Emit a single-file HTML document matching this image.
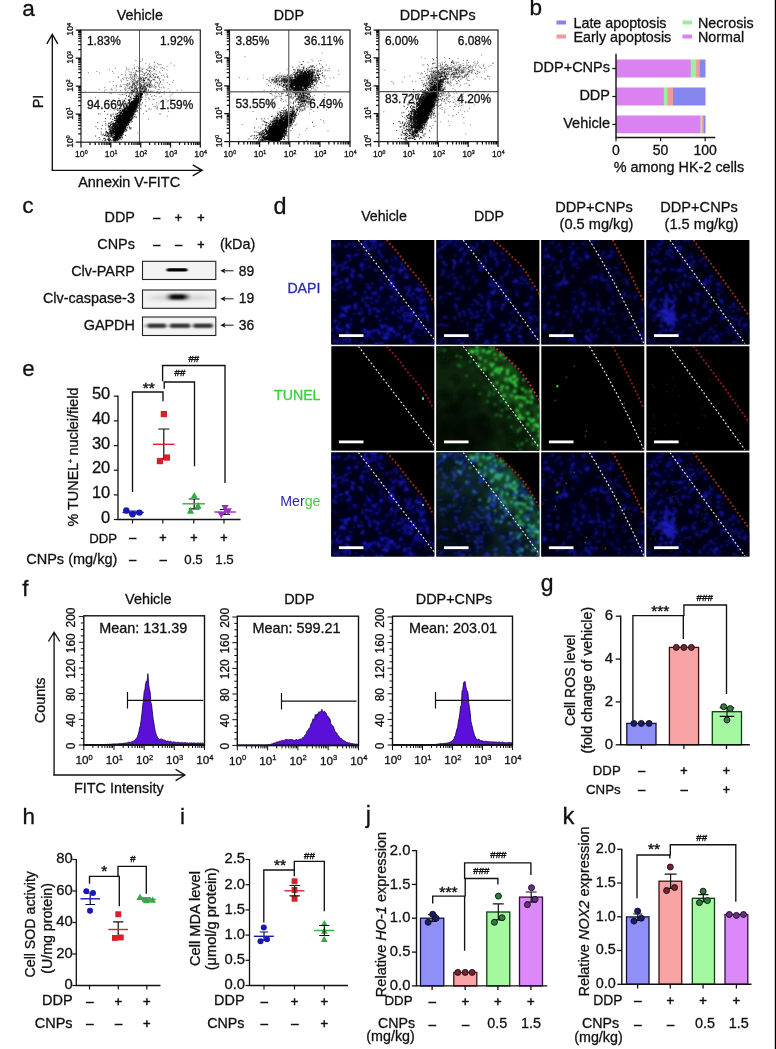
<!DOCTYPE html>
<html><head><meta charset="utf-8"><title>Figure</title>
<style>
html,body{margin:0;padding:0;background:#fff;}
body{width:776px;height:1049px;overflow:hidden;}
svg{display:block;font-family:"Liberation Sans",sans-serif;}
</style></head><body>
<svg width="776" height="1049" viewBox="0 0 776 1049">
<rect x="0" y="0" width="776" height="1049" fill="#fff"/>
<text x="22.2" y="15.8" font-size="22.6" text-anchor="start" fill="#111" stroke="#111" stroke-width="0.3">a</text>
<path d="M52.3 170.3V34.3M46.8 43.8L52.3 34.3L57.8 43.8" fill="none" stroke="#111" stroke-width="1.35"/>
<path d="M51.6 170.3H201.8M192.7 164.8L202.2 170.3L192.7 175.8" fill="none" stroke="#111" stroke-width="1.35"/>
<text x="43.2" y="101.5" font-size="14.3" text-anchor="middle" fill="#111" stroke="#111" stroke-width="0.3" transform="rotate(-90 43.2 101.5)">PI</text>
<text x="78.2" y="186.7" font-size="14.45" text-anchor="start" fill="#111" stroke="#111" stroke-width="0.3">Annexin V-FITC</text>
<text x="87" y="45" font-size="11.9" text-anchor="start" fill="#111" stroke="#111" stroke-width="0.3">1.83%</text>
<text x="193.8" y="45" font-size="11.9" text-anchor="end" fill="#111" stroke="#111" stroke-width="0.3">1.92%</text>
<text x="87" y="109" font-size="11.9" text-anchor="start" fill="#111" stroke="#111" stroke-width="0.3">94.66%</text>
<text x="193.3" y="109" font-size="11.9" text-anchor="end" fill="#111" stroke="#111" stroke-width="0.3">1.59%</text>
<path d="M154.4 65.2h1M143.3 85.3h1M127.2 83.4h1M131 93.8h1M143.2 78.4h1M149.6 84.8h1M141.2 80.5h1M121 81.2h1M140.4 61.6h1M143.8 80.4h1M156.1 74.4h1M153.1 79.6h1M141.8 71.8h1M149.5 76.7h1M126.5 80.4h1M140.6 74.5h1M141.6 71.4h1M140 78.7h1M151.5 85.6h1M136.9 85h1M166.1 74h1M148 73.3h1M140.5 92.2h1M153.9 79.7h1M152.5 87h1M133.1 72.4h1M161.5 84.6h1M124.3 84.8h1M149.8 76.4h1M146.7 86.1h1M146.2 69.9h1M138.3 91.9h1M130 77h1M119.4 86.5h1M128.8 84.3h1M137.9 80.7h1M159 71.9h1M158 76.5h1M134.2 78.9h1M105.5 89.8h1M145.4 88.4h1M147.9 82.5h1M110.5 89.8h1M129.7 87.1h1M136.7 71.4h1M142.4 79.9h1M149.4 91.8h1M158.7 83.6h1M148.7 86.7h1M129.5 86.2h1M163.5 68.6h1M134 84.1h1M126.6 84.1h1M132.4 76.7h1M124.6 87h1M131.8 88h1M149.7 76.7h1M146 69.4h1M158.1 86.1h1M151.2 91h1M136.5 66.3h1M139.3 83.3h1M143.1 79.3h1M142.8 85.4h1M152.9 69.9h1M137.7 78.4h1M147.3 70.3h1M144.6 73.6h1M139.8 88.6h1M132.8 74.3h1M153 75.7h1M133.3 79.7h1M159.3 64.6h1M132.5 82.6h1M125 93.1h1M143.3 79.2h1M150.7 67.6h1M148.9 67.6h1M136.3 90h1M142.1 58.9h1M147.7 87.1h1M141.3 68.9h1M126.5 77.7h1M130.9 72.8h1M150.3 75.2h1M166.9 76.2h1M128.8 68.9h1M125.7 67h1M142.5 87.6h1M140.7 79.1h1M143.9 80.7h1M159.1 93.2h1M134.5 83.8h1M167.7 88.3h1M139 89.4h1M131.4 77.6h1M143.4 68.2h1M132.9 80.1h1M154 69.5h1M134.6 73h1M125.9 70h1M143.2 80.3h1M142.8 72.9h1M163.1 75.2h1M135.2 77h1M133.3 95.2h1M152.2 79.9h1M157.1 83.6h1M104.1 87.7h1M139.8 67.9h1M147 76h1M149.1 80.7h1M144.6 89.5h1M149.1 84.1h1M134 76.4h1M154.5 84.2h1M167.3 77.5h1M149.6 70.3h1M143.5 78h1M161.8 67.5h1M150.1 91.7h1M129.4 74.1h1M145.3 86.3h1M133.5 84.4h1M148.9 74.9h1M155.1 82.6h1M154.4 80.3h1M133.9 68.5h1M142.2 80.8h1M139.1 83.5h1M157.9 64.8h1M149.6 76.3h1M154.2 77.1h1M145.9 75.6h1M138.9 67.8h1M160.5 64.5h1M113.4 73.1h1M150.7 80.9h1M138.5 71.8h1M154.1 69.9h1M142.7 79.3h1M151.6 77.9h1M130.9 87.5h1M138.6 78.1h1M172.1 82.3h1M147.2 79.1h1M142.2 69.2h1M156.9 77h1M136.6 91.7h1M137.7 71.2h1M136.3 75.8h1M149.1 74.7h1M154.8 77.2h1M132.9 91.3h1M153.3 79.5h1M135.5 75h1M127.7 69.8h1M150.4 81.6h1M130.9 74.3h1M127.4 88.6h1M140.7 78.5h1M140.4 77.1h1M136.7 82.1h1M155.6 71.1h1M132 69.1h1M115.8 86.1h1M147.5 70.7h1M143.1 82.4h1M148.7 79.4h1M152.5 99.1h1M147.3 84.4h1M151.4 71.4h1M150.9 80.5h1M147.1 81h1M144 80.3h1M126.2 68.6h1M154.1 92.5h1M154.9 87.1h1M139.2 85h1M133.8 80.1h1M139.7 91.6h1M140.2 77.4h1M164 77h1M126.8 86.8h1M150.9 84.2h1M130.9 78.4h1M140.4 78.4h1M134.7 88.1h1M137.2 82.2h1M136 78h1M146.8 74.2h1M148.7 84.8h1M125.4 78h1M140.9 79.1h1M126.8 85.4h1M134.7 88.4h1M136 92.9h1M139.8 71.3h1M131.9 81.7h1M126 78.8h1M166.8 82.7h1M135.4 70.5h1M145.4 77.9h1M115.6 88h1M149.7 66.5h1M150.2 82h1M135.9 95.5h1M125.3 75.5h1M142.2 90.1h1M160.8 87.7h1M157.5 78.1h1M143.9 73.9h1M141.8 69.9h1M141.8 82.3h1M135.5 92.7h1M130.4 75.2h1M148.7 67.1h1M173.9 65.7h1M149.8 87.8h1M133.7 64.9h1M147.9 79.2h1M148.6 92.7h1M133.1 92.3h1M112.7 81.6h1M153.5 78h1M147.3 86.1h1M145.2 72.9h1M157.2 63.5h1M147.4 79.3h1M131.8 87.2h1M147.6 73.8h1M138 67.9h1M149.1 77.7h1M138.4 80.1h1M131 90.3h1M146.5 83.1h1M135.2 72.1h1M136 71.1h1M137.9 69h1M150.2 91.2h1M157 77.3h1M116.1 85.8h1M145.5 88.8h1M132.3 78.1h1M156.5 67h1M154.2 67.8h1M111.2 93.6h1M148.6 98.8h1M148.9 71h1M132 85.4h1M129.2 83.3h1M140.5 80.2h1M127.4 80.6h1M134.9 74.3h1M147.8 89.7h1M122.7 84.3h1M134 78.2h1M151.1 77.1h1M122.2 94.3h1M150.2 85.7h1M155.1 76.9h1M149.2 84.7h1M145.5 101.8h1M137.3 76.5h1M131.4 89.1h1M140.2 79.7h1M129.5 77.8h1M118.2 77.5h1M125 90.7h1M159.7 82.7h1M120.1 85h1M131.6 91.2h1M133.6 87.7h1M130.8 90.7h1M162.5 79.4h1M155.9 86.9h1M150.3 87.2h1M134 76.9h1M138.2 96h1M134.4 83h1M150.1 85.3h1M137.1 80.6h1M120.5 86.3h1M129.8 79.6h1M139.9 81.6h1M110.9 88.9h1M138.2 88.1h1M137 90.9h1M141.9 74.6h1M149.5 81.8h1M160.4 68.2h1M129.4 84.2h1M120.8 86.3h1M147.5 68.4h1M139.2 94.4h1M136.2 70.7h1M140.3 70.3h1M148.4 65.9h1M149.8 82.8h1M141.7 60.1h1M138.1 95.2h1M166.6 70h1M134.3 86.5h1M120.3 80.1h1M144 84.1h1M136.5 84.5h1M154.8 77.7h1M160 81.4h1M134.3 85.6h1M134.4 82.5h1M151.5 67.8h1M125.1 74.3h1M139.1 68.2h1M140.5 86.6h1M149.7 72.8h1M135.2 81.4h1M142 77.3h1M121.8 94.5h1M141.2 77.9h1M137.8 94.5h1M158.5 77.7h1M124.8 72h1M153.2 68.7h1M150.4 73.1h1M128.7 83.1h1M144.2 74.2h1M148.9 85.7h1M134 84.4h1M140.2 87h1M120.5 94.9h1M144.9 79h1M151.9 91.7h1M134 74.9h1M118.5 94.4h1M117.7 76.8h1M142.5 84.1h1M143.1 80.1h1M150.1 68.5h1M151.8 74.4h1M149 71.5h1M159.2 89.4h1M145.2 78.3h1M143.5 81.3h1M139.1 76.7h1M143.3 78.4h1M130 92.7h1M135.1 95.4h1M136.2 87.9h1M122.2 100.1h1M136.2 85.8h1M166.6 66.4h1M132.2 86.2h1M129.8 89.1h1M136.7 81.5h1M131.6 76.1h1M145.3 63.7h1M123.2 79.5h1M139.4 92.9h1M140.4 92.9h1M135.3 60.3h1M153.9 62.4h1M159 87.2h1M145.9 77.6h1M148.5 86.1h1M112 71.4h1M155.4 73.8h1M134.5 80.3h1M123.6 77.2h1M143.4 80.5h1M135.7 81.9h1M143.4 82.5h1M152.7 75.2h1M141.5 86.6h1M153.8 66.5h1M153.2 91h1M134.7 74h1M139 70.6h1M133.9 75.7h1M152.3 96h1M136.4 83.1h1M134.9 88.6h1M161.2 75.5h1M153.5 87h1M115.8 90.4h1M147.5 83.9h1M146.1 72.4h1M135.5 81.9h1M129.6 74.7h1M162.2 70.5h1M136 86.8h1M135.8 74.5h1M128.6 71.8h1M125.7 84.2h1M154.1 62.6h1M134.3 75.6h1M170.5 63h1M112.9 85.3h1M173.1 80.4h1M156.5 92.1h1M162.6 80.8h1M149.4 70.7h1M108.8 99.7h1M148.1 89.9h1M142.6 86.9h1M158.9 79.2h1M128.3 78.4h1M156.7 77h1M143.6 75.5h1M137.1 90.3h1M148.4 80.8h1M122.2 78.4h1M146.2 77.5h1M132 84.1h1M147.7 74.4h1M132.4 89.3h1M144.9 77.5h1M153.9 85.5h1M149.1 64.1h1M152.7 75.9h1M154.9 86.3h1M130.6 82.2h1M130.8 96.9h1M142.6 87.8h1M136.3 93.6h1M147 85.1h1M139.2 95.1h1M141 85.7h1M136.4 81h1M140.2 91.7h1M131.6 90.8h1M146.3 88.2h1M136 89.2h1M142.2 89.1h1M137.1 84.3h1M137 88.5h1M139.1 84.1h1M145.7 88h1M143.9 85.1h1M132.2 93.3h1M131 92.4h1M146.9 92.7h1M129.3 88.9h1M133.9 86.2h1M130.2 92.2h1M125.2 98.8h1M138.4 81.6h1M145.6 83.3h1M133.2 92h1M124.3 89.1h1M144.9 87.6h1M149.2 87.2h1M141.5 89.1h1M127.2 91.8h1M128.6 87.3h1M132.1 90.3h1M134.2 89h1M132.1 87.1h1M140 85.9h1M132.4 81.6h1M134.3 91.6h1M141 85.7h1M128.8 93.4h1M137 92.6h1M140.3 91.4h1M138 92.7h1M145.7 84.3h1M138.7 85.7h1M141 86.4h1M140.7 85.3h1M123.7 94.3h1M128.4 88.6h1M138.9 88.6h1M128.2 103h1M131.6 92.8h1M125.9 85.3h1M139.6 86.9h1M132.6 92.1h1M136.7 90.2h1M135 85.4h1M127.4 92.5h1M145.5 89.4h1M136.8 89.9h1M129.2 88.1h1M133 85h1M139.7 87.7h1M139.2 88.4h1M125.6 88h1M136.6 82.9h1M125.5 89.8h1M141.4 85.7h1M125.8 94h1M133.9 90.7h1M139.1 91h1M136.3 88.4h1M144.8 84h1M151.6 85h1M133.8 84.1h1M127.6 90.6h1M140.3 88.9h1M132.7 83.4h1M134.1 88.4h1M136.8 82.5h1M129.2 99.3h1M130.6 93h1M138.5 83.3h1M132.5 83.6h1M135.2 85.8h1M131.4 87.4h1M130.9 86.1h1M137.7 78.9h1M137.1 93.3h1M140.7 84.4h1M136.9 94.2h1M145.1 92.4h1M132.4 85.7h1M134.8 87.2h1M138.4 84.5h1M141.2 82.6h1M137.5 93.4h1M136.8 91.1h1M136.6 82.5h1M142.5 88.1h1M138 87.4h1M132 84.9h1M139.5 84.9h1M135.9 100.8h1M130.9 86.3h1M135.9 88.7h1M134.7 87.1h1M133.5 82.1h1M136.9 89.3h1M142.9 81.1h1M139.6 84.1h1M136.2 87h1M139.6 86h1M124.5 88.9h1M135.6 91.4h1M136.7 91.5h1M132.6 90.9h1M142.2 86.4h1M142.2 91.3h1M143.2 89.7h1M142.1 88.5h1M136.4 94.2h1M130.8 92.6h1M132.4 91.7h1M144.6 87.5h1M135.6 89.3h1M133.8 90h1M136.1 83.7h1M133.7 90.9h1M133.7 84.3h1M131.5 90.4h1M139.8 83.7h1M135.4 93.7h1M128.4 95.4h1M138.7 94h1M141.1 84.9h1M136.8 90.6h1M140 87.6h1M140.6 88.1h1M145.7 90.5h1M127.8 85h1M139.1 79.2h1M131.4 87.9h1M140.4 81.8h1M133.1 83.5h1M141.7 91.2h1M149.5 80.2h1M144.9 86.6h1M139.7 92h1M162.7 101.2h1M156.8 107h1M126.2 92.7h1M137.4 93.5h1M164.1 91.9h1M169.4 91h1M155.5 96.4h1M156.5 93.3h1M141 99.3h1M143.6 75.4h1M167.6 100.7h1M161.5 109.6h1M150.1 82.6h1M151.2 86.7h1M147 94.2h1M159.5 113.5h1M139.9 83.7h1M140.5 89.2h1M172.4 93.8h1M163.4 92h1M144.2 93.6h1M158.5 103.9h1M148.6 108.5h1M148.1 98h1M143 113.7h1M158.2 85.6h1M141.1 98.3h1M147.8 119.2h1M176.6 90.3h1M133.6 89.9h1M158.6 84.4h1M159.9 91.3h1M169.4 96.2h1M156.3 105.1h1M138.2 97.7h1M156.9 109h1M155 88.3h1M137.6 102.3h1M173.4 100.1h1M157.7 89.6h1M153.9 95.5h1M158.3 93.6h1M155.8 108.3h1M156 102.7h1M166.6 76.4h1M168.1 111.6h1M163.6 94h1M140.8 108.8h1M165.4 99.9h1M151 96.7h1M166.9 116.1h1M167.7 100.8h1M146.3 93h1M159.5 114.5h1M159.3 97h1M140.7 104h1M132 94.2h1M170.3 98.9h1M148.5 109.5h1M145.1 106.5h1M149.9 83.3h1M163.1 87.1h1M139.4 92.4h1M144.7 105.5h1M160.8 96.3h1M181.1 90.3h1M147.3 91.8h1M137.4 94.1h1M170.6 94.8h1M144.4 89.2h1M138.3 96.4h1M145.4 95.7h1M141.9 93.9h1M156.2 82h1M147.1 94.3h1M132.3 106.9h1M157 107.2h1M152 104.3h1M156.8 91.3h1M145.5 92.8h1M145.3 97.3h1M157.4 91.5h1M156.7 82.4h1M144.6 99.6h1M129.2 93.9h1M139.6 104h1M145.4 94.8h1M149.1 99.8h1M153.4 99.5h1M124.5 117.7h1M112.9 121.9h1M143.8 83.8h1M139.6 94h1M111.7 90h1M98.9 73.1h1M130.4 72h1M109.3 81.8h1M160 82.2h1M131.3 80.6h1M115 68.2h1M99.6 113.7h1M125.5 113.8h1M163.6 87.9h1M108.9 69.8h1M154.8 106.8h1M159.4 78.7h1M113.9 110.1h1M131.9 79.3h1M159.6 72.9h1M114.4 132.1h1M87.9 72.8h1M148.3 78.7h1M124.9 98.5h1M135.7 91.7h1M126.8 117.5h1M94.9 97.2h1M121.5 74.5h1M101.5 135.8h1M161.9 106.2h1M109.6 93.2h1M158.9 80.4h1M144.3 83.2h1M118.6 98.4h1M134.1 67.3h1M133.2 104.4h1M122.2 104.8h1M104 90.9h1M153.5 106.5h1M134.7 80h1M110.6 101.6h1M96.3 71.5h1M162.8 103.6h1M169 84.6h1M84.7 91.2h1M130.5 90.9h1M140 108.2h1M150 94.3h1M166.7 102h1M137.2 133.1h1M111.6 114.3h1M145.6 111.3h1M150.6 109.1h1M146.1 111h1M98.7 89.4h1M119.9 90.7h1" fill="none" stroke="#000" stroke-width="0.9" stroke-opacity="0.55"/>
<path d="M110 133.6h1M126.5 124.9h1M123.2 111.9h1M123.9 113.3h1M132.9 109.3h1M139.6 96.6h1M123.5 125.2h1M114.5 132.1h1M116.5 128.2h1M111 128.9h1M118.7 131.2h1M125.2 118.5h1M129.5 114.8h1M131.5 115.9h1M127.7 116.4h1M124 125.4h1M128.5 100.1h1M127.9 108.7h1M127.7 115.4h1M111.6 128.9h1M128.2 124.6h1M115.4 131h1M122.4 121.5h1M135.3 108.8h1M125.6 119.9h1M125.9 124.2h1M126 120.3h1M125.9 122.3h1M122.2 118h1M134.5 96.8h1M125.3 116.5h1M123.4 131.2h1M126.3 114.7h1M120 128.8h1M124.5 118.6h1M123.8 127.8h1M126.1 116.4h1M113.9 130.3h1M128.2 110.1h1M129.3 112h1M128.4 115.2h1M121.5 123h1M125.9 120.4h1M141.8 94.1h1M121.4 135.8h1M122.3 118.9h1M125.9 117.6h1M126.8 116.3h1M127.2 120.6h1M136.6 101.2h1M136.8 103h1M133.5 106.7h1M127.9 117.6h1M119 129.2h1M119.7 132.1h1M127.6 117.4h1M120.5 120.9h1M130.6 108.2h1M123.9 121.3h1M128.4 114.2h1M114.4 127.5h1M131.2 107.9h1M120.8 119.7h1M132 109.6h1M115.8 121h1M136.1 99.4h1M115.6 130h1M117.7 130.9h1M117.5 122.3h1M127.5 110.4h1M113.7 139h1M117.9 122.4h1M111.3 134.7h1M119.6 124.3h1M124.3 125.8h1M132.6 108.1h1M127.8 112.3h1M116.8 135h1M132.9 103.6h1M118.2 124.7h1M117.7 133.6h1M120.9 132.2h1M136.3 101.6h1M122.3 117.8h1M131.3 109.6h1M111.6 132.3h1M127 113.2h1M128.5 114.6h1M134.5 103.8h1M133.7 108.8h1M133.2 104.6h1M131.1 118.6h1M122 119.8h1M122.5 115.5h1M118 127h1M125.1 123.1h1M117.3 130.1h1M126.1 115.7h1M133.3 113.2h1M114.8 128.3h1M120 123.2h1M122.4 125.2h1M139.3 102.3h1M118.3 115.8h1M135.6 102.6h1M124.5 124.6h1M123.8 119.8h1M121.3 129.3h1M128.7 108.8h1M123.9 126.4h1M119 125.6h1M119.3 126.5h1M131 110h1M132.6 109h1M111.8 140.2h1M120 116h1M130.3 110.7h1M122.9 124.9h1M132.5 109.5h1M121.6 124.4h1M139.6 92.1h1M125.8 118.3h1M135.8 103.7h1M125.8 116.1h1M133.5 106h1M124.9 120.2h1M129.8 111.8h1M128.2 117.1h1M119.6 126.1h1M126.8 119h1M127.6 112.3h1M117 129h1M123.6 125.3h1M129.5 112.4h1M113.2 127.2h1M127 118.3h1M127 114.6h1M123.8 109.7h1M134.7 108.1h1M126.8 117.4h1M125.4 122.2h1M117.1 127.3h1M123.9 112.3h1M129.2 114.3h1M123.6 118.2h1M135.8 100h1M127.6 118.2h1M126.9 120.3h1M125.7 119.2h1M126.3 119.8h1M122.7 126.9h1M129.6 106.6h1M109.9 131.3h1M121.3 128.2h1M128.8 120.3h1M132.6 100.5h1M121.7 122.5h1M136.7 102.7h1M129.4 108h1M136.8 96.5h1M122.5 116.9h1M119.8 128.7h1M120.7 129.3h1M128.7 113.6h1M131.1 113.3h1M129.8 105.9h1M130.8 112.9h1M121.5 122.1h1M134 106.8h1M128.4 119.1h1M133.7 110.7h1M124.5 124.2h1M109.3 138h1M134.4 100.3h1M123.1 119.9h1M130.1 115.1h1M135.5 102h1M128.8 116.3h1M132.3 106.4h1M131.1 102.8h1M123.1 113.6h1M119.5 122.2h1M138.7 101.5h1M130.6 111h1M104.9 134.8h1M127.6 117.8h1M126.7 112.4h1M121.2 127.8h1M140.9 95.5h1M124.6 119.2h1M128.6 114.7h1M119.2 136.1h1M129.1 114.7h1M124.3 125h1M130.2 107.3h1M130.3 107.2h1M115 139.6h1M116.6 128.1h1M118.8 128.6h1M123.1 122.9h1M130.8 115.6h1M129 114.7h1M129.7 114.6h1M131.6 109.8h1M113.9 128.9h1M126.2 115.4h1M120.8 122.2h1M122.6 127.9h1M127.2 108.8h1M126.4 117h1M124.1 125.1h1M127.5 115.7h1M121.5 129.2h1M127.3 116.7h1M123.6 128.1h1M108.9 133h1M116.5 128.6h1M123.4 122.7h1M134.8 105.2h1M125.6 117.4h1M129 115.8h1M123.8 128.8h1M126.6 120h1M125.1 124.7h1M132.4 108.6h1M128.6 111.9h1M121.6 129.9h1M115.3 130.3h1M113.9 128.9h1M124 124.3h1M120.3 130.1h1M109.4 136.2h1M120.8 128.9h1M129 102h1M128.4 119.9h1M128.1 120.5h1M133.2 107.1h1M113.3 132.1h1M133.7 101.7h1M116.4 129.3h1M133.7 105.8h1M112.6 133.4h1M131.3 112.9h1M135.9 103.3h1M125.7 112.4h1M116.8 122h1M125 120.9h1M122.7 116.7h1M130.4 113.9h1M128.6 103h1M130.3 114.3h1M130.1 111.4h1M126.2 115.9h1M117.3 123.9h1M145.9 85.5h1M129.7 113.7h1M131 109.5h1M134.1 110.9h1M119 124.4h1M117.3 128.6h1M117.8 132.3h1M131.4 113.1h1M132.9 105h1M124.2 115.5h1M125.8 118.4h1M128.4 113.6h1M120.3 131.5h1M120 117.7h1M115.5 137.9h1M115.1 138.6h1M135.8 103.5h1M131.4 111h1M121.7 125.5h1M114.4 139.4h1M129.7 112.4h1M132 107.4h1M117.2 138.9h1M124.1 116.8h1M120.6 123.6h1M122.9 114.5h1M124.9 117.2h1M128.7 111.7h1M127.1 110.9h1M126.7 114.7h1M132.7 108.2h1M130.8 107.6h1M121.2 125.2h1M117.5 129.1h1M131.2 104.4h1M121.7 125h1M138.2 103.4h1M120 123.8h1M125.1 115.1h1M113.6 140.5h1M128.1 115.4h1M129.1 113.5h1M122.3 126.3h1M125.3 119.5h1M118.3 130.5h1M122.3 117.9h1M118.7 126h1M123.4 117.7h1M118.2 130.5h1M118 132h1M118.9 127.5h1M127.5 104.2h1M114.4 131.6h1M121.5 118.8h1M116.8 127.4h1M118.8 129.6h1M120.2 125.8h1M126.6 119.3h1M119.7 124.6h1M122.1 110.9h1M122.9 116.7h1M130.1 109.5h1M121.5 129.4h1M118.7 122.9h1M122.9 111h1M125.3 121.6h1M119 133.3h1M121.5 121h1M117.5 138.3h1M133.2 104.7h1M122.3 111.9h1M126.3 118.7h1M118 125.5h1M121.3 119.5h1M115.9 137.5h1M131.6 110.5h1M131.3 112.5h1M113.5 116.3h1M123.6 117.8h1M118.6 131.7h1M114.2 126.8h1M140.2 93.9h1M127.1 118h1M128.8 112.7h1M128.2 113.6h1M121.3 123.2h1M130.2 113.3h1M123.9 112h1M124.6 121.9h1M123.5 123.6h1M127.9 119h1M133 108.6h1M121.1 123.9h1M123.7 123.1h1M128.6 110.4h1M132.7 108.4h1M110 139.5h1M122.3 119.1h1M125.6 118h1M123.7 119.5h1M125.4 115.1h1M124.1 110.4h1M124.2 117.4h1M123.2 123.3h1M110.2 118.7h1M114.9 133.6h1M121.8 120.9h1M122.3 126.5h1M122.1 117h1M121.4 129.1h1M126.5 118.3h1M125.7 119.1h1M118.4 122.5h1M115.7 127.1h1M137.3 101.2h1M125.2 118.2h1M116.4 136.8h1M116.2 138.4h1M117.3 121.3h1M132.8 102.6h1M122.9 121.5h1M116.5 135h1M115.8 132.3h1M121.1 132.8h1M127.9 120.1h1M122.2 124.8h1M128.8 113.6h1M125.4 123.1h1M127.8 115.2h1M123.8 106.3h1M119.4 130.3h1M122 122.2h1M114.2 133.3h1M133.1 104.2h1M117.6 128.7h1M130.6 107.2h1M115.1 136.2h1M123.2 122.8h1M109.5 133.8h1M123.8 122.6h1M138 101.9h1M133.8 108h1M132.8 108.8h1M128.3 111.8h1M124.4 125.6h1M115.5 129.7h1M124.1 121.6h1M119.2 125h1M117.4 125.5h1M128.7 126.8h1M122.6 134.3h1M117.5 132.1h1M125.8 120.4h1M119.8 120h1M120.5 124h1M115.2 134.1h1M121.4 115.3h1M118.3 133.7h1M116.6 127.3h1M119.2 123.8h1M129 113.7h1M138.4 96.8h1M125.7 114h1M127.8 106.9h1M119 127.1h1M144.8 91.2h1M138.1 98.5h1M116.4 135.8h1M130.7 106.9h1M139.9 99.9h1M112.5 135.4h1M122.7 121.2h1M124.3 120.6h1M128 124.5h1M118.1 121.3h1M134.1 107.6h1M114.5 128.7h1M111.8 123.2h1M117.6 133.3h1M115.6 132.1h1M121.5 120.7h1M128.6 114.3h1M133.8 106.4h1M124.4 127.2h1M128 116.3h1M126.2 115.4h1M121.6 130.2h1M119.3 126h1M132.3 110.7h1M128.7 120.8h1M127.9 123.8h1M134.5 104.8h1M125.7 122.6h1M115.8 137.6h1M131.9 113.3h1M134.8 104.6h1M125.8 112.4h1M126.8 112h1M120.1 135.5h1M136.7 100.4h1M131 118.1h1M119.7 135.1h1M124.3 122.9h1M127.3 121.4h1M132.8 106.1h1M134.3 107.3h1M132.3 102.9h1M131 109.9h1M122.5 113.5h1M139.3 96.5h1M124.2 111.7h1M124.3 121.3h1M122.8 115.6h1M126.4 114.6h1M128.4 107.8h1M130.7 105.2h1M118.9 131.3h1M129.9 113h1M120.6 124.2h1M121.5 129.9h1M108.6 134.2h1M118.6 131.9h1M117.2 135.6h1M106.8 132.3h1M128 115.9h1M125.2 124.4h1M120.7 122.5h1M126.4 122.4h1M127.4 122.8h1M135.6 105.4h1M133 110.6h1M122 109.9h1M126.1 116.9h1M110.4 126.7h1M122.9 115.5h1M122.7 117.4h1M124.7 113.8h1M126.7 116.5h1M121.3 123.3h1M119.4 111.4h1M112.8 139.3h1M125.8 119h1M124.7 113.7h1M134.7 106h1M126.8 115h1M118.4 125.1h1M127.9 115.1h1M131 110.6h1M124.4 125h1M110.5 130.5h1M126.4 114.2h1M109.9 130.2h1M127.5 120.4h1M134.4 104h1M120.9 120h1M137.5 99.1h1M124.1 123.8h1M132.8 107h1M130.6 104.4h1M129.1 114.9h1M128.9 115.3h1M127.3 117.7h1M108.2 139h1M128.1 108.3h1M123.4 130.8h1M126.1 118.6h1M130.4 116.7h1M120.8 120.1h1M129.2 117.6h1M113 137.3h1M122.9 123.3h1M130 112.4h1M113.9 134.8h1M124.2 120.3h1M131.5 107.4h1M120.5 125.3h1M126.6 119.4h1M108.2 133.4h1M126.3 120.9h1M125.3 119.8h1M136.9 100.8h1M127 115.9h1M132.3 109.2h1M124.8 122.4h1M126.9 113.5h1M133 113h1M114 127.9h1M123.9 119.8h1M126.7 116.4h1M128.1 118.5h1M129.1 102.7h1M128.9 113.3h1M128.9 113.4h1M127 114.8h1M120.4 125.4h1M130.6 110.5h1M126.9 121.1h1M128.8 108.6h1M119.4 126.9h1M130 114.9h1M117.1 138.7h1M126 118.6h1M131.1 110.5h1M128.1 117.9h1M130.5 105.1h1M110.5 132.8h1M126.3 115.8h1M122.4 120.1h1M120.7 128.5h1M125.5 119.7h1M131 114.7h1M138.3 96.2h1M134 105.6h1M129.9 115.4h1M121 124.8h1M132.5 109.3h1M137.9 100.3h1M125.8 117.4h1M124.4 109.7h1M134.2 105.7h1M121.4 125.6h1M125.7 111.3h1M125.8 106.3h1M134.2 103.4h1M126.2 115.9h1M123.1 126.4h1M118.6 128.9h1M125.6 111.3h1M127 111h1M130.2 109.3h1M133.7 105.4h1M120.6 130.7h1M134.3 107.2h1M111.3 131.7h1M132 109.7h1M122.6 121.8h1M120.1 113.3h1M112.7 128.6h1M131.2 107.6h1M110.7 140.5h1M120.5 121.3h1M112 131.9h1M125.9 115.1h1M132.1 112.2h1M117.8 119.3h1M118.9 129.4h1M129.7 110.9h1M125.3 119.8h1M134.1 106.9h1M120.8 121.6h1M123.1 118.2h1M120.8 130.7h1M123.3 115h1M125 112.9h1M112.8 125.4h1M115.5 130.3h1M126.5 116.3h1M127.1 116.2h1M124.3 125.2h1M114 128.3h1M138.8 97.9h1M130.8 119.5h1M121.3 132.6h1M124.3 119.1h1M118.3 129.3h1M130 111.3h1M122.7 124.6h1M133.5 106h1M121 122.7h1M126 114h1M133.2 103.7h1M131.8 107.6h1M127 109.6h1M120.5 119.3h1M119.8 127.2h1M121.5 134h1M137.2 102.1h1M123.4 117.9h1M115.7 138.2h1M117.1 131.3h1M121.1 125.4h1M136 101.5h1M125.5 122.1h1M115.1 120.4h1M119.1 126.6h1M121.9 128.5h1M130.7 105.2h1M125.8 118.9h1M120.2 122.1h1M126.9 113.8h1M137 100.1h1M125.5 119.2h1M125.3 116h1M130.2 113.8h1M127.2 117.2h1M114.3 132.5h1M124.7 117.6h1M132.8 108h1M122.9 118.1h1M121.7 122.6h1M133.7 100.3h1M130.3 108.8h1M136.8 102.8h1M120.2 128.5h1M117.4 134.8h1M120.9 118.4h1M125.8 120.2h1M141.9 94h1M127.4 115h1M103.9 138.4h1M104.3 140.4h1M133.3 109.8h1M125.8 115.4h1M133.1 113.9h1M128.4 118.9h1M132.3 103.8h1M123.6 116.2h1M126.1 114.9h1M120.4 129.7h1M124 119.3h1M131.5 110.4h1M135.6 107.5h1M117.9 132.8h1M115.6 138.9h1M136.2 97.8h1M134 106.9h1M121.6 111.2h1M116.8 129.2h1M125.8 118.5h1M130.7 110.7h1M120.8 119h1M119.4 126.6h1M139.3 95.3h1M126.3 121h1M131.3 111.2h1M128.4 119.8h1M124 126.8h1M135.7 103h1M119.5 123.3h1M121.3 112.7h1M131.8 104.4h1M118.1 132.6h1M123.1 116.7h1M131.3 103.7h1M116 121.6h1M137.3 101.1h1M116.8 134.8h1M118.2 123.6h1M117.8 116.9h1M126.5 117h1M133.3 102.3h1M112.2 131.3h1M122.9 126.2h1M140.4 96h1M124.9 112.6h1M111 130.8h1M131.2 113.2h1M119.6 118.7h1M130 110.8h1M114.7 123.3h1M116.6 140.5h1M122.6 124.4h1M129.7 114.8h1M139.6 95.6h1M131.2 105.3h1M115.6 134h1M105.6 135.4h1M121.3 128h1M117.9 117.9h1M123.2 118.3h1M119.7 123.3h1M125.8 121h1M128.6 113.7h1M114 124.2h1M139.2 100h1M114.8 137.5h1M128 115h1M125.2 116.4h1M135 104.3h1M132.2 108.8h1M125.2 116.1h1M129.1 103.7h1M133.8 104.4h1M125.4 115.4h1M109.2 135.7h1M126.7 113.9h1M126 112.5h1M112.9 137.3h1M119.8 122h1M130.9 101.6h1M125.1 117.2h1M134 105.4h1M127.9 115.6h1M126 116.3h1M125.6 121.7h1M138.3 94.8h1M123.7 114.5h1M139.5 100h1M129 117.9h1M123.2 114.6h1M134.1 98.5h1M120.7 131.5h1M131.9 110.3h1M120.4 121.5h1M120 133h1M132.1 115.3h1M129 114.8h1M120 123.7h1M126.4 112.3h1M133.5 109h1M118.2 133h1M127.2 116.6h1M125.1 123.9h1M127.7 117.4h1M126 113.9h1M121.1 133.4h1M136.6 100.9h1M134.1 108.7h1M136.3 103.8h1M125.7 121h1M122.4 124.5h1M113.2 125h1M113.7 124.9h1M129.1 115.2h1M126.2 112.8h1M121.1 116.8h1M128.9 115.2h1M136.1 97.8h1M123.9 120.3h1M140.9 94.5h1M124.3 111.6h1M128.1 122.8h1M135.1 105.1h1M119.9 121h1M125.2 115.3h1M139.3 94.8h1M123.5 124.9h1M124.4 114.7h1M113.4 130.7h1M134.5 101.7h1M125.8 121.6h1M136.8 102.7h1M126.2 113.8h1M119.6 128.7h1M125.3 119.8h1M105.8 136.5h1M132.5 111.9h1M122.8 114.9h1M127 111.2h1M122.6 121.3h1M131.8 111.9h1M126.8 110.9h1M131.2 107.1h1M117.5 135.8h1M135.9 98h1M120.8 121.7h1M124.4 125.2h1M130.9 110.5h1M124.3 115.8h1M119.6 122.9h1M130.2 113.3h1M124.2 123.5h1M123.9 130.3h1M116.3 128.7h1M126.1 120.7h1M124.6 114.6h1M130.3 113.6h1M110 125.5h1M126.4 111.2h1M134.3 109.8h1M134.1 105.8h1M130.5 109.7h1M119.2 127.6h1M122.9 123.6h1M113.6 128.5h1M126.1 118.1h1M127.1 119.4h1M117.1 135.1h1M123.4 121.6h1M132.5 107.8h1M133.3 111h1M119.4 116h1M120.3 123.4h1M124.3 115.3h1M126.6 117.7h1M116.7 122.3h1M121.5 128.1h1M143.5 84.8h1M123 127.4h1M120.9 126.1h1M122.3 123.5h1M124.4 114.2h1M113.4 126h1M130.6 119.1h1M132.6 106.8h1M134.5 106h1M121.2 120.9h1M123.8 116h1M125.8 119.7h1M112.7 129.1h1M120.7 120.4h1M125.1 120.4h1M128.6 116h1M126.2 118.5h1M124.6 120.3h1M124.7 119.8h1M123.6 122.8h1M132.4 111.6h1M136.4 103.1h1M116.7 122.5h1M113.6 134.7h1M128.1 118h1M125.9 118.1h1M118.8 132.5h1M136.8 98.9h1M139.8 97.3h1M121.1 128.4h1M127.4 116.9h1M118.1 132.1h1M128.2 107.9h1M130.3 115.1h1M125.4 114.4h1M125.2 122h1M128.6 113h1M118.6 124.2h1M120.3 118.6h1M130.8 116.8h1M123.7 121.1h1M127 118.4h1M124.5 122.3h1M115.8 125.3h1M122.3 125.8h1M118.5 124.1h1M121 113h1M114.5 118.8h1M124.7 127.7h1M116.9 137.8h1M119.3 124.2h1M126.3 125.1h1M121.6 125.1h1M121.1 123.5h1M130.4 111.7h1M123.9 116.6h1M125.8 116.6h1M125 119.6h1M117.4 121.8h1M122.8 111.7h1M129.6 108.9h1M121.2 129.9h1M121 125.9h1M120 129.1h1M126.6 115.2h1M118.8 118.3h1M131 106.4h1M122.7 119.5h1M126.1 116.2h1M121.7 122.4h1M129 118.4h1M119.9 132.2h1M126.5 118.6h1M122.6 127.3h1M125.3 108.3h1M117.6 139.5h1M120.5 124.6h1M115.1 134.8h1M124 117.6h1M133.1 105.5h1M130.7 110.4h1M125.5 116.7h1M124.1 126.6h1M134 108.3h1M119.3 125.1h1M125.1 116.8h1M131.5 114.2h1M120.1 124h1M117.9 136.6h1M126.9 117.5h1M120.8 126.1h1M121 120.8h1M130.5 114.8h1M132.6 105.7h1M144.4 86.8h1M121.3 116.4h1M123.9 122.3h1M120.8 125.3h1M117.2 128.2h1M115.3 130.8h1M107.4 139h1M121.6 123.6h1M130.9 104.6h1M122 127.6h1M117.7 127.8h1M100.9 128.8h1M139.9 97.2h1M138.2 98h1M116.5 134.6h1M119.4 129.2h1M128.5 115.6h1M120.1 127.6h1M129.6 116.5h1M126 125.2h1M129.8 112.9h1M121.8 125.9h1M126.6 111h1M129.7 112.7h1M120.8 120.2h1M125 121.9h1M136.5 101.4h1M124.2 123.3h1M132.4 109.8h1M116.4 116h1M126.1 117.1h1M117.7 131.1h1M117.4 128.8h1M131.9 105.5h1M124.3 120.3h1M105.3 133h1M120.9 121.9h1M125.5 117.1h1M126 115h1M126 114.5h1M129.2 114.7h1M114.9 135h1M122.6 123h1M136 99.3h1M124.4 121.2h1M128.6 112.6h1M134.6 111.8h1M122.4 129.2h1M134.8 100.3h1M124.7 111.9h1M125 115h1M128 112.4h1M134.8 107.1h1M136.2 101.2h1M122.2 121.6h1M120.8 125.2h1M117.7 128.8h1M131.8 111.5h1M123.7 112h1M137.1 104.6h1M129.9 109.4h1M129.3 112.1h1M117.5 136.9h1M131.6 110.4h1M129.8 111.8h1M120.6 133.3h1M122.1 121.7h1M124.1 111.1h1M124.8 121.9h1M116.2 116.6h1M127.8 118.1h1M121.6 135.7h1M126.5 117.1h1M129.8 115.1h1M126.8 116.1h1M124.3 113.2h1M135.6 96.4h1M121.9 119.1h1M125.9 117.5h1M131.9 108.1h1M127.2 124h1M118.7 129.4h1M124.7 123.8h1M127.3 120.1h1M121.1 126.9h1M129.1 113h1M122.9 113h1M127.9 113.3h1M135.9 98.3h1M120 137.2h1M137.6 98.6h1M109.6 137h1M127.9 116.3h1M133.3 109.6h1M129 112h1M136.1 105.9h1M126.7 114.4h1M130.7 110.9h1M125.3 119.3h1M134.8 108h1M132.5 108.7h1M118 119.3h1M124.8 121.6h1M120.5 128.4h1M120.5 127.6h1M130.1 111.5h1M127.3 110.2h1M124.6 117.4h1M125.7 118.2h1M124.2 115.9h1M116.5 119.8h1M115.7 116.5h1M130.4 117.4h1M120.7 123h1M126.5 118.5h1M128.8 110.5h1M124 122.5h1M124.7 112.5h1M131.1 115.4h1M112.1 136.1h1M120 120h1M120.2 135h1M127.2 117.4h1M128.8 107.1h1M132 105.3h1M132.2 107.8h1M134.9 105.1h1M126.8 120.2h1M122.5 126.1h1M115.8 132.8h1M138.7 99.5h1M121.7 130.6h1M124.1 122.5h1M124.1 123.3h1M124.6 125.8h1M121.5 120.8h1M118.3 120.3h1M131.4 112.8h1M134.9 104.9h1M126.7 121.8h1M133.6 103h1M115.4 130.6h1M127.2 120h1M133 107.8h1M132.4 106.5h1M118 115.6h1M121.3 123.6h1M132.9 106.4h1M123.4 122.6h1M116.8 118.5h1M120.6 125.3h1M122.1 119.6h1M123.5 124.1h1M114.8 133.4h1M120.8 124.4h1M126.8 119h1M111.7 126.7h1M126.7 117.1h1M119.9 125.8h1M122.7 129.2h1M137.7 101.8h1M119.1 132h1M127.7 115.5h1M123.6 119.9h1M119.3 123.5h1M124.8 130.1h1M127.2 112h1M122.1 126.2h1M138.9 101.1h1M114.4 125.7h1M121.8 125.8h1M120 123.2h1M136.8 96.1h1M129.4 111.6h1M125.1 127.2h1M117.6 132.5h1M122.1 119.3h1M122.7 123.4h1M142.7 92.2h1M119.2 118.8h1M128.1 117.3h1M141.9 88.5h1M108.8 129.4h1M117.8 136.6h1M122.4 118.7h1M126 117.3h1M126.3 121.7h1M130.1 109.4h1M134.7 106.8h1M122.2 120.7h1M119.7 121h1M129.1 101.5h1M120.2 120.1h1M123.4 123.5h1M133.1 108h1M131.5 112.5h1M128.9 117.2h1M129.5 108.5h1M129.2 110.5h1M133.6 109.1h1M117.6 134.1h1M117.1 127.7h1M123.2 124.4h1M129.6 111.9h1M126.9 103.2h1M119.4 123.9h1M126.1 115.9h1M131.1 107.7h1M112.4 123.8h1M112.1 137.7h1M126.7 110.7h1M128.4 111.6h1M132.7 111h1M125.8 112.6h1M132.4 108.2h1M126.3 118.8h1M131.5 112.8h1M119.3 134.3h1M129 117.6h1M126 120.9h1M133.4 109.9h1M125.9 123.7h1M118.1 121.5h1M115.4 124.4h1M135.7 104.9h1M112.3 137.6h1M127.3 116.4h1M119.5 123h1M130.7 109.9h1M120 128.5h1M120.1 125.2h1M129.9 110.5h1M140.1 91.2h1M122 131.2h1M126.2 116.5h1M131.2 108.6h1M122 131h1M126.3 118h1M126.3 117h1M116.1 125.6h1M116.4 137.5h1M125.2 117.7h1M110.2 130.9h1M123.2 123.5h1M123.9 120.5h1M121 129.2h1M129.2 117.2h1M126 111.7h1M120.5 125.2h1M132.8 107.2h1M127.6 120.5h1M132 110.3h1M113 136.8h1M139 98.5h1M135.9 107.1h1M125.6 107.6h1M127.2 114.8h1M121.5 129.4h1M123 128.1h1M126.9 113.3h1M123.4 130.1h1M124.5 121.5h1M122.6 117.6h1M122.5 122h1M111 134.7h1M120 128.8h1M122.7 115.2h1M121.4 125.5h1M113.8 123.7h1M130.9 110h1M121.5 121.5h1M126.3 114.7h1M127.3 119.7h1M136.4 105.4h1M118.5 129.3h1M112.6 129.8h1M114.5 132.6h1M119 121.6h1M125.5 120.6h1M119 122.6h1M129.7 110.6h1M123.6 114.8h1M130.1 113.9h1M114.3 127.4h1M123.6 124h1M131.7 112.2h1M112 124.1h1M119.4 128.5h1M124.3 112.2h1M123.7 118.9h1M125.7 112.8h1M122.9 120.3h1M126.9 116.4h1M128 115.2h1M128.2 109h1M148.6 83.9h1M117.5 134.3h1M119.3 122.4h1M127.9 103.2h1M121 127.9h1M116.2 137.8h1M122.1 123.8h1M135 103.7h1M133.7 109.4h1M120.2 124h1M134.9 105.2h1M137.8 104.9h1M119.1 128.1h1M124.7 111.9h1M113.4 125.6h1M123.5 122.1h1M139 103.3h1M123.7 120.3h1M127.7 116.4h1M127.3 121.2h1M131.7 105.9h1M136.6 104.8h1M120.3 122.6h1M123.8 117.1h1M116.8 127.4h1M138.8 100.6h1M128.7 116.5h1M119.8 123.2h1M130.5 112.1h1M119.4 134.3h1M108.1 140h1M134.9 107.5h1M143.8 88.9h1M125.1 121h1M122.7 116h1M122.2 121.3h1M131.2 108.4h1M126 117.7h1M125.1 123.4h1M123.1 124.5h1M133.2 105.7h1M131.5 106.6h1M123.4 113.1h1M133.4 109.4h1M120.2 116.2h1M123.2 122.3h1M128.6 102.5h1M127.2 116.3h1M116.9 135.6h1M115 138.3h1M129.5 107.3h1M114.5 128h1M123.1 124.5h1M128.5 111.4h1M126.1 111.3h1M119 116.8h1M131.9 102.4h1M122.7 130.4h1M129.2 107.2h1M135 111.6h1M124.5 114.2h1M124.6 127.4h1M119 122.7h1M139.7 91h1M113.7 123.7h1M118.9 125.3h1M124.3 111.6h1M128.1 110.9h1M133.5 103.2h1M119.4 115.3h1M114.3 139.1h1M136.1 95.6h1M122.6 121.6h1M126.6 119.3h1M130.4 113.2h1M140.7 96.8h1M111.7 135.7h1M125.9 113h1M116.7 120.7h1M122.2 133h1M125.7 117.7h1M127.2 111.4h1M127.2 115.3h1M127 110.4h1M126 122.3h1M126.3 111.8h1M113.4 140.8h1M126.1 114h1M118.3 129.4h1M127.8 117.1h1M128.9 114.5h1M121.5 126.5h1M123.4 118.9h1M130.4 119.9h1M120.5 124.5h1M125.3 117.8h1M124.9 121.5h1M120.1 129.8h1M130.5 107.5h1M136.2 96.1h1M128.4 114.3h1M125.1 114.4h1M116.6 134.4h1M115.4 139.2h1M130.5 111h1M130.4 111.7h1M126.8 116.4h1M120.1 125.7h1M123.2 118.2h1M121.2 117.1h1M127.6 114.7h1M109.4 140.9h1M117.8 129.6h1M134.6 100.5h1M123.7 115h1M124 123.8h1M127.7 114.7h1M132.8 110.1h1M135.8 95.4h1M109.9 131.9h1M121.8 128.4h1M123.9 117.1h1M119.9 120.2h1M131.5 109.8h1M119 116.6h1M115.9 122.5h1M122.5 125.9h1M120.8 128.9h1M122.6 131.4h1M122.3 119.8h1M131.5 111.7h1M114.2 126.8h1M118.7 132.1h1M119.1 124.8h1M124.9 114.2h1M128.4 115.4h1M117.6 124.1h1M129 104.5h1M129.3 118.8h1M117.7 122h1M129.2 112.6h1M120.3 129.1h1M126.5 122.3h1M127.6 110.1h1M130.3 112.2h1M120.4 119h1M130.4 111.5h1M118.9 127.7h1M128.5 117.1h1M137.3 103.1h1M123.9 125.3h1M117.5 130h1M127.9 113.2h1M121.4 125.1h1M135.5 104.2h1M122.5 129.5h1M123.5 121.9h1M126.8 117h1M117.5 127.4h1M125.2 122.2h1M115.1 139.3h1M132.4 102.3h1M123.6 118.2h1M119.6 134.3h1M130.6 115.6h1M136 104.9h1M126.3 120.2h1M128.1 113.9h1M128.4 111.1h1M125.5 120.7h1M131.7 109.7h1M120.4 127.9h1M139.2 97h1M127.4 109h1M128.4 115.5h1M121.3 125.5h1M125.5 121.2h1M122.1 114.4h1M132.9 114.4h1M111.6 131.1h1M118.4 122.5h1M118.8 130.1h1M140.5 96.7h1M124.5 121.3h1M131.2 111.3h1M119.8 119.4h1M122.2 132.6h1M130.4 111.7h1M128.9 109h1M122.8 123.3h1M112.8 130.6h1M125.7 115.5h1M110.9 134.3h1M126.7 114.9h1M136.1 106.2h1M121.5 128h1M122.6 118.4h1M131.8 111.8h1M107.1 133h1M134 107.5h1M132.7 109.9h1M118.1 124h1M121.1 128.3h1M126.6 107.3h1M115.9 136.2h1M119.5 130h1M115.2 127.1h1M118.6 130.9h1M127.2 111.8h1M121.4 122.2h1M127.1 115.8h1M124.2 116.7h1M124.6 119.4h1M124.8 120.7h1M118.5 132.7h1M133.7 105.9h1M117 138.1h1M124.2 121.1h1M129.4 119.8h1M118.9 129.5h1M124.5 123.2h1M132.1 111.2h1M128.2 115.7h1M129.1 114.9h1M127.6 112.8h1M141.5 94h1M123.8 114.2h1M125.1 119.3h1M121.6 126.2h1M118.8 135.9h1M106.8 133.1h1M121.1 113h1M132.4 109.9h1M126.3 108.5h1M125.5 112.7h1M132 111h1M112.2 133.4h1M119.2 136.3h1M130.5 104.9h1M115.1 114.1h1M131.1 111.3h1M119.5 129.7h1M118.8 122h1M124.4 121h1M133 107.7h1M124.3 123.1h1M127.9 114.9h1M130 114.9h1M127.9 118.8h1M123.9 118.5h1M112.9 128.3h1M140.4 89.8h1M126.4 118.1h1M116.7 124.6h1M130.9 106.2h1M125.3 118.1h1M121.1 126h1M126.9 117.7h1M130.6 108.6h1M124.1 110.9h1M125 114.4h1M122.8 115.7h1M133.1 103.7h1M135.8 96.6h1M122.7 126h1M137.8 99.2h1M120.9 122.8h1M106.9 132.6h1M141.7 89.2h1M123.8 123.9h1M128.9 113.2h1M127.2 121.2h1M140.5 94.9h1M111.3 127.5h1M125.6 123.1h1M127.3 114.2h1M129 114h1M127.4 117.7h1M129.2 113.1h1M120.5 128h1M118.7 131.2h1M118.8 120h1M140.2 93.7h1M130 107.7h1M127.4 119.7h1M117.4 131.7h1M133.2 103.7h1M128.1 113.1h1M119.9 123h1M125.9 118h1M123.2 124.1h1M124.8 120.7h1M130.3 111.3h1M120.5 118.6h1M115.4 118.5h1M116.4 133h1M128.5 116.8h1M119.7 115.8h1M128.7 115.3h1M118.8 130.5h1M109.9 131.5h1M126 119.4h1M130.7 111.7h1M123.6 123.1h1M126.1 112.7h1M126.6 119.8h1M130 106.6h1M125.1 116.1h1M129.9 114.5h1M122 124.7h1M126.7 118h1M129 113.8h1M126.9 119.5h1M116.6 128.5h1M123.4 123.2h1M118.1 123.2h1M118.8 122.9h1M128 117.7h1M129.3 114.7h1M128.9 112.1h1M107.2 135h1M121.4 127.2h1M128.5 114.9h1M130.8 107.6h1M124.8 120.7h1M122.7 119.4h1M114.2 136.6h1M124.6 109.2h1M126 119.9h1M130.3 112.8h1M123.9 123.4h1M131.2 111.8h1M122.6 124.2h1M125.3 116.3h1M121.5 127.7h1M119.8 131.6h1M115.7 132.8h1M123.5 118.7h1M132.5 106.1h1M123.3 117.5h1M114.7 137.2h1M123.9 125.9h1M128.7 108.7h1M114.1 134.5h1M128.8 111.2h1M135.4 101.7h1M122.8 124.5h1M126.6 120.7h1M120.2 119.9h1M128 115h1M127.3 114.8h1M134.9 98.5h1M114.2 128.6h1M129.4 104.7h1M117.3 119.7h1M128.7 111.5h1M117.9 135.1h1M119.4 121.4h1M127.3 115.8h1M127.5 117.3h1M121.2 134.9h1M136.4 100.9h1M123.2 126.7h1M121.1 119.2h1M113.9 120.5h1M121.4 131.5h1M139.1 98.9h1M119.5 128.9h1M127.7 114.3h1M122.5 125.5h1M116.6 134.5h1M128.1 123.8h1M133.4 102h1M117.7 129.4h1M127.3 119.1h1M119.8 128.4h1M124.2 120.6h1M124.9 110.2h1M124.6 117.1h1M125.8 120.8h1M105.2 140.9h1M120.5 133.5h1M135.2 104.1h1M121.7 127.2h1M112.4 125.8h1M130.4 108.5h1M117.7 130.5h1M133.7 106.7h1M117.5 115.7h1M129.1 117.1h1M124.6 115.8h1M125.8 122.1h1M113.4 123.7h1M125.2 124.3h1M140.2 93.4h1M125.8 112.5h1M119.3 120.4h1M118.7 128.7h1M136.1 101.4h1M123.4 121.4h1M123 130.5h1M138 101.4h1M122.9 123.3h1M114.4 137.8h1M133 107.6h1M119.3 121.1h1M125.1 124.5h1M121.6 123.8h1M132.9 101.4h1M108.6 140.7h1M123.4 120.7h1M133.3 103.8h1M126.3 117.9h1M122.3 117h1M133.3 109.4h1M110.9 135.8h1M117 126.7h1M121.7 138.1h1M127.2 115.2h1M136.2 101.2h1M128 121.1h1M115.6 125.1h1M127.5 111.8h1M125.5 111.5h1M133.8 107h1M125.7 116.4h1M128 109.3h1M118.8 126.9h1M124 117.3h1M119.1 129.1h1M120.2 125.4h1M124 120.6h1M115.5 126.7h1M129.8 114h1M115.1 138.6h1M133.9 104.9h1M123.9 115.1h1M136.1 96.6h1M134.3 104.4h1M129.7 113h1M128.9 117.9h1M122.8 126.5h1M124.2 117.7h1M130.2 111.6h1M120.3 122.5h1M131.3 106.6h1M116.3 130.1h1M134.6 105.6h1M113.1 131.1h1M122 132.4h1M116.9 136.1h1M134 105.2h1M128.3 112.6h1M126.5 117.1h1M120 133.9h1M129.4 117.4h1M124.7 115.2h1M130.1 106.9h1M120.6 128.5h1M133.4 110.9h1M125.3 114.9h1M129 113.6h1M121.5 127.5h1M134.3 101.7h1M134.5 109.6h1M140.6 92.7h1M115.7 134.1h1M127.8 112.8h1M130.6 110.3h1M123.4 124.3h1M117 120.5h1M127 118.7h1M137.1 99.9h1M127 123.3h1M119.9 120.1h1M134.1 102.3h1M126.5 125.8h1M120.7 132.5h1M118.6 129.9h1M129.4 116.4h1M119 127.6h1M128.1 118.8h1M119.1 131.4h1M119.6 113h1M115.9 132.9h1M129.5 113.5h1M120.4 130.2h1M129 117.1h1M120.1 116.4h1M128 108.7h1M121 116h1M133.8 107.9h1M120.3 121.3h1M124.4 114.5h1M130 103.5h1M116.7 136.7h1M126.4 119.5h1M126 115.7h1M115.5 122.8h1M120.2 127.1h1M132 108.9h1M120.5 129.4h1M128 117.4h1M126.5 118.9h1M121.8 132.4h1M128.8 108.5h1M116.9 122.7h1M116.9 127.8h1M119.4 121.9h1M124.6 122.7h1M118.8 134h1M136.8 101.6h1M124.3 111.7h1M121.8 121.1h1M123.8 123h1M118 130.4h1M116.1 138.7h1M124.5 122.7h1M121.5 127.8h1M122.3 123.5h1M105.7 131.6h1M135.8 105.3h1M123.5 123.1h1M120.2 110.7h1M117.7 118.2h1M128.5 105.9h1M118.3 131.1h1M135.8 104.3h1M136.6 95.9h1M131.3 107.4h1M122.5 116.8h1M126.3 114.1h1M129.6 112.8h1M125.5 120.9h1M114.4 136.3h1M109.1 140.9h1M126 118.3h1M124.3 126.4h1M126.1 118.3h1M125.6 126.9h1M125.4 121.1h1M124.9 124h1M124 112.2h1M127.9 110.1h1M127.3 118h1M134.3 105.8h1M123.8 124.6h1M124.1 121.6h1M122.8 124.3h1M135.4 107.7h1M131.5 113.5h1M119.8 128.7h1M132.6 106.3h1M128.4 112h1M119.8 126.1h1M125 117.2h1M130.2 119.9h1M117.1 129.9h1M121.2 136.9h1M132.4 106.7h1M121.8 124.6h1M122 125.4h1M117.9 127.7h1M129.7 106.4h1M124.6 111.2h1M127.5 119.7h1M123.1 126.2h1M137.7 101.3h1M139.9 94h1M126.9 117.4h1M113.3 139.8h1M114.4 128.5h1M127 116.4h1M131.1 107.4h1M118.7 130.8h1M120 129.2h1M130.2 112.6h1M126.4 118.9h1M117.8 133.9h1M132.5 103.1h1M124.5 114.9h1M121.4 122.1h1M124.5 123.4h1M102.1 141h1M129.7 112.4h1M115.7 135.9h1M126.1 113.9h1M140.7 94.5h1M131.5 111.1h1M126.1 119.7h1M119.1 120.5h1M122.2 126.6h1M134.1 100.2h1M137.8 100.4h1M128.7 115.7h1M116.5 133.8h1M121.7 123.6h1M135.9 101.1h1M104 135.6h1M134 105h1M117.8 133.5h1M124.4 118.7h1M119.3 120.5h1M121.3 122.9h1M133.6 106.7h1M124.7 127.1h1M133.1 105.2h1M128.8 111.3h1M123.1 125.4h1M124.4 121h1M119.3 130.7h1M131.1 108.8h1M129.3 122.3h1M124.2 118.1h1M126.3 120.4h1M123.6 116.2h1M132.9 103.5h1M130.7 103.4h1M117.7 122.6h1M128 112.5h1M116 129.2h1M125.6 123.4h1M129 118.1h1M133.3 109.8h1M106 132.2h1M113.9 127.3h1M111.9 130.7h1M107.9 127h1M131.2 104.1h1M127.9 115.1h1M122.5 110.6h1M132.5 112.9h1M132.2 108h1M129.2 120.7h1M131 111.8h1M127.3 109.3h1M127.7 109.6h1M130.7 111.8h1M117.3 125.1h1M133.6 105.5h1M118.2 132.7h1M122.1 126.6h1M125.2 122.9h1M130.8 108.9h1M126.6 111.7h1M120.3 120.7h1M136.5 105.6h1M123.9 127.9h1M128.4 110.4h1M124 122.1h1M123.7 117.9h1M123.5 120.3h1M133.6 109.3h1M125.5 119.6h1M129.4 114.1h1M129.6 111.7h1M128.5 115.7h1M122.4 126.1h1M116.9 127.3h1M112.7 132.4h1M123.5 120.5h1M132.9 110.2h1M120.5 126.1h1M130.6 106.4h1M116.7 131h1M132.5 103.7h1M119.3 117.7h1M116.8 129h1M108.1 136.1h1M121.7 123.2h1M124.8 126.6h1M126.7 119.2h1M132.1 112.8h1M119.2 114.5h1M111.5 128.8h1M128.7 118.7h1M115.4 135.2h1M127.5 113.4h1M133.7 104.2h1M131.6 111.2h1M108.9 126.1h1M124.8 111.6h1M123.7 116.5h1M127.5 113.2h1M122.5 121.6h1M126.1 115.6h1M126.8 108.9h1M119.3 127.6h1M117.6 122.6h1M119.2 123.5h1M131.2 112.4h1M122.1 119.8h1M122.7 114.2h1M127.7 115h1M108.3 140.4h1M138.5 99.3h1M116.8 124.6h1M117.6 132.6h1M126.4 117h1M124.1 122h1M129.4 113.2h1M115.2 129.9h1M130.7 114.9h1M131.5 107h1M121.1 133.1h1M130.3 107.7h1M137.1 103.1h1M120.7 125h1M127.1 114.5h1M124.8 128.4h1M115.7 126.8h1M115.6 131.6h1M117.1 127.7h1M122.3 116.5h1M123.6 114h1M118.9 125.6h1M127 123.6h1M128.9 100.8h1M138.7 98.6h1M120 119.2h1M135.5 100h1M118.9 117.9h1M108.6 126.8h1M117.1 127.7h1M127.6 119.8h1M134.9 105.4h1M127.5 121h1M123.2 116.2h1M129.6 109.3h1M139.2 101.3h1M123.9 124.9h1M133.7 107.4h1M131.8 107.7h1M120.1 130.8h1M122.4 114.6h1M123.8 117.7h1M133.2 95.8h1M134.8 104.1h1M132.4 108.6h1M121.4 132h1M122.9 129.8h1M111.2 122h1M119.4 118.4h1M127.3 118.1h1M118.9 134.4h1M121.4 119.6h1M132.2 111.9h1M122.2 115h1M134.2 106.3h1M115.7 129.6h1M127.5 119.7h1M118.2 132h1M140.2 98.8h1M123.2 128.3h1M122.8 125h1M132 110.1h1M135.1 106.2h1M130.2 111h1M119.4 127.7h1M134.4 104.9h1M119.5 121.4h1M119.2 130.9h1M118.8 130.8h1M127.6 121.5h1M123.6 113.6h1M128.6 114.3h1M123.4 123.3h1M127.2 123.4h1M131 111.4h1M119.5 132.5h1M134.1 102.1h1M115.3 125.7h1M121.9 126.2h1M119.3 121.8h1M135.3 103.4h1M122.4 122.8h1M123.1 123.4h1M121 112h1M131.6 107.3h1M120.8 128.6h1M130.7 110.7h1M123.2 114.9h1M117.1 136h1M128.1 116.5h1M122.5 125.8h1M138.5 94.4h1M117.6 128.6h1M139 102.3h1M125 125h1M123.4 121h1M119.3 127.4h1M119.1 116.7h1M122.3 117h1M119.3 120.3h1M125.6 109.2h1M121.2 127.2h1M128.1 110.9h1M123.7 124h1M135.8 99.5h1M128.9 114.3h1M124 126.1h1M132.7 107.1h1M120.7 129.9h1M128 119h1M108.2 139.4h1M120.5 128.6h1M126 117.6h1M127.9 109h1M118.7 126.7h1M123.6 109.7h1M129.3 107.2h1M128.3 117.8h1M130.7 114h1M121.6 118.9h1M129.5 108.5h1M122.6 115.2h1M132.2 101.8h1M120.2 122.8h1M137.9 100.8h1M123.3 127.6h1M120.1 123.7h1M124.1 117h1M125.3 116.9h1M120.4 134.2h1M119.1 124.3h1M132.5 108.2h1M135.8 101.5h1M130.8 113.8h1M125.1 110.9h1M114.7 135.9h1M124.8 121.8h1M117.5 123.1h1M117.7 117.9h1M122.4 116.4h1M130.6 120.4h1M119.1 137.6h1M121.5 130.6h1M120.9 131h1M115.3 124.4h1M133.9 106.1h1M131 107h1M123.5 122.9h1M125.7 118.3h1M127.3 117.3h1M121.4 128.9h1M120.7 128.9h1M116.2 127.2h1M126.1 121.9h1M131.2 113.9h1M134.6 103.7h1M140 97.8h1M128.7 115.6h1M125.8 126h1M126.5 115.9h1M124.4 119.8h1M124.4 119.3h1M129.9 108.5h1M128.9 116.2h1M129.9 114h1M121.8 122h1M125.2 111.3h1M123.2 125.9h1M122.7 118.9h1M117.8 130.8h1M126.4 115.3h1M129.3 117.2h1M129.3 114.5h1M129.3 119.7h1M121.9 128.4h1M120.3 124.6h1M128.3 114.4h1M116.5 138.2h1M125.2 112.4h1M126.1 118.9h1M133 111.2h1M118.5 122.7h1M119.5 126.6h1M118.8 114.8h1M123.7 113.8h1M125.1 121.9h1M118.6 127.4h1M112.7 133.7h1M119.5 131.1h1M108 134.3h1M123.1 114.5h1M132.9 107.4h1M126.8 118.1h1M117.7 133.5h1M131.1 107.1h1M112.5 134.3h1M116.9 134.7h1M131.4 114.2h1M115.6 125h1M109.3 132.7h1M137.4 99.9h1M119.1 122.3h1M124.8 112.8h1M126.2 122.4h1M122.4 115.1h1M119.6 129.2h1M123.8 122h1M131.4 110.2h1M120.7 118.5h1M123.5 121.9h1M129.2 112.1h1M122.9 131.6h1M124.8 129.3h1M122.3 118.4h1M122.3 119.7h1M130 107h1M113.1 123.4h1M123.6 122.9h1M119.4 121h1M116.3 137.4h1M126.9 118.5h1M114.6 129.2h1M122.4 123.9h1M117.1 137.8h1M123.3 117.6h1M117.5 122.3h1M130.2 109.3h1M115.8 128.2h1M125.2 111.6h1M127.4 119.2h1M119.5 124.1h1M136.6 106.6h1M124.2 116.2h1M123.8 123.3h1M130.7 110.3h1M136.1 105h1M124.1 119.8h1M125.3 121h1M114.8 130h1M121.5 123.8h1M120.9 121.7h1M112 129.2h1M119.1 119.2h1M131.4 113.3h1M134.4 111.4h1M126.9 114.5h1M107.8 136.2h1M125.3 119.2h1M113.9 127h1M127.7 111.6h1M117.8 128.8h1M124.6 121.9h1M129.7 107.1h1M130.5 113.6h1M123.6 122.8h1M122.4 124.2h1M134.3 111.2h1M129.8 104.7h1M122.4 117.8h1M121.3 130.7h1M112.9 124.8h1M121.6 116.4h1M112 127.6h1M121.2 126.8h1M109 140.1h1M120.1 123.1h1M113.5 125.1h1M113.6 125.2h1M136.4 102.6h1M136.3 98.7h1M123.5 119.4h1M123.1 120.3h1M127 116.1h1M120.6 133.6h1M128.1 116.3h1M132.3 113.2h1M123.3 120.5h1M114.9 127.9h1M110 130.2h1M118.3 122h1M116.2 126.1h1M130.7 119.9h1M126.2 119.2h1M124.3 122.6h1M130.2 107.5h1M121.7 127.2h1M129.3 110h1M119.2 130.6h1M122.7 118.9h1M135.5 104.3h1M123.3 126.8h1M129.1 113.1h1M131.9 114.1h1M116.9 126.5h1M126.1 118.8h1M120.9 122.9h1M117.7 132.8h1M125.4 118.6h1M134.5 105.3h1M135.3 104.8h1M116.6 138.9h1M123.8 112.2h1M125.5 113.5h1M131.3 111.2h1M123.9 126.2h1M134.2 112.7h1M135.3 102.7h1M116 125.1h1M124.7 122.9h1M121.3 125.2h1M134.8 109.2h1M114 131.6h1M118 121.4h1M116 137.1h1M127.8 114.2h1M118.6 131.9h1M117.5 130.4h1M120 117.2h1M124.9 112.1h1M135.4 110.6h1M115.3 120.3h1M123.2 132.3h1M128.2 115.4h1M133.7 106.6h1M120.2 135h1M137.7 102.3h1M131.2 110.5h1M115.5 138h1M122.2 124.4h1M121.7 123.8h1M106.9 135.7h1M132 109.7h1M122.4 123.4h1M119.6 137.4h1M131.1 113.3h1M115.7 134.2h1M126.4 111.1h1M120 112.7h1M121.9 116.7h1M130.7 115.9h1M126.6 118h1M125.3 119.5h1M119.3 130.2h1M121 121.3h1M127.9 111.4h1M136.8 102.8h1M114.6 133.4h1M128 116.5h1M128.4 117.5h1M127.9 121.2h1M131.5 112.3h1M129.8 109.8h1M119.7 112.8h1M122.2 113.4h1M128.6 118.7h1M130 112.2h1M119 121.9h1M127 116.3h1M117.5 121.9h1M124.7 113.6h1M116.4 116.7h1M130.1 113.7h1M128.9 106.2h1M110.5 135.4h1M133.2 105.5h1M125.8 122.6h1M125.3 122h1M122.7 122.6h1M131.7 109.8h1M132.2 110.3h1M126.4 123.3h1M143.5 91.4h1M123.5 125.1h1M119.5 110.9h1M114.3 136.9h1M132 109.6h1M113.9 138.9h1M120.3 129.3h1M118.3 131.6h1M132.8 108.6h1M122.9 124.7h1M123.3 120.7h1M139.5 101.4h1M121.1 132.2h1M137.4 98.3h1M124.8 116.9h1M126.6 113.2h1M126.5 117h1M118.8 122.2h1M126.2 120.9h1M123.4 119.1h1M122.6 117.7h1M137.6 99.3h1M126.1 112.5h1M112.5 129.3h1M128.7 119.2h1M131.6 113.1h1M140.3 93.1h1M126.3 114h1M120.2 123.1h1M117.9 134.8h1M132.9 110.3h1M114 138.9h1M109.9 133h1M135.3 100.5h1M123.1 119.3h1M126.7 117.9h1M120 124.9h1M124.1 124.4h1M129 115.6h1M126.4 125.3h1M126.5 118.8h1M128.2 113.2h1M129.8 109.5h1M115.1 128.7h1M130.1 107.5h1M132 110h1M122.9 127h1M119.5 127.3h1M119.1 128h1M127.6 116.5h1M121.6 121.2h1M127.6 118.3h1M115 140.7h1M126.9 121.8h1M110.1 130.4h1M108.4 129.8h1M123.3 122.5h1M125.1 119.2h1M129.7 110.3h1M115.7 134h1M130.9 112h1M118.5 139.1h1M134.3 108.9h1M115 124h1M125 112.8h1M132.6 105.8h1M124.4 121.4h1M132 110.6h1M122.8 120h1M135.9 103.6h1M126.2 117.7h1M103.2 138.8h1M105.2 134.6h1M129 118.6h1M117.6 128.3h1M113.4 131.2h1M132.4 111.4h1M125.7 116.5h1M140.3 95.8h1M118.3 122.8h1M135.7 103.2h1M124.4 114.4h1M113.3 126.6h1M133.4 106.8h1M130.7 114.4h1M125.4 120.6h1M120.5 124.3h1M116.6 127.5h1M123.3 117h1M129 108.2h1M125.5 110.5h1M129.3 114.4h1M123.3 125.9h1M121.5 131.2h1M124.6 119.1h1M133.1 103h1M110.3 135h1M133.7 105.9h1M119 114.6h1M125.3 129h1M102.4 135h1M108.7 138.6h1M116.2 128.7h1M128.9 106.9h1M116.4 129.8h1M119.6 128.7h1M118.6 133.4h1M136.4 103.9h1M125 115.3h1M118.3 120.5h1M122.7 121.8h1M129.8 111.5h1M135.7 94.7h1M124.1 114.7h1M127.4 115.9h1M120.3 113.6h1M130.9 104.5h1M126.5 125h1M113.3 131.4h1M136.8 103.5h1M122.7 126.9h1M121.1 118.4h1M114.3 120.7h1M126.4 116.6h1M116.5 113.7h1M129.1 107h1M126.9 117.6h1M112.5 130.8h1M123.6 120.6h1M132.5 113.1h1M131.9 109.5h1M126.2 121.5h1M135.6 98.5h1M123 122.9h1M126.1 118.6h1M116.8 137.5h1M121.8 125.4h1M126.9 117.8h1M120.2 120.6h1M132.5 104h1M116 131.6h1M130.6 110.5h1M124.5 120.8h1M132 107.9h1M120.8 131.1h1M125.6 112.3h1M117.4 119.6h1M134.8 106.7h1M120.3 113.5h1M128.2 117.5h1M117.3 134.8h1M124.6 117.8h1M130.7 111.9h1M135.5 100.3h1M124 122.2h1M124.6 124.1h1M131.3 113h1M120.4 125.5h1M130.5 109.6h1M115.2 128.6h1M118.9 123h1M117.9 127.3h1M125.6 122h1M125.7 115.2h1M119.1 127.1h1M126.2 115.4h1M119.3 128.8h1M118 136h1M122.6 120.6h1M139.3 95.3h1M129.1 113.5h1M105 139.1h1M126.8 117.7h1M122.6 124.9h1M121.5 127.4h1M120.6 123.8h1M129 118.9h1M120.8 130.5h1M137.2 100.3h1M120.9 120.3h1M123.3 116.8h1M128.3 112.2h1M124.5 118.2h1M124.2 117.4h1M123.3 120h1M117.3 124.1h1M116.4 133.6h1M129.1 118.1h1M123.7 122.2h1M140.4 93.9h1M133.2 107.3h1M121 121.8h1M121.1 122.4h1M125.8 118.7h1M103 134.1h1M121 128h1M124.2 122.6h1M123.4 127.7h1M119 123.9h1M113.9 140h1M135.3 108.2h1M120.4 118.6h1M135.4 99.3h1M130.6 114.7h1M116.9 137.3h1M132.4 109.9h1M136.3 102.5h1M128.9 117.5h1M115.4 121.2h1M120.8 127.9h1M135.5 98.1h1M116.7 138.9h1M128.6 111.2h1M125.5 117.7h1M123.4 122.4h1M111.5 134.2h1M118.4 121h1M129.3 112.9h1M133.6 103.7h1M124.3 120.6h1M110.6 136.7h1M128.4 118.3h1M115.4 133.8h1M110.6 132.8h1M134.8 102.5h1M119.7 119.7h1M122.6 129.2h1M127.6 117.9h1M110.6 127.2h1M129.2 115.2h1M129.7 113h1M127.2 114.9h1M120.2 115.4h1M126.5 120.5h1M132.2 111.1h1M126.1 119.1h1M120.8 125.1h1M133.5 107.2h1M147.5 84.9h1M115.2 130.9h1M118.7 130h1M121.6 122.7h1M115.6 120h1M114.1 136.3h1M121 115.8h1M127.5 121.7h1M125.9 125.1h1M125 123.9h1M116 133.4h1M127.5 116.3h1M128.7 110.8h1M134.3 103.8h1M121.1 129.8h1M104.7 121.5h1M131.5 101.9h1M136.2 101.6h1M120.4 126.5h1M127.2 112.5h1M118.5 133.2h1M127.4 117h1M120.5 119h1M118.1 118.4h1M131.1 109.2h1M130.3 112.9h1M128.8 112.6h1M121.3 117.8h1M124 109.7h1M116.7 132.5h1M124.6 121.5h1M129.9 113h1M130 120.3h1M137.9 100.1h1M143.8 91.1h1M120.4 121h1M113.1 128.6h1M125.6 115.3h1M133.4 102.5h1M126.9 115.1h1M134.5 101.4h1M132.4 112.3h1M120.1 119.8h1M120.7 121h1M130.1 114.1h1M126.4 114.1h1M127.6 119.4h1M107.7 132.9h1M119.3 124.4h1M123.4 127.7h1M137.2 96.2h1M119.1 125.8h1M126.2 114.1h1M128.2 111.4h1M126.5 117.7h1M120.3 128.4h1M116.1 119.1h1M131.4 109.1h1M126.9 117.5h1M126.3 120.7h1M130.8 110h1M136.6 106.2h1M114.3 129.1h1M125.1 112.9h1M122.9 114.1h1M126.1 117.9h1M124.8 118.4h1M123.4 115.8h1M126.5 116h1M139.6 97.5h1M131.1 115h1M130.1 115.4h1M129.6 116h1M120 118.3h1M127.2 112h1M114.8 132.2h1M132.3 104.4h1M132.9 107.3h1M131.1 109.9h1M129 110h1M115.4 141h1M122.9 119.5h1M134.6 103.5h1M131.3 103.1h1M129.2 112.6h1M126.6 117.1h1M125.1 119.2h1M123.7 117.8h1M124.3 115.2h1M123 122.8h1M125.5 118.8h1M123.2 121.1h1M131 111.8h1M132.5 106.1h1M118.8 125.9h1M126.7 116.8h1M119.7 123.2h1M118.6 139.1h1M131.6 115.8h1M117.2 135.1h1M123.1 122.3h1M135.1 106.9h1M114.7 127.3h1M135.8 99.2h1M116.4 133.2h1M133 110.4h1M125.8 119.4h1M122.5 122.8h1M140.5 91.6h1M123.5 117.8h1M119 129.2h1M131.4 103.9h1M125 127.4h1M129 115.5h1M130.3 111.4h1M123.8 118.5h1M125.1 126.5h1M139.2 99.7h1M129.9 117.4h1M122.2 127.4h1M123.7 126.2h1M119.3 130h1M121.8 123.9h1M119.5 124.6h1M119.4 129.3h1M130.8 111.7h1M124.2 119.9h1M134.6 109.8h1M123.9 121.5h1M119.3 117.8h1M123.2 121.1h1M126.8 116.5h1M118 123.6h1M127 110.3h1M116.3 135.5h1M135.5 104.6h1M129.8 108.7h1M118.3 130.2h1M119.9 131.6h1M112.9 132.5h1M122.1 121.3h1M122.3 115.4h1M136.2 106.6h1M130.1 116.8h1M122 130.1h1M122.1 121.4h1M114.2 129.5h1M135.1 104.2h1M132.4 109.6h1M134.6 108.8h1M123.1 125.4h1M130.5 114.6h1M129.4 117h1M121.8 123.6h1M127.8 116.5h1M135.4 103.9h1M115.2 133.2h1M110.6 133.6h1M110.6 124.3h1M115.3 123.3h1M121.6 123.5h1M119.6 125.8h1M118.9 132.2h1M129.4 115h1M124 109.7h1M123.5 117.6h1M119.5 135h1M128.3 107.8h1M134.5 99.1h1M123.2 109.2h1M115.7 139.3h1M131.7 112.2h1M117 125.6h1M126.5 122.4h1M116.5 132.5h1M121.9 116.4h1M114.7 136.7h1M130.2 105.1h1M127.7 107.9h1M130 111h1M128.5 115.3h1M123 119.7h1M139.4 98h1M122.8 122h1M117.9 130.7h1M133.1 107.1h1M125.9 124.3h1M113.2 139.4h1M124.2 126.1h1M130.8 101.3h1M132.1 119h1M141.8 94.6h1M121.6 119.1h1M124.8 116.8h1M123.9 117.5h1M123.6 123.4h1M115.8 115h1M144.6 91.3h1M127.9 117.2h1M123.3 120.6h1M122.2 131.9h1M122 127h1M113.4 129.2h1M122.2 116.4h1M120.1 121.2h1M124.9 118.3h1M121.6 124.4h1M137.8 99.5h1M128.2 120.5h1M134.9 103h1M110.6 116.7h1M105.7 131.3h1M118.6 137.1h1M127.8 117.3h1M123.9 127.9h1M117.6 118.4h1M126.4 120.9h1M123.5 129.2h1M130.5 115.5h1M121.8 125.1h1M122.3 126.3h1M127.6 119.3h1M114 117.3h1M130.6 109.2h1M127.6 105.4h1M123.2 126h1M115.8 123.2h1M118.2 122.5h1M123.3 119.8h1M122.6 123.6h1M138.1 94.7h1M128.5 115.8h1M129.3 115h1M116.5 140.7h1M130.5 114.8h1M134.7 104.2h1M122.5 117.9h1M122.3 122.7h1M129.3 109.5h1M129.7 112.4h1M127.9 117.9h1M117.5 131.7h1M121.5 119.5h1M130.1 114.1h1M131.2 102.6h1M125.1 114.9h1M120.4 129.3h1M120.7 119.3h1M129.5 112.2h1M124 122.4h1M132.8 107.7h1M130.8 114.6h1M123.9 126.9h1M120.7 126.1h1M124.6 108.4h1M115.9 132h1M128.9 122.6h1M126.1 118.1h1M120.5 114.8h1M120.1 124.3h1M127.7 116.9h1M129.7 114.8h1M124.9 119.4h1M110.4 134.1h1M126.2 106.2h1M123.5 117.2h1M135.6 104.5h1M135.2 109h1M126.4 116.9h1M116.5 137.8h1M115.1 129.5h1M127.2 117.4h1M110.9 134.1h1M122 119.6h1M124.1 120.6h1M127 105.1h1M121.9 115.9h1M129.4 116.2h1M119.7 131.6h1M114.1 118h1M121.7 128.1h1M123 122.7h1M122.8 128.6h1M126.2 119.4h1M122.3 125.5h1M124.9 123.1h1M127.8 111.8h1M122.7 119h1M115.2 132.1h1M118.8 129.9h1M124.5 119.1h1M119.2 123.9h1M132.4 108.5h1M124.1 121.2h1M125.5 121.3h1M133.1 110.1h1M120.3 130.4h1M116.6 120.7h1M123 116.2h1M116.3 133.6h1M123 123.5h1M129.2 113.7h1M141.6 93.4h1M133 108.3h1M120.5 124.5h1M116.1 131.7h1M127.8 112.9h1M127.7 114.8h1M125.7 118.5h1M123.3 115.9h1M120.1 117.9h1M129.2 114.6h1M122.2 134.3h1M130.1 107.4h1M116.5 125.5h1M131 107.9h1M107.5 136.7h1M126.9 117.3h1M128.4 112.3h1M128.9 116.5h1M122.7 127.2h1M131.9 102.3h1M127.1 118.4h1M124 120.1h1M130.9 113h1M120 119.1h1M125.7 120.2h1M131.3 110.6h1M129 116.5h1M121.7 126.3h1M124.3 121.2h1M123.2 117.8h1M118 135.1h1M126.3 123.5h1M131.8 112.9h1M121.9 129.8h1M133.6 105.1h1M121.8 127.8h1M123.6 123.1h1M129.9 112.4h1M118.3 125.1h1M115.2 130.9h1M129.4 110.6h1M117.3 128.4h1M127.9 110.8h1M126.9 113.8h1M129.1 115.8h1M119 121.2h1M114.1 127.6h1M128.6 116.5h1M128 107.3h1M114.7 140.6h1M119.6 129.7h1M129.6 113.2h1M126.9 116.9h1M125.4 118.2h1M121.8 111.3h1M128.1 119.5h1M121.1 121.2h1M125.4 117.4h1M121.8 115.3h1M122.6 119.7h1M122.7 130h1M125.3 116.8h1M124.7 124.1h1M131.5 112.5h1M127.9 117.6h1M115.3 129h1M125.4 121.8h1M127.2 113.5h1M115.6 132.4h1M144.3 86.4h1M124.8 123.5h1M126.7 118.9h1M137.8 105.9h1M119.8 126.1h1M126.9 118.4h1M123.3 119.4h1M125.8 110h1M130.3 112.8h1M132.1 108.4h1M137.6 98.2h1M134.2 106h1M130.8 112.5h1M127.3 112.6h1M116.5 134.1h1M132.1 117.2h1M117.8 129.4h1M117.7 132.5h1M125.9 123.5h1M112.6 137.6h1M127.2 113.9h1M115.6 132h1M116.4 131.7h1M126.4 118h1M128.9 108.4h1M99.4 139.4h1M122.7 131.4h1M113.9 127.2h1M129.3 112.5h1M124.7 113.1h1M129.9 111h1M129.1 116.9h1M125 113.5h1M116.3 119.1h1M126.5 118h1M133.1 107.2h1M130.3 112.9h1M128.2 108.4h1M124.5 114.5h1M131.9 115.5h1M129.1 115.2h1M129.7 105.7h1M124.4 121.1h1M127.1 118.1h1M120.7 122.3h1M132 108.5h1M134 103.1h1M132.2 102.2h1M114.3 129.1h1M119.6 115.5h1M125.8 116.4h1M124.4 114.2h1M124.9 122h1M110.3 131.2h1M127.1 116.1h1M119.3 129.6h1M110.9 136.7h1M123.1 111.3h1M112.5 130.8h1M132.3 104.1h1M134.1 108.6h1M116.1 120.9h1M118.9 124.1h1M124.5 120.6h1M137.9 99.3h1M129.1 111.2h1M117.3 137h1M121 123h1M129.5 113.2h1M126.3 110.7h1M133.1 103.5h1M126.9 111.8h1M122.2 119h1M133.6 107.8h1M134.7 94.1h1M120.7 135.2h1M132.2 107.9h1M118.6 133.2h1M136.8 102.5h1M115 126.7h1M128.9 107.8h1M124.5 122.5h1M130.8 109h1M119.5 121.7h1M134.6 111.9h1M123.7 126.2h1M137.2 95.6h1M129.4 113.5h1M117.9 132.6h1M128.5 116.8h1M115.3 138.3h1M124.9 124.2h1M133.5 107.4h1M130.2 113.2h1M117.6 138.4h1M121.8 120.9h1M126.3 120.1h1M120.7 119.6h1M112.8 129.2h1M124.8 124.2h1M126.6 112.3h1M128.9 113h1M113.1 138.4h1M131.9 108.9h1M119.4 120.9h1M126.7 114.7h1M127 111.2h1M126.1 112.1h1M123.9 122.1h1M131.4 113.7h1M127.2 118.1h1M118.3 117.6h1M128 118h1M120.2 120.5h1M121.2 123.1h1M109.2 126.8h1M124.8 115.1h1M128.4 120.6h1M126.1 115.8h1M129.4 111.9h1M116.4 136.3h1M127.2 111.9h1M130.9 108h1M129.3 113.6h1M129.5 111.2h1M120.8 132.8h1M105.2 139.9h1M125.1 115.6h1M115.5 137h1M116.9 113.5h1M130.4 111.2h1M124.9 121.1h1M127.7 112.7h1M121 126.5h1M136.9 101.3h1M126.6 111.3h1M117.1 133.9h1M120.1 128.9h1M127.6 114.5h1M130 106.2h1M123.3 123.3h1M128.2 106.8h1M122.7 126.3h1M112 127.6h1M128.9 115h1M124.6 118.8h1M135.7 102.2h1M130.4 107.7h1M121.3 133.2h1M129.6 113.2h1M117.7 121.1h1M111.4 135.8h1M127.7 121h1M135.9 104.6h1M131.3 108h1M127.3 109.7h1M130.7 113.3h1M127.4 118.6h1M112.7 133.9h1M132.2 110.7h1M119 133.5h1M128.4 100.6h1M125.7 116.9h1M124 119.2h1M130.5 109h1M132.7 108h1M120.6 118.6h1M116.8 132.1h1M118.2 134.7h1M125.9 119.5h1M134.8 101.1h1M123.9 126.8h1M134.7 105.3h1M124.3 122.9h1M121.5 126.3h1M125.3 119.3h1M128.4 117.5h1M124.9 123.5h1M116.6 133.2h1M124.9 118.4h1M116.5 136.9h1M128 117.9h1M112.9 126h1M114.7 131.8h1M129.9 111.9h1M122.2 117.3h1M135.7 103.3h1M134.4 105.9h1M139 99.8h1M126.3 118.8h1M130.4 112.9h1M126.4 121.7h1M124 120.4h1M123.2 116.8h1M133.8 108.1h1M126.3 124.9h1M130.4 107.7h1M115.3 132.1h1M130.8 115.3h1M131 113.5h1M141 93.6h1M137.5 101.4h1M126.2 125.8h1M128.5 112.1h1M119.2 134.1h1M119.2 135.9h1M121.7 128.7h1M134.3 107.9h1M132.2 111.7h1M128.9 113.3h1M129.7 116.1h1M136.4 102.5h1M131.5 111.6h1M131.4 110.9h1M119.7 133.1h1M121.3 122.8h1M119.5 127.7h1M112.7 132.3h1M122 132.4h1M119 119.7h1M135.9 104.2h1M109.7 128.1h1M131.5 114.2h1M130.9 107.9h1M126.3 117h1M125.4 109.3h1M134.9 100.2h1M133.7 107.9h1M140.3 95.6h1M111.2 135.8h1M119.5 124.7h1M134 101.1h1M129.6 112.4h1M134.7 109.7h1M130.7 112.4h1M115.7 124.2h1M124.4 125.6h1M126.2 118.6h1M127.6 118.9h1M126.5 119h1M132.7 107.2h1M135.6 107.1h1M114.9 137.4h1M118 121.1h1M114.1 128.9h1M116.6 137.5h1M132.3 103.4h1M121.6 128.4h1M131.2 109.6h1M130.8 111.8h1M138.2 99.6h1M127.5 113h1M120.9 120.9h1M122.9 119.1h1M134 104.9h1M133.9 106h1M124.3 124.9h1M115.5 123.6h1M125 122.2h1M125.9 122.4h1M122.7 125.2h1M126.5 112.4h1M124.4 125.3h1M119.4 125.5h1M122.2 122.1h1M135.7 101h1M121.2 129.4h1M115.7 129.3h1M106.8 135.3h1M123.5 129.1h1M120.3 126.2h1M135.7 97.8h1M122.1 128.2h1M121 125.3h1M130.6 106h1M121.9 115.5h1M126.1 118.5h1M120.8 122.4h1M119.9 128.4h1M126.4 112.7h1M128.3 116.4h1M119.7 130.3h1M121.7 124.3h1M123.9 120.5h1M113 140.7h1M121.2 124.2h1M132.1 108.3h1M125.2 114.4h1M121 134h1M117.7 133.6h1M118 130.8h1M116 133.9h1M121.8 123h1M123.1 126.4h1M119.5 121.4h1M123.7 122.4h1M132.9 110h1M129.5 112.5h1M110.2 130.9h1M130.1 108.8h1M121 119.3h1M118 129h1M133.3 108.9h1M124.7 120.2h1M130.3 116.5h1M133.6 107.5h1M123.9 122.6h1M120.9 122.9h1M132.5 114.9h1M117.2 130h1M118.9 129.5h1M128.7 113.7h1M128.5 116.1h1M123.1 132.5h1M127.2 111h1M132.8 110.3h1M126 121.4h1M128.2 117.5h1M130.5 110.4h1M125.2 119.8h1M121.9 128.1h1M121.8 115.5h1M132.1 118.4h1M115.7 130.2h1M130 114.9h1M120.4 125.1h1M130.4 114.7h1M123.9 125.6h1M119.7 116.5h1M132.1 113.9h1M126.8 106.7h1M129 118h1M128.4 119.8h1M108 137.1h1M117.5 125.6h1M127.1 109.8h1M120.3 131.6h1M117.7 118.9h1M128.1 112.7h1M123.1 124h1M127.4 114h1M116.2 131.4h1M121.5 121.2h1M126.1 118.9h1M124.7 121h1M128.4 115.2h1M129 106h1M121.1 128.1h1M142.7 87.8h1M127.1 113.6h1M132.6 113.8h1M127.6 121h1M135.7 103.1h1M128.5 111.8h1M115.6 109.2h1M126.9 109.8h1M124.9 117.8h1M121.5 115.1h1M120.6 117.1h1M119.2 128.3h1M136.6 107.8h1M127.2 121.8h1M140.7 92.9h1M123.9 121.8h1M114.7 130.2h1M129.8 110.7h1M128.4 116.1h1M110.6 124.4h1M119.2 122h1M137.9 98.3h1M124.2 120.9h1M112.5 124.9h1M135.4 108.6h1M133.9 103.9h1M149.2 87h1M120.2 127.7h1M119.1 122.6h1M132.2 102.9h1M136.7 97.9h1M136.9 110.9h1M118.8 131.7h1M138.2 100.8h1M138.5 105.4h1M121.2 126.1h1M123.3 122.9h1M114.4 141.1h1M126.1 95.7h1M119.1 112.4h1M126.3 120.7h1M140.3 96.3h1M129 120h1M141.1 97.3h1M123.8 113.9h1M131 110.7h1M116.6 131.8h1M143.9 90.7h1M130.5 103.1h1M128.7 116.2h1M134 116.7h1M119.2 136h1M114.1 118.5h1M117.3 139.6h1M111.2 115.4h1M133.2 98.4h1M132.5 108h1M131.7 109.2h1M132.1 115.9h1M127 116.8h1M125.8 129.1h1M112.4 126h1M127.2 114.3h1M120.5 119.1h1M135.3 108.9h1M142.8 92.6h1M127.8 118.2h1M132.1 107.8h1M127.8 117.6h1M136.7 102.2h1M123.6 121h1M134.2 96.5h1M131.3 116.7h1M137.6 96.5h1M129.4 128.4h1M122.7 126.5h1M139.8 100.4h1M115.8 130.4h1M111.4 132.4h1M128.6 102.4h1M138.3 102.5h1M130.2 129.1h1M141.4 94.7h1M133.4 113.3h1M105.2 129h1M140.7 90.8h1M138.9 98.6h1M143.4 86.6h1M120.9 125.9h1M133.2 91.4h1M129.1 114.9h1M131.4 107.4h1M131.6 111.2h1M130.8 109.1h1M143.9 91.5h1M123 117.8h1M126.3 116.7h1M101.8 125.4h1M126.9 115.4h1M127.2 116.4h1M135.6 103.2h1M133 102.6h1M127.8 121.9h1M128.8 96.8h1M122.2 109.2h1M118 123h1M120.8 112.9h1M140.7 94.7h1M117.6 116.9h1M118.6 116.3h1M130.1 113.4h1M131.1 113.6h1M132.5 116.2h1M139.1 100.8h1M126.6 114.3h1M130.1 106h1M108.2 123.2h1M136.1 106.3h1M122.3 133.4h1M126.2 111.2h1M119.5 131.4h1M131.7 112.8h1M122.4 113.4h1M145.7 82.4h1M123.1 126.9h1M119.8 120h1M117 125.7h1M133.3 111.9h1M127.3 119.8h1M118.5 121.8h1M111.3 121.6h1M110.5 124h1M125.2 122h1M125.1 118.4h1M137.3 99.5h1M111.5 106.8h1M105 118.6h1M143.7 88h1M97.3 122.7h1M136.7 103.3h1M129.5 112.6h1M131.3 113.7h1M127.8 109h1M122.1 128.8h1M114.5 130h1M127.7 100.1h1M132 101.5h1M134.8 97h1M119.8 113.5h1M115 127.7h1M120.7 139.7h1M134.5 107.1h1M139.2 101.7h1M122.1 110.4h1M120.6 126.3h1M125 109h1M119.9 114.4h1M123.1 120.8h1M121.6 122.6h1M100.7 132.1h1M135.6 102.2h1M125.4 131.3h1M126.6 110.7h1M124.5 123.8h1M132.9 106.7h1M126.7 114.4h1M138 97.1h1M115.8 136.5h1M125.1 124h1M139.1 102.8h1M138 94.1h1M111 132.8h1M127.5 107.6h1M119.3 120.9h1M127.8 113.5h1M125 116.1h1M136.5 106.4h1M135.9 100.7h1M119.8 128.1h1M124.7 121.6h1M117.4 136.1h1M123.6 121.1h1M95.1 136h1M129.2 103.2h1M129.7 110.9h1M119 117.8h1M119.4 130.1h1M118.3 131.9h1M136.9 103h1M126 122.4h1M138.6 99.9h1M137.9 102.5h1M117.1 115.8h1M117.7 110.1h1M123.1 114.1h1M131.6 92.8h1M123.7 119.9h1M119.3 100.7h1M112.6 130.3h1M134.9 105.9h1M130 116.5h1M131.5 110.8h1M144.2 80.6h1M142 102.8h1M129.6 115.9h1M133.7 99.4h1M126.2 118.4h1M124.3 127h1M123.2 121.7h1M118.2 130.5h1M124.1 123.7h1M124.7 112.8h1M136.4 92.3h1M126.9 106.8h1M129.1 122.4h1M120.7 119.4h1M132.4 117.2h1M121.1 125h1M112.8 130.7h1M123.4 125.6h1M122.5 115.2h1M120.2 137.2h1M126.9 117.2h1M127.8 120.1h1M130.4 114.5h1M115.1 125.4h1M133.5 114.1h1M121.7 133.4h1M118.5 128.6h1M128 108.2h1M115.7 137.2h1M122.9 113.9h1M118.8 138.5h1M120.5 123h1M118.7 137.9h1M127 117.4h1M138 99.3h1M108.6 126.2h1M120.5 108.6h1M140.5 91.8h1M126.8 127.7h1M129.5 121.3h1M114.8 126.4h1M143.1 91.7h1M140.1 92.3h1M125.9 118.7h1M122.7 113.5h1M131 99h1M117.4 119.7h1M120.4 114h1M136.1 104.7h1M135.7 97.1h1M117.2 110.3h1M140.6 88.1h1M124.1 119.9h1M123.8 120.8h1M132 105.4h1M135.9 111.1h1M120.5 112.4h1M113.7 137.6h1M107.8 125.1h1M121 117.3h1M109.1 131.3h1M121.7 137.2h1M124.6 123.3h1M129.5 113.2h1M110.8 133h1M132.8 110.5h1M128.4 100.1h1M118.4 130.7h1M111 133.9h1M109.7 122.5h1M132.7 103.6h1M128.1 111.8h1M115.8 127.9h1M134.4 108.3h1M120.3 129.3h1M133.7 106.4h1M127.1 116.9h1M117.1 122.1h1M115.6 130.3h1M127.4 113.4h1M143.2 92.1h1M117.1 108.7h1M115.6 116.7h1M119.8 133.9h1M123.2 128h1M120.2 137.5h1M140.9 99.9h1M124.8 114.5h1M127.5 114.7h1M145.9 91.2h1M117.6 124.6h1M118.5 126.8h1M134.7 102.6h1M124.3 119.7h1M118.7 108.8h1M133.3 114.4h1M127.2 107.9h1M131.2 122.1h1M95.5 126.7h1M122.5 117.6h1M106.9 139.6h1M132.8 111.3h1M131.3 107.8h1M134 104.5h1M134.9 105.1h1M120.5 120.1h1M115.6 133h1M128.1 109.6h1M103.8 138.4h1M127.6 120.2h1M133.3 98.3h1M136 117.1h1M98.7 137.5h1M127.8 125h1M119.4 133.1h1M118.5 125.2h1M134.5 89.9h1M125.2 111.5h1M125.8 129.9h1M128.7 113.4h1M127.1 119.6h1M120.1 138.7h1M97.3 128.8h1M122.7 122.4h1M118.2 123.9h1M121 125.1h1M126.9 113.1h1M124.3 112.2h1M130.1 97.3h1M132.8 115h1M122.9 115.3h1M122.5 110.4h1M125.7 105.4h1M120.5 126.6h1M123.5 122.6h1M121.8 133.4h1M124.3 126.9h1M128.4 120.6h1M128.5 106.3h1M127.5 117.1h1M131.2 94.8h1M128.6 100.1h1M120.3 113.7h1M129.4 128.1h1M131.5 116.2h1M127.1 121.5h1M137.9 98.3h1M125 135.4h1M115.9 117.2h1M129.7 112.1h1M127.9 113h1M128 96.4h1M144.9 89.8h1M124 127h1M135.1 102.7h1M115.8 118.3h1M107.9 126.1h1M116.9 140.1h1M110 124.3h1M140.6 93.3h1M140.3 99.1h1M118.2 141.1h1M132.7 110.7h1M127.1 107.1h1M109.3 128.3h1M109.6 131h1M118.5 114.8h1M128.6 109.5h1M109.4 127h1M127.1 117.3h1M120.7 135.3h1M109.7 130.9h1M135.6 99.1h1M134.7 104.9h1M110 115h1M126.4 120.2h1M100.8 134.1h1M130.5 112.3h1M121.9 115.7h1M129.4 95.1h1M116.8 116.6h1M108.5 123.6h1M124 109.6h1M128.4 111.9h1M121.7 129.5h1M114.8 129.7h1M142.1 97.1h1M124.2 117.7h1M116 117.2h1M114.6 141h1M123.6 121.7h1M115 122.6h1M137.8 100.5h1M115.7 139h1M120.5 118.2h1M120.9 122.1h1M140 87.5h1M134.3 106.4h1M128.4 108.1h1M109.6 128.1h1M129.1 104.7h1M119.7 119.3h1M127.9 116.7h1M116.7 122.9h1M129.3 110.3h1M129.1 127.3h1M126.2 115.2h1M122.8 118.2h1M133.1 98.6h1M121.2 123.3h1M132.5 98.1h1M119 129.5h1M129.1 121.2h1M135.2 117h1M105.4 125.1h1M137.5 107.5h1M126.5 108.8h1M140.7 105h1M114 137.9h1M133.3 98.6h1M133.4 105.3h1M140.1 96.8h1M125.2 125.8h1M115.1 133.9h1M145.7 89.4h1M129.3 109.8h1M145.5 89h1M119.9 137.1h1M128.1 118.5h1M119.4 115.7h1M117.7 129.6h1M124.2 109.2h1M127.2 121.9h1M121.1 122.3h1M130 116.4h1M131 110.6h1M115.7 133.4h1M114.8 123.1h1M121.1 135h1M129.9 118.7h1M137.5 108.4h1M115.5 135.4h1M127.2 113.3h1M122.6 119.2h1M128.1 116.8h1M118.4 124h1M120.5 119.1h1M118.6 137.6h1M129.6 103.8h1M112.6 132.8h1M98.2 114h1M123.5 112.2h1M124.4 107.7h1M122.2 101.7h1M134.7 100.8h1M131 112.4h1M129.9 116.5h1M110.3 129.3h1M123.9 130.9h1M107.2 114.2h1M120.2 124.7h1M123.6 125.2h1M116.6 133.8h1M119.7 129.2h1M105.2 123.6h1M123.2 111h1M129.6 107.9h1M140.1 96.8h1M138.6 98.9h1M117.7 121.6h1M129.8 105.5h1M120.8 122.1h1M118.5 125h1M124.3 109.2h1M134.7 114.8h1M128.2 115.8h1M131.7 121.3h1M129.9 105.6h1M123.2 124.3h1M120.3 126.4h1M126.1 121.7h1M115.2 136h1M132.5 117.6h1M128.4 110.2h1M133.2 100.3h1M120.6 109.8h1M115.8 136.4h1M123.2 115.5h1M120 110.7h1M129.4 112.1h1M130.6 116.4h1M117.7 116.9h1M127.5 116.4h1M119.6 123h1M121.9 132.5h1M120.2 115.2h1M132.3 105.8h1M130.7 105.4h1M136.5 111.1h1M153.7 73.9h1M123.3 121.9h1M130 97.3h1M126.6 121.4h1M130 102.9h1M127.2 121.7h1M138.5 113h1M112.9 114h1M127.8 114.8h1M125.2 122.6h1M117 115.3h1M138.5 99.7h1M131.8 105h1M139.6 101.1h1M106.7 133.1h1M121.1 104.1h1M122.4 127.6h1M124.1 116.3h1M115.5 139.2h1M130.6 127.8h1M125.2 118h1M114.5 128.9h1M126.2 130.6h1M114.6 140.7h1M112.1 119.5h1M147.8 90.9h1M128.7 113h1M126.4 109.3h1M111.8 126.5h1M132.8 105.9h1M126.4 118.4h1M117.4 115.4h1M121.9 132.5h1M137.8 100.8h1M124.2 118.6h1M123.8 123.2h1M143.1 91.2h1M115.3 140.4h1M134.4 103.7h1M126.8 115.9h1M125.3 101.9h1M117.7 128.4h1M130.6 113.5h1M115.4 136.9h1M124.8 103.2h1M120.4 125.2h1M126.4 112.6h1M125.8 119.3h1M132.9 108.8h1M147.8 79.8h1M123.7 118.9h1M120.5 105.6h1M129.2 115h1M130 105.1h1M135.9 109.2h1M131.2 112.7h1M108.6 139.1h1M118.1 112.8h1M126.9 120.9h1M130.4 99h1M125.4 118.1h1M123.1 112.4h1M122.7 111h1M119.5 132h1M141 95.6h1M134.3 102.8h1M130 111.4h1M116.4 136.9h1M121.7 132.9h1M131.6 101.7h1M123.7 130.1h1M119.4 133.6h1M130.4 110.8h1M104.5 135.3h1M146.8 85.7h1M124.5 114.6h1M113.4 123h1M119.1 137.1h1M104.1 111.5h1M128.3 114h1M122.5 121.4h1M125.7 119.6h1M129.7 100.2h1" fill="none" stroke="#000" stroke-width="1" stroke-opacity="0.8"/>
<line x1="81" y1="92.4" x2="200.3" y2="92.4" stroke="#444" stroke-width="0.9"/>
<line x1="139.5" y1="30" x2="139.5" y2="142.2" stroke="#444" stroke-width="0.9"/>
<rect x="81" y="30" width="119.3" height="112.2" fill="none" stroke="#222" stroke-width="1.2"/>
<path d="M81 142.2v5.3M81 142.2h-5.3M90 142.2v2.8M81 133.8h-2.8M95.2 142.2v2.8M81 128.8h-2.8M99 142.2v2.8M81 125.3h-2.8M101.8 142.2v2.8M81 122.6h-2.8M104.2 142.2v2.8M81 120.4h-2.8M106.2 142.2v2.8M81 118.5h-2.8M107.9 142.2v2.8M81 116.9h-2.8M109.5 142.2v2.8M81 115.4h-2.8M110.8 142.2v5.3M81 114.1h-5.3M119.8 142.2v2.8M81 105.7h-2.8M125.1 142.2v2.8M81 100.8h-2.8M128.8 142.2v2.8M81 97.3h-2.8M131.7 142.2v2.8M81 94.5h-2.8M134 142.2v2.8M81 92.3h-2.8M136 142.2v2.8M81 90.4h-2.8M137.8 142.2v2.8M81 88.8h-2.8M139.3 142.2v2.8M81 87.4h-2.8M140.7 142.2v5.3M81 86.1h-5.3M149.6 142.2v2.8M81 77.7h-2.8M154.9 142.2v2.8M81 72.7h-2.8M158.6 142.2v2.8M81 69.2h-2.8M161.5 142.2v2.8M81 66.5h-2.8M163.9 142.2v2.8M81 64.3h-2.8M165.9 142.2v2.8M81 62.4h-2.8M167.6 142.2v2.8M81 60.8h-2.8M169.1 142.2v2.8M81 59.3h-2.8M170.5 142.2v5.3M81 58h-5.3M179.5 142.2v2.8M81 49.6h-2.8M184.7 142.2v2.8M81 44.7h-2.8M188.4 142.2v2.8M81 41.2h-2.8M191.3 142.2v2.8M81 38.4h-2.8M193.7 142.2v2.8M81 36.2h-2.8M195.7 142.2v2.8M81 34.3h-2.8M197.4 142.2v2.8M81 32.7h-2.8M198.9 142.2v2.8M81 31.3h-2.8M200.3 142.2v5.3M81 30h-5.3" fill="none" stroke="#111" stroke-width="1.25"/>
<text x="81.3" y="157.1" font-size="8.6" text-anchor="middle" fill="#111" stroke="#111" stroke-width="0.3">10<tspan dy="-2.9" font-size="5.2">0</tspan></text>
<text x="73.4" y="141.6" font-size="8.6" text-anchor="middle" fill="#111" stroke="#111" stroke-width="0.3" transform="rotate(-90 73.4 141.6)">10<tspan dy="-2.9" font-size="5.2">0</tspan></text>
<text x="111.1" y="157.1" font-size="8.6" text-anchor="middle" fill="#111" stroke="#111" stroke-width="0.3">10<tspan dy="-2.9" font-size="5.2">1</tspan></text>
<text x="73.4" y="113.5" font-size="8.6" text-anchor="middle" fill="#111" stroke="#111" stroke-width="0.3" transform="rotate(-90 73.4 113.5)">10<tspan dy="-2.9" font-size="5.2">1</tspan></text>
<text x="141" y="157.1" font-size="8.6" text-anchor="middle" fill="#111" stroke="#111" stroke-width="0.3">10<tspan dy="-2.9" font-size="5.2">2</tspan></text>
<text x="73.4" y="85.5" font-size="8.6" text-anchor="middle" fill="#111" stroke="#111" stroke-width="0.3" transform="rotate(-90 73.4 85.5)">10<tspan dy="-2.9" font-size="5.2">2</tspan></text>
<text x="170.8" y="157.1" font-size="8.6" text-anchor="middle" fill="#111" stroke="#111" stroke-width="0.3">10<tspan dy="-2.9" font-size="5.2">3</tspan></text>
<text x="73.4" y="57.4" font-size="8.6" text-anchor="middle" fill="#111" stroke="#111" stroke-width="0.3" transform="rotate(-90 73.4 57.4)">10<tspan dy="-2.9" font-size="5.2">3</tspan></text>
<text x="200.6" y="157.1" font-size="8.6" text-anchor="middle" fill="#111" stroke="#111" stroke-width="0.3">10<tspan dy="-2.9" font-size="5.2">4</tspan></text>
<text x="73.4" y="29.4" font-size="8.6" text-anchor="middle" fill="#111" stroke="#111" stroke-width="0.3" transform="rotate(-90 73.4 29.4)">10<tspan dy="-2.9" font-size="5.2">4</tspan></text>
<text x="139.8" y="19.5" font-size="14.3" text-anchor="middle" fill="#111" stroke="#111" stroke-width="0.3">Vehicle</text>
<text x="235.5" y="45" font-size="11.9" text-anchor="start" fill="#111" stroke="#111" stroke-width="0.3">3.85%</text>
<text x="343.5" y="45" font-size="11.9" text-anchor="end" fill="#111" stroke="#111" stroke-width="0.3">36.11%</text>
<text x="235.5" y="108.4" font-size="11.9" text-anchor="start" fill="#111" stroke="#111" stroke-width="0.3">53.55%</text>
<text x="343" y="108.4" font-size="11.9" text-anchor="end" fill="#111" stroke="#111" stroke-width="0.3">6.49%</text>
<path d="M328.6 70.8h1M303.9 78.5h1M314.3 85.1h1M298 89.3h1M290.9 94.1h1M295.2 87.1h1M288.3 85.3h1M305 104.9h1M314.8 76.6h1M290.7 85.2h1M302.4 80.2h1M289.7 86.4h1M277.6 83.2h1M286.5 91.5h1M299.4 80.5h1M295.5 80.7h1M259.9 107h1M298.7 87.3h1M319.6 79.6h1M305.2 96.5h1M307.8 91.7h1M272.9 79.5h1M307 79.1h1M306 91.3h1M285.5 88h1M273.9 95.9h1M278.8 94.3h1M280.1 80.2h1M312.4 80.1h1M280.2 100.9h1M301.9 90.1h1M298.7 75.7h1M299.9 86.7h1M309 80.3h1M309.8 80h1M318.4 74.7h1M286.5 90h1M295.1 93.6h1M294.9 79.9h1M274.4 98.2h1M297.8 85.5h1M312.8 86.3h1M307.4 80.6h1M301.1 84.2h1M297.1 88.9h1M296.3 67.8h1M308.1 71.2h1M307.2 82.6h1M298.7 66.6h1M281.6 86.7h1M309.8 74.8h1M303.3 69.4h1M320 60.5h1M317.1 70.1h1M308.2 76.4h1M304.4 83.8h1M302.1 69.5h1M296.8 82.3h1M306.6 78.5h1M309.3 74.9h1M289.9 96.6h1M305.7 73.9h1M311.3 73.8h1M307.6 90.8h1M318.8 79h1M315.6 82.6h1M291.6 85.8h1M297.4 89.5h1M307.6 72.4h1M305.4 81.8h1M292.1 90.7h1M293.9 85.9h1M309.1 78.3h1M293 91.2h1M313.8 72.9h1M301.5 79h1M306.1 77.5h1M310.4 69.5h1M268.3 101.5h1M337.8 70.7h1M297.6 74.7h1M295.2 73.9h1M290.1 97.9h1M300.4 87.8h1M285.8 85.6h1M303 80.2h1M294.5 83.1h1M301.2 87.2h1M304.5 76.4h1M298.5 77.3h1M288 90.1h1M289.4 77.3h1M298.3 65.9h1M319 74h1M286 86.2h1M297.4 84.8h1M285.9 85.3h1M300.7 78.3h1M306.7 85.5h1M275.7 98.2h1M294.7 89.3h1M311.2 76.4h1M316.4 71.1h1M306 74.5h1M313.5 84.4h1M311.9 74.3h1M286.9 84.6h1M299.4 71.9h1M307 75h1M275.8 82.5h1M314 67.6h1M300.9 71.6h1M287.8 83.4h1M303.8 87.9h1M302.9 77.5h1M315.9 65.2h1M288.8 104.3h1M299.8 83.8h1M294.6 96.9h1M301.9 90.3h1M289.2 81.3h1M305.3 85h1M288 90.4h1M321.3 73.8h1M322.2 75.5h1M295.2 79.2h1M291.1 86.7h1M282.4 86.8h1M315.3 78.4h1M303.5 83.3h1M266.1 79.4h1M304.2 72.9h1M303.8 78.4h1M333.1 77.7h1M297.9 86.6h1M295.2 79.1h1M296.5 94.7h1M285.7 86.6h1M307.9 70.9h1M319.8 74.8h1M308.8 71.4h1M300.8 87.6h1M312.3 80.4h1M300.1 89.8h1M319.9 71h1M295.2 86.8h1M297.1 82.9h1M284.8 100.2h1M301.9 72.2h1M288.2 87.9h1M301.5 99.6h1M300.3 90.6h1M310.5 77.6h1M304.7 91.1h1M308.4 92.9h1M297.6 72.2h1M283.3 84.7h1M316.5 74.1h1M312.3 74.3h1M301.5 97.4h1M293 98.1h1M325.9 65h1M302.8 91.4h1M323.5 77.9h1M312.9 65.8h1M303.1 85.6h1M304.1 90.4h1M301.4 67.6h1M306.4 69.8h1M291 84.7h1M290 91.4h1M299.4 62.1h1M300.7 81.3h1M278 93.3h1M294.6 96.5h1M282.7 90.8h1M293.1 80.5h1M297.4 83.6h1M313.7 67.6h1M303.5 68h1M305.9 86.6h1M296.5 96.7h1M305.4 82.2h1M302.8 73.6h1M290.2 86.2h1M314.1 73.2h1M311.2 77.1h1M290.1 89.6h1M276.2 90h1M289.4 77.2h1M285.6 89.3h1M304.6 81h1M307 84.1h1M292.8 97.6h1M296.5 90.7h1M304 82.7h1M295.1 90.8h1M279.7 96.7h1M309.4 87.4h1M294.7 79.6h1M291.4 85.4h1M286.5 69.8h1M311.7 65.6h1M289.9 82.5h1M296.8 80.9h1M292.9 84.8h1M290.2 85.3h1M324.9 78.8h1M283.2 87.6h1M310.4 79.1h1M305.2 75.5h1M301.4 69.9h1M290.2 82.2h1M304.7 84.9h1M310.4 86.7h1M279.2 85.2h1M281.3 78.9h1M313.7 78.4h1M297.8 101.6h1M305 92.6h1M324 82h1M310.4 98.5h1M291.2 76.2h1M297.8 90.1h1M293.2 82.9h1M311 77.6h1M275.3 93.7h1M302.9 61.4h1M301.3 79.9h1M291.1 81h1M323.9 76.5h1M304.6 88h1M292.7 87.8h1M308.6 84h1M291.7 75.6h1M303.3 74.4h1M305.2 80.6h1M302.9 76.1h1M296.3 75.7h1M296.8 76.5h1M297.6 77.4h1M294.2 90h1M282.3 82.3h1M305.1 77.4h1M310.1 83.1h1M302.9 84.6h1M279.4 96.1h1M284.8 79h1M293.6 90.9h1M311.3 75.6h1M283.8 89.5h1M285.2 76.5h1M290.4 93.7h1M270.8 104.5h1M322 70.4h1M287.9 86.7h1M296.7 84.3h1M321.4 53h1M312.4 61.1h1M296.3 100.3h1M307.1 74.7h1M300.9 82.5h1M306.2 73.8h1M301.2 77.3h1M299 85.7h1M316.9 74.3h1M320.6 64.8h1M296.7 74.7h1M295 86.5h1M296 84.3h1M300.4 64.6h1M309.8 85.2h1M297 98.8h1M305.2 71.7h1M302.5 77.6h1M304.5 75.9h1M306.6 76.3h1M285.2 82.8h1M321.3 83.3h1M301.4 90.6h1M306.9 80.4h1M312.4 65.7h1M296.3 88.1h1M291.2 82.4h1M287.7 85.5h1M280.1 84.9h1M309.6 86.1h1M290.4 86.4h1M313.4 97.9h1M296.9 71.3h1M299.7 93.4h1M313.2 72.4h1M300 76.9h1M288.2 94.4h1M291 96.6h1M300.1 90.7h1M316.7 68.2h1M315.4 86.9h1M298 84.5h1M300.2 78.2h1M294 93.1h1M302.9 61.7h1M324.9 70h1M290.2 86.1h1M299.1 68h1M299.9 88.2h1M314.6 79.6h1M288.2 84.5h1M301.5 89.9h1M298.4 86.4h1M300 88.1h1M307.9 80.4h1M289.2 79.5h1M286.6 83.6h1M307.8 80h1M307.7 89.8h1M306.5 86.8h1M289.1 86.2h1M291 86.1h1M300.9 72.9h1M300.8 73h1M292.7 89.3h1M303.2 70.5h1M307 82.4h1M291.1 95h1M316.3 80.7h1M295 79.7h1M307.5 83.5h1M322.1 67.9h1M300.3 75.2h1M293.9 79.9h1M301.5 88.4h1M287.7 86h1M301.7 82.4h1M295.6 86.6h1M305.1 70.1h1M296.2 82.1h1M282.9 101.3h1M295.2 92.3h1M315.3 90.3h1M303.1 74.7h1M326.8 70.6h1M299.9 70h1M313.9 81.6h1M300 91.4h1M298.3 77.4h1M313.5 69.7h1M306.4 69.7h1M288.3 83.3h1M311.7 76.7h1M288.6 87.3h1M299.3 76.8h1M281 96h1M318.3 60.9h1M299.3 84.8h1M300.4 89.7h1M295 85.2h1M286.7 90.3h1M307.5 88.1h1M300.3 94.4h1M299.7 80.4h1M293.9 85h1M303.8 74.2h1M286 92.7h1M290.3 102.9h1M308.9 70.7h1M311.6 69h1M293.5 84h1M289.1 77.3h1M271.9 95h1M291.2 81.3h1M315.8 78h1M311.6 66.5h1M275.7 81.2h1M291.4 98h1M313.2 80.2h1M302.7 80.8h1M282.8 78.9h1M316.5 71.8h1M317.9 71.7h1M304 82.2h1M286.3 92.7h1M287.8 85.7h1M303.7 84.5h1M313.2 71.4h1M322 72.5h1M298.2 89h1M303.2 81.4h1M294.3 71.1h1M311.2 80.6h1M305.5 80.9h1M297.3 85.3h1M298.5 77.6h1M311.3 75.1h1M290.9 87.3h1M298.8 84.9h1M286.8 90.7h1M275.1 86.1h1M305.7 72.6h1M288.6 86.6h1M315.2 74.9h1M288.3 89.6h1M271.2 91h1M309.8 87.5h1M303.9 70.5h1M304.9 73.7h1M316.6 70.6h1M316.6 74h1M293.4 88.4h1M286.8 86.4h1M290.8 84.3h1M297.9 70h1M321.9 73.8h1M298.6 84.1h1M286.7 75h1M314.7 75.2h1M286.7 94.9h1M294.8 72.2h1M280.5 81.5h1M282.6 89.2h1M288.4 92.1h1M271 93.9h1M304 88.1h1M276.2 96.3h1M304.8 91h1M305.9 79.6h1M290 94.3h1M269.7 93.6h1M311.7 76.9h1M289.7 97.1h1M299.6 89.5h1M306.2 85.6h1M305.9 69.1h1M296.1 90.9h1M266.5 101.2h1M307.4 85.4h1M314.8 79h1M283.7 84.8h1M312.3 91.7h1M296.5 94.5h1M296.8 82.5h1M294.2 84.2h1M311.2 78.3h1M289 96.4h1M303.3 66.3h1M296.6 81h1M292.8 90.9h1M312.5 79h1M301.4 80.3h1M312.1 73.2h1M300.3 84.4h1M290.3 79.5h1M329.5 77.9h1M314.9 81.6h1M294 88.1h1M296.2 87.3h1M286.8 75.2h1M285.9 95.6h1M290.5 86.1h1M285.4 90.7h1M294.4 69.6h1M307.3 78.4h1M294.6 70.4h1M301 87.1h1M294.2 88.4h1M313.3 82.5h1M293.5 86.1h1M287.2 84.3h1M293.7 81.7h1M300.4 69.9h1M322.4 76.1h1M289.2 97.7h1M303.4 75.9h1M300 82.4h1M313.8 66.9h1M300.2 77h1M279 84.8h1M322.6 67.9h1M290.8 77.4h1M294 84.7h1M307.3 79.1h1M314.6 89.2h1M270.1 93.4h1M305.1 77.3h1M295.4 84.3h1M308.9 86.1h1M305.5 85.1h1M322.1 66.4h1M299.5 74.2h1M307.2 70.2h1M292.2 85.3h1M309.1 74.9h1M303.3 84.6h1M297.3 72.4h1M291.3 98h1M292 99.1h1M307.7 62.4h1M305.3 78.2h1M311.8 66.7h1M274.8 97.1h1M328.8 68.5h1M294.2 90.3h1M319.1 74.4h1M300.6 72h1M302 80.6h1M292.7 96.1h1M316.6 82.8h1M307.7 67.5h1M317.4 73.4h1M290.3 86.8h1M312.6 70.3h1M305.8 79.6h1M317.1 87.7h1M281.5 80.1h1M302.9 74.7h1M281.7 99.3h1M295.6 85.3h1M315.2 77.7h1M304 85.5h1M296.2 81.2h1M301.2 73.3h1M283.3 85.4h1M307.8 83.8h1M316.9 77.5h1M294.1 81.1h1M317.2 75.3h1M315.1 70h1M289 82.5h1M303.3 85.8h1M294.1 75.4h1M304.8 81.2h1M313.9 85.1h1M302.7 69.8h1M291 96h1M291.2 88.7h1M291.7 86.9h1M288 86.7h1M304.8 75.6h1M290.8 80.6h1M285 95.8h1M294.7 74.8h1M293.6 80.7h1M311.4 59.6h1M322.1 75.6h1M301.3 77.2h1M305.7 74.5h1M298.6 82.4h1M282.3 86.4h1M305.6 83.3h1M320 70.3h1M290.8 82.5h1M302.7 75.1h1M296.4 77.9h1M297.3 73.9h1M306.5 84.6h1M286.8 85h1M315.5 84.6h1M307.1 78.4h1M306 84.9h1M289.8 92.5h1M292.5 89.5h1M301.1 80.9h1M324.3 75.4h1M294.9 84.1h1M310.5 84.1h1M283.3 89.5h1M302.3 75.9h1M312.5 86.9h1M312.3 75.8h1M324.5 70.8h1M276.6 96.3h1M301.1 78.7h1M304.2 83.7h1M282.2 93.5h1M298.8 87.8h1M301.8 83.3h1M280.6 99.8h1M291.7 88.8h1M318.2 71.7h1M313.4 90.9h1M315.3 77.4h1M309.7 84.9h1M296.9 77.3h1M299 80.7h1M294.1 91h1M303.7 81.3h1M303.8 85h1M293.2 79.9h1M317 75.3h1M292.5 85.3h1M309.3 74.3h1M312.7 76.1h1M296 99.2h1M308.6 75h1M291.8 83.9h1M283.8 83.1h1M307.5 68.4h1M290.3 76.3h1M303.7 67.2h1M278.2 87.2h1M293.3 80.7h1M290.6 79.7h1M294.5 80.5h1M283.5 82.8h1M299.2 82h1M274.9 82.2h1M283.8 79.8h1M286.5 76.2h1M290.9 83.5h1M284.5 80.4h1M289 79.7h1M293.6 79.6h1M298.5 82.3h1M292.3 77.7h1M277.4 83.2h1M278 79h1M296.1 83.5h1M280.9 83.1h1M289.3 79.6h1M283.4 78.1h1M285.5 76.4h1M280.9 81.4h1M283.2 80h1M293.2 80.9h1M279 81.6h1M277.1 84.8h1M284.2 78.7h1M284.4 81.8h1M290.3 78.2h1M285.1 78.4h1M282.3 79h1M287.3 82.9h1M279.2 81.7h1M286.2 86.3h1M285.4 80h1M281.7 79h1M271.4 79.4h1M277.2 81.5h1M293.9 80.8h1M291.4 80.1h1M280.8 80.9h1M271.8 80.8h1M284.2 76.5h1M289 77.9h1M275.8 81.8h1M286 78.7h1M274.8 77.4h1M278.1 79.3h1M279.4 78.2h1M289.9 77.5h1M276 79.6h1M300.7 79.9h1M286.8 79.7h1M279.2 75.8h1M295.4 81.6h1M287.1 75.4h1M286.8 79.8h1M290.9 77.9h1M273.7 81.9h1M295.7 81.3h1M282.8 81.5h1M298.2 83h1M284.6 80.9h1M280.8 82.9h1M276.9 80.5h1M285.1 84.5h1M283.8 82.1h1M282.7 81.1h1M282.2 80.6h1M286.8 80h1M269.8 85.9h1M271.7 79.3h1M269.8 82.5h1M297.5 80.9h1M281.5 79.2h1M288.1 81.3h1M283.9 85h1M285.6 78.6h1M269.4 77.7h1M298 86.3h1M281.4 76.5h1M288.4 81.7h1M278.1 80.9h1M288.4 82.1h1M271.4 79.7h1M276.8 75.8h1M274.8 79.3h1M281.2 83.7h1M278.9 84.9h1M286 82.4h1M273.1 83.9h1M294 78.7h1M275 80.4h1M287.8 78.6h1M283 85.2h1M296.4 80.4h1M293.9 83.2h1M289.2 76.7h1M292.1 83.1h1M280.9 76.2h1M276.4 78.3h1M281.6 83.7h1M290.5 77.3h1M288.1 79.4h1M291 84.9h1M282.6 75.8h1M286.9 77.3h1M281.1 79.1h1M273.7 78.7h1M285.2 80.9h1M282.8 79.8h1M284.6 78.1h1M291.1 85.3h1M285 77.2h1M273.8 80.4h1M301.9 81.6h1M291 79.4h1M271.6 80.6h1M268.4 80.9h1M290.2 78.4h1M285.4 81.3h1M288.1 76.9h1M289.2 77.5h1M286.7 78.9h1M275.9 76.2h1M274.6 82.2h1M277.4 81.8h1M293.6 80.5h1M280.9 80.7h1M283 76.7h1M295 81.1h1M296.7 78.5h1M285.5 76.7h1M284 79.2h1M284.3 82.9h1M273.1 82.4h1M276.1 81.4h1M278.7 77.2h1M283.2 78.1h1M285.7 82.1h1M280.8 83.7h1M269.3 79.1h1M282.7 79.8h1M290.7 83.4h1M281.7 85.6h1M275.9 78.6h1M270.7 83.3h1M280.4 75.9h1M288.9 80.5h1M287.7 79.8h1M279.6 81.4h1M286.3 80.4h1M288.9 81.4h1M289.4 81.1h1M292.2 77.6h1M277.2 74.4h1M285.7 81.7h1M272.9 79.8h1M283.9 81.9h1M274.1 81.2h1M274.3 81.7h1M275.8 79h1M262.6 75.1h1M279.2 80.2h1M272.3 77.4h1M281.6 80.9h1M275.5 78.6h1M286.6 81.6h1M295.7 82.3h1M292.3 79.6h1M271.9 80.7h1M287.1 81.1h1M283.5 80.3h1M286.1 81.7h1M297.4 79.2h1M294.5 80.7h1M284.4 82.5h1M283.2 76.3h1M285.3 81.8h1M278.5 78.6h1M281.5 75h1M284.7 80h1M288.6 76h1M270.8 81.8h1M277.4 84.9h1M281.6 80.3h1M289.6 78.5h1M288.1 78.5h1M279.5 72.9h1M294.7 80.8h1M275.7 78.8h1M290.9 78.8h1M289.1 77.6h1M286.3 82.3h1M279 84.4h1M290.3 81.3h1M284.4 74.8h1M276.6 80h1M276.5 84.6h1M290.7 80.3h1M282.4 78.1h1M281.3 78.3h1M292.9 81.7h1M286.4 79.7h1M291.3 74h1M275.1 76.2h1M283.8 78.4h1M286 80.4h1M273.2 80h1M276 76.4h1M286.5 81.4h1M280.1 77.3h1M271.8 79.5h1M284.1 82.2h1M291.2 81h1M291.2 79.5h1M278 80.3h1M290.8 82.3h1M276.5 80.3h1M287.3 78.5h1M275.4 82.9h1M282.2 80.6h1M285.2 83.8h1M279 82.8h1M295.4 85.1h1M275.6 81.3h1M269.1 81.2h1M276.9 83.9h1M279.1 76.8h1M283.9 76.7h1M292.8 79.7h1M280.5 85.4h1M266.8 79.5h1M283.4 79.6h1M276.1 80.8h1M274.4 77.9h1M283.6 85h1M278.3 77h1M274.7 82.8h1M275.3 81.4h1M283.6 80.5h1M284.1 81.5h1M287.9 76.6h1M276 79.4h1M285.3 79.6h1M282.6 78.9h1M281.2 81.6h1M276.9 78.2h1M278.9 84.4h1M279.2 81.3h1M305.9 91.2h1M299.2 89.8h1M304.1 88h1M301.2 93.2h1M305.5 87.9h1M298.6 97.2h1M303.4 98.2h1M300 98.5h1M303.3 85.7h1M303.2 90.8h1M301.3 95.7h1M302.9 96.5h1M298.1 97h1M311.9 97h1M298.6 83.6h1M304.6 94.9h1M297.8 98.7h1M302.2 97.9h1M299.6 93.2h1M298.5 90.4h1M302.9 99.5h1M297.7 95h1M304.2 105.6h1M308.7 98.4h1M297.8 89.9h1M299.4 102.3h1M298.1 102.6h1M302 103.4h1M303.9 103.1h1M302.6 110.3h1M301.1 97.6h1M305 99.3h1M303.3 95.2h1M299.9 94.1h1M303.9 100.4h1M298.7 89.8h1M306.6 96.1h1M306.6 88.7h1M302.4 93.8h1M304.8 94.3h1M302.5 99.8h1M305.5 95.9h1M308.5 94.5h1M303.2 104.4h1M302.5 95.5h1M302.4 101.4h1M293.1 102.4h1M303.3 87.9h1M299 94.2h1M298.5 91.7h1M302.1 97.2h1M304.1 101h1M300.6 91.5h1M298.1 102.6h1M305.5 93h1M300.1 101.7h1M303.3 86.3h1M307.9 99h1M301 97.8h1M296.9 95.6h1M301.5 91.1h1M300.1 95.3h1M300.8 100.4h1M308.9 102.4h1M302.5 94.9h1M309.3 95.4h1M301.4 95.6h1M308.8 93.9h1M305.1 84h1M299.9 90.4h1M300.1 89.8h1M304.7 93.3h1M303.9 95.5h1M293 104.1h1M310.2 96.5h1M302.5 93.6h1M306.2 95.9h1M306.5 93.4h1M301 96.1h1M306.5 102.3h1M303.2 101.4h1M302 106.1h1M303.3 100.8h1M306.7 99.1h1M309.9 90.4h1M300.4 85h1M303.4 94.8h1M298.6 97.6h1M300.7 104.6h1M299.2 89.3h1M301.1 97.3h1M300.2 99.8h1M301 98h1M303 92.3h1M302.6 98.1h1M299.9 93.9h1M304.3 99.2h1M296.6 98h1M295.7 88.8h1M302.9 90h1M302 92.4h1M308.5 92.6h1M299.2 106.4h1M300.8 96.4h1M298.6 108.8h1M300.4 98.6h1M296.2 98.7h1M305.1 104.6h1M303 98.5h1M303.3 96.3h1M299.1 94.9h1M309.4 95.8h1M297.6 99.8h1M308.8 99.2h1M302.9 105.6h1M297.1 98.6h1M303.6 101.9h1M303.7 100.2h1M295.3 99.7h1M304.5 84.6h1M297.4 96h1M303.7 95.4h1M303 88.9h1M306.5 101.8h1M299.6 97.8h1M297.5 97.1h1M305.2 101.1h1M301.5 101.9h1M303 95h1M299 92.4h1M299.2 97.4h1M303.5 103.5h1M301.4 104.1h1M306 98.7h1M297.4 93.3h1M301.2 86.8h1M302.1 93.9h1M298.7 99.2h1M302 92.5h1M307.1 97.1h1M302.1 103.1h1M300.3 98.5h1M306.2 87.1h1M301.8 101.6h1M299.3 92.7h1M307.4 93.7h1M308.3 97.3h1M301.3 96.4h1M298.5 98.9h1M300.7 108.7h1M302.8 94.2h1M307.2 98.4h1M306.6 102.3h1M306.9 101.7h1M302.3 105.4h1M308.6 99.9h1M306.6 98h1M303.6 93.1h1M298.7 94.9h1M301.5 103.2h1M306.5 98.3h1M307.3 96.6h1M301.6 100.7h1M302.9 101h1M306.1 100.7h1M307.6 99.4h1M302.6 101h1M310.8 109.4h1M305.7 90.6h1M306.8 86.5h1M308.1 106.9h1M303.4 102.9h1M302.2 98.5h1M306.5 92.3h1M302.8 102h1M304.1 96.8h1M301.4 91.9h1M307.5 102.1h1M307.3 103.8h1M301.2 106.7h1M304 87h1M298.6 101.2h1M299.2 96.8h1M306.5 105.9h1M305.4 85.9h1M301.8 97.5h1M304.8 109h1M299.6 94.4h1M302.7 93.1h1M299.3 98.4h1M300.1 104.2h1M305.1 87.3h1M299.6 95.1h1M304.9 89.4h1M300.4 106.5h1M304.4 102h1M298.4 99.4h1M302.6 96.5h1M302 109.7h1M295.2 94.8h1M307.4 94.5h1M299 91.8h1M299.4 89.6h1M303.8 92.3h1M299.9 93.7h1M295.8 89.8h1M298.5 97.7h1M306 91.7h1M303.4 106.3h1M307.5 99.2h1M298.1 88.2h1M312.3 99.1h1M307 91.1h1M304.5 93h1M304.2 109h1M300.4 99.9h1M300 96.5h1M302.8 93h1M310.7 101.4h1M305.7 86.3h1M302.9 106.6h1M302.9 89.6h1M305.2 105.6h1M304.1 97.8h1M301.4 92h1M294.2 88.1h1M309.5 99.3h1M299.7 105.6h1M304.4 100.4h1M296 109.3h1M304.9 91.4h1M298.4 88.3h1M301.1 96.3h1M299.4 90.9h1M302.2 97.4h1M304.1 101.5h1M307.8 95.1h1M300.7 104.2h1M303.6 96.3h1M302.3 104.1h1M307.5 96.5h1M306.4 93.6h1M302.4 101.1h1M298.4 91.7h1M302.2 88.8h1M308.1 93.8h1M303.3 90.6h1M309.1 97.4h1M305.5 87.2h1M299.7 92.8h1M302.6 93.4h1M306.5 97.5h1M304.7 86.6h1M305.9 93.2h1M303.7 95.9h1M307 97.7h1M301.9 99.8h1M302.2 95.4h1M303.2 97.6h1M311.3 102.7h1M303.9 92.3h1M303.3 95.8h1M298.8 95.9h1M306 101.6h1M304.7 91.4h1M303.5 95.7h1M298 89.6h1M311.2 89.1h1M309.1 113.2h1M300.5 99.9h1M303.3 100.4h1M296.5 98.6h1M297.2 99.3h1M306 86.2h1M304.8 92.6h1M296.5 104.4h1M305.1 93.7h1M303.4 101.5h1M301.3 94.7h1M309.1 97.6h1M294.8 83.7h1M305.3 100.5h1M308 92.7h1M301.2 100.6h1M305.9 96.7h1M307.8 100.7h1M300.4 105.1h1M302.1 84.7h1M295.1 94.6h1M298.9 102.8h1M309.8 109.2h1M301.1 111.1h1M300.4 94.3h1M302.8 91.2h1M305.5 100.3h1M303 94.4h1M301.5 110.7h1M301.2 95.4h1M303.5 108.6h1M299.7 93.3h1M300 91.7h1M298.8 108.6h1M298.5 83.7h1M300.1 101.3h1M304.4 100.7h1M295.6 100.9h1M306.5 107.3h1M298 98.6h1M303.5 101.4h1M309.1 99.4h1M298.3 96.4h1M303.5 97.3h1M301.9 84.8h1M308.2 94.3h1M302.2 92.7h1M305.7 95.5h1M299.6 90.5h1M304.8 104.5h1M305.4 91h1M305.3 98.9h1M302.2 101h1M301.6 89.9h1M305.2 103.5h1M304.6 89.7h1M308.4 93.8h1M300.1 98.9h1M300.7 101h1M298.4 96.6h1M303.7 100.7h1M309.6 99.6h1M305.9 84.8h1M302.2 85.5h1M304.6 85.4h1M306 102.8h1M300.5 106.1h1M300.9 101.1h1M303.9 109.9h1M296.2 99.7h1M300.5 92h1M301.7 101.8h1M304.5 107.4h1M304 91.2h1M306.1 101.9h1M309.2 94.6h1M304.6 90.9h1M307.9 102.8h1M303 98.1h1M303 94h1M305.4 97.5h1M305.9 89h1M304.1 106.3h1M295.8 99.5h1M302.2 98h1M303.2 97.6h1M307.6 97.3h1M301.2 100.2h1M305.1 101.3h1M301.9 97.9h1M299.9 107.2h1M298.2 104.2h1M299 100.2h1M304.1 100.3h1M298.1 90.2h1M302.5 110.2h1M302.3 105.9h1M301.4 100.3h1M304 107.9h1M303.4 91.2h1M297.8 93h1M304.6 95.6h1M308.3 101.7h1M301.2 95h1M305 96.9h1M304.1 98.6h1M304.3 100.1h1M303.8 101.1h1M301.3 106.9h1M300.4 97.5h1M300.4 96.9h1M306.8 98.2h1M300.2 99.3h1M296.1 91.9h1M308 104.3h1M313.1 102.9h1M305.9 96.5h1M308.6 90.8h1M306.8 88.6h1M303.8 93.2h1M299.7 85.7h1M303 93.1h1M303.5 101.5h1M299.5 100.3h1M301.9 103.7h1M303.3 93.9h1M304.4 100.6h1M302.9 89.1h1M306.1 98.8h1M301.6 92.1h1M295.5 93.4h1M299.1 100.6h1M281 93.3h1M246.8 99.3h1M327.5 131.1h1M301.9 64.4h1M282.7 93.2h1M278.6 108.4h1M338.3 74.6h1M274 101.8h1M279.1 112.3h1M268.7 80.7h1M277.6 78.7h1M281.5 77.3h1M283.7 135.7h1M272.7 106.5h1M313.8 95.5h1M263 78.1h1M298.1 104.4h1M274 88.3h1M287.3 138.2h1M289.6 101.9h1M283.7 118.6h1M297.7 137.3h1M312 122.3h1M255.4 102.9h1M328.4 85.9h1M258.2 127.1h1M308.5 103.2h1M303 95.6h1M247.2 79.1h1M258.4 105h1M267.4 100.2h1M324.1 97.3h1M273.1 108.8h1M290.1 114h1M313.2 126.6h1M305.2 130.2h1M309.2 93h1M296.6 85.3h1M328.1 108.2h1M298.9 134.7h1M268 85.7h1M238.9 77.6h1M312 122h1M296.3 124.1h1M323.5 122.9h1M325.9 109.9h1M263.7 90.2h1M307.1 97.7h1M320.2 119.7h1M252.6 111.5h1M300.1 102.7h1M270.7 99.4h1M259 105.2h1M307.9 101.9h1M306.4 140.5h1M284.6 114.7h1M284.1 117.5h1M295 95.2h1M313.2 111.3h1M285.7 101.6h1M251.6 92.7h1M275.5 92.5h1M301 102.2h1M326.4 85.9h1M306.4 128.3h1M267.7 118.8h1M283.3 123.3h1M266.6 83.9h1M244.4 56.6h1M289.9 110h1M240 106.3h1M301.8 90.6h1M241.7 124.5h1M329.7 107.1h1M324.2 94.6h1M322.9 120.7h1M309.9 107.7h1M237.4 102.6h1M272.8 103.9h1" fill="none" stroke="#000" stroke-width="0.9" stroke-opacity="0.55"/>
<path d="M269.6 128.1h1M285.8 119.8h1M270 124.5h1M277.9 132.5h1M275.9 123.7h1M281 117.1h1M281.9 128.6h1M278 123.1h1M271.8 122.1h1M282.1 126.1h1M281.9 127.6h1M281 132.9h1M269.4 134.1h1M282.3 127.5h1M296.1 115.4h1M276.9 135.7h1M280.9 127.9h1M266.8 139.5h1M283 130.7h1M273.4 139.2h1M282.1 133.6h1M275.5 127.9h1M276.5 117.6h1M275.1 136.6h1M280.1 125.6h1M283.4 123.5h1M283.5 125.9h1M284.8 124.9h1M285.8 124.8h1M275.9 123.9h1M274.7 127.4h1M275.3 124.3h1M277 119h1M260.5 135.8h1M293.2 111.8h1M279.4 133.7h1M268.9 140h1M283.1 124.6h1M293.6 121.4h1M287.8 121.9h1M263.8 118.8h1M268.7 129.3h1M277.4 124h1M284.6 120.4h1M272.9 140.3h1M266.2 138.3h1M276.4 138.9h1M279.2 130.9h1M284.6 123.4h1M280.9 129.6h1M276 132.1h1M281.5 132.1h1M276 121.4h1M275.3 125.3h1M274 127.6h1M291 120.5h1M281.8 132.5h1M268.3 134.3h1M275.7 135.6h1M274.4 136.7h1M283.5 125.7h1M272.1 140.4h1M281.3 124.8h1M278.6 130.9h1M284.4 124.6h1M284.6 123.3h1M280.1 125.6h1M269 132.4h1M282.3 130.1h1M284.4 123.3h1M280.1 129.8h1M279.5 131.8h1M281.8 124.7h1M285 122.7h1M278.7 126.3h1M283.7 123.1h1M277.3 134.2h1M277.9 137.7h1M277.4 137h1M270.3 131.1h1M279.8 129.8h1M277.5 127.9h1M284.4 121.4h1M270.8 128.7h1M274.8 126.5h1M281.4 132.8h1M272 135.4h1M267.3 139.5h1M274.1 140.3h1M282.5 124.6h1M276 133.8h1M283.1 118.7h1M287.9 113.9h1M282.5 131.8h1M286.9 120.2h1M282.7 118.3h1M280.4 121.5h1M274.5 129.6h1M277.1 134.5h1M287.6 124.2h1M288.4 121.9h1M280.2 138.4h1M278.4 130.1h1M275.3 135h1M272.2 138.1h1M274.8 134.8h1M281.4 130.6h1M281.7 138.6h1M280.8 129.2h1M272.9 130.3h1M280.1 117.5h1M285.5 119.5h1M288.5 117.5h1M280.6 126h1M272.9 134.6h1M281.3 128.4h1M280.1 130.8h1M285.3 133.7h1M266.6 138.9h1M274.8 124.3h1M282.4 124.2h1M274.6 137.3h1M278 123h1M286.3 122.2h1M265.8 136.5h1M277.4 133.8h1M270.8 139.5h1M276.4 119.7h1M288.9 119.6h1M293 116.4h1M281.2 122.9h1M288.2 115.8h1M268.1 133.8h1M269.2 131.4h1M275 129.1h1M272.7 140.1h1M287.6 118.5h1M270.5 136.7h1M275.3 122.9h1M272.1 127.7h1M276.9 140.3h1M279.4 135.8h1M275.6 125.4h1M280.2 117.9h1M278.1 136.8h1M289.9 119.4h1M277.7 133.6h1M282.5 128.6h1M275.6 137.5h1M287.3 118.2h1M275.2 132h1M266.1 133.8h1M286.4 126.7h1M276.1 118.4h1M273.7 138.6h1M277.4 132.8h1M287.5 124.2h1M274.8 138.9h1M275.4 123.2h1M286.5 125.3h1M275.8 139.5h1M284.4 125.4h1M284.8 127.8h1M268.9 128h1M280.8 130.8h1M268 132.1h1M272.3 140.2h1M272.3 139.5h1M265.2 125.3h1M269.6 130.8h1M293.2 116.5h1M281 117.3h1M274.6 132.2h1M276.1 139.4h1M270.9 136.7h1M279.8 122.7h1M265.4 129.3h1M278.1 134.4h1M272.5 136.2h1M278.6 130.6h1M271.9 123.8h1M269.5 138.8h1M275.3 139.4h1M279.8 136.9h1M272.7 136.6h1M288.1 122h1M269.3 131.1h1M279.8 136h1M283.4 139.5h1M292.8 106.3h1M274.3 138.4h1M275.4 133.4h1M285.5 133.7h1M273.7 136.1h1M278.5 128.3h1M273.8 132.5h1M266.6 137h1M281.1 127.4h1M282 125.3h1M278.7 138.2h1M278.7 120.1h1M267.6 133.2h1M268.1 135h1M273 131.5h1M275.5 126.6h1M275.1 135.8h1M276.6 123.9h1M269.5 136.2h1M285.7 123.1h1M271.9 138.8h1M276.4 131.2h1M280.2 115.8h1M293.1 116.8h1M281.4 124h1M289.9 118.2h1M286.7 120.2h1M284.7 123.7h1M269.2 132h1M274.7 138.8h1M282.5 127.4h1M279.6 132.7h1M281.1 129.2h1M274.6 137h1M272.2 131.6h1M273 127.1h1M267.5 130.7h1M290.8 116.1h1M263.9 129.5h1M275.5 137.1h1M273.5 131.6h1M278.7 125.2h1M277.2 129.7h1M278.2 140.5h1M288.2 120.8h1M280.5 131.1h1M280.7 119.3h1M279.5 130.5h1M281.2 128.9h1M278 137.6h1M285.1 124.3h1M261.9 139.7h1M281.5 129.8h1M276.9 131.2h1M279.5 126.7h1M284.4 122.5h1M288.2 123.4h1M289 122.5h1M276.5 134.4h1M286.4 126.7h1M283.4 118h1M268.7 135.3h1M276.7 137.8h1M280.7 128.8h1M282.6 136.4h1M279.8 125.4h1M279.7 127.5h1M273 134h1M269.3 129.3h1M262.1 136.6h1M268.1 130.3h1M282 134.8h1M278.6 129.5h1M274.7 122h1M276.1 139.3h1M264.9 125.2h1M277.9 132h1M277 130.7h1M283.5 126.2h1M292.6 112.4h1M279.5 129.5h1M268.3 126.6h1M293.7 111.5h1M283.6 125.5h1M278.3 133.9h1M289.4 119.6h1M275.9 138.4h1M279.7 124h1M279.9 130.8h1M275.8 135.6h1M269.5 134.8h1M269.1 134h1M298.9 107.6h1M271.1 128.9h1M285.6 126.2h1M287.4 121h1M286.8 115.6h1M271.8 134.4h1M264.2 138.7h1M282.4 136.4h1M277 134.4h1M271.9 132.7h1M282.2 122.5h1M271.2 140.5h1M261.2 135.3h1M269.4 130.1h1M289.9 125.6h1M281.7 127.2h1M286.7 123.9h1M279 131.7h1M282.8 125.1h1M275.7 127h1M270.4 140.2h1M278.4 139.2h1M285.6 121.2h1M281.2 124.6h1M277.1 135.7h1M276.7 132.4h1M280.3 133.8h1M278.8 130.6h1M280.8 118h1M276.2 122h1M275 139.3h1M276.8 132.9h1M273.6 123.5h1M277.2 125.2h1M268.1 132.5h1M278.4 136.3h1M289.1 121.6h1M274.9 132.7h1M266.9 132h1M297.3 109.3h1M284.5 122.1h1M276.4 133.6h1M271.2 126.6h1M278.1 132.8h1M272.4 133.3h1M272 136.6h1M274.9 126.3h1M280.3 123.2h1M276.7 133.8h1M272.3 134.6h1M282.1 129.4h1M271.9 139.8h1M280 124.9h1M279.9 125.3h1M290.3 115.6h1M275.5 135.2h1M261.9 140.5h1M282.1 125.4h1M287.1 122.8h1M290.2 120.2h1M272.3 128.5h1M279.6 120h1M277.6 133.9h1M265.1 129.1h1M275.5 138.6h1M258.6 135.2h1M273.4 134.9h1M282.9 131.4h1M268 140.3h1M272.6 135.5h1M280.2 124.3h1M272.9 124.6h1M286 118.2h1M285.9 122.8h1M295.2 106.2h1M266.2 130.2h1M284.3 122.9h1M272 139.9h1M277.7 130.7h1M279.5 111.4h1M276.3 134.5h1M274.2 137.2h1M283.5 121.2h1M284.2 130h1M286.7 131.8h1M282.1 115.4h1M276.7 117.2h1M282.1 134.4h1M273.8 138.8h1M269.7 131.7h1M279.6 135.4h1M270.7 126.4h1M277.7 136.5h1M284.9 134.1h1M281.3 126.1h1M286.2 124.4h1M271.4 134.7h1M277.7 139.4h1M279.3 127.9h1M265.6 129.7h1M262.3 124.7h1M278.1 134.3h1M283.4 122.3h1M268.2 133.7h1M274.9 134.4h1M279.8 129.6h1M277.3 129.6h1M275.1 137.1h1M264.6 138h1M274.2 123.6h1M274.5 130.3h1M269.7 139.8h1M278.1 129.6h1M263 138h1M276.6 130.4h1M269.5 137h1M274.4 133.6h1M277.9 135.5h1M270.4 129.8h1M265.5 138.5h1M259.9 134.6h1M280.1 127.7h1M281.8 128.8h1M281.9 130.4h1M276.1 135.5h1M266.1 132.2h1M278.7 133.2h1M287 123.9h1M280.8 125.4h1M281.1 133.8h1M277 127.9h1M284.3 124.5h1M274.5 137.5h1M276.1 130.8h1M270.8 134.7h1M283.3 127.1h1M267.6 137h1M276.4 136.5h1M277.1 127.2h1M270.2 134h1M273.8 134.1h1M273.1 128.8h1M267.9 126.6h1M288.8 122.9h1M280.7 126h1M260.9 137.4h1M287.4 120.4h1M276.6 138.8h1M282 130.3h1M279.1 125.7h1M274.2 137.7h1M274.7 138.2h1M274.3 140.5h1M275.1 133.8h1M279.3 121.2h1M270.7 133.3h1M282 126.5h1M281.6 123.3h1M285.8 121.6h1M289.5 119.6h1M272.5 136.3h1M277.9 133h1M281.4 130.2h1M293.8 113.2h1M284 129.8h1M278.3 124.7h1M273.2 130.7h1M272.9 132.6h1M279.3 115.9h1M277.4 135.9h1M271.5 132h1M268.2 138.5h1M283.3 119.7h1M279.2 122.7h1M278.7 120.1h1M273.4 131.4h1M285.8 125.2h1M280.1 136.8h1M287.5 119.1h1M278.1 131.3h1M281.7 130.3h1M285.4 125.8h1M279.2 121.6h1M285.9 130.3h1M283.1 123.2h1M284.9 119.8h1M278.5 130.6h1M291.5 123.2h1M286.3 129.4h1M265 127.8h1M270.8 135.2h1M276 131.7h1M275.2 139.1h1M273.8 128h1M280 130.6h1M281.5 131.1h1M276.3 133.4h1M285.1 120h1M279.3 136.6h1M280.5 127.7h1M282.2 127.1h1M272.9 136.7h1M260.4 132.8h1M271.8 134.1h1M269.8 135.6h1M274 131.5h1M262.8 130.7h1M272.8 140h1M278.7 134.8h1M266.6 138.2h1M282.5 130.1h1M279 133.5h1M272.5 139.9h1M281.4 127.1h1M264.6 140.6h1M279.5 133.5h1M273.4 133.6h1M266.6 138.8h1M278 137.9h1M283.9 127.3h1M275 137.7h1M277.2 124.1h1M274.7 123.6h1M271.9 139.6h1M277.4 137.2h1M285.7 124.8h1M292.5 113.7h1M267 135.7h1M277.2 140.5h1M286.2 131.2h1M282.3 130.8h1M280.8 134.3h1M292.1 116.7h1M284.3 118.3h1M282.4 127.4h1M283.1 128h1M277.2 129.8h1M283.4 126.4h1M271.8 139.4h1M268.3 130.4h1M270.2 127.6h1M271.4 137.5h1M268.7 128.9h1M265.4 139.2h1M279.1 135.5h1M286.3 112.7h1M275.7 133.1h1M274.6 136.2h1M281.5 119.9h1M270.7 129.1h1M284.7 126.4h1M275.9 128.7h1M274.6 131.1h1M278.4 136.3h1M283.7 125.1h1M282.9 117.2h1M282 136.9h1M283.8 126.2h1M277.8 129.6h1M276.9 135.2h1M272 128.9h1M282.6 131.1h1M280.9 133.1h1M274 136.7h1M275.1 129.4h1M272.7 131.5h1M268.1 123.7h1M282.2 127.2h1M273 131h1M279.3 134.6h1M263.9 132.5h1M271.6 135.2h1M274.5 136h1M263.8 137.2h1M277.8 132.6h1M263.5 135.6h1M277.6 130.9h1M281.9 118.3h1M278 132.6h1M276.8 130.6h1M272.1 136.9h1M275.2 136.1h1M269.3 137.6h1M280.6 124.9h1M282.8 129.9h1M275.3 136.1h1M269.7 137.5h1M279.1 127.7h1M284.8 125.8h1M266.4 125.9h1M262.2 132.3h1M275.7 131.8h1M269.7 132.1h1M272.2 129.1h1M287.7 119.6h1M286.5 120.6h1M280.2 122.1h1M285.5 131.2h1M292.2 113.7h1M291.8 114.8h1M280.1 127.4h1M272.2 137.6h1M275.6 131.3h1M275.9 137.3h1M273.4 131.3h1M282.2 117.2h1M293.8 117.1h1M280.6 119.1h1M272.2 131.4h1M279.2 134h1M288.9 116.1h1M280.6 130.9h1M267.9 135.4h1M277.8 134.2h1M278.5 135h1M278.3 135.2h1M269.2 138.8h1M278.8 131.8h1M281.3 126.6h1M269.1 136.6h1M287.1 122.9h1M274.3 134.8h1M258.9 138h1M286 117.6h1M278.4 123.8h1M274.8 128.2h1M281.2 130.5h1M278.6 134.4h1M278.8 129h1M273.4 130.1h1M276.5 130.4h1M275.9 136h1M279.2 120.8h1M277.9 123h1M285 124.1h1M279.6 115h1M277 130.5h1M281.2 122.1h1M273.3 134.3h1M287.3 117.7h1M273.8 140.3h1M277 135.2h1M271.3 128.7h1M262.9 136.9h1M271 139.8h1M282.6 117.9h1M277.6 135.4h1M277.6 126.7h1M272.8 139.6h1M272.9 138.1h1M276.5 135.3h1M265.2 138.2h1M279.9 139.7h1M291.6 109.9h1M279.5 138.1h1M274 132.1h1M274 134.5h1M285 124.6h1M284.2 116.4h1M281.6 125h1M283.2 132.8h1M270.6 133.8h1M278.2 130.2h1M290.1 111.3h1M272.2 135.7h1M278.1 132.7h1M274 136.2h1M276.3 124.8h1M279 125.1h1M280.1 128.7h1M271.3 135.8h1M279.2 119.3h1M280.1 134.8h1M273.1 132.6h1M274.8 133.1h1M286.3 120.4h1M289.3 123.2h1M278.6 125.9h1M281.2 131.6h1M273.3 138.6h1M274 121.2h1M286.5 113.5h1M276.7 137.9h1M281.1 136.3h1M278.6 124.9h1M274.5 134.4h1M286.5 121.5h1M277.9 136.3h1M293.4 118.7h1M274.1 121.5h1M275.8 136.4h1M290.2 122.2h1M272 139.5h1M285.6 113.8h1M284.8 130.3h1M279.2 131.8h1M282.9 131.6h1M274.1 130.5h1M271.8 126h1M276.7 134.1h1M277.1 136.8h1M278.2 131.3h1M276.4 132.9h1M278 131.1h1M278.4 127h1M285.6 135.5h1M273.3 133.3h1M274.6 131.1h1M280.7 128.3h1M253.1 139h1M265.2 137.1h1M269.5 134.7h1M296 112.8h1M283.1 131.8h1M275.1 127.8h1M289.4 124.2h1M288.1 119.8h1M277.1 120.9h1M281.7 127.5h1M289.2 116.5h1M256 138.5h1M289.1 121.3h1M281.4 125.4h1M273.8 132.6h1M284 124.1h1M286.9 125.2h1M270.6 138.3h1M284.2 126.3h1M277.3 122.1h1M278.2 124.1h1M276.8 126.7h1M283.3 123.8h1M281.2 117.7h1M268.7 138.2h1M279.8 134.1h1M279.6 120.8h1M269.3 135h1M279.5 131h1M280.6 127.7h1M268.7 139.1h1M273.6 126.7h1M274.2 135h1M276 137.6h1M272 139.7h1M290.4 115.4h1M277.9 133.3h1M281.6 135.3h1M281.6 117.9h1M283.6 113.4h1M269.2 140.5h1M288.6 123.4h1M280.4 132.9h1M284.1 123.8h1M284.4 126.1h1M286.2 118.7h1M276 135.9h1M286.9 123.2h1M300.9 101.5h1M279.1 137.1h1M282.9 132.3h1M265 129.3h1M272.9 127.7h1M275.5 126.9h1M279.4 130.4h1M283.3 127.4h1M272.3 121h1M278.3 132.2h1M260 140h1M268.5 130.7h1M288.8 118.3h1M291.2 116.2h1M276.4 137.6h1M279.8 128.7h1M273.8 136.2h1M281.8 128.7h1M288.8 116.3h1M292.4 112.3h1M275.7 134h1M268.8 137.6h1M282.2 128.6h1M285.9 129.4h1M276.1 134.3h1M282.9 124.1h1M284.7 127.3h1M273.4 129.4h1M278.1 138.2h1M268.7 132.5h1M264.2 134.9h1M289.4 125.1h1M273 127.7h1M282.9 126.5h1M265.5 139.4h1M283.6 131.8h1M292.8 113.9h1M282.6 136.3h1M271.6 136.7h1M280.1 132.2h1M284 124.7h1M273.5 136.9h1M274.2 123.1h1M283.8 125h1M275.7 138h1M284.8 120.4h1M270.6 135.4h1M263.1 135.1h1M273.9 135.2h1M279.8 127.4h1M280.4 132.9h1M265.5 138.3h1M281.5 128h1M271.5 139.5h1M271.4 132h1M275.7 129.4h1M289.2 117.3h1M288.7 123.5h1M267.6 138.8h1M289.4 118.9h1M286.6 120.5h1M285.3 124.3h1M275.1 135.7h1M281.7 126.5h1M274.6 134.9h1M280.6 129.5h1M282.3 130.7h1M281.1 129.5h1M284.3 129h1M274 133.6h1M282.2 123.5h1M276.8 115.3h1M275.6 131.3h1M261.9 139.8h1M276.7 131.3h1M278.6 129h1M275.5 139.7h1M270.6 139.1h1M283.9 130.5h1M281.1 124.3h1M268.3 139h1M288.2 129.5h1M248.3 139h1M281.9 121.9h1M267.6 132.9h1M278.6 129.9h1M275.4 135.5h1M280.2 126.9h1M279.4 133.5h1M281.8 130.7h1M278.1 123.8h1M272.7 138.9h1M274.9 130.4h1M274.2 133.7h1M278.2 135.8h1M268 129.9h1M273.5 128.2h1M282.9 121.4h1M274.3 137.5h1M271.7 130h1M269.6 122.8h1M276.3 138.3h1M264.9 129.8h1M281 123.8h1M280.4 135.3h1M275.3 120.4h1M278.9 135.3h1M270.6 138.8h1M285.5 123.5h1M279.5 135.9h1M276.4 139.3h1M278.6 128.5h1M276.7 133.9h1M260.5 139.6h1M280.2 112.7h1M279 132.3h1M263.5 137.9h1M280 120.4h1M282 130.5h1M279.5 115.7h1M283.4 119.2h1M268.6 135.7h1M270.8 132.5h1M279.3 125.3h1M279.2 135.3h1M284.1 126.2h1M271.2 135.3h1M277.9 134.1h1M280.2 132h1M269.4 134.1h1M279.8 122.6h1M274.3 124.7h1M280.2 124.2h1M268.3 136.2h1M276.4 128h1M282.2 131.8h1M275.1 127h1M286 120.7h1M281.3 120.7h1M283.1 124.9h1M282.4 125.2h1M272.8 133.2h1M267.3 136.7h1M300.2 105.3h1M281.4 132.3h1M279.6 137.1h1M278.5 132.9h1M282.4 110.4h1M285.3 131.3h1M294.6 112.9h1M280.8 129.5h1M270 130.6h1M287.7 115.6h1M284.3 131.8h1M286.8 116.9h1M271.9 125.3h1M276.5 126.6h1M281.3 129.1h1M275.1 132.3h1M287.6 121.8h1M274.3 136.7h1M284.1 126.3h1M276.4 130.1h1M276.9 132.3h1M281.5 124.7h1M273.2 140.1h1M268.5 139.9h1M283.4 130h1M280.2 128.7h1M293.8 114.7h1M270.1 131.6h1M269.1 139.2h1M292.1 113.7h1M274.4 138.5h1M254.3 137.7h1M283.9 128.6h1M286.3 121.8h1M281.1 122.3h1M279.4 127.2h1M292.9 120.3h1M265.8 132.2h1M292.6 109.8h1M271.1 136.9h1M270.2 133h1M267.9 136.2h1M271.4 130.8h1M275.9 132.4h1M286.8 122.7h1M279.7 137h1M267.7 135.5h1M275.3 129.2h1M271.4 140.3h1M257.7 132.5h1M274.7 126.2h1M281.7 126.5h1M281.2 129.6h1M287.1 115.9h1M273.1 136.6h1M281.4 133.6h1M272.2 125.5h1M273.9 136.7h1M276.7 136.6h1M282.2 116.6h1M270.6 134.7h1M276.5 128.5h1M279 124.6h1M278 136.5h1M276.1 122.4h1M277.1 131.1h1M283.2 123.4h1M286.5 117.1h1M282.3 115.5h1M286.7 119.2h1M282.1 129.6h1M275.9 134h1M269.5 138.2h1M279.9 125h1M299.4 106.1h1M276.6 123.1h1M270.3 140.1h1M278.7 127.6h1M274.4 134.6h1M279.9 125.5h1M284.2 130.9h1M283.2 127h1M283 125.8h1M289.6 120.6h1M280.5 132.5h1M277 129.9h1M275.1 133h1M278 127.7h1M277.1 126.2h1M266.9 131.8h1M273.9 138.7h1M279.4 130h1M275.9 131.3h1M279.7 132h1M276 132.4h1M273.6 133.5h1M282.2 130.2h1M266.8 138.4h1M281 135.1h1M281.3 132.2h1M267.9 126.7h1M278.2 134.4h1M254.3 135.8h1M276.7 130.7h1M271.2 124.9h1M279.6 129h1M271.1 139.7h1M264.1 138.6h1M275.6 134.7h1M272.6 138.4h1M267.8 134.4h1M266.2 138.1h1M281.4 136.8h1M274.5 136.4h1M280.3 137.8h1M281.1 132.4h1M264.8 131.3h1M275.2 135.1h1M284.9 113h1M272.7 129.3h1M290.6 113.8h1M281.5 123.2h1M271.4 136.1h1M280.9 132.7h1M276.6 135.5h1M291 114.4h1M283.1 126.8h1M283.7 126.3h1M272.5 131.6h1M274.4 135.8h1M286.1 109.9h1M270.7 138.1h1M279.9 129.1h1M287.6 122.4h1M278.2 124.8h1M275.8 136h1M280.8 138.7h1M281 125.5h1M281.6 119.8h1M276.4 134.2h1M269.2 137.7h1M267.4 135.2h1M280.3 128.2h1M283.7 128.4h1M261.8 137.6h1M273.2 123.3h1M279.3 127h1M284.7 124.5h1M276.9 136.8h1M290.9 120.5h1M284.1 128.8h1M276.9 132.7h1M281.6 124.4h1M272.8 134.1h1M281.5 137.4h1M282.1 130.9h1M269.9 138.1h1M281.3 127h1M285.6 116.4h1M288.3 122.4h1M271.1 132.8h1M270 137.5h1M276.9 131.6h1M284.1 127.1h1M270.5 131.3h1M283.7 126.3h1M296.9 110.5h1M275.2 135h1M277.4 137.9h1M275.5 127.3h1M271.4 134.6h1M279.5 130.2h1M280.3 128.5h1M267.7 134h1M261.7 139.1h1M277.5 130.7h1M274.3 131.6h1M275.5 128.6h1M263 138h1M279 119.6h1M281 119.7h1M271.4 132h1M279.7 134.2h1M278.7 132.4h1M270.9 137.9h1M275.3 130.4h1M287.1 122.2h1M278.3 129.2h1M275.2 125.8h1M262.2 136.5h1M278.8 130.9h1M279.1 127.7h1M269.2 134.9h1M279 131.8h1M285.1 125.4h1M276 132.7h1M278.7 121.1h1M274.6 137.6h1M270.7 135.6h1M270.7 139.7h1M286.2 121.3h1M275.1 120.4h1M279.6 130.4h1M275.6 130.9h1M267.9 125.6h1M274.1 128.9h1M268.3 136.9h1M279.6 132.3h1M276.3 137.4h1M266.2 139.3h1M286.6 119.9h1M294.9 114.6h1M266.6 139.4h1M286 125.9h1M282.7 124.4h1M268.9 134.7h1M283.7 126.1h1M276.5 136.8h1M280.3 127.7h1M266.3 139.6h1M274.2 126.7h1M288.9 118.5h1M264.3 136.7h1M295.3 113.8h1M280.9 131h1M277.5 126.4h1M299.4 110.2h1M268.1 135.4h1M280.9 136.3h1M272.3 137.6h1M287.3 113.6h1M283.7 125.8h1M262.5 136.6h1M279.9 123.8h1M289.8 118.8h1M274.1 135.1h1M264.8 137.8h1M287.2 116.4h1M277.5 124.5h1M268.6 130.6h1M288.7 113.2h1M276.6 127.9h1M278.3 136.4h1M266.5 132.4h1M273.2 137.6h1M285.7 118.9h1M282.1 124h1M271.1 133.1h1M277 129.5h1M277.5 132.5h1M280.6 114.5h1M280.2 123.7h1M269.3 138.5h1M269.4 125.8h1M289.3 125.7h1M274.8 138.1h1M283.7 119.1h1M277 123.6h1M278.3 132.9h1M277.4 128.1h1M276.3 125h1M275.1 139.7h1M280.5 114.9h1M285 123.3h1M279.7 130.2h1M285.7 124.2h1M279.7 128.1h1M281.3 121.5h1M272.5 132.2h1M283.3 134.3h1M265.5 127.7h1M282.8 119.5h1M281.1 131.6h1M278.4 126.5h1M281.4 119.1h1M283.8 128.5h1M279.1 127.5h1M297.4 102.2h1M285.4 110.7h1M276.5 136.9h1M286.5 118h1M260.1 137.2h1M282.1 122.8h1M281 135.2h1M280.2 128.6h1M284.5 118.9h1M279 133.7h1M275.4 135h1M267.3 133.5h1M276.8 139.6h1M275.7 134.5h1M285 135.1h1M276.1 135.7h1M287.7 115.4h1M277.6 132.9h1M283.7 130.6h1M282 124.3h1M281.9 126.9h1M278.3 128.1h1M292.6 121.8h1M274.2 137.8h1M255.4 138.9h1M290.8 121.8h1M271 126.7h1M284.1 123.8h1M269.2 126.4h1M277.5 134h1M275.9 128.1h1M265.6 131.4h1M274.4 133.8h1M278.6 133.8h1M276.7 133.7h1M286.2 119.8h1M279.2 138.2h1M277.1 121.7h1M281.5 136.3h1M269.9 131.6h1M268.5 139.1h1M272.4 132.8h1M272.7 128.7h1M262.3 140.1h1M283 124.6h1M278.9 128.9h1M276.7 133.5h1M270 128.8h1M284.6 118.7h1M275.4 126.1h1M268.6 139.9h1M274.7 137.7h1M276.5 140.6h1M277.6 128.3h1M278.1 128.2h1M269.4 131.4h1M271.4 136.2h1M286.9 125h1M281.9 127.7h1M282.8 128.4h1M280 131.4h1M270.4 134.4h1M284.6 127.8h1M276.4 133.9h1M277.5 132.4h1M273.9 135h1M279.8 128.1h1M268.7 139.3h1M278.4 129h1M273.9 136.2h1M276.8 137.5h1M284.1 116.7h1M270.9 122.2h1M273.8 127.8h1M292.1 119.6h1M289.6 117h1M281.6 126.6h1M275.8 135.3h1M269.4 139.3h1M280.9 139.5h1M280.5 118.4h1M275.6 140.2h1M261.5 133.3h1M272.7 136.4h1M276 129.5h1M282.4 131.4h1M284.6 128h1M276.2 136.3h1M287.7 113h1M276 138.2h1M273.5 137.6h1M285.9 125.9h1M279.5 126.6h1M276 137.8h1M272.4 137.4h1M277.1 126.1h1M271.4 128.3h1M273.9 118.7h1M277.9 136.8h1M283.3 117.7h1M268.7 136.7h1M276.2 133.9h1M270 123.8h1M264.6 122.7h1M291.6 110.2h1M283.1 126h1M277.7 130.4h1M279.9 130.4h1M270.4 121.6h1M286.7 122.2h1M290.3 122.4h1M282.9 119.1h1M286 116.2h1M269.6 132.7h1M281.1 129.1h1M275.4 131.4h1M270.4 138.5h1M281.9 121.1h1M277 131.2h1M278.5 130.9h1M289.8 112h1M280 121.9h1M297.1 109.7h1M284.2 125.6h1M281.9 123.7h1M292.7 113.2h1M279 137.1h1M274.4 139.8h1M273.2 124.9h1M271.1 135.9h1M279.9 126.4h1M281.2 135h1M283.4 129.2h1M280.1 125.8h1M266.1 132.9h1M263.3 133.8h1M277.6 126h1M278.8 136.4h1M275.6 125.1h1M276.3 124.4h1M268.6 131.2h1M281.3 120.6h1M277.5 135.4h1M273.1 135.9h1M290.8 122.8h1M276.6 121.2h1M274.8 138h1M281.5 127.9h1M279.4 123.8h1M284.9 123.5h1M281.1 125.1h1M291 115.8h1M273.7 133.7h1M278.7 122.4h1M277.9 131.8h1M266.7 131.3h1M287.2 121.5h1M277.4 134.5h1M274.4 122.5h1M269.7 137.7h1M268.7 130.3h1M279.1 129.2h1M275.6 136h1M279.7 123.7h1M274.6 137.3h1M281 127.3h1M287.9 113.3h1M280.2 129.2h1M282.9 132.7h1M271.8 139.5h1M280.6 130.6h1M295.1 115.8h1M279.5 133h1M278.3 131.1h1M273.6 137.4h1M266.7 140h1M279.9 130.2h1M280.2 119.9h1M273.8 126.9h1M285.5 124.4h1M286 122h1M284.2 121.6h1M292.3 112h1M276 138.5h1M277.4 133.3h1M260.5 133.5h1M280.3 121.3h1M274.8 137.1h1M278.6 134h1M277.7 135.6h1M280.2 134.8h1M282.6 135.9h1M276.1 124.4h1M267.6 132h1M265.8 136.4h1M285.7 122.5h1M271.3 129.2h1M281.4 133.7h1M277 122.6h1M282.9 119.8h1M278.6 135.7h1M284 124.3h1M283.2 122.2h1M278.2 140.2h1M276.2 126.3h1M273.2 125.1h1M272.4 134h1M278 134.2h1M266.9 133.7h1M274.3 132.8h1M277 132.9h1M277.7 135.9h1M277.6 138.1h1M273.5 132.7h1M276.9 136.8h1M285.7 125h1M281.4 129.2h1M274.1 135.1h1M278.3 134.4h1M279.9 129.9h1M274.7 128.9h1M265.5 131.6h1M291.3 121.6h1M279.9 121.1h1M274.3 139.8h1M279.2 128.2h1M286.5 122.3h1M272.6 129.2h1M272.1 139.2h1M269.7 135.7h1M279.6 126.4h1M292.3 112.3h1M269.8 139.6h1M281.3 126.5h1M287 124.8h1M271.7 137h1M281.7 129.1h1M273.4 137.9h1M291.7 116.8h1M291.9 114.7h1M269.3 132.9h1M282.4 126.5h1M265.6 138h1M281 125.6h1M271.8 139.1h1M282.7 125.2h1M274.6 130.8h1M277.4 138.8h1M288.3 122.2h1M284.3 132.8h1M281.9 127.2h1M276.9 133.7h1M283.6 122.9h1M283.1 124.6h1M277.2 132.3h1M295.3 106h1M292.5 120.1h1M289.4 115.6h1M286.6 118.3h1M280.3 124.3h1M274.1 133.6h1M288.6 117.3h1M273.8 137.8h1M275 133.9h1M293 102.1h1M275.3 127.2h1M280.2 130.3h1M261.5 140.5h1M294.5 117.3h1M277.5 140.2h1M289.6 120.6h1M284.5 133.8h1M280 127.8h1M281.1 132.5h1M275.7 126.2h1M277.5 132.9h1M283.1 114.5h1M274.6 127.1h1M280.9 133.4h1M267.5 139h1M271.5 130.9h1M285 126.4h1M266 138.9h1M265.6 138h1M291.2 122.3h1M275.4 130.8h1M290.6 121.4h1M261.5 139.2h1M278.7 132.4h1M291.4 115.6h1M276.1 128.3h1M283.9 134h1M277.8 135.8h1M277.3 131.9h1M275.2 128.7h1M280.8 132.1h1M287.5 114.8h1M275.2 124.2h1M274.8 133.2h1M285.9 126.9h1M284.2 128.7h1M284 127h1M274.5 139.9h1M286.4 120.5h1M289.4 115h1M284 124.2h1M281.5 132.4h1M279.1 139.1h1M281.4 131.2h1M270 126.4h1M273.9 128.8h1M279.8 134.2h1M289.5 126.1h1M284.1 128.1h1M276.7 133.6h1M261.8 135.1h1M274.1 134h1M276.7 137.2h1M276.6 136.3h1M278 132.6h1M288.8 115.3h1M281.9 126h1M280.1 136h1M276.7 138.4h1M280.3 122.1h1M286.9 124.5h1M266.2 138.5h1M280.6 127.4h1M282.3 129.3h1M266.4 139.4h1M274 131.5h1M276.4 134.3h1M282.7 128h1M283.9 118.4h1M275.8 131.1h1M269.6 131.2h1M279.2 127.2h1M278.6 131.3h1M277.1 138.7h1M279.7 131.1h1M288.6 117.5h1M273.7 136.5h1M264.6 137.5h1M291.5 111.8h1M290.9 119.7h1M274.1 140.3h1M285.8 123.7h1M279.1 127.9h1M274.3 133.2h1M280 135.9h1M272.3 130.3h1M270.8 137h1M271.3 139.2h1M274.9 130h1M283.2 125.8h1M272 133.6h1M283.8 122.8h1M286.6 117.7h1M274.7 139.7h1M282.1 126.5h1M285.2 121.9h1M280.1 121.2h1M281.4 127.2h1M274.1 132h1M280.5 122.3h1M283.7 124.9h1M281.5 129.9h1M282.9 118h1M290.7 115h1M275.5 139.5h1M279.3 140h1M283.7 129.4h1M274.1 133.6h1M284.1 117.6h1M279.8 139.3h1M286.5 125.6h1M277.9 125.1h1M275.6 128.8h1M290 106.5h1M282.2 135.6h1M272.7 134.8h1M274.2 129.5h1M276.7 138.9h1M281.1 130.3h1M272.6 128.9h1M285.8 120.3h1M283.3 122.9h1M279.8 131.5h1M289.2 119.3h1M279.3 125h1M276.4 128.9h1M277.7 136.9h1M281.7 129.2h1M276.8 134.7h1M277.4 137.2h1M284.2 126.2h1M283.5 129.2h1M278.9 130h1M286.5 125.2h1M276.4 130.6h1M278.7 129.2h1M294.6 113.3h1M275.2 139.1h1M292.4 107.1h1M273.5 140.4h1M279.4 130h1M272.5 135.6h1M282.6 128h1M283.2 125.6h1M270.8 134.4h1M283.1 128.7h1M275.1 140.4h1M269.9 135.2h1M268.3 135.3h1M266.1 138.5h1M278.9 121.7h1M277.6 140.3h1M274.1 139.9h1M276 134.3h1M275.9 137.8h1M279.3 125.5h1M273.1 134.6h1M283.7 133.1h1M277.8 133h1M284.5 119.6h1M276.8 116.9h1M266.3 133.8h1M273.3 132.7h1M281.9 128.9h1M280.7 125.6h1M275.3 135.5h1M273 134.2h1M285.5 125.8h1M267.7 139.9h1M273.3 126.4h1M272 130.2h1M278.9 130.9h1M263.5 138.1h1M276.5 126.4h1M275.2 127.9h1M261.4 134.1h1M263.3 133.3h1M282.6 126h1M283 115.6h1M273.7 139h1M299 111.8h1M276.6 136.8h1M298.6 102.5h1M265.4 140.6h1M270.7 133.2h1M282.4 122.5h1M284.5 123.9h1M292.2 128.3h1M278.7 122.8h1M278.8 124.7h1M281.4 131h1M279.2 122.2h1M291.1 113.3h1M285.6 128.4h1M272.7 126.2h1M272.9 138.9h1M274.6 127.5h1M272.5 132.8h1M275 140.4h1M277.6 131.5h1M280.6 132h1M277.2 125.1h1M270.3 134.6h1M279.3 128.5h1M263.4 137.9h1M281 124h1M275.5 136.5h1M286.6 121.1h1M277.6 120.8h1M285.5 113.1h1M275.6 138.8h1M275.3 134.4h1M273.5 124.9h1M260.7 140.3h1M284.5 123.5h1M263.5 130.8h1M271.8 133.9h1M286.3 124.5h1M286.3 121.8h1M281 117.4h1M280.2 120.8h1M273.8 133.8h1M285.4 123.2h1M279.1 135.9h1M270.9 130h1M279 129.2h1M285.3 121.4h1M271.1 140.6h1M265 128.9h1M274.8 136.8h1M275.8 139.5h1M272.9 126.5h1M261 134.4h1M280.8 135.4h1M276.4 129.2h1M277.4 133.4h1M270.6 127.9h1M295.9 109.4h1M277.4 136.7h1M282.4 116.2h1M278 133.3h1M277.8 135.5h1M273.9 137.7h1M275.3 138.7h1M290.2 124.1h1M261.8 133.8h1M270.6 140.3h1M275.9 137.1h1M268.8 126.7h1M278.3 133.5h1M291.2 116.4h1M273.7 127.1h1M286.5 115h1M268.6 138.1h1M270 128.1h1M282.8 125.4h1M275 139h1M259.2 138.6h1M283 123.2h1M277.5 133.5h1M277.5 138.7h1M268.1 136.9h1M284.2 123.2h1M279.8 138.7h1M272.4 130.4h1M274.8 134.2h1M267.4 126.9h1M285.6 113.1h1M286.6 127.7h1M275 134.2h1M281 135.7h1M273.8 139.5h1M275.2 139.7h1M273.9 127.6h1M281.9 118.6h1M279.1 138.6h1M283.5 125.8h1M280.2 127.7h1M275 136.6h1M276.1 139.9h1M266.7 134.2h1M286.7 121.6h1M286 132.2h1M273.7 135.8h1M279.6 121.2h1M270.7 134.9h1M282.7 135.2h1M275.4 127.4h1M277.8 133.7h1M271.5 135.9h1M283.5 127.9h1M282.2 130.7h1M275.2 130h1M286.6 125.6h1M284.1 125.7h1M271.4 133.8h1M265.8 125h1M272.3 137.6h1M266.3 136.5h1M271.8 126.9h1M268.6 130.3h1M289.3 117.8h1M285.3 121.5h1M272 129.4h1M271.2 140.1h1M281.2 134.9h1M281 121.9h1M273.1 131.7h1M288.4 123.5h1M277 135.3h1M288.6 118.9h1M277.5 129.6h1M278.5 128h1M280.9 116.5h1M290.8 123.9h1M279.5 135.9h1M273.2 123.8h1M291.8 118.1h1M257.9 139.6h1M282.5 124.8h1M289.8 123.1h1M277.3 134.5h1M277.7 133.9h1M284.9 116.9h1M279.5 122.9h1M269.4 130.1h1M272.6 134.8h1M283.4 127.1h1M282.3 127.2h1M273.6 132.9h1M265.9 133.6h1M274.7 134.6h1M275.1 130.6h1M289.1 118.3h1M276.9 134.3h1M294.2 114.5h1M268.7 128.2h1M277.7 117.6h1M271.6 136.5h1M287.2 122.8h1M265.2 130.7h1M279.7 125.1h1M281.8 129.4h1M284 130h1M284.2 110.5h1M283.3 124.5h1M273.3 131.1h1M278.8 131.7h1M276.5 138.5h1M283.6 124.1h1M276.6 132.4h1M275.7 135.6h1M270.2 124.3h1M280 128.8h1M271.1 128.6h1M282.1 134h1M271.1 139.6h1M272.5 123.7h1M295 114.1h1M276.4 135.9h1M277 130.1h1M277.5 122.3h1M273.9 137h1M290.9 122.6h1M281.5 131.5h1M291.6 124.3h1M281.6 125.3h1M280.4 132.8h1M282 124.2h1M274.7 133.7h1M278 137.4h1M277.5 137.2h1M276.9 132.7h1M280.5 129.2h1M271 138.1h1M292.3 114.8h1M274.6 134.4h1M275.2 127.1h1M281.7 130.5h1M283.1 111.4h1M271.9 129.1h1M287 136h1M272 139.9h1M280.1 131.5h1M274.3 136.4h1M277 133h1M276.8 134.6h1M267.6 132.7h1M275.8 126.8h1M274.1 140.6h1M279.3 140.2h1M273.6 137.5h1M267.5 132.7h1M264.5 135.9h1M275.8 128.9h1M288.1 120.6h1M274.8 131.1h1M266.3 138.6h1M271.6 136.7h1M280.2 113.1h1M275.4 137.3h1M279.2 131.1h1M273.4 133.5h1M277.2 130.4h1M281.5 120.5h1M276.8 126.6h1M278.1 123.4h1M290.8 107.5h1M291.2 111.9h1M278.1 126.9h1M283.5 129.7h1M273.6 137h1M277.4 130h1M276.2 134.9h1M276.4 140.6h1M283 129.7h1M272.1 132.4h1M286.1 122.6h1M271.5 133.6h1M278 136.7h1M280.9 124.1h1M277.3 134h1M292.7 108.5h1M267.1 131.9h1M266.4 122.7h1M273.2 131.8h1M290.9 115.1h1M274.8 125.7h1M273.6 135.4h1M269.6 136.9h1M283.6 126.5h1M281.1 121.1h1M284.3 127.4h1M272.7 136.9h1M279.8 126.4h1M284.5 122.8h1M284 128.1h1M273.3 131.2h1M274.9 138.3h1M290.8 119.6h1M280.1 130.1h1M266 138.3h1M282 129.5h1M279 130.6h1M264.9 134h1M276 136.7h1M291.3 115.1h1M287.3 114.9h1M294.6 100.8h1M278.3 132.6h1M276.6 137.6h1M272.6 139.3h1M274.9 136h1M277.8 132.1h1M277.8 135.8h1M280.1 131h1M279.8 125.7h1M280.3 119.6h1M277.1 140.2h1M279.1 129.1h1M278.6 139.3h1M283.8 119.1h1M274.2 135.4h1M273.5 129.6h1M289.8 118h1M291.4 115.1h1M261.5 138.8h1M269.2 132.1h1M273.7 139.4h1M279.3 123.9h1M276.3 138.1h1M271.3 134.2h1M278.9 129.7h1M280.8 128.3h1M273.1 130.9h1M274.3 139h1M283.1 127.8h1M284.3 125.3h1M278.2 122.2h1M273.5 126.5h1M281 138.8h1M277.4 120.1h1M282.2 133.1h1M266.1 137.8h1M269.6 133.8h1M288.4 126.6h1M266.3 133.8h1M284.3 115.3h1M272.9 138h1M271.4 129.6h1M270.5 131.1h1M276.8 124.3h1M274.6 133.7h1M275.8 131.5h1M282.2 135.2h1M278.5 127.1h1M279.6 138.4h1M287.6 125.7h1M274.2 131.3h1M280.8 128.8h1M278.8 140.4h1M277 133.2h1M280.8 128.3h1M279.4 132h1M283.2 126.5h1M278 137.1h1M278.8 135.9h1M273.6 136.8h1M282.2 132.2h1M276.6 126.5h1M273.4 126.6h1M268 133.7h1M278.5 134.2h1M281.5 118.6h1M271.4 137.7h1M277.7 127.3h1M279.1 129.9h1M282.9 127.7h1M285.5 121.5h1M276.8 121h1M298 104.2h1M275.3 135.6h1M284.2 123.6h1M280.5 124.2h1M271.2 127.9h1M274.1 137.9h1M290.3 121.2h1M270.4 136.3h1M277.5 136.9h1M285.5 122h1M273.2 137.6h1M275 138.5h1M270.1 131.8h1M275.8 129.2h1M282.7 124h1M280.9 139h1M278.6 125.3h1M298.8 96.3h1M279.6 132.6h1M276.6 124.3h1M271.7 126.3h1M281.1 127.7h1M279.2 128.9h1M277.6 133.7h1M272.3 139.8h1M276 130.9h1M259 133.4h1M277 137.7h1M289 115.9h1M274 120.2h1M267 139.7h1M283.5 125.3h1M256.1 135.9h1M272.3 127.9h1M272.5 135.6h1M283.6 122h1M284.1 125.1h1M269.4 124.4h1M280.1 134.7h1M280.7 130.4h1M264.4 139h1M266.9 138.8h1M277.6 134.9h1M287 123.1h1M270.8 130.8h1M280.2 127.3h1M284.7 131.6h1M282.3 126.3h1M273.4 131.1h1M263.8 134.3h1M278.4 121h1M283.3 138.4h1M286.2 120.4h1M272.3 138h1M263.7 140.3h1M287.2 124.5h1M272.1 131.7h1M281.7 133.7h1M268.2 138.4h1M273.5 134.9h1M289.8 121.6h1M283.4 127.9h1M276.9 130.9h1M273.1 135.1h1M273.8 123.6h1M274.3 126.1h1M266.9 139.3h1M280.8 130.2h1M275.1 129.6h1M283.4 123.4h1M273.5 140.5h1M277.6 135.1h1M292.4 115.2h1M276.1 125.7h1M284.1 123.9h1M278.5 127.5h1M276.1 134.7h1M278.5 132h1M269.1 132.2h1M284.9 123.7h1M278.7 136.9h1M279 133.6h1M268.7 134.7h1M269.6 129.7h1M296.7 108.8h1M267.9 136.8h1M271.2 132.3h1M282.8 125.8h1M271.6 135.3h1M281.3 127.9h1M283.9 134h1M280.2 127h1M277.6 133.5h1M278.3 138.7h1M278.4 137.4h1M279.6 132.2h1M270.5 129.4h1M264.2 135h1M278.6 137.4h1M278.5 129.1h1M285.4 127.9h1M272.3 135.1h1M269.4 129.6h1M269 137.2h1M279.9 122.9h1M279.2 132.4h1M271.7 139.1h1M275.9 129h1M278.7 128.1h1M279.1 132.7h1M274.4 133.3h1M276.1 133.9h1M282 130.4h1M274.9 133.8h1M278.3 135h1M283.4 129.2h1M271.6 132.6h1M274.5 136.2h1M267.6 132.6h1M279 132h1M278.7 135.5h1M276 132.9h1M276.6 136.3h1M275.7 131h1M283.9 126.6h1M275.5 138.6h1M259.4 132.4h1M285.7 117.7h1M266.3 136.5h1M280.4 126.1h1M276.1 136.9h1M277.2 135.3h1M288.8 122.1h1M279.8 125.7h1M270.8 132.5h1M280.2 129.7h1M270.8 136.9h1M285.7 125.2h1M293.5 112.2h1M275.4 129h1M267.1 139.4h1M274 130.5h1M292.7 122.6h1M269.5 131.5h1M278.7 134.5h1M280.9 129.3h1M276 129.1h1M279.2 138h1M284.1 126.6h1M285.5 119.4h1M276.6 136.2h1M273.8 120.2h1M265 134.4h1M283.7 125.5h1M280.4 129.2h1M272.4 133.1h1M272.8 130h1M268.6 138h1M276.3 125.5h1M271.9 124.6h1M275.7 136h1M272.9 136.4h1M288.1 124.9h1M275.5 122.1h1M287.1 124.6h1M291.4 119.9h1M273.6 138h1M277.8 137.4h1M277.2 120.6h1M282 132.5h1M275.1 129h1M279.3 134.2h1M281.8 124.3h1M274.6 135.2h1M273.8 133h1M263.7 138.1h1M273.6 126.7h1M265.7 134.3h1M286.9 119.4h1M258.2 140.4h1M275.4 131.4h1M274.9 130.8h1M277.9 133.1h1M280.3 135h1M280.2 129.7h1M283.6 128.5h1M276.3 121.5h1M278.7 131.3h1M282.9 125.6h1M271.2 130.6h1M293 113.9h1M281.9 129.8h1M274.6 134.1h1M277 136.9h1M268.3 133.1h1M291.8 114.8h1M283.1 125.8h1M279.9 133.8h1M274.1 125.7h1M274 129.8h1M283.8 124.5h1M283.6 123.2h1M291 121.3h1M283.4 128.4h1M274.6 136.6h1M278.6 132.9h1M266.2 130.4h1M277.7 140.4h1M272.9 139.8h1M295.8 111.2h1M265.8 138.8h1M288.7 118.8h1M275.2 138h1M283.8 136.3h1M284.1 128.8h1M285 122.9h1M282.8 126h1M290.4 118.8h1M273.3 126.4h1M280 130.7h1M277.7 135.2h1M276.1 126.7h1M275.5 138.7h1M286.3 120.2h1M283.7 125.7h1M285 121.8h1M273.2 128.1h1M279.6 124.8h1M277 135.1h1M268.3 132.1h1M273.4 136.3h1M268.2 139.1h1M272.3 138.4h1M282.2 130.1h1M274.8 127.4h1M282 131.8h1M281.5 125.6h1M271.5 128.9h1M287.7 122.1h1M273.9 134.6h1M274.3 140.2h1M271.3 127.9h1M281 134h1M291.7 113.4h1M274.9 135.4h1M281 117.4h1M277.5 137.8h1M284.3 123.2h1M276.2 135.6h1M274.9 134.2h1M267.9 133.6h1M290 113.9h1M272.3 130.9h1M278.9 134.7h1M285 126.9h1M281.6 130.4h1M263.2 136.5h1M272.8 129.4h1M267.4 128.7h1M279.5 119.4h1M285.4 131.6h1M274.8 124.9h1M283 130.9h1M274.2 128.6h1M280 137.2h1M280 127.5h1M284.6 131.4h1M282.1 128.7h1M269 132.6h1M292.5 110.8h1M281.7 122.9h1M269.3 138.9h1M270.5 133.4h1M276.1 131.2h1M275.1 129.6h1M291.8 118.6h1M279.7 126.9h1M275.6 139.4h1M278.7 137.1h1M278.2 138.2h1M282.1 130.1h1M283.2 128.6h1M276.4 134.2h1M273.4 128.9h1M276.4 128.9h1M284.5 125.4h1M273.8 125.5h1M271 131.5h1M280.7 116.7h1M281.8 124.2h1M294.3 110.1h1M274 132.6h1M267.7 137.5h1M271.2 133.7h1M269.2 127.7h1M270.2 139.7h1M273 133.6h1M276.6 129h1M279 124.3h1M267.8 134.7h1M267.4 131.3h1M281 123.9h1M283.8 127.6h1M287.6 117.6h1M277.5 131.9h1M281.8 122.4h1M282 133.3h1M278.1 131.6h1M285.1 122.5h1M279 126.4h1M279.7 124.7h1M283.9 120.5h1M288.4 112.1h1M280.4 121.7h1M273.3 130.2h1M279.8 128.9h1M277.1 136.1h1M277.4 138.2h1M271.5 137.2h1M277.1 125.6h1M287.2 105.4h1M278 114.6h1M281.9 127.5h1M276.2 136.8h1M280.3 130.2h1M263.6 138.8h1M284.9 133.1h1M281.3 137.7h1M274 138.9h1M274.6 137.6h1M272.1 133.2h1M271 137.5h1M288 125.4h1M274.5 127.4h1M291.7 116.9h1M280.3 133.2h1M288.2 125.5h1M276.3 138.2h1M277.6 125.9h1M276.1 128.5h1M278 122.9h1M272.6 136.6h1M269.7 127.1h1M280.7 125.3h1M277.8 133.1h1M274.7 136h1M281.4 135.5h1M275.9 137.8h1M262.9 135.7h1M281 132.7h1M281 133.7h1M276.4 134h1M271.3 129.2h1M284.3 125.7h1M278.3 139.7h1M289.4 116h1M278.3 134.3h1M288.9 118.5h1M273.3 139.6h1M276.3 138h1M282.2 121.3h1M276.6 122.2h1M272.3 126.5h1M286.2 112.1h1M283.8 130.7h1M271.8 135h1M281.9 123.7h1M280.6 121.3h1M267.9 139.1h1M294.6 118h1M282.4 129.5h1M281.5 127.8h1M281.9 121.3h1M268 133.8h1M270.2 129.5h1M281.7 128.2h1M284.4 120.8h1M272.2 137.1h1M281.2 133.1h1M273.8 134.4h1M280 134.9h1M274.7 139.9h1M265.9 137.3h1M272.5 138.9h1M274.6 130.1h1M278.8 126.5h1M276.4 136.6h1M269.1 132.6h1M281.6 129.4h1M283.9 132.8h1M278.2 137.7h1M278.7 126.2h1M266 130.6h1M280.9 128.7h1M278.5 128.1h1M285 118h1M283.3 129.2h1M275.2 129.9h1M264.9 137.1h1M281.4 128.2h1M283.5 131.6h1M285.7 127.4h1M280.3 137.7h1M278.8 130.8h1M278.2 133.9h1M287.3 115.9h1M277.2 124.1h1M272.9 139.8h1M308.8 101.5h1M275.4 125h1M275.9 125.6h1M273.7 140.3h1M280.3 114.7h1M267.2 131.7h1M285.9 117h1M281.2 122.2h1M276.8 133.5h1M289.6 113.6h1M281 129.6h1M282.3 122.8h1M275.4 129.9h1M274 130.1h1M281.7 125.6h1M286 116.6h1M276.6 133.6h1M273.5 134.9h1M275.1 135.5h1M286 128h1M278 128.2h1M263.6 133.3h1M278.3 130.6h1M270.9 139.5h1M286.2 124.3h1M290.9 118.4h1M293.4 115.8h1M285.5 124.6h1M279.2 136.6h1M275.3 133.6h1M280.2 120.7h1M281.9 113.2h1M274.2 128.5h1M273.6 135.7h1M300.2 109.7h1M279.8 131.4h1M281.8 126.8h1M278.1 131.5h1M283.8 128.2h1M280.4 116.2h1M284.5 126.1h1M273 127.7h1M286.1 124.1h1M274.4 124.2h1M287.8 124.6h1M284.9 123.3h1M280 132.5h1M272.9 138.8h1M279.6 129.3h1M286.1 126.3h1M276.7 135h1M284.4 126.8h1M277.5 125.7h1M275.5 129.1h1M279.1 136.6h1M272 132.4h1M276.6 137h1M282.3 125.3h1M273.8 136.4h1M274.5 135.8h1M274.4 134.1h1M270.6 136.6h1M273.1 130.4h1M266.9 137h1M282.9 121.8h1M275.8 134.7h1M270.4 137.7h1M269.8 138.8h1M283.4 128.1h1M278.7 135.9h1M279.3 131h1M271.4 126.1h1M269.6 138.7h1M270.8 131.3h1M280.4 126.3h1M281.9 130.3h1M268.2 139.6h1M277.8 137.2h1M266.8 135.5h1M282.8 127.6h1M280.5 130h1M288 118.5h1M272.7 121.5h1M286.5 120.8h1M284.1 123.8h1M286.5 119h1M282.8 123.6h1M285.5 123.8h1M282.6 127.9h1M264.3 121.6h1M285.3 117h1M294.9 102h1M281.3 125.6h1M285.6 127.9h1M276.4 117.9h1M287.2 117.6h1M266.6 136.9h1M273.7 135.4h1M286.1 119.2h1M273 129.2h1M284.9 123h1M281.1 128.8h1M290.8 114.9h1M269.1 135.2h1M285.9 127.2h1M262.6 132h1M282.2 127.3h1M275.8 133.8h1M275.4 140.5h1M279.2 122.9h1M285.9 121.9h1M274.2 139.2h1M284.7 125.7h1M275 122.2h1M276.8 125.5h1M288.2 121h1M287.1 122.3h1M268.9 137.3h1M292.2 120h1M270.3 120.8h1M250.4 136.3h1M263.2 140.4h1M290.9 117.2h1M284.5 125.7h1M277.6 135.4h1M273.2 120.3h1M275.5 132.8h1M278.4 120.4h1M264 139.5h1M282.3 118.5h1M265.1 139.2h1M283.3 127.2h1M261.5 131.9h1M268.2 132.1h1M272.9 137.3h1M266.1 131.5h1M286.5 121.5h1M288.8 117.8h1M284.4 113.8h1M283.1 108.3h1M283.1 121.5h1M279 127.1h1M283.5 113.3h1M276.5 126.4h1M251.6 135.7h1M280.2 122.5h1M274.5 133.8h1M273.8 138.3h1M281.9 127.2h1M283.2 125h1M289.6 121.2h1M283.7 132.5h1M273 124.7h1M281.9 133.7h1M273.5 127h1M281.5 115.5h1M273.2 140.2h1M282.3 127.1h1M277.5 137.8h1M282.7 112.6h1M285 126.4h1M279.8 130.3h1M296.4 108h1M287 122.7h1M284.4 127.8h1M266 131h1M280.1 138.6h1M282.2 126.7h1M278.9 120.8h1M269.6 137.6h1M278.2 134.7h1M276 120.7h1M276.5 136.1h1M284.2 125.8h1M255.7 132h1M283.7 128.1h1M277.6 127.1h1M253.7 135.7h1M282 121.8h1M283 128h1M285.4 115.4h1M265.1 138.1h1M274.5 129.1h1M273.6 121.9h1M293.8 111.5h1M286.2 113.1h1M278.6 129.4h1M283.2 128.4h1M281.4 127.2h1M304.1 101.8h1M284.8 123.6h1M280.6 134.6h1M277.3 130.2h1M276.9 132.7h1M283.7 139.5h1M272.1 138.5h1M284.7 123.3h1M271 127.3h1M278.1 132.7h1M279.7 129h1M268.2 134.6h1M289.9 122.9h1M269.7 134h1M295.5 116.8h1M277.8 135h1M271.2 139.2h1M277.4 112h1M269.3 128.6h1M283.2 127.2h1M288 131.6h1M275.5 134.5h1M282.4 132.8h1M276.8 134.3h1M288.4 99h1M260.4 136h1M279.5 121h1M282.8 123.2h1M282.9 135h1M280.9 129.3h1M266.3 131.2h1M282.3 120.1h1M289.3 114.2h1M286.3 121.8h1M274.6 117.7h1M273.6 137.9h1M281.6 126.1h1M293 107.3h1M297.9 107.6h1M276.9 127.5h1M281.3 110.4h1M280.5 137h1M277.1 115.2h1M292.3 112.9h1M281.8 136.8h1M272 138.2h1M275.2 119.6h1M282.7 125h1M270.3 135.1h1M273.6 135.3h1M292.9 112h1M278 122.1h1M288 124.1h1M273.9 121.1h1M270 131.1h1M291.1 125.8h1M299 99.9h1M273.3 127.7h1M274.7 132.6h1M283.5 127h1M284.4 131.2h1M285.8 124.6h1M276.8 138.4h1M279.1 138.3h1M285.7 124.2h1M274.5 138.7h1M274.1 126.2h1M277.7 139.2h1M271.1 137.4h1M284.8 115h1M278.8 129.9h1M276.3 135.6h1M294.2 118.2h1M275.1 137.3h1M293.9 115.3h1M268.8 130.1h1M285.8 125.6h1M278.1 122.5h1M281.9 130.7h1M273.8 135.9h1M292.2 116.9h1M276.9 113.4h1M278.8 133.9h1M283.4 126.6h1M263.8 121.6h1M286.3 112.1h1M268.7 128.6h1M275.9 123.5h1M284 112.2h1M278.8 133.7h1M294.1 120.1h1M288.9 114.1h1M282.8 127.4h1M269.1 128.2h1M295.3 115.4h1M261.1 118.9h1M278.1 118.1h1M278.7 140.3h1M284.9 123.8h1M270.1 127.9h1M276.1 127.1h1M296.9 110.9h1M260.2 128.1h1M277.5 126.7h1M263.5 139.1h1M258.4 134h1M290.8 111.6h1M289.7 119.7h1M289.9 121.7h1M282.3 131h1M280.2 112.9h1M279.1 134.5h1M283.3 130.6h1M292.3 114.6h1M276.1 120.6h1M266.1 122.8h1M276.4 133.7h1M256 119h1M278.6 135.1h1M275 139.4h1M283 132.1h1M277.4 135.3h1M272.6 119.8h1M275.6 126.9h1M274.6 123.9h1M288 119.7h1M278.6 127.5h1M275.8 135h1M262.3 140h1M254.1 127.9h1M279 130.4h1M270.8 133h1M272.2 123.7h1M281.9 124.1h1M275.8 132.3h1M281.3 138.2h1M277.9 134.3h1M274.8 127.5h1M271.7 139.5h1M279.8 135.6h1M279.6 139.6h1M282.5 130.7h1M287.9 134.2h1M309.8 96.3h1M290.4 130.7h1M274.4 139.1h1M286.4 114.6h1M293.5 108.2h1M281.2 129.6h1M273.7 125.7h1M287.5 123.5h1M276.6 118.2h1M273.4 130h1M285.2 124.6h1M271.1 140.4h1M281.9 129.6h1M287.6 121.3h1M258.8 134.5h1M275.9 137h1M272.8 128.1h1M294.7 125.1h1M291.4 119.1h1M259.4 140.2h1M288.4 94.5h1M279.4 136h1M267.8 135.2h1M275.7 127.2h1M281.8 132.2h1M289.6 119.9h1M276.8 135.9h1M280.2 129h1M290 107.6h1M286.4 126.5h1M262.7 130.9h1M281.5 125h1M253.8 131.9h1M282.4 122.3h1M275.5 120.7h1M262.8 136.1h1M262.4 137.1h1M285 110.4h1M297.9 97.1h1M273.1 129.8h1M279.5 129.4h1M278.5 129.7h1M275 136.3h1M280.2 134.1h1M276 117.5h1M257.1 137.5h1M280.8 120h1M284.5 124.4h1M275.1 133.5h1M271.7 138h1M284.6 123.4h1M274.4 135.9h1M271 116.5h1M269.1 125.1h1M290.4 115.3h1M275.3 124h1M263.3 137.8h1M284.8 115.7h1M266.2 139.7h1M272.4 140.2h1M283.9 132.7h1M299.5 104.3h1M283.8 131.3h1M275.3 122.5h1M284 125.1h1M287.3 122.1h1M277.6 128h1M283.2 136h1M283.5 126.6h1M282.8 118.8h1M279.2 131h1M287.1 118.4h1M278 138.9h1M285.6 130.1h1M276.2 119.1h1M277.6 118.9h1M284.4 123.2h1M270.5 136.1h1M278.7 123.3h1M280.1 132.9h1M279.3 118h1M294.4 119h1M262.7 120.9h1M279.7 133.4h1M271.6 131.4h1M286.9 111.9h1M283.3 129.8h1M274.2 125.9h1M289.6 126h1M285.9 124.2h1M271.9 122.9h1M286.4 115.6h1M293.9 111.4h1M259.1 137.1h1M276.2 128.2h1M272.1 121.6h1M277.1 126.3h1M287.4 116.4h1M276 135.9h1M275.7 120.5h1M280.3 136.5h1M272 137.8h1M280.3 127.7h1M273.8 125.9h1M297.4 106.5h1M276.3 119.9h1M284 137.5h1M270.8 132.7h1M297.8 114h1M272.2 116h1M283.9 128.9h1M274.8 136.8h1M291.5 108.2h1M295.1 94.7h1M276 140.4h1M274.9 116.1h1M278.4 133.5h1M284.5 123.6h1M272.6 139.3h1M282.8 119.1h1M285.6 123.3h1M263.9 137.8h1M275 135.9h1M275.5 125.5h1M275.3 132.3h1M276 121h1M276.8 137.8h1M285.2 133.4h1M272.3 136.4h1M291.3 117.1h1M281.9 130.9h1M280.9 121.8h1M284.4 107.4h1M285.4 121.6h1M276.8 131h1M259.2 134.5h1M274.6 133.1h1M265.5 131.8h1M283.9 129.5h1M283.6 130.7h1M292.2 110.6h1M260.5 131.8h1M278.3 136.1h1M281.5 123h1M272.9 137.9h1M277.2 132.3h1M281.4 125.4h1M277.6 132.1h1M292.8 103.5h1M285.8 114.7h1M284.3 125.9h1M292.3 109.7h1M273.3 118.1h1M273.1 122.6h1M277.2 132.7h1M288.5 120.7h1M277.2 139.7h1M289.3 120h1M272.4 130.1h1M273.9 132.1h1M280.6 130.4h1M262.8 138.6h1M278.9 126.7h1M271.9 138.5h1M284.6 116.4h1M276.9 129.2h1M280.4 130.4h1M280.5 133.3h1M277.2 134.3h1M273.1 128.7h1M279.1 128.1h1M266.7 137.6h1M274.8 131.5h1M287.7 126.1h1M275.9 135.6h1M286.3 111.8h1M284.3 119h1M270.3 134.5h1M283 132.9h1M285.8 109.5h1M284.9 115.1h1M278.3 113.9h1M256.7 135.3h1M294.6 96.2h1M274.4 118.5h1M275.6 121.8h1M283.5 130.5h1M271.8 125.4h1M285.5 122.2h1M271 136.1h1M278.8 135.9h1M277.7 137.2h1M283.8 125.1h1M280.6 131.4h1M292 112.8h1M276.6 137.8h1M284.2 135.9h1M283.1 128.7h1M280.4 124h1M289.3 127.3h1M293.8 116.1h1M277.3 133.2h1M286.9 124.2h1M276.4 136.9h1M276.1 131.7h1M285.4 124.9h1M287.7 123.3h1M286 134.1h1M278.5 126.7h1M275 137.5h1M273.8 134.3h1M277.4 138.2h1M270.7 128.6h1M269.3 124.3h1M276.2 131.6h1M286.2 118.9h1M275.1 127.4h1M262.7 133.5h1M272 137.6h1M290.3 116h1M280.7 112.5h1M282.1 132h1M284.1 137h1M267.1 127.9h1M272.7 140.2h1M282.8 131.2h1M261.9 130.6h1M266.2 122.9h1M288.9 117.9h1M284.5 127.4h1M285.2 111.9h1M313.8 72.5h1M296.3 77.1h1M308.5 73.1h1M308.4 81.2h1M291.8 87.8h1M309 80h1M295.4 81.1h1M295.3 90.7h1M312 80h1M289.6 84.1h1M304.9 82h1M298.9 78.6h1M303.8 78.7h1M311.1 74.5h1M286.8 89.6h1M312.3 80.6h1M301.6 81.5h1M305.2 82h1M289.5 82.3h1M302.8 84.2h1M291.2 90.1h1M305.8 77.4h1M302.8 78.9h1M295.5 85h1M293.9 80.8h1M312.3 76.6h1M316.8 75.7h1M297.4 85.4h1M298.9 72.6h1M302.6 79h1M304.8 78.8h1M305 77.4h1M297.6 85.1h1M306.3 73.2h1M306.2 76.8h1M299.5 83.8h1M304.6 79.1h1M308.8 67.7h1M299.7 80.7h1M312.3 70.6h1M295.1 86.4h1M310.1 86.1h1M304.8 76.5h1M304.2 82.1h1M304.7 76.6h1M294.7 76.9h1M301 76.9h1M295 80.7h1M298.2 83.5h1M304.6 79.4h1M302 81.4h1M296.6 78h1M297.2 88.4h1M299.4 81.7h1M297.5 86.2h1M297.8 91.1h1M298.2 81.9h1M315.3 81.3h1M305.5 77.6h1M310.7 78.8h1M310.2 86.1h1M303.2 80h1M298.5 78h1M314.6 76.2h1M313.4 72h1M304.6 83.3h1M295.1 89.5h1M301.5 77.5h1M295.6 90.1h1M296.2 72.5h1M301.6 73.5h1M301 81h1M308.4 78.9h1M302.4 80.3h1M304.9 73.5h1M290.8 80.8h1M283.1 85.6h1M304.3 76.1h1M297.6 82.9h1M299.5 76.1h1M304.4 80h1M312.1 76h1M285.7 91.3h1M291.9 87.3h1M290 87.9h1M303.6 78.2h1M304 87.9h1M295.4 81.5h1M292.9 79.4h1M300.8 79.4h1M297.7 92.3h1M292.3 77.6h1M305.6 76.4h1M316.5 81.5h1M306.1 85h1M299.7 91.9h1M289.7 90.4h1M304.8 88.3h1M292.7 83h1M298.3 84.3h1M301.3 83.5h1M309.1 77.6h1M313.7 79.3h1M301.7 74.7h1M307.2 84.7h1M298.7 85.4h1M300.5 76.2h1M302.7 82.4h1M297.1 92.8h1M295.9 85.8h1M297.8 77.7h1M292 87h1M300.7 79.6h1M306.9 79.1h1M309.4 67.1h1M295.3 86.8h1M297.7 80.4h1M296.4 85.9h1M298.8 69.8h1M299.1 72.6h1M295.2 75.6h1M301.4 86.7h1M304.6 87.1h1M300.6 78.3h1M302.3 82h1M303.5 77.6h1M307.8 85.4h1M310.6 70.3h1M296.3 84.9h1M306.9 71.4h1M299.7 82.4h1M298.8 82h1M309.8 92.1h1M295.1 85.3h1M305.2 79.7h1M292.8 80h1M293.8 89.7h1M309.6 69.9h1M289.5 89.6h1M299.4 82.2h1M302.7 81.9h1M307.1 83.9h1M300.5 81.6h1M314.2 77.5h1M298.6 81.4h1M307.7 83.5h1M309.2 74.6h1M304.4 77.4h1M309.8 84h1M282.7 86h1M301.8 76.7h1M305.7 76.9h1M306.2 76h1M311.2 81.5h1M293.8 77.7h1M288.4 81.9h1M299.9 81.5h1M307.4 80.2h1M305.1 85.7h1M306.8 83.2h1M308.5 72.8h1M295.9 87.8h1M304 75.8h1M306.4 82.3h1M294.8 74.4h1M283.7 80.1h1M294.6 80h1M299.5 80.1h1M296.6 78.7h1M303.7 80.9h1M306.8 82h1M296.8 74.3h1M305.7 73.9h1M319 77.4h1M298.8 70.5h1M300.2 82.4h1M302.7 78.8h1M308.8 76.6h1M294.6 88.6h1M305.5 80.3h1M300.8 82.5h1M297.7 80.5h1M298.9 82.4h1M311.2 69.2h1M310 73.2h1M300.1 79.7h1M304.8 77.9h1M296.6 81.6h1M297.7 80.1h1M295 81.1h1M300.4 82.5h1M292.1 85.1h1M294.5 75.9h1M303.8 81h1M293.8 80h1M308.9 82h1M308.1 76.9h1M303.2 77h1M303.6 82.8h1M308.2 71.8h1M304.6 86.1h1M291.1 84.6h1M280.8 98.3h1M298.9 74.1h1M309.9 83h1M305.7 77.9h1M300.2 82.9h1M297.3 76.7h1M302.6 79.6h1M294.2 82.4h1M314.8 75.6h1M303.2 90.7h1M297.1 83.9h1M293.8 80h1M305.2 80.8h1M292.4 87.5h1M302 81.3h1M300.3 78.2h1M289.8 84.1h1M297.9 90.8h1M307.3 85.5h1M300.8 84.8h1M297 77.4h1M301.6 81.7h1M301 78.9h1M304.6 78.8h1M297.1 82.8h1M300.2 81.3h1M297.1 78.8h1M303.2 73.4h1M298.8 84.5h1M304.7 84.1h1M294.4 83.5h1M302.3 85h1M290.3 89.1h1M309.5 81.8h1M311.6 84.2h1M300.4 76.1h1M306.5 82.8h1M296.9 86.5h1M292 84.5h1M299.2 77.9h1M310.4 65.9h1M305.9 86.6h1M296.6 83.5h1M304.4 75.5h1M292.6 94h1M292.7 86.9h1M305.2 81h1M295.5 84.4h1M301 80.2h1M288.6 89.9h1M302.4 75.3h1M306.5 81.3h1M299.5 79.6h1M303.7 83.9h1M295.1 90.4h1M296.9 80.9h1M300.5 73.5h1M308.2 74.1h1M292 78.7h1M306.7 80h1M305.5 84.1h1M296.7 94.1h1M301 71.4h1M293.9 80.6h1M302.5 91h1M295.7 82.9h1M292.7 83h1M311.4 81.6h1M304.6 80.6h1M296.2 80.8h1M306.4 78h1M306.5 80.3h1M296 85.5h1M299.4 87.8h1M308.6 75.2h1M306.3 75.6h1M298.7 79h1M296.8 80.9h1M300.8 85.1h1M301.9 84.6h1M309.3 73.7h1M305 74.9h1M294.7 83.9h1M301.4 89.6h1M291.8 77.1h1M291.2 85.9h1M300 85.6h1M289.4 90.8h1M304.4 71.5h1M292 84.5h1M300.5 73.7h1M293.9 84.6h1M304.8 72.7h1M299.7 82.7h1M298.9 87.8h1M297.7 86.9h1M295.9 85.2h1M301.3 79.7h1M299.1 80.1h1M307.5 82.6h1M300.5 86.8h1M313.9 85.6h1M304.1 75.7h1M292.2 86.3h1M305.2 77h1M301 64.6h1M304.9 82.5h1M308.4 77.1h1M296.5 90.1h1M296.9 83.8h1M294.1 74.8h1M302.8 83.7h1M299.5 78.4h1M298.1 82.5h1M303.2 75.9h1M297.5 70h1M292.3 89.2h1M300.1 89.1h1M300.1 83h1M296.6 88.9h1M309.5 72.9h1M294.9 80.1h1M307.7 83.7h1M309.7 80.5h1M294.7 89.8h1M302.6 83.8h1M311.1 82.5h1M294.2 88.8h1M298.4 85h1M300 84.1h1M312.6 82.8h1M306.3 76.4h1M309.7 81.3h1M306.2 92.5h1M292.9 79.4h1M304.7 84.9h1M299.6 92.7h1M295.5 78.5h1M300.7 89h1M300.3 86.8h1M304.4 82.3h1M298.2 92h1M290.7 86.3h1M305.9 88.2h1M309.2 76.7h1M302.5 78.9h1M303.7 78.9h1M304.7 74h1M297.3 82.3h1M308.6 74.4h1M299 79.3h1M312.6 75.6h1M301.1 79.3h1M298.4 75.4h1M301.6 75.7h1M305.9 84.2h1M307.2 84.9h1M286.4 86.2h1M305.1 82.3h1M293.5 82.9h1M307.3 71.9h1M307.2 75.9h1M291.9 87.4h1M304.3 86.9h1M302.3 77.5h1M291.4 84.9h1M300.6 81.3h1M301 88.4h1M316 79.6h1M294.4 81.8h1M289.9 87h1M304.5 77.4h1M299.2 78.4h1M301.6 77h1M300.3 80h1M303.9 85.7h1M315 80.3h1M306.2 83.1h1M305.4 83.1h1M304.3 71.6h1M303.9 84.5h1M291.8 81.6h1M295.8 84.9h1M304.7 75.3h1M297.7 80.2h1M296.8 88.1h1M307.6 76.9h1M290.9 85h1M297.9 87.4h1M294.9 76.4h1M300.8 82.5h1M306 83.6h1M301.4 85.3h1M306.4 79.8h1M300.8 82.7h1M306.9 74.8h1M300.7 76h1M302.3 79.6h1M300.5 87.6h1M303.7 75.1h1M300 87.7h1M296.9 74.6h1M301.3 84.6h1M300.2 71.2h1M305.6 76.2h1M305.1 78.2h1M293.5 88.9h1M295.5 81.7h1M308.1 75.5h1M299.7 82.3h1M289.7 84.2h1M294 83h1M290.3 80h1M304.2 76.4h1M295.1 81.7h1M304.1 76.6h1M302.7 81.5h1M292.1 87.1h1M291.5 82.1h1M297.8 72h1M309.3 82.6h1M289.4 82.9h1M300.4 79.5h1M295.9 73.6h1M299.2 80.4h1M310.4 83.6h1M287.8 82.5h1M303.8 80.8h1M302.2 80.8h1M309.6 76.8h1M303.4 73.7h1M284.3 82.8h1M305.9 79.7h1M302.1 79.5h1M300.2 82.3h1M308.6 82.4h1M308.8 83.2h1M307.1 77.5h1M292.1 80.5h1M298.8 83.7h1M312.1 78.4h1M297.6 92.6h1M296.4 87.1h1M293.6 81.6h1M312.6 77.2h1M298.4 88.9h1M303.3 77.5h1M291.1 87.5h1M299.9 76.5h1M284.9 86.9h1M306.1 86.6h1M295.1 91.6h1M293.2 92.4h1M310.9 79.7h1M305.5 72.9h1M297.4 84.8h1M297 72.4h1M300.3 73.1h1M297.3 79.8h1M298.3 86.9h1M298.7 86.7h1M311.3 88.4h1M313.3 79.3h1M294.1 87.9h1M292.6 83.3h1M306.9 94.5h1M307.5 77.2h1M305.1 76.2h1M300.8 87.7h1M297.2 87.3h1M298.3 82.8h1M298.2 79.4h1M297.5 82.4h1M297.9 81.3h1M294.6 82.4h1M296.5 87.4h1M305.5 76.1h1M310.9 77.9h1M307.9 72.3h1M309.1 71.8h1M295.8 83.3h1M295 82.8h1M300.8 81.5h1M300.1 88.1h1M294.5 81.4h1M296.8 77.6h1M288.5 78.8h1M305.3 88.1h1M304.1 73h1M296.9 83.8h1M302.3 83h1M298.3 89.6h1M301.1 77.6h1M307.2 76.3h1M309.6 83.5h1M288.8 80.1h1M311.9 81.5h1M302.3 72.6h1M299.8 84.5h1M302 84.9h1M310.4 72.2h1M306.6 75.5h1M306.9 82h1M309.4 70.7h1M296.9 83.8h1M291.6 87.8h1M296.4 79.4h1M310.6 74.8h1M303.8 82.8h1M307.5 77.6h1M284.2 90.8h1M297 80h1M293.2 69.6h1M299.8 77.7h1M304.1 88.4h1M297.2 92.4h1M291 83.2h1M312.8 80.2h1M301.9 91h1M297.1 80.8h1M298.1 86.3h1M301.7 74h1M298.5 87.4h1M297.3 82.3h1M303.9 83.5h1M301.8 75.3h1M295.9 85.1h1M293.4 87.3h1M294.5 80.5h1M302.3 71.9h1M298.2 88h1M306.6 74.4h1M301.3 79.5h1M304.2 71.5h1M299.1 79.1h1M303.7 80.6h1M306.1 87.1h1M306 82.7h1M297.3 79.2h1M293.2 82.8h1M289 88.4h1M305.5 75.3h1M298.8 88.7h1M307.8 85.8h1M298.5 71.4h1M298.1 77h1M307.1 72.4h1M307.1 83h1M293.5 83.2h1M317.2 71.2h1M301 83.6h1M291.3 88.4h1M293.1 74.6h1M294.8 77.4h1M305.7 84.2h1M309.3 71.4h1M298.7 84.5h1M309.4 87.2h1M310.4 79.1h1M297.8 84.4h1M285.7 85h1M300.5 79.8h1M304.7 79.4h1M305.9 76.8h1M302.9 77.6h1M300.4 78.4h1M291.4 89.3h1M301.5 81.6h1M296.3 86.3h1M302.3 80.1h1M291.1 84.2h1M303.1 81.2h1M311.6 74.6h1M295.2 83.8h1M303.9 77.9h1M297.9 88.3h1M310.7 81.6h1M298.8 77.4h1M309.6 80.4h1M296.6 73.3h1M298.4 88.4h1M291.3 81.9h1M309.1 78.1h1M297.8 79.4h1M301.6 85.1h1M292.4 83.6h1M296.6 87h1M310.3 79.3h1M302.3 76.7h1M299.3 87h1M311.1 75.6h1M305.4 71.5h1M290 80.2h1M309.1 83.9h1M303.2 76.6h1M305.4 74.4h1M288.9 87.3h1M307.6 74.2h1M301.6 84.9h1M292.9 81.3h1M302.6 79.2h1M304.3 81.6h1M291.5 83.7h1M296 88.6h1M295.2 93.4h1M296.9 82.5h1M307.2 72.1h1M302.8 82.3h1M302 81.1h1M300 77.7h1M308.3 77.1h1M307 82.8h1M300.9 75.4h1M292.8 92.1h1M297.4 80.3h1M307.3 74.5h1M293.8 85.4h1M292.5 80.4h1M304.8 82.7h1M292.3 67.2h1M299.3 75.1h1M302.6 74.2h1M296.7 81.8h1M288.9 88.7h1M297.6 88.3h1M312.2 81.8h1M302.6 80.5h1M308.9 76.1h1M286 88.5h1M298.9 84.2h1M302 85h1M303.9 76.9h1M293.1 90.8h1M304.2 80.5h1M300.4 79.1h1M310.1 75h1M307.6 84.1h1M299.6 75.7h1M297.1 78.8h1M303 83.1h1M293.9 72.4h1M303.5 81.7h1M307.8 69.8h1M295.6 85.1h1M310.4 73.4h1M300.7 80.1h1M304.9 89.5h1M311.8 73.4h1M308.5 80.6h1M302 77.8h1M298.3 88.4h1M299.2 79h1M307.7 85.2h1M304.3 83.5h1M296.6 83.7h1M302.8 79.4h1M294.6 88.2h1M294.5 84.7h1M308.9 77.6h1M309 80.1h1M296.1 85.5h1M300.3 79.2h1M307.5 85.1h1M295.3 77.9h1M298.9 79.2h1M308.3 84.1h1M303.2 82.8h1M291.6 83.4h1M311.5 76.8h1M300.9 88.9h1M292.6 84.9h1M296.6 88.4h1M298 90.6h1M311 71.9h1M303.2 75.8h1M299.8 84.5h1M303.1 75.5h1M293.7 88.9h1M295.6 89.9h1M303 78h1M304.3 81.7h1M309 74.5h1M303.2 72.9h1M292.6 85.1h1M303.2 77.5h1M295.7 93.5h1M295.1 82.2h1M301.4 89.5h1M306.7 85.9h1M295.7 73.7h1M290.3 85.1h1M296.6 84.3h1M287.4 94.1h1M297.4 77h1M309.8 79.9h1M286.4 88.8h1M311.9 81.5h1M306 77.9h1M306 73.7h1M311 81.1h1M295.6 78.2h1M300.9 84.3h1M302.3 86.1h1M298 83.2h1M311.6 81.8h1M298.7 74.4h1M290.8 87.2h1M307.2 89.5h1M302.2 83.9h1M294.9 84.7h1M307.9 83.8h1M289 86.7h1M304.3 78.1h1M290.2 91.6h1M311.1 81h1M304.6 83.6h1M306.3 78.5h1M294.9 77.4h1M297.5 91.4h1M308 74h1M296.6 90.3h1M307.1 78.8h1M299.2 76.7h1M296.4 79.9h1M301.2 85.5h1M290 78.5h1M310.1 71.9h1M304.3 75.3h1M297.7 84.8h1M293.1 92.3h1M291.1 85.9h1M300.2 76h1M297.2 85.4h1M292.4 84h1M305.1 76h1M295.4 82.4h1M295.8 92.6h1M303.6 80.8h1M294.8 81.8h1M313.7 80h1M297.5 83.1h1M297.5 69.3h1M302.4 83.6h1M286.5 77.7h1M311.4 82.7h1M308.9 78.6h1M309.3 75.6h1M307.6 78.2h1M310.1 85.7h1M284.5 79.8h1M297.1 84.4h1M296.3 90.1h1M303.6 72.4h1M302.8 75.5h1M308 75.5h1M306.2 83.9h1M305.3 74.5h1M306.7 74.5h1M306 80.2h1M297.4 81.7h1M302.7 84.7h1M307.3 78.4h1M317.3 75.4h1M290.9 86.4h1M305.7 81.3h1M299.5 75.8h1M304.6 81h1M302.5 91.7h1M298.4 76.2h1M306.9 78.4h1M281.3 93.9h1M305.2 81.1h1M318.1 77.5h1M292.2 84.9h1M290 81h1M287.1 80.8h1M315.2 80h1M299.3 88.1h1M305.7 82.2h1M286.3 89.3h1M300.5 83.6h1M294.8 84.3h1M301.5 77.8h1M304.9 82.2h1M292.5 87.8h1M306 68.5h1M305.4 79.5h1M298.6 80.1h1M291.1 83.5h1M298.8 75.9h1M287.8 91h1M307.8 79.4h1M309.9 74.2h1M307.1 80.7h1M293 91.2h1M305 76.4h1M297.6 80.7h1M294.9 82.4h1M299 79.2h1M296.8 90.6h1M299.7 78.7h1M308.3 87.3h1M303.2 80.6h1M300.4 81h1M296.6 81.7h1M303.4 73.2h1M303.7 73.1h1M302.5 77.4h1M302.4 86.8h1M298 75h1M306.8 80.5h1M304.3 77.4h1M300.1 86.3h1M305.8 90.3h1M294.7 80.8h1M298.5 80.5h1M309.8 87.6h1M299.8 75.4h1M303.8 82h1M307.9 74.8h1M306.4 73.5h1M292 91.8h1M298.7 76.2h1M302 75.6h1M308.8 78.5h1M298 84.5h1M300 82.9h1M292.4 82h1M310.7 92h1M306.8 76.6h1M313.5 75.2h1M293.4 85.6h1M311.5 77.7h1M303.4 77.2h1M312.7 80.3h1M311.8 72.5h1M305 88.9h1M300.4 81.2h1M308.4 76.7h1M318 76.1h1M308.9 71.9h1M308.1 87.4h1M299.3 75.9h1M305.7 75.7h1M301.6 77h1M306.5 77.5h1M303.6 79.3h1M301.2 86.8h1M304.6 77.4h1M298.2 90.1h1M286.5 85.6h1M295.5 80.9h1M303.4 84.2h1M297.1 70.1h1M317.8 75.3h1M298.5 89.6h1M290.7 89.9h1M297 88.7h1M303.8 86h1M283.6 79.8h1M300.1 84.2h1M306 78.7h1M301.5 89.9h1M304.4 77.4h1M307.7 72.2h1M295.1 88h1M300.1 85.3h1M305.8 79.4h1M298.7 80.6h1M290.3 85.5h1M309.3 77h1M297.2 78.9h1M299.2 80.6h1M306.8 77.7h1M301.4 84.7h1M305 81.5h1M305.5 87.6h1M301.9 79.1h1M298 80h1M300.5 85.7h1M298.1 82h1M300.7 80h1M298.1 78.4h1M306.7 79.7h1M304.4 76.1h1M302.8 79.5h1M301.1 78.9h1M303.3 78.7h1M300.6 78.6h1M300.7 81h1M304.3 75.5h1M298.4 79.9h1M294.2 84.9h1M291.2 83.1h1M316.8 81h1M298.3 85.4h1M287.8 88.6h1M304 80.3h1M305 84.2h1M297.6 85.2h1M303.3 80.4h1M295.7 85.9h1M306.2 76.9h1M304.4 72.8h1M298.3 81h1M300.9 78.4h1M302.4 77.4h1M305.1 80.5h1M302.7 75.4h1M304.3 82.6h1M303.3 82.4h1M302.6 86.3h1M310.9 76.2h1M302.9 67.5h1M293.2 84.9h1M295.1 85.5h1M298.9 82.3h1M306 74.2h1M297.9 83.9h1M292.5 81.9h1M297.6 83.1h1M285.7 82.4h1M305.6 78h1M298.6 79h1M300.7 83.9h1M312.3 75h1M312.1 69.9h1M305.5 82.3h1M294.6 81.4h1M296.1 88h1M304.7 77.4h1M305.7 82.7h1M307.4 81.9h1M308.8 70.6h1M302.6 80.4h1M311.4 72.6h1M288.3 90.9h1M299.6 79.6h1M309.9 76.2h1M308.3 82.4h1M305.4 72.3h1M303.3 79h1M306 78.2h1M300.7 74.5h1M306.4 80.7h1M293 80h1M290.6 83.4h1M301.1 72.6h1M295.6 79.1h1M293.1 89.9h1M308.4 78.1h1M294.6 82.7h1M295 84.4h1M298.8 83.3h1M303.9 85.6h1M309.9 83.5h1M300.6 78.6h1M303.1 68.5h1M306.5 80.9h1M287.7 85.7h1M309 77.7h1M309.1 84.4h1M317.6 78.3h1M295.3 86.7h1M287 95.4h1M298.7 82.5h1M312.5 80.6h1M305.1 81.7h1M311.9 71.8h1M298.1 81.2h1M311.8 66.8h1M295.9 73.4h1M301.5 79.1h1M298.9 75.1h1M305.8 73.5h1M294.3 85.2h1M297.8 79.1h1M289.6 80.6h1M299.3 77.2h1M318 70.1h1M295 84.4h1M311 73.7h1M310.5 76.2h1M298.4 86h1M299.8 72h1M286.1 80.7h1M292.6 81.3h1M299.5 74.1h1M309 81.4h1M306.3 77.9h1M295.9 85h1M301.6 74h1M299.8 90.7h1M294.9 83.1h1M310.2 84h1M295.1 88.5h1M313.9 80.7h1M295.2 80.3h1M307.3 82.7h1M298 83.3h1M305.3 76.1h1M297.6 76.3h1M301.6 75.7h1M299.3 77.3h1M298.7 82.6h1M294.2 82.2h1M299.9 75.1h1M298.5 83.2h1M303.2 90.9h1M297.3 83.1h1M306.3 86.4h1M299.6 83.9h1M299.4 80.2h1M295.1 91.8h1M294.4 82.5h1M300.3 79.7h1M309.1 78.2h1M319.6 71.3h1M302.5 90.6h1M304.3 77.3h1M300 91.3h1M297 86.1h1M293.2 85.5h1M308.5 76.1h1M298.4 78.5h1M308.5 85.9h1M284.4 87.3h1M309 79.2h1M307.8 74.5h1M299.2 79.5h1M310.5 79.7h1M295.3 87.5h1M309.7 77.6h1M303 77.7h1M301.3 75.4h1M312.2 75.4h1M307.6 85.5h1M297.7 87.3h1M297.3 82.4h1M313.7 80.3h1M306.3 74.7h1M294.3 90.4h1M307.2 74.7h1M300.5 85.6h1M292.5 82.5h1M306 88.5h1M306 70.6h1M300.5 84.5h1M293.8 82.7h1M290.8 86.5h1M310.8 67h1M304.3 85.4h1M288.3 78.1h1M304.1 83.9h1M308.6 76.9h1M306 82.3h1M305.1 72.4h1M301.8 85.3h1M300.6 84.9h1M293.2 72.9h1M299.3 76.9h1M310.8 76.9h1M304.3 84.6h1M307.2 86.9h1M301 75.4h1M309.4 76.2h1M302.2 78.1h1M290.7 86.4h1M300.4 83.5h1M295.3 83.2h1M298.4 89.5h1M294.9 89.1h1M311.1 81.1h1M299.2 75.8h1M297 82.4h1M291.1 82.8h1M296.9 75.6h1M310.3 77.6h1M295.1 78.1h1M303.6 83.6h1M301.5 82.6h1M306.6 82.6h1M308.2 80.2h1M295.2 87.3h1M302.5 77.6h1M300.6 77.7h1M287.9 90h1M298.9 79.8h1M300.9 86.9h1M316.1 72.9h1M298.2 84h1M297.5 85h1M300.6 81.6h1M302 88.7h1M303.9 77.5h1M294 82.4h1M301.9 84.2h1M293.4 88.3h1M304 87.1h1M297.4 80.3h1M303.2 76.1h1M295.3 81.1h1M304.1 85.5h1M312.9 72.8h1M301.7 85.8h1M300.3 89.3h1M304.4 75h1M289.2 85.3h1M309.3 74.1h1M311.1 81.9h1M295.5 84h1M294.2 79.6h1M308.1 78.4h1M311.3 86.4h1M302.5 79.6h1M320.1 82.3h1M312.6 78h1M301.4 88.2h1M301.9 71.6h1M290.9 79.9h1M300.2 76.6h1M292.9 82h1M294.1 92.2h1M303.1 92.1h1M299.7 80.4h1M307.8 76.4h1M297.5 91.1h1M294 81.7h1M305.2 80.7h1M293.2 84.3h1M296.6 78.4h1M298.3 84.5h1M308.2 77.9h1M297.8 81.5h1M308.9 77.8h1M320.3 68.7h1M304.5 83.4h1M303.5 74.1h1M296.8 72.1h1M311.9 82.8h1M301 75h1M304.1 78.6h1M298.8 79h1M289.9 75.3h1M295.5 73.6h1M302.6 90.1h1M304.3 82h1M318.2 79.9h1M302.8 80.9h1M304.8 81.7h1M296.2 81.8h1M299.3 81.8h1M311.7 75.9h1M306.4 80.1h1M314.2 69.4h1M287.4 88.4h1M297.9 84.9h1M302.7 73.5h1M302.6 89.1h1M307.8 74.6h1M297.3 87.6h1M287.6 80.3h1M294.9 88.8h1M304.2 77.3h1M291.2 80.3h1M296.7 83.1h1M305.6 84.6h1M305.2 84.4h1M308.5 76.7h1M307.8 85.6h1M296.9 89.3h1M311.7 72.4h1M304.9 75.2h1M302.3 76.9h1M301.6 84.9h1M299.2 77.8h1M297.2 76.8h1M296.3 88.2h1M307.5 82.2h1M306.3 82.2h1M303.3 74.7h1M295.5 80.6h1M304 85.8h1M290.6 91.6h1M298.6 83.2h1M307.9 76.3h1M307.7 72.5h1M302.3 78.1h1M305.4 73.6h1M305.9 79.6h1M302.5 86h1M294.2 90.9h1M305.2 88.2h1M283 84.6h1M311.7 81.5h1M302.2 77.8h1M307.9 73.5h1M292.3 82.8h1M293.9 82.9h1M302.5 81h1M301.6 78.8h1M292.4 86.1h1M314.7 80.5h1M289.5 89.6h1M301.1 86.3h1M295.4 87.5h1M295.4 89.8h1M293.1 80.3h1M303.6 76h1M294.4 85.5h1M288.5 88.2h1M298.8 79.4h1M307.1 89.4h1M285.9 87.2h1M307.7 75.9h1M305.8 78.6h1M313.1 88h1M295.5 82.9h1M290.8 86.7h1M293.9 90.4h1M288.6 84.5h1M309.4 77.6h1M296.3 76.4h1M297.5 83.2h1M298.2 85.5h1M301.3 84.1h1M302.1 70.7h1M304.7 86.6h1M307.3 82.3h1M301 88.1h1M305.5 85.3h1M300.3 82.1h1M309.4 81.7h1M298.7 80.3h1M311.8 83.7h1M298.6 87h1M295.3 79.8h1M286.6 89.6h1M297.9 82.4h1M303.8 85.4h1M312.4 84.6h1M312.3 72h1M288.7 82.3h1M308.9 78.9h1M310.6 78.1h1M303.5 79.5h1M291 81.9h1M301.5 78.4h1M299.6 76.9h1M293.9 80.9h1M289.3 84.7h1M303.7 74h1M303.1 77.1h1M288.9 81.5h1M293.2 85h1M307.6 81.5h1M315.1 77.6h1M318.9 63.8h1M315.9 83.3h1M300.3 73h1M284.4 85.2h1M305.5 83.8h1M296.2 79h1M309.4 70.4h1M291.2 84h1M311.5 76h1M297.8 89.1h1M295.3 76.8h1M311.4 79.6h1M305.2 88.7h1M300.3 77.7h1M311.8 73.9h1M291.4 88.4h1M297.3 83.4h1M299 81.4h1M293.1 88.3h1M289.1 87.3h1M296.5 77.9h1M287.8 75.2h1M297.1 83.8h1M288.6 88.9h1M297.4 86.2h1M310.3 77.1h1M294.9 85.9h1M298.9 83.2h1M304.7 84.2h1M309.3 73.6h1M315.9 77.9h1M302.1 80.9h1M305.6 74.4h1M297.1 82h1M293.8 81.9h1M318.5 78.8h1M306.2 76.4h1M288.8 84.6h1M305.7 85.9h1M294.2 76.2h1M298.9 78.1h1M296.6 80.4h1M305.5 83.5h1M299.7 71h1M307.6 82.6h1M302.1 78.4h1M307.9 75.9h1M304 78.9h1M312 80.6h1M286.3 79.8h1M305.2 80h1M299.4 87.2h1M295.5 84.7h1M305.7 77h1M297.9 79.6h1M308.8 82h1M292 88.3h1M305.5 86.5h1M297.5 78.7h1M306.7 82.2h1M298.7 84.2h1M283.5 82.1h1M310.6 84.4h1M302.9 73.2h1M303.1 87.9h1M311.1 78.5h1M293.5 80.5h1M305.1 83h1M306.6 81.4h1M303.9 79.7h1M285.3 87.1h1M301.9 83.6h1M294.4 92.7h1M299.2 81.2h1M314.1 70.9h1M299.7 85.7h1M287.5 87.9h1M299.8 76.8h1M312.9 73.9h1M311.8 83.6h1M307.4 87h1M298.9 76.7h1M297.2 81.3h1M292.1 92.2h1M306.3 86.2h1M301.7 81.7h1M298.4 78h1M308.9 85.3h1M309.5 77.7h1M291.5 74.7h1M297.7 78.7h1" fill="none" stroke="#000" stroke-width="1" stroke-opacity="0.8"/>
<line x1="229.5" y1="91.8" x2="350" y2="91.8" stroke="#777" stroke-width="1.4"/>
<line x1="288.7" y1="30" x2="288.7" y2="141.6" stroke="#777" stroke-width="1.4"/>
<rect x="229.5" y="30" width="120.5" height="111.6" fill="none" stroke="#222" stroke-width="1.2"/>
<path d="M229.5 141.6v5.3M229.5 141.6h-5.3M238.6 141.6v2.8M229.5 133.2h-2.8M243.9 141.6v2.8M229.5 128.3h-2.8M247.6 141.6v2.8M229.5 124.8h-2.8M250.6 141.6v2.8M229.5 122.1h-2.8M252.9 141.6v2.8M229.5 119.9h-2.8M255 141.6v2.8M229.5 118h-2.8M256.7 141.6v2.8M229.5 116.4h-2.8M258.2 141.6v2.8M229.5 115h-2.8M259.6 141.6v5.3M229.5 113.7h-5.3M268.7 141.6v2.8M229.5 105.3h-2.8M274 141.6v2.8M229.5 100.4h-2.8M277.8 141.6v2.8M229.5 96.9h-2.8M280.7 141.6v2.8M229.5 94.2h-2.8M283.1 141.6v2.8M229.5 92h-2.8M285.1 141.6v2.8M229.5 90.1h-2.8M286.8 141.6v2.8M229.5 88.5h-2.8M288.4 141.6v2.8M229.5 87.1h-2.8M289.8 141.6v5.3M229.5 85.8h-5.3M298.8 141.6v2.8M229.5 77.4h-2.8M304.1 141.6v2.8M229.5 72.5h-2.8M307.9 141.6v2.8M229.5 69h-2.8M310.8 141.6v2.8M229.5 66.3h-2.8M313.2 141.6v2.8M229.5 64.1h-2.8M315.2 141.6v2.8M229.5 62.2h-2.8M317 141.6v2.8M229.5 60.6h-2.8M318.5 141.6v2.8M229.5 59.2h-2.8M319.9 141.6v5.3M229.5 57.9h-5.3M328.9 141.6v2.8M229.5 49.5h-2.8M334.2 141.6v2.8M229.5 44.6h-2.8M338 141.6v2.8M229.5 41.1h-2.8M340.9 141.6v2.8M229.5 38.4h-2.8M343.3 141.6v2.8M229.5 36.2h-2.8M345.3 141.6v2.8M229.5 34.3h-2.8M347.1 141.6v2.8M229.5 32.7h-2.8M348.6 141.6v2.8M229.5 31.3h-2.8M350 141.6v5.3M229.5 30h-5.3" fill="none" stroke="#111" stroke-width="1.25"/>
<text x="229.8" y="156.5" font-size="8.6" text-anchor="middle" fill="#111" stroke="#111" stroke-width="0.3">10<tspan dy="-2.9" font-size="5.2">0</tspan></text>
<text x="221.9" y="141" font-size="8.6" text-anchor="middle" fill="#111" stroke="#111" stroke-width="0.3" transform="rotate(-90 221.9 141)">10<tspan dy="-2.9" font-size="5.2">0</tspan></text>
<text x="259.9" y="156.5" font-size="8.6" text-anchor="middle" fill="#111" stroke="#111" stroke-width="0.3">10<tspan dy="-2.9" font-size="5.2">1</tspan></text>
<text x="221.9" y="113.1" font-size="8.6" text-anchor="middle" fill="#111" stroke="#111" stroke-width="0.3" transform="rotate(-90 221.9 113.1)">10<tspan dy="-2.9" font-size="5.2">1</tspan></text>
<text x="290.1" y="156.5" font-size="8.6" text-anchor="middle" fill="#111" stroke="#111" stroke-width="0.3">10<tspan dy="-2.9" font-size="5.2">2</tspan></text>
<text x="221.9" y="85.2" font-size="8.6" text-anchor="middle" fill="#111" stroke="#111" stroke-width="0.3" transform="rotate(-90 221.9 85.2)">10<tspan dy="-2.9" font-size="5.2">2</tspan></text>
<text x="320.2" y="156.5" font-size="8.6" text-anchor="middle" fill="#111" stroke="#111" stroke-width="0.3">10<tspan dy="-2.9" font-size="5.2">3</tspan></text>
<text x="221.9" y="57.3" font-size="8.6" text-anchor="middle" fill="#111" stroke="#111" stroke-width="0.3" transform="rotate(-90 221.9 57.3)">10<tspan dy="-2.9" font-size="5.2">3</tspan></text>
<text x="350.3" y="156.5" font-size="8.6" text-anchor="middle" fill="#111" stroke="#111" stroke-width="0.3">10<tspan dy="-2.9" font-size="5.2">4</tspan></text>
<text x="221.9" y="29.4" font-size="8.6" text-anchor="middle" fill="#111" stroke="#111" stroke-width="0.3" transform="rotate(-90 221.9 29.4)">10<tspan dy="-2.9" font-size="5.2">4</tspan></text>
<text x="288.9" y="19.5" font-size="14.3" text-anchor="middle" fill="#111" stroke="#111" stroke-width="0.3">DDP</text>
<text x="384.9" y="45" font-size="11.9" text-anchor="start" fill="#111" stroke="#111" stroke-width="0.3">6.00%</text>
<text x="491.5" y="45" font-size="11.9" text-anchor="end" fill="#111" stroke="#111" stroke-width="0.3">6.08%</text>
<text x="384.9" y="103.4" font-size="11.9" text-anchor="start" fill="#111" stroke="#111" stroke-width="0.3">83.72%</text>
<text x="491" y="103.4" font-size="11.9" text-anchor="end" fill="#111" stroke="#111" stroke-width="0.3">4.20%</text>
<path d="M455.3 65.6h1M440.4 69.5h1M451.4 74h1M482.9 66.3h1M453.7 68.5h1M471.7 69.2h1M464.5 75.3h1M450 75.1h1M436.6 82.9h1M431.2 77.4h1M452.7 74h1M457.2 78.4h1M453.6 71h1M466.8 74.2h1M450.8 83h1M449.5 84.1h1M433.1 70.3h1M421.8 73.8h1M460.1 72.7h1M461.3 68.2h1M470.6 70.4h1M446.8 76.5h1M440.5 74.8h1M442.5 68.8h1M428.3 82.3h1M442.7 84.8h1M485.2 78.9h1M451.3 75.3h1M481.2 77.5h1M471.5 72.8h1M453.3 75.7h1M465.4 75.9h1M453.5 70.5h1M484.3 79.1h1M476.7 63.4h1M447.6 71.8h1M446.7 65.1h1M458.3 72.5h1M451.8 73.6h1M453.2 76.8h1M487.1 76h1M401.8 82h1M452.5 70.5h1M452.1 73.3h1M459.1 66.4h1M448.7 75h1M483.2 64.3h1M438.4 63.1h1M467 72.9h1M437.4 73.6h1M443.6 79.4h1M436.3 77.9h1M471.7 71.2h1M433 72.5h1M455.2 67.7h1M472.9 69.7h1M452.9 72.6h1M437.7 71.7h1M475.1 67.6h1M451.7 73.9h1M444.2 78h1M449.8 77.2h1M449.9 80.9h1M460.1 70.8h1M440 86.3h1M453.9 66.6h1M444.6 76.3h1M446 70.3h1M440.6 69.5h1M449.7 68.2h1M455.7 73.1h1M433.8 79.2h1M450.6 69.4h1M459.2 74.8h1M460.2 66.1h1M453.2 74.5h1M448.5 69h1M463.8 75.2h1M461 73.4h1M442.8 67.9h1M467.8 73.4h1M455.7 69.3h1M445.7 74.3h1M466.4 79.1h1M459.2 67.5h1M463.6 77.3h1M460.5 75.4h1M462.9 67.5h1M458.9 75.2h1M445.5 69.3h1M441.3 71.9h1M462.8 72h1M490.3 65.4h1M488.5 76.3h1M421 73h1M464.7 71.9h1M455.9 81.5h1M446.6 78.7h1M451 68.2h1M455.5 70h1M445.1 76h1M456.9 73.1h1M474.4 73h1M483.8 71.9h1M471.3 73h1M479.2 67h1M460.2 67.3h1M446.5 78.8h1M424 71.3h1M445.2 76.7h1M452.8 62.3h1M429.3 75.3h1M448.7 70.4h1M428.8 78.6h1M466.1 62.1h1M479.3 72.1h1M455.9 72.4h1M435.9 82.7h1M466 68.8h1M451.8 66.4h1M439.7 72h1M455.2 72.3h1M462.1 69.9h1M458.7 70h1M483.9 68.5h1M469.4 66.4h1M449.1 69h1M441.3 68.5h1M443.5 76.5h1M459 67.1h1M467.6 65.2h1M452.8 77.2h1M462.9 69.1h1M440.1 69.7h1M458.8 76.2h1M462.7 77.4h1M441.7 72.3h1M432 75.9h1M434.4 71.9h1M444.1 73h1M433.1 77.6h1M468.6 67.3h1M427 72.2h1M468.5 71.5h1M476.9 73.5h1M452.8 66.7h1M473.2 62.3h1M440.4 83.6h1M462 78h1M454.2 78.7h1M470 65.3h1M463.2 70.5h1M455.9 73.3h1M460.4 69.8h1M462.2 72.9h1M482.8 65.7h1M474.4 61.8h1M443.5 82.6h1M473.9 70.6h1M456.4 73.1h1M458 77.5h1M453.9 74.6h1M456.8 83.5h1M466.8 68.2h1M430.1 80.1h1M454.9 68.8h1M453.8 65.2h1M456.2 76.9h1M444.4 70.1h1M445.2 69.5h1M469.6 66.4h1M470.2 70.2h1M455.4 74.9h1M447.3 81.3h1M447.7 78.7h1M433.8 75h1M462 72.5h1M474.4 63.8h1M471 72.3h1M432.5 73.1h1M458.9 67.6h1M460.1 64.7h1M450.2 69.5h1M443.8 85.7h1M447.1 65.8h1M429.4 71.4h1M445.3 75.7h1M455.5 70.8h1M440.5 73.9h1M460.8 66.7h1M442.5 66.3h1M481.1 55.1h1M435 74.6h1M427.2 75h1M464.2 76.2h1M431.4 75.2h1M465 74.3h1M453.3 85.1h1M444.4 73.1h1M455.9 63.8h1M440.1 86.1h1M462.2 73.7h1M458.6 67.7h1M462.6 63.3h1M476.4 76.7h1M452.3 62.3h1M448.1 68.3h1M454.5 74.2h1M477.5 62.7h1M450.6 68.2h1M436.2 79h1M468.3 69.5h1M438.9 72.6h1M458.7 64.8h1M469.4 70.9h1M448 73.9h1M450.3 65.4h1M477.3 61.2h1M460.8 72.2h1M468.6 71.4h1M459.9 79.6h1M447.5 66h1M441.1 82h1M451.1 64.2h1M476.7 70h1M448 73.8h1M441.2 74.2h1M451.9 80.1h1M446.7 74.8h1M443.3 79.8h1M466.7 60.3h1M451.1 74.8h1M462.6 71.8h1M442.2 67.2h1M440.3 78.3h1M446 78.1h1M451 69.8h1M475.7 65h1M456.6 78.1h1M454.9 76.8h1M452.7 67.4h1M458.2 72.5h1M443.9 74.1h1M457.4 76.3h1M446.8 69h1M430.9 78.5h1M436.4 67.4h1M463.5 67.9h1M460.6 69.6h1M460.7 79h1M458.3 68.4h1M433.2 71.7h1M466.2 77.8h1M448.3 74.7h1M446.9 71.4h1M436.3 76.4h1M457.7 67.8h1M455.9 73.1h1M466.9 80h1M469.1 71.1h1M436.9 77.4h1M429.7 86.8h1M450.8 76.7h1M466.6 74.5h1M436.7 80.1h1M480.3 67.4h1M446.8 78.5h1M438.9 75.7h1M460.3 65.2h1M471.7 67.7h1M446 78h1M421.7 83h1M461.5 72.6h1M461.6 77.7h1M468 68.2h1M455.3 69.9h1M422.4 80.6h1M440.2 65.4h1M452.7 75h1M468.5 75h1M476.6 71.8h1M454.9 76.7h1M468.8 80.6h1M465.9 74.2h1M456.7 77.5h1M458.2 70.5h1M463.4 68.9h1M463.3 65.5h1M450.3 78.8h1M435.5 72h1M448.5 67.8h1M456.5 76.9h1M466.7 60.1h1M453.1 77.1h1M441.7 69.8h1M446.7 75.5h1M465.1 70.2h1M457.2 74.4h1M445.4 72.9h1M456.8 68.7h1M447.3 71.6h1M462 70.4h1M462.6 65.5h1M457.9 71.1h1M440.4 72.9h1M453.9 73.8h1M442.3 71.3h1M492.4 63.2h1M455.9 69.6h1M446.2 73.1h1M445.8 76.9h1M458.2 70.3h1M454 76.2h1M459.8 76.7h1M466.7 71.7h1M454.3 68.1h1M464.3 76.9h1M451 70.8h1M441 86.7h1M454 72.4h1M461.2 70.5h1M456.7 70.5h1M474.9 66h1M463.4 72.5h1M471.8 70h1M467.7 80.5h1M458.7 71.8h1M447.1 66.9h1M461.1 71.6h1M445.6 64.1h1M465.5 66.8h1M442.6 67.6h1M463.5 71.9h1M454.9 80.3h1M465.6 75.7h1M467.8 72h1M445.5 71.8h1M459.1 77h1M453.4 69.2h1M452.5 79.3h1M452.3 77.4h1M446.4 73.3h1M454.4 73.2h1M430.3 74.6h1M452.4 74.5h1M455.6 62.1h1M437.4 83.2h1M466.9 73.9h1M475 73.5h1M447.1 69.2h1M468 67.5h1M461.8 71.5h1M448.7 74.1h1M473.1 65.2h1M455 70.4h1M466.2 64.1h1M453.1 72.7h1M457.6 58.4h1M457.5 65.2h1M431.7 71.8h1M435.3 80.9h1M445.8 74.3h1M457.3 69.7h1M458.7 73.6h1M492.7 63.4h1M463.1 60.4h1M468.7 66.7h1M458.1 62h1M440 79.5h1M458.9 81.6h1M442.6 68.5h1M448.1 72.4h1M466.1 75.9h1M459.5 74.4h1M439.2 76.2h1M454.5 74.1h1M444.5 69h1M471.4 66.3h1M454.5 77.4h1M443.9 79.5h1M457.3 67h1M468.4 69.8h1M449.2 72.1h1M456.3 68.8h1M477.2 71.5h1M487.4 76.8h1M430.3 84h1M440.2 75.8h1M485.8 70.1h1M471.5 70.9h1M458.1 76.6h1M488.3 66.3h1M444 62.5h1M457.3 69.5h1M453.6 76.4h1M434.2 76.5h1M478.3 65.8h1M451.5 67.3h1M440.2 67.7h1M455.5 76.1h1M464.5 67.7h1M449.8 71.8h1M468.1 62.6h1M444.9 87h1M485.2 68h1M448.5 71h1M447.9 68h1M437 76.2h1M435.3 67.8h1M450.4 67.3h1M476.3 74.3h1M451.1 69.1h1M455.8 72.5h1M466.5 65.4h1M446.4 74.2h1M464.3 69.3h1M458 77.1h1M480.9 68.6h1M458.9 71.5h1M455.8 71.1h1M442.4 72.3h1M472.3 66.9h1M465.2 67.8h1M453.9 63.1h1M444.7 71.9h1M469.8 67.9h1M440.5 80h1M478.7 72.6h1M454.7 69.3h1M457.9 80.4h1M427.3 77.4h1M443.9 75.3h1M456.2 71h1M436.8 83.7h1M469.3 72.6h1M439.5 84.8h1M463.9 76.8h1M439.1 71.7h1M459 68.5h1M438.9 89.3h1M440.8 76h1M444.5 69.4h1M461.2 76.2h1M463.4 71.3h1M446.9 67.8h1M429.6 71.3h1M472.8 79.2h1M452.3 73.3h1M438.8 77.7h1M443 73.8h1M432.7 97.1h1M443.1 72.9h1M431 73h1M448.1 92.4h1M433.5 84.1h1M439.3 82.4h1M427.6 70h1M434.1 74.2h1M449.7 85.9h1M433.5 72.7h1M435.4 75.8h1M436 57.6h1M439.8 77.2h1M436.8 76.9h1M426.2 82.2h1M440.5 89.6h1M436.3 80.8h1M432.9 60h1M440.3 77.3h1M431.3 79.3h1M434.2 80.7h1M437.3 60h1M444 66.3h1M444.2 57.4h1M432 90.3h1M437.3 77.9h1M436.2 85h1M440.1 66.2h1M437.3 81.8h1M443.2 82.4h1M433.9 77.4h1M422.3 64.9h1M435.4 75.8h1M437.9 76.7h1M428 65.8h1M439.5 77.6h1M454.9 90.1h1M440.5 80.8h1M427 64.4h1M426.7 78.8h1M435.5 78.5h1M430.4 69h1M437.6 90.2h1M428.7 77.8h1M429.1 76.5h1M438 84.6h1M424.4 90.4h1M438.2 84.1h1M447.2 83.5h1M438.3 74.5h1M436.6 77.5h1M442.1 81.1h1M438.1 82.8h1M448.1 78.6h1M441.1 103.8h1M433.1 89h1M436.3 83.5h1M429.7 82.2h1M440.9 71.4h1M432.8 71.5h1M432.3 75h1M430.9 71.6h1M450 82.3h1M443.4 91.6h1M432.2 58.6h1M435.6 75.9h1M426.3 80.1h1M431.3 70.3h1M432.8 59.5h1M429.5 77.3h1M424 83.2h1M443.3 80.8h1M428.2 76h1M441.7 76.4h1M442 91.3h1M447 74.3h1M423.4 65h1M433.2 75.9h1M424.1 85h1M425.1 73.3h1M434.6 87.4h1M433.8 71h1M431.3 75.4h1M428.9 93.3h1M433.1 82.3h1M437.1 72.4h1M433.5 82.9h1M440.6 76.6h1M435.7 78.1h1M422.9 84.4h1M426.4 82.8h1M441.4 93.4h1M441.5 84.5h1M434.7 83.7h1M440.3 85.3h1M423.5 77.4h1M435.1 74.9h1M439.6 89.7h1M437.2 79h1M435.6 79.2h1M437.9 84.4h1M435.1 72.2h1M429.6 80.6h1M429.9 88.5h1M433.5 78.6h1M445.1 81.6h1M441.6 75.7h1M436.4 104.8h1M436.8 79.6h1M429.8 78.9h1M444.8 89.2h1M432.9 72.7h1M425.2 88.3h1M437.8 72.4h1M443.3 74h1M449.8 76.9h1M428.2 81.6h1M439.8 77h1M424.4 76.9h1M431.2 81.6h1M444.8 81.3h1M432 81h1M432.1 63.6h1M441 72.7h1M431.9 85.1h1M437.5 97.4h1M442.1 90.2h1M436.6 77.3h1M431.3 77.2h1M440.2 64.8h1M438.4 65.5h1M438.8 81.5h1M441.2 84.2h1M436.9 75h1M442.9 77.8h1M427.2 69.6h1M437 82.4h1M431.2 75.4h1M438 74.5h1M435.2 67.7h1M434.4 76.7h1M437.2 71.5h1M431.9 82.4h1M434.7 85.3h1M432.1 89.6h1M440.5 68.1h1M430.1 73.9h1M429.1 86.5h1M434.1 79h1M438.7 95.4h1M428.1 79.4h1M434.5 63h1M434.3 85.2h1M443.2 101.3h1M424.8 58.3h1M432.3 79.5h1M434.9 87.1h1M435.1 90.5h1M441.7 73.9h1M440 87.3h1M424.4 83.9h1M429.4 76.9h1M426.3 87.4h1M436.8 76.6h1M436.5 90.1h1M431.9 64h1M441.6 86.6h1M447.4 81.1h1M435.9 86.6h1M445 79.2h1M435.5 87.4h1M428.3 78.6h1M436 67.6h1M430.5 83h1M441.9 73.5h1M431.9 68.4h1M438.8 72.9h1M438 72.3h1M433.5 81.8h1M442.5 76.9h1M438.1 70.9h1M437.4 76.8h1M422.8 84.2h1M440.9 87.1h1M434.2 78.2h1M435.1 73.1h1M438.8 81.4h1M442.5 82.9h1M431.7 77.5h1M439.7 81.2h1M429.5 84.1h1M437.3 74.6h1M446.6 81.3h1M434.7 97.2h1M443.6 72.8h1M436 85.7h1M420.3 74.2h1M431.3 68h1M440.5 69.8h1M435.1 70.5h1M427.6 68.4h1M435.8 89.5h1M433.6 87.8h1M437.5 85.8h1M428.3 82.9h1M434.6 78.4h1M440.1 70h1M438.4 66.9h1M421.2 80.6h1M441.6 90.5h1M434.8 78.3h1M426.7 84.6h1M439.6 82.6h1M445.2 61.2h1M435.5 89.2h1M435.8 84.5h1M427.4 83.2h1M433.2 82.9h1M441.5 71.5h1M438.4 82.9h1M438.5 79.9h1M437.3 87.8h1M417.5 73h1M432.4 84h1M435.9 80.5h1M434.2 67.9h1M436.7 78.2h1M430.7 80.8h1M438.7 80.7h1M437.9 87.5h1M438.2 88.2h1M433.4 86.2h1M437 71.3h1M437.7 87h1M436.8 71.8h1M440.3 76.1h1M429.2 84.4h1M431.9 83.8h1M437.4 79.7h1M433.9 75.5h1M431.7 82.6h1M436.6 90.8h1M430.9 91.1h1M429.7 81.1h1M435.2 77.3h1M437.9 89.1h1M447.1 69.3h1M428.7 85.5h1M433.1 78.4h1M439.6 80h1M420.7 57.2h1M441.1 73.5h1M431.5 79.2h1M441.5 83.8h1M442.8 79.3h1M445.4 79.6h1M444.9 92.7h1M444.6 76.4h1M433.7 71.5h1M434.4 73.5h1M441.7 71.7h1M449.1 69.1h1M450.9 74.4h1M436.9 76.9h1M435.8 89.8h1M436.8 89.5h1M434.3 82.4h1M432.7 88.5h1M436.7 80.2h1M444.2 75h1M441.6 83.7h1M434.1 90h1M430.8 74.3h1M434.8 81.2h1M432.6 67.7h1M435.7 71h1M435.8 72.5h1M430.2 90.7h1M442.6 82.4h1M437.6 73.1h1M440.1 77.9h1M428.9 85.6h1M436.2 74.9h1M439.1 77.1h1M431.4 80.1h1M441.8 86.9h1M432.6 72.8h1M445.4 76.8h1M436 87.6h1M435.3 86.3h1M436.8 74.3h1M438.7 69.7h1M429.9 90.1h1M444.1 71.7h1M430.2 78.9h1M429.6 80.2h1M437.9 72.4h1M430.2 90.1h1M439.4 82.7h1M444.3 89.1h1M448.9 125.6h1M459.9 85h1M455.5 101.3h1M429.9 118h1M439.5 85.2h1M461.7 102.4h1M453.7 93.9h1M458 106.4h1M442.7 92.7h1M458.8 100.8h1M477.5 90h1M443.2 93.4h1M459.6 98.6h1M468.3 85.1h1M448.7 93.8h1M458.4 100.3h1M459.7 102.3h1M445.8 95h1M436.5 106.8h1M437.3 96.8h1M439.2 85.9h1M469.3 101.1h1M452.7 102.5h1M448.4 94.1h1M462.1 76.5h1M474.2 105.1h1M445 103h1M446.1 99.6h1M458.6 101.8h1M437.9 81.4h1M453 79.1h1M440.4 89.8h1M466.3 83.2h1M440.2 97.5h1M443.8 112h1M448.8 95.5h1M447.9 101.5h1M458.9 103.8h1M453.2 91.9h1M456.3 93h1M439.2 105.4h1M443.5 95.1h1M429.6 104.1h1M430.2 99.2h1M444 101.1h1M456.8 82.3h1M438.4 101.9h1M428.1 107.6h1M440.7 96.3h1M448.6 99.3h1M438 106.2h1M437.2 103.2h1M431.3 102.5h1M456.7 74h1M464.4 83.8h1M455.7 83.7h1M448.8 96.6h1M429.7 109.9h1M467.3 111.1h1M453.9 99.3h1M445.2 98.2h1M453 109.4h1M453.4 115.7h1M467.4 95.4h1M462.4 105h1M469 85.4h1M453.6 96.9h1M456.2 105h1M449 102.2h1M450.9 85.4h1M462.8 94h1M458.1 100.3h1M448.3 115.2h1M438.3 114h1M449.7 101.6h1M452.4 88.6h1M458.3 99h1M445.4 103.8h1M459.3 105.8h1M433.4 106.4h1M459.4 86.1h1M461.5 114.5h1M446.7 94.2h1M458.4 80.6h1M438.5 99.6h1M432.7 106.5h1M443.7 94h1M456.1 114.4h1M447.8 97.1h1M468.5 101.6h1M441.5 107.6h1M462.5 99.2h1M450.1 95.8h1M438.1 93h1M427.2 89.1h1M444.5 109.8h1M444.3 112.2h1M441.8 109.5h1M437.1 105h1M455 104h1M454.1 106.6h1M453.4 102h1M437.3 102.5h1M449.7 106.2h1M448.3 95.5h1M437.1 108.1h1M457.2 98h1M453.5 76.8h1M434.8 100.7h1M442.5 88.8h1M459.9 110.2h1M462.4 96.6h1M446.5 100.8h1M454.5 106.7h1M442.5 89.4h1M439.7 108.3h1M461.1 105.7h1M447 98h1M440.3 105.5h1M440.1 104.6h1M437.8 94.8h1M436.8 87.6h1M452 116.2h1M433.2 63.6h1M423.3 100.4h1M430.2 109.4h1M445.5 95.2h1M425.3 80.2h1M463.5 123.1h1M416 100.4h1M390.7 81.5h1M488.9 79h1M465.2 133.9h1M417.7 121.3h1M451.8 97.5h1M425.1 85.4h1M451.2 62.6h1M468.2 76.4h1M384.4 70.1h1M432.6 125.4h1M434.6 99.9h1M427.4 75.9h1M392.3 82.2h1M463.3 117.6h1M468.9 108.4h1M409.3 76.3h1M429.5 131.7h1M412.1 81.3h1M414.8 104.5h1M430.3 95.2h1M410.8 113.5h1M442.3 70.5h1M457.9 112.6h1M470.1 125h1M456.7 62.7h1M431.7 114.9h1M441 67h1M441.5 62.4h1M383.3 111.8h1M415.2 81.7h1M464 111.7h1M404.1 77.2h1M393.1 83.7h1M407.2 96.7h1M487.8 100.3h1M431.2 111.1h1M445.6 64.6h1M447.9 121.1h1M440.2 63.9h1M403.2 97.8h1M404.1 106.6h1M402.2 121.9h1M443.5 96.1h1M409.7 117h1M434.3 99h1M440.4 121.9h1M409.2 103.7h1" fill="none" stroke="#000" stroke-width="0.9" stroke-opacity="0.55"/>
<path d="M421.2 112.6h1M419.6 117.7h1M433.2 87.8h1M415.3 129.1h1M421.3 120.9h1M435.1 98.1h1M419.6 103.6h1M437 90.5h1M433.5 93.5h1M422.9 113h1M416 132.4h1M418.6 114.9h1M424.2 102.7h1M428.1 98h1M442.2 81.6h1M430.2 100.9h1M423.6 107h1M410.3 130.3h1M417.9 117.1h1M418.5 103.9h1M414.2 122h1M424.4 115.4h1M441.8 76.6h1M429.3 100.9h1M430.7 107.6h1M427.5 107.3h1M423.1 106.8h1M431.5 95.4h1M431.1 89.1h1M431.7 105.2h1M422 116.6h1M435.4 91.3h1M418.7 117.5h1M425 103.7h1M422.8 113.8h1M421.7 125.9h1M421.3 115.7h1M429.1 109.1h1M427.7 115.8h1M438.4 87.1h1M410.7 121.8h1M424.3 111.9h1M431.9 102.3h1M428.3 103.2h1M420.3 99.9h1M427.6 92h1M409.5 130.1h1M417.5 111.1h1M424 111.3h1M430 101.6h1M422.2 114.9h1M432.5 92.9h1M416 105.9h1M431.6 107.5h1M429.2 99.3h1M435.6 95h1M430.2 90.3h1M419.7 123.5h1M429.6 102.7h1M418 127.3h1M439.7 86.6h1M442.5 78h1M430.2 109.2h1M424 92.3h1M416.1 127.5h1M426.4 117.1h1M437.8 90.8h1M422.3 112h1M429.1 98.5h1M430.2 100.7h1M430.5 99.3h1M408.1 111.2h1M410.1 121.3h1M424.4 97.8h1M422.6 116.3h1M431.7 101.6h1M431.5 105h1M424.4 117.1h1M414.6 124h1M429.2 104.4h1M420.8 110.6h1M407.1 118.1h1M417.2 134.8h1M406 126.6h1M413.2 127.9h1M420.9 110.8h1M416 124.2h1M416.8 126.4h1M431.6 89.2h1M424.5 105.2h1M417 110.8h1M425.4 108h1M437.9 96h1M421 123.4h1M417.3 117.7h1M418.7 123.8h1M432.5 93.8h1M423.3 104.6h1M417.7 109.9h1M416.5 105.5h1M441.8 82.4h1M419.2 114.9h1M422.5 114.2h1M430.8 108.4h1M414 110.4h1M427.6 106.3h1M421.7 120.1h1M420.5 109.5h1M419.2 107.3h1M426.5 116.1h1M433.9 95.1h1M426.4 107.8h1M417.8 123.4h1M417.7 116.2h1M432.8 88.6h1M425.6 108.2h1M430.6 96.4h1M429 103.3h1M421.5 109.9h1M421.1 122.9h1M422.4 120.9h1M434.1 87.7h1M414.5 118.1h1M425 116.8h1M415.5 115.8h1M414.6 128.9h1M431.2 105.2h1M426.6 105.5h1M431.6 112.9h1M437 90.5h1M422.2 112.4h1M424.1 109.6h1M425.7 101.5h1M434.2 84.5h1M430.9 101.7h1M434.1 98.7h1M427.6 105.2h1M437 92.4h1M427.2 109.7h1M418.5 123.7h1M415.4 135.6h1M423.5 117.4h1M426.1 101.9h1M434.1 100.2h1M424.5 121.6h1M424.6 102h1M424.5 112.1h1M427.2 98.3h1M424.1 113.6h1M431.5 107.5h1M432.5 99.4h1M415.9 117.2h1M418.5 120.8h1M433 102.8h1M429 95.1h1M430 111.8h1M427.5 107.3h1M410.5 121.5h1M421.4 113.5h1M428.5 101.7h1M421.3 132.3h1M421.9 100.4h1M437.8 88.8h1M424.5 110.3h1M420.6 97.8h1M432.4 96.5h1M427.9 99h1M425.5 117.8h1M427.7 91.4h1M421.4 109.6h1M416.8 112.2h1M417.2 124.4h1M425.1 112.3h1M428.5 98.1h1M441.7 84.5h1M415 126.5h1M424.3 113h1M423.3 122.3h1M428.2 115.6h1M425.5 120.1h1M430.2 104.3h1M428.5 104.6h1M418.4 119.8h1M420 116.6h1M424.9 113.8h1M426.2 104.4h1M416.9 130.6h1M419.2 116.3h1M428.1 103h1M426.1 107.5h1M415.4 131.9h1M425.9 111.8h1M424.3 106.6h1M434.7 91.4h1M433 97h1M432.6 100h1M426.1 99.3h1M427 113h1M423.1 109.4h1M427.7 109.2h1M419.8 118.3h1M419.7 112.4h1M428.1 98.6h1M426.4 108.4h1M429.2 103.5h1M427.5 98.3h1M412.5 138.7h1M434.6 88.2h1M427.4 109.2h1M420 118h1M423.9 114.3h1M429.4 109.7h1M416.7 117.7h1M417 125.4h1M423.7 109.4h1M425.7 99.6h1M421.9 128.4h1M421.7 106.4h1M432.2 96.3h1M420.2 120.1h1M433.4 96.8h1M428.7 111.5h1M419.2 118.3h1M424.7 100.9h1M430.4 100.9h1M432.2 97.1h1M434 82.8h1M421 111.8h1M426.9 109.1h1M421.3 122.1h1M432.7 95.2h1M418.4 125.5h1M424.8 101.5h1M419 115.4h1M417.4 125.7h1M433.1 95.6h1M420.9 116.4h1M429.4 110.9h1M423.9 114.1h1M426.2 113.5h1M421.6 118.5h1M424.6 113.3h1M416.2 124.9h1M433.7 96h1M425.5 124.2h1M427.4 102.5h1M419.6 110.6h1M437.5 91.4h1M431.4 89.5h1M403.7 125.2h1M413.7 124.5h1M410.7 118.6h1M426 101.2h1M429.8 106.3h1M417.9 117.1h1M428.1 91.2h1M417.3 112.1h1M421.2 110.2h1M424.4 105.6h1M429.7 93.6h1M425.8 110.9h1M416.5 118.2h1M422.4 109.7h1M427.2 98.4h1M417 127.9h1M416.7 117.5h1M425.7 113.7h1M430.2 99.9h1M424.8 105.1h1M437.6 89.8h1M421.8 120.3h1M412.6 123.1h1M424.4 119.5h1M437.5 85.5h1M424.9 116.7h1M425.4 117.5h1M421.3 121.7h1M424.2 120.9h1M423.2 106.1h1M416.5 102.8h1M426.9 109h1M436.9 79.2h1M435.1 95.9h1M428.4 99.7h1M422.9 105.2h1M422.5 103.2h1M422 115h1M413.9 116.6h1M425.2 110.1h1M430.1 101.4h1M435.5 88.9h1M430.2 91.2h1M430.8 101.7h1M435.1 85.5h1M436.6 86.5h1M415.7 110.2h1M429 96.9h1M430.8 98.8h1M430.3 99.3h1M418.9 116h1M426.1 109.3h1M422.6 119.2h1M406 129.7h1M430.2 100.8h1M440 85.3h1M414.1 118.2h1M425 108.3h1M428 99h1M417.5 115.6h1M421.6 107.3h1M426 111.3h1M419.6 108.6h1M430.1 103.4h1M417.7 118.4h1M409.9 125.5h1M411.6 119.3h1M425.6 119.3h1M430.9 94.3h1M427.9 103.8h1M418 103.6h1M419.2 108.6h1M421.5 114.3h1M430.4 105.8h1M426.5 96.4h1M423.7 114.8h1M414.4 107h1M427.2 98.7h1M417.6 105.7h1M420.6 124.7h1M422.9 115.4h1M435.3 89.5h1M423.9 108.1h1M430.9 99.4h1M431.2 105.6h1M430.9 104.4h1M418.2 118.7h1M426.2 99.3h1M415.1 126.3h1M422.5 115.6h1M433.7 88.8h1M416.4 121.5h1M418.7 115h1M433.4 95.9h1M426.4 103.8h1M430.8 97.1h1M435.9 88.2h1M426 110.8h1M433.5 80.5h1M423.4 101h1M412.1 127.8h1M424.5 95.6h1M426.6 116.5h1M431.8 93.1h1M429.2 101.1h1M417.6 114.3h1M430.7 92.6h1M421.7 109.8h1M414 126.9h1M433.7 84.7h1M427.1 111.5h1M427.6 103.5h1M429.3 102.3h1M420.9 108.2h1M414.5 110.8h1M424.7 107h1M413.8 113.2h1M413.4 111.6h1M424.2 99.6h1M427.1 97h1M430.2 101.7h1M429 98.2h1M413.3 133.3h1M413.8 113.6h1M418.1 123.2h1M429.5 102.1h1M431.6 101.9h1M422.3 113.2h1M421.7 111.7h1M424.3 111.1h1M421.7 115.5h1M429.5 97.6h1M424.9 100.8h1M423.7 121.8h1M426.7 112.5h1M400.1 127.1h1M423.2 109.3h1M411.9 138.3h1M426.1 100.3h1M429.8 102.9h1M422.8 107.2h1M427.2 100.5h1M415.5 112.5h1M428.2 109.6h1M419.2 114.1h1M415 124.7h1M429.3 98.9h1M430.8 103.4h1M416.1 118.7h1M427.5 101.3h1M417.6 122.2h1M429.6 105.8h1M419.8 120.3h1M417.1 98h1M429 100.3h1M419.1 131.7h1M427.9 104.5h1M441.6 81.7h1M418.1 121.5h1M438.1 89.7h1M434.6 90.4h1M429.8 94.3h1M424.9 112.4h1M425.1 111.7h1M424.2 111.6h1M439.2 84.5h1M426.8 93.4h1M423 117.8h1M412 128h1M425.3 115h1M410.6 129.3h1M424.9 109.4h1M417.4 131.1h1M431.8 102.6h1M429.7 103.1h1M421.6 112.1h1M417.9 124.6h1M419.7 125.7h1M425.6 102h1M419.4 104h1M414.7 120.3h1M412.4 125.1h1M420.2 110.7h1M413.6 117h1M413.2 134.4h1M424.7 116.3h1M414.6 122.3h1M431.8 103.2h1M432.6 98.7h1M416.9 127.1h1M429.8 83.5h1M431.7 108h1M418.1 123.1h1M438.2 86.3h1M427.6 108.5h1M425.1 112.7h1M425.7 112.2h1M418.3 119.5h1M416.8 102.9h1M429.3 97.5h1M414.6 113.5h1M420.1 108.6h1M432.2 103.5h1M418.6 113.3h1M422.6 110.4h1M420.3 99.3h1M427.8 102.8h1M414.3 112.8h1M432.8 99.6h1M428.2 106.5h1M430.5 99.4h1M426.2 97.5h1M421.1 94.8h1M435.4 97h1M429.5 93.4h1M424.3 113.2h1M420.2 120h1M427.9 111.9h1M419.4 113.7h1M430.8 103.4h1M417 110h1M409 121h1M421.2 106h1M419.1 106.2h1M424.2 113.4h1M420.6 124.1h1M421.8 107h1M422.2 113.2h1M416.6 118.1h1M419 102.2h1M442.1 80.1h1M437.3 96.6h1M429.3 100.2h1M425.4 111.2h1M431.3 90.2h1M435.2 86.9h1M421.5 123.8h1M423.2 116.4h1M418 126.4h1M424.6 116.6h1M411.3 126.5h1M419 121.4h1M416.7 120.5h1M422.8 108.5h1M426.4 107.6h1M417.2 130.2h1M414 120.7h1M433.7 87.1h1M425.4 111.9h1M419.8 116.8h1M422 112.3h1M419.8 125.1h1M426.2 109.7h1M422.5 107.5h1M429.5 93.9h1M428.4 96h1M420.2 118.1h1M441.3 81.8h1M426.5 108.3h1M430.6 94.3h1M407.3 129.5h1M421.5 108.2h1M426.5 114.3h1M420.5 111h1M427.8 110.2h1M437 89.3h1M421.1 111.5h1M414.7 121.4h1M432 98.6h1M422.9 103.2h1M421.5 108.6h1M434.5 90.9h1M423.9 110.4h1M424.9 109.3h1M421.9 116.1h1M427.2 109.5h1M429.7 103.5h1M421.6 115.2h1M406.1 133.6h1M412.2 108.9h1M434.2 96.1h1M431.2 110h1M414.9 128.1h1M423.6 106.7h1M436.5 92.2h1M424.4 101.5h1M426.5 106.2h1M422.8 100.1h1M421.1 122.9h1M424.9 108.1h1M413.8 104h1M429.2 89.2h1M418.3 124.8h1M435.9 94h1M418 113.5h1M429.3 101.8h1M417 132.8h1M413.4 133h1M428.5 106.1h1M427.4 109h1M423.3 103.7h1M424.3 118.4h1M414.6 133.1h1M413.6 112.4h1M420.4 120.2h1M431.3 93.4h1M422.6 113.5h1M426.8 96.5h1M422.5 115.4h1M415.9 127.7h1M426.3 110.9h1M417.2 122.6h1M427.4 104.5h1M420.9 123.6h1M424.5 110.5h1M426.7 109.3h1M422.7 106.6h1M429.9 98.8h1M426 108h1M417.5 123.3h1M421.4 102.4h1M422.7 112.4h1M428.2 100h1M426.8 108.8h1M413.7 121.9h1M424.8 113.4h1M433.8 92.8h1M422.3 109.2h1M429.5 109.7h1M422.1 109.3h1M434.8 89.6h1M420.4 109.3h1M431 95.7h1M403 125.7h1M425.1 103.9h1M429.1 103.8h1M437.5 92h1M416.7 121.3h1M422.1 119.5h1M417.2 127.5h1M416.8 131.1h1M426.8 92.1h1M422.7 107.5h1M416.8 130.4h1M422.5 119.9h1M431.9 105.5h1M424 115.6h1M424.7 105.9h1M431.9 96.2h1M422.5 114.5h1M419.4 126.4h1M431.1 86.2h1M424.3 106.7h1M422.5 118.6h1M436.6 88.5h1M427.2 114.7h1M419.9 111.5h1M423.5 117.2h1M425.7 108.4h1M421.8 116.9h1M428.8 111.6h1M420.7 107.3h1M436.3 88.9h1M425.9 109.8h1M416.9 103.9h1M427.7 110.9h1M428.2 96.3h1M424 113.5h1M439 84.2h1M424.4 104.8h1M420.4 112.5h1M421.2 107h1M417.7 111.2h1M433.5 95.9h1M422.9 110.4h1M430.4 99.7h1M410.9 108.7h1M414.9 132.2h1M420.7 109.5h1M415.2 131.6h1M417.8 123.2h1M422.2 108.8h1M418.3 123.3h1M413.2 124.1h1M426.7 112h1M422.4 114.4h1M419.9 97.1h1M417.3 119.4h1M422.3 118.9h1M423 116.1h1M429.8 97.4h1M430.4 106.4h1M431.1 97.6h1M410.8 127.7h1M425.1 110.5h1M425.9 106.9h1M419.9 122.1h1M430.8 97.4h1M427.2 109.3h1M423.5 114.1h1M428.8 95.9h1M421.4 108.1h1M409.6 117.6h1M432.5 108.1h1M426.6 114.9h1M430.4 95.6h1M429.4 97.1h1M414.2 135.3h1M422.6 111.6h1M431.8 101.2h1M424.6 111.4h1M424.3 103h1M428.2 98.3h1M429.9 104.8h1M424.9 93.3h1M419.3 116.6h1M419.6 117.7h1M424.8 109.9h1M440.3 81.4h1M422.7 106.3h1M422.9 111h1M424.9 98.7h1M419.7 109h1M416.3 130.1h1M424.8 111.3h1M438.5 90.2h1M425.5 110h1M421.1 114.1h1M417.3 128.4h1M428.1 108.8h1M434.3 85.4h1M425.5 106.2h1M432.4 93.3h1M440.4 90.6h1M441.8 85.8h1M427.7 104.1h1M417 125.3h1M410.6 125.5h1M435 94.9h1M424.1 124.8h1M413.4 119.2h1M437.7 92.6h1M425.5 111.7h1M417.5 128.4h1M424.3 116.1h1M419.3 115h1M431.3 100.6h1M416.9 109.8h1M430.4 106.3h1M425.5 96.7h1M426.4 107.7h1M434.6 89.8h1M427.4 113.8h1M414.1 122h1M422 121.7h1M422.1 118.4h1M424 119.6h1M426.1 101.2h1M430.1 101h1M421.7 106.5h1M437.6 85.9h1M423.2 113.1h1M420.3 106.6h1M426.8 92.9h1M424.6 94.3h1M419.6 126.8h1M415.9 126.3h1M429.9 107h1M438 88.4h1M431.2 103.4h1M426.3 93.7h1M426.2 99.4h1M443.8 78.4h1M425.4 119.5h1M420.7 120.5h1M415.8 122.6h1M421.7 103.2h1M431.3 102.7h1M437.5 90.4h1M429.6 104.7h1M418 116.9h1M430.5 90.1h1M423.9 116.3h1M419.8 107.4h1M418.4 114.4h1M414.8 122h1M427.9 98.8h1M423.9 104.9h1M425.5 111.9h1M426.9 103.6h1M426 113.4h1M417 110.1h1M431.1 101h1M422.2 108.9h1M436.2 94h1M427.6 103.9h1M433.4 102.1h1M423.3 117.3h1M409.4 131.9h1M429.5 101.4h1M419.7 124h1M431.3 101.1h1M422.3 112.5h1M424.7 111.3h1M425.5 107.1h1M432.3 101.2h1M429 108.4h1M421.6 132.5h1M418 118.1h1M430.4 104.2h1M420.6 102.9h1M418.3 110.3h1M429.6 96.9h1M406.2 135.5h1M422.7 103.2h1M422.1 99.8h1M425.6 113.3h1M421.6 106.3h1M422.9 118.9h1M430.2 100.9h1M429.6 99.6h1M424.9 108.1h1M425.1 115.4h1M424.8 122.9h1M429.5 98.7h1M437.7 93h1M422.9 102.5h1M426 107.3h1M415.6 112.6h1M419.9 119.6h1M426.3 111.9h1M419.2 124.1h1M421.2 118.8h1M429.8 107.8h1M427.9 101.3h1M420.9 103.5h1M426.7 108.7h1M425.1 104.3h1M427.7 105.3h1M424.2 102.4h1M430.2 99.1h1M417.2 122h1M435.6 96.4h1M420.3 110.4h1M424.7 113.5h1M434.1 92.7h1M427.1 113.3h1M425.3 101.8h1M425.9 112.5h1M423.2 112.5h1M422.2 117.5h1M436.7 92.6h1M418.2 111.1h1M435.7 92.2h1M419.3 128.9h1M419.8 112.9h1M420 105.8h1M421.8 123.8h1M424.5 112.6h1M434.3 93.3h1M425.8 110.6h1M436.5 89.6h1M427.4 115.6h1M430.6 89.5h1M432.7 107h1M410.1 122.2h1M428 99.1h1M419.5 129.1h1M425.3 110.7h1M433.6 94.3h1M425.4 122.1h1M431.6 96.8h1M417.6 109.8h1M425.2 97.8h1M431 83.9h1M427.1 96.3h1M420.6 121.7h1M427.7 108h1M417.6 121.3h1M423.6 113h1M430.4 97.9h1M419.5 120h1M411.8 127h1M431.4 92.8h1M429.4 97.5h1M419.7 119.8h1M427.9 102.4h1M430.5 107.6h1M426.1 108.9h1M422.3 119h1M421.1 117.5h1M423.7 115.4h1M430.8 103.6h1M427.1 108.5h1M434.4 84.8h1M421.5 120.7h1M426.3 107h1M408.7 137.1h1M432.3 97.7h1M424.8 108h1M419.1 115.9h1M418.2 104.4h1M429.5 91.3h1M434.5 94.6h1M418.7 117.6h1M429.6 106h1M420.5 120.3h1M428.7 100.1h1M425.6 103.8h1M418.4 111.4h1M421.1 120.5h1M429.2 103.7h1M422.3 115.9h1M426.2 96.1h1M413.4 118.9h1M425.8 108h1M438.5 87.9h1M424.4 115.3h1M410.8 119h1M419.7 121.9h1M423.6 115h1M432.9 85.2h1M422.3 115.1h1M427.1 98.1h1M420.9 106.9h1M435.8 92.2h1M439.5 88h1M429.6 104.4h1M429.6 100.4h1M422 111.1h1M427.3 105.9h1M432.9 94.5h1M430.4 107.7h1M417.4 112.6h1M437.1 78.5h1M425.1 118.3h1M421.2 110.2h1M424.4 107.6h1M410.3 116.5h1M413.9 116.7h1M417.9 113.6h1M431.1 100.5h1M424.9 119.3h1M431.9 82.9h1M423.1 124h1M425.7 106.6h1M421.8 113.7h1M432.2 98h1M421.5 109.6h1M424.4 116.1h1M421.3 114.4h1M425.9 108.1h1M423.9 128.1h1M432.5 102.7h1M410.5 119.2h1M424.5 106.7h1M423.5 122h1M410.5 119.5h1M437.7 86.7h1M419 127.1h1M417.9 117.5h1M423.5 111.4h1M434.6 85.1h1M414.6 116.5h1M420.3 107.7h1M428.8 109.8h1M437.3 84.4h1M424 105.5h1M424.9 113.4h1M408.4 130.4h1M415 118.2h1M422.1 115.9h1M430.1 115.6h1M430.2 92.8h1M420.6 110.7h1M426.5 106.2h1M429.5 100.8h1M432.9 92.9h1M426.5 108.4h1M426.1 106.9h1M430.3 102.4h1M428.9 104.7h1M421.2 112.4h1M434.9 96.6h1M426.6 113.8h1M426.5 114.8h1M430.2 99.3h1M426.3 101h1M420 113.1h1M431.7 99.7h1M423.6 112h1M417.6 120.8h1M421.6 123.4h1M427.7 98.2h1M425.3 117.9h1M420.9 105.6h1M418.1 115.7h1M418.6 108.5h1M426.1 101.1h1M438.2 87.6h1M410.9 125.1h1M418.1 105.7h1M420.9 126.4h1M417.3 116.4h1M427.3 106.6h1M427.7 108.6h1M423.8 118.5h1M432 93.3h1M424.1 109.4h1M417.7 111.2h1M422.6 105h1M416.3 115.6h1M422.4 104.2h1M424.7 94.5h1M416.7 122.2h1M418.2 110.3h1M438.5 80.7h1M415.3 127.1h1M438.4 89.7h1M423.4 110.5h1M437.6 85.8h1M421.7 102.8h1M422.1 116.8h1M411.8 135.2h1M422.9 110.8h1M426.7 107.9h1M428.5 90.9h1M429.5 96.6h1M424.9 110.9h1M427 110.3h1M422 118h1M415.5 107.9h1M419.9 126.7h1M425.5 112.2h1M424.3 106.5h1M445.2 76.6h1M419.1 121.2h1M419.1 101.2h1M420.6 125.6h1M437.2 93h1M420.9 119.6h1M427.5 104.3h1M423.4 113.8h1M400.2 123.2h1M426.4 115.8h1M414.3 121.5h1M422 104.2h1M424.9 104.4h1M417.2 112.5h1M428.1 106.8h1M432.2 91.8h1M417.6 123h1M426.3 96.8h1M432.8 106.5h1M426.7 94h1M416.8 110.2h1M423.7 127h1M421.9 109.3h1M423.9 102.2h1M438.7 86.5h1M428.4 108.1h1M432.9 97.5h1M411.4 129.3h1M436 83.9h1M418.3 112.8h1M428.3 100.3h1M424.6 116.6h1M421.9 120.6h1M429.7 102.7h1M432 96.3h1M430 109.7h1M426.4 109.9h1M421.6 109.1h1M425.5 99h1M433.7 98.6h1M430.5 98.5h1M415.6 122h1M440.7 73.7h1M431.6 98.3h1M423.8 102.5h1M416.4 124.1h1M426.9 105.5h1M428.1 98.1h1M418.5 123.8h1M417 104.2h1M434.3 94.9h1M433.1 93.8h1M424.2 101.3h1M420.4 126.9h1M411.3 113.5h1M418.8 118.3h1M418.1 111.3h1M428.4 102.5h1M432.8 91.5h1M436.1 89.5h1M423.9 108h1M428.8 101.3h1M414.6 127.5h1M419.3 120h1M416.6 125.9h1M435.9 84.2h1M436.2 87h1M419.5 120.1h1M433.6 84h1M425.6 117.7h1M424.4 111.5h1M412.6 134.7h1M411.7 129.4h1M426.1 94.4h1M426.1 119.5h1M432.8 97.2h1M431.5 99.1h1M430 90.1h1M433 93.3h1M420.9 115.8h1M411.8 135.1h1M422.6 123.7h1M425.4 118.2h1M436 100.2h1M427.6 105.5h1M411.6 125.6h1M419.5 109.7h1M421.5 109.2h1M424.3 114.4h1M426 108.6h1M429.6 106.8h1M418.2 116h1M418.2 115.8h1M424.8 107.8h1M419 101h1M414 122.2h1M428.4 102h1M432.7 97.7h1M418.9 108.7h1M418.5 121.7h1M413.8 133.4h1M434.7 93.5h1M437.3 90.5h1M428.4 112.7h1M424.4 117.7h1M408.4 138.4h1M418 123.3h1M420.1 117.9h1M429.4 97.9h1M428.8 104.7h1M413.8 109.2h1M405 130.4h1M431.8 107.2h1M422.9 106.4h1M431.8 98.9h1M420 121.7h1M421.4 108.9h1M427 110.2h1M430.7 103h1M419 115.5h1M434.3 97.4h1M437.8 89.5h1M419.6 114.2h1M437.6 85.8h1M436.1 89.1h1M414 126h1M431.6 104.7h1M427.9 111h1M432.5 92.5h1M429 104.7h1M417.8 129.2h1M423.4 103.4h1M417.9 117.3h1M419.6 119.3h1M429.7 97.3h1M424.5 117.3h1M426.7 108.3h1M415.5 130.9h1M423 116.2h1M426 114.6h1M427 112.1h1M423.2 112.1h1M424.1 120.8h1M431.2 105.8h1M432.7 97h1M418.7 125.1h1M428.3 102.7h1M416.9 132.8h1M412.2 132.6h1M438.2 88.4h1M426.5 110h1M417.7 120.7h1M439.8 80.6h1M421.3 108.7h1M428.2 108.7h1M424.6 113.3h1M428.1 107.1h1M425.2 111.1h1M425.2 122.7h1M425.5 97.9h1M437.8 80.5h1M427.1 105.9h1M423.8 117.6h1M426.5 106h1M414.6 111.7h1M428.2 112.5h1M425.7 104.6h1M417.2 114.1h1M423.4 106.7h1M424 109.5h1M432.1 96.6h1M423.3 117.2h1M436.9 102.6h1M420.1 121.7h1M421 126.6h1M436.5 96.9h1M433.8 102.2h1M418.9 124.2h1M430.3 109.1h1M430.9 107.1h1M409.7 118.5h1M436.1 87.1h1M433.9 100.3h1M436.5 92.4h1M427.2 102.5h1M437.2 88.1h1M422.5 121.1h1M424.1 92.9h1M411.8 131.1h1M431.5 89.8h1M419.7 129.5h1M415.9 133h1M421.5 120.1h1M428.2 103.4h1M429.8 96h1M419.7 108.2h1M419.1 108.5h1M430 103.1h1M420.8 112.5h1M426.7 104.6h1M409.4 129.1h1M422.5 108.4h1M434.8 95h1M423.2 113.7h1M433.8 97.4h1M430.5 99.2h1M428.6 99.8h1M425.2 106.8h1M426.4 108h1M419 108h1M419.5 102.7h1M422.7 108.8h1M423.6 111.9h1M423.4 103.5h1M413.3 134.2h1M433.5 92.3h1M418.8 129.2h1M425.4 103h1M412.2 137.9h1M438.5 82h1M421.4 116h1M426.9 101.7h1M417.4 117h1M425.7 100.7h1M419.8 127.5h1M407.1 107.5h1M428.3 104.6h1M417.4 112.8h1M428.3 97h1M432.7 96.1h1M429.3 110.8h1M423 96.7h1M433.1 97.7h1M436.1 101.1h1M433 99.8h1M421.6 109.1h1M421.2 113.5h1M430.5 99.8h1M432.2 98h1M409.9 115.9h1M427.2 111.2h1M419.7 110.9h1M424.9 114.2h1M425.1 101.5h1M423.3 106.9h1M425 113.4h1M426.9 108.6h1M418.8 127.9h1M402 122.4h1M424.7 113.9h1M428.1 109.5h1M435.8 94.7h1M423.7 112.1h1M418.1 121.4h1M428.7 106.2h1M399.3 121.8h1M419.2 115.1h1M431 98.6h1M427.9 109.3h1M420.7 118.4h1M436.6 96.7h1M433.2 89.7h1M430.6 93.8h1M420.5 107.3h1M411.4 117.1h1M414.9 110.8h1M418.1 115.9h1M422.3 96.7h1M426.8 108.8h1M429.9 99.9h1M428.2 106.1h1M429.5 104.4h1M437.4 96.3h1M426.1 107.1h1M429 97.6h1M421.6 107.1h1M426.9 105.5h1M426.3 105.1h1M421 118h1M418 114.3h1M424.2 104.5h1M404.4 139.6h1M407.1 136.6h1M438.7 85.8h1M420.6 110.1h1M423.2 106.7h1M413.4 127.5h1M426.8 107.1h1M425.3 103.5h1M421.2 105.6h1M433.4 102.7h1M423 116h1M435.5 77.3h1M422.9 128.1h1M436 93.5h1M419.3 115.7h1M421.9 117.9h1M418.2 112.5h1M418.2 125.7h1M424.3 112.1h1M412.5 133h1M427.2 109.1h1M427.2 102.1h1M429.6 98.5h1M431.1 105.7h1M428.1 97.1h1M425.8 110.3h1M435.2 90.2h1M421.3 107.6h1M415.1 129.4h1M416 111.6h1M427.9 100.3h1M433.1 91.8h1M424.4 118.3h1M425.1 114.2h1M424.5 96.1h1M410.8 124.1h1M426.6 99.5h1M440.4 84.5h1M432.3 97.1h1M432.9 97.6h1M424.4 107.7h1M418.6 121h1M410.3 116.9h1M422.8 110.1h1M423 118.1h1M435.1 98.2h1M423 117h1M429.6 106.8h1M424.4 105.8h1M419.7 118.9h1M431.8 98.1h1M414.8 117.2h1M434.9 90h1M432.2 90.1h1M411.2 114.6h1M427.9 93.2h1M424.4 114.3h1M425.4 106.7h1M419 128.2h1M425.7 114h1M422.8 120.3h1M424.9 106.2h1M417.4 130.3h1M414.3 139.2h1M426.8 112.2h1M434.7 99.5h1M413.9 131.4h1M420.3 110.8h1M425.4 105.5h1M432.6 88.7h1M428.3 109.9h1M423.1 117.9h1M430.5 95.7h1M422.8 111.7h1M432.7 96.4h1M415.1 135.1h1M408.7 129.3h1M406.8 130.9h1M424.9 110.2h1M419.5 105.6h1M428 106.8h1M412.6 134.7h1M417.9 113h1M418 117.9h1M422.8 115.3h1M423.8 109.3h1M422.1 113.8h1M434.5 97.5h1M426.8 97.8h1M433.7 89.8h1M415.1 123.9h1M428 103.4h1M421.3 106.9h1M429.3 99.4h1M425.7 111.3h1M430.6 94.2h1M425.8 109.4h1M423.7 110.5h1M425.8 103.4h1M418.5 102.9h1M426.1 114.3h1M418.2 111.7h1M416.8 131.6h1M427.7 111h1M433.5 93.3h1M430.7 96.6h1M421.1 107.9h1M422.2 118.3h1M427 99.9h1M433.5 94.7h1M414.5 121.4h1M420.2 118.9h1M421.1 109.2h1M426.2 110.1h1M429.6 101.5h1M418.5 112.3h1M421 117.4h1M428.1 111.6h1M427.6 102.3h1M408.9 114.6h1M409.2 131.7h1M433.1 101.8h1M429.4 102.9h1M425.6 108.1h1M421.8 106.3h1M421.5 123.2h1M429.5 111.6h1M437 98.5h1M427.3 97.4h1M434.1 86.2h1M429.3 98.7h1M421.5 118.1h1M418.5 123.8h1M426.2 100.7h1M419 117.2h1M423.4 112.6h1M414.9 124h1M409.1 126.4h1M419.5 118.1h1M430.1 96.6h1M430.1 105.2h1M420.5 110.1h1M426.3 108.8h1M417.8 118.9h1M424 105.6h1M420.8 113.2h1M427.1 107.5h1M413.2 117.7h1M416.1 130.5h1M422.4 97.5h1M417.2 115h1M417.6 128.6h1M425.4 112.2h1M439.9 80.7h1M411.4 118h1M436.5 89.9h1M418.6 116.1h1M426.9 113.9h1M431.4 90.3h1M433.9 93.9h1M424.2 114h1M433.8 94.4h1M426.5 111.2h1M411.4 134.4h1M426.8 113h1M412.8 117.9h1M425.5 102.7h1M425.6 105.1h1M416.1 128.3h1M427.9 98.8h1M414.9 113.8h1M436.2 90.2h1M425.1 104.4h1M424.5 115.5h1M437.2 79.5h1M429.7 105h1M427.1 106.2h1M433.4 105.2h1M427.2 101.4h1M414.2 118.7h1M415.1 131.7h1M430.3 101.2h1M438.3 90.5h1M423.3 102.8h1M437.6 89.9h1M420.2 100.3h1M432.2 91.3h1M413.8 130.5h1M435.8 95.5h1M425.1 114.6h1M425.2 107.7h1M422.9 122.5h1M417.2 131.8h1M421.3 109.1h1M419.2 120.1h1M414 115.7h1M422.5 113.5h1M425.9 103h1M410.9 120.5h1M423.3 112.6h1M421.7 113.7h1M428.4 105.7h1M431.5 102.7h1M420.9 106.6h1M427 104.1h1M424.2 114.9h1M414.2 125.3h1M426.4 112.2h1M422.3 117.7h1M436.1 90.7h1M432 96.6h1M428.4 108.2h1M414.8 111.1h1M427.6 95.5h1M425.2 109.3h1M436.2 95.8h1M422.1 118.3h1M423.3 116.3h1M428.6 106.3h1M418.6 122.1h1M428.3 103.6h1M432.5 95.7h1M409.8 119.9h1M420.1 123.2h1M422.3 103.1h1M420.9 115.1h1M414.6 113.6h1M425.4 116.4h1M426.9 107.9h1M423.9 117.6h1M422.5 116.4h1M433.6 90.1h1M425.4 110.2h1M412.9 109.9h1M417.2 109.1h1M433.7 90.2h1M431.9 100h1M420.5 122.4h1M432.4 100.9h1M420.6 109.8h1M418.2 115.2h1M417.6 112.9h1M431 95.3h1M427.6 104.6h1M422.4 109.9h1M421.3 105.2h1M423.4 116.9h1M425.8 98.5h1M420.2 121.3h1M416.6 119.2h1M419.5 109.8h1M425.5 110.7h1M421.6 116.3h1M427.7 107h1M421 127.6h1M419.7 118.3h1M418.5 122.2h1M437.1 88.7h1M419.6 113.6h1M427.9 102.9h1M427.9 106h1M428 105.7h1M426.7 102.7h1M421.6 115.5h1M424.9 111.3h1M423 116.2h1M409.9 107.7h1M430 105.1h1M401.5 129.8h1M434.7 93.3h1M420.6 121.4h1M416.1 111.2h1M419.4 127.2h1M419.5 115.6h1M427.9 106.8h1M423.4 96.3h1M432 101.7h1M427.5 105.1h1M416.8 112.7h1M420 121h1M419.8 120.4h1M427.4 117.9h1M433.9 94.9h1M429.6 104.7h1M428.8 102.5h1M423.1 110.8h1M419.3 124h1M421.5 113.4h1M421.1 118.8h1M422.5 97.3h1M411.3 124h1M414.1 139.5h1M413.9 109.6h1M432.9 100.8h1M414.6 114.8h1M427.1 101.2h1M432.9 98.5h1M433.7 106.2h1M429.2 96h1M423.5 100.5h1M429.8 94.6h1M436.8 101.6h1M425.9 110h1M421.4 102.8h1M426.1 102.2h1M433 87.4h1M423.8 109.8h1M421.9 105.8h1M430.2 102.6h1M429.3 98.4h1M413 134.7h1M419.8 109.6h1M423.7 117.8h1M413.3 126.6h1M420.5 112.4h1M428.9 91.4h1M421.4 115.5h1M414.5 132.6h1M426.3 111.3h1M414.9 112.5h1M425 101.2h1M421.7 108.2h1M435.3 91.8h1M430.8 109.2h1M424.4 114.8h1M425.2 106.8h1M430.1 98h1M431.1 98.5h1M429.7 102.9h1M416.8 124.2h1M439.8 96.5h1M427.7 105.8h1M425.1 108.8h1M426.2 103h1M434.2 92.3h1M424.3 112.6h1M421.3 116.5h1M432.9 96.8h1M427.6 109.2h1M415.1 119.1h1M425.3 114.5h1M428.4 113.5h1M433.6 86.8h1M418.7 126.2h1M426 117h1M428.1 101.4h1M445.1 77.4h1M411.4 125.9h1M426.7 93.7h1M429.9 102.1h1M420.2 127.6h1M421.8 108.3h1M435.1 96.5h1M425.4 106.7h1M424.6 112.1h1M424.2 110.9h1M423 114.9h1M442.4 79.8h1M437.2 94.8h1M420.6 108.6h1M422.3 118h1M426.8 112.9h1M432.8 99.2h1M421 116.6h1M429.3 98.9h1M412.9 119.4h1M419.3 107.3h1M419.2 121.4h1M423.5 108.4h1M410.3 128.1h1M418.9 122.5h1M414.2 112.8h1M424.1 117.9h1M424 99.8h1M437.1 102.4h1M423 120h1M435.1 92.2h1M408.4 131.6h1M425.7 108.8h1M424.1 116.1h1M419.7 111.3h1M419.4 101.9h1M444.3 75h1M430.3 100.6h1M436.7 91h1M429.1 99.3h1M404.7 134.2h1M422.7 106.1h1M412.7 135.6h1M427.3 97.7h1M422.1 112.4h1M418.8 127.6h1M429.5 101.3h1M423.6 110.8h1M432.8 101.9h1M430.3 104.6h1M430.7 94.4h1M422.8 109.8h1M416.4 122.9h1M418.1 122.6h1M434.2 94.2h1M422.5 121.4h1M429.7 112.4h1M414.5 131.5h1M419.4 118.2h1M421.1 118.2h1M418.3 119.6h1M431.1 118h1M431.8 94.3h1M410.7 127.4h1M417.4 115.5h1M413.4 130.3h1M431.9 97.9h1M433.5 96.1h1M432.2 96.3h1M430.4 102.2h1M429.2 99.9h1M420.4 125.7h1M427.8 107.3h1M419.1 124.2h1M428.1 107.2h1M430.4 100.4h1M420.6 122.4h1M425.7 114.4h1M423.2 105.1h1M416.2 109.3h1M432 90h1M414.5 117.4h1M419 129.6h1M429.2 105.6h1M432.2 99.7h1M429.8 93.2h1M438.6 84.3h1M429.5 101.6h1M423.8 111.4h1M422.2 101.1h1M433 91.4h1M421.6 117.1h1M424.5 117.5h1M425 103.9h1M414.8 125.4h1M429.8 108.5h1M426.1 112.1h1M434.4 103.4h1M430.8 99.1h1M416 117.9h1M429 107.8h1M417.7 124h1M421.9 115.9h1M419.8 110.4h1M423.9 103.4h1M426.2 101.6h1M404.9 122.9h1M425.7 117.8h1M424.4 109.7h1M417.6 117.4h1M436.9 89.9h1M410.7 113h1M430.6 101.9h1M418 117.7h1M430.8 101.4h1M419.5 122.2h1M419.8 121h1M415.3 127h1M427.8 110.1h1M426.3 94.6h1M420.1 98.5h1M413.3 131.8h1M423.1 104.1h1M421.4 105.1h1M420.6 114.8h1M421.1 107.8h1M419.3 122.8h1M415.9 101h1M427.7 94.8h1M425.9 114.3h1M418.1 115.3h1M428 99.2h1M405.9 139.6h1M428.9 107.1h1M434.8 82.5h1M417.2 127h1M421.8 113h1M433.1 86h1M427.6 100.9h1M411.2 128.8h1M428 91.2h1M435.2 92.1h1M424.2 113.1h1M422.4 113.7h1M425.2 114.3h1M421.8 118.1h1M417.7 123.2h1M429 104.4h1M424.8 110.2h1M409.9 133.6h1M430.1 110.8h1M422.3 118.8h1M422.4 104.2h1M410.8 135.8h1M432.2 97.6h1M425.3 114.7h1M413.6 125.1h1M426.5 119.3h1M434 88.1h1M411.1 122.9h1M434.3 93.5h1M420.4 119.3h1M418.9 111.7h1M426.4 103.7h1M427.1 111.4h1M427.9 105.4h1M420 111.5h1M434.1 97.5h1M426.9 96.5h1M419 114.5h1M431.6 89.4h1M423.5 101.3h1M428.5 108.4h1M420.8 122.7h1M428.9 104.3h1M421 114.6h1M431.5 102.1h1M415.6 130.8h1M432.7 93.4h1M417.4 114.8h1M417.6 116.6h1M427.3 97.3h1M427.7 109.5h1M425.2 106.7h1M435.5 88.7h1M419.8 118.5h1M427.1 110h1M418.2 108.4h1M418.8 120.6h1M422.6 115h1M420.9 123.4h1M440.8 80.4h1M432.2 96h1M425.8 114.3h1M427.6 111.7h1M439.2 84.6h1M433.5 85.9h1M421.9 109.8h1M415.1 117.8h1M423.2 102.7h1M423.1 104.8h1M428.9 102.1h1M430.6 98.1h1M428.6 104.6h1M434.6 87.1h1M423.4 112.6h1M424.9 108.3h1M421 106.6h1M424.6 110.3h1M410.6 117.7h1M414.4 133.1h1M429.1 105.5h1M422 116.1h1M432.5 94.2h1M434.2 91.7h1M430.2 103h1M424.3 102.7h1M428.4 113.8h1M429.5 114.3h1M427.6 104.5h1M433.7 92.1h1M411.6 127.4h1M426.1 118.3h1M427.4 115.9h1M411.5 134.5h1M434.9 87.2h1M431.3 101.6h1M429 96.7h1M429.3 106.7h1M427.4 105.9h1M424 110.1h1M421.7 118.1h1M423.4 103.7h1M418 125.4h1M430.8 103.2h1M429.4 105.8h1M422.7 94.4h1M434.4 87.4h1M432.1 96.9h1M422.7 117.5h1M416.6 126.9h1M433.7 92.8h1M436.1 90.6h1M431.8 91.5h1M417.6 98.2h1M428.1 99.5h1M416.3 117.6h1M417.8 121h1M430.9 98.2h1M438.8 84.5h1M424.3 107.1h1M409.6 120.7h1M414 118.4h1M419 120.8h1M424.5 111.9h1M425.1 112.5h1M420.6 119.8h1M425.6 126.2h1M428.1 108.4h1M424.6 102.1h1M433.7 94.5h1M422.6 122.6h1M424.1 115.1h1M415.6 125.4h1M427.2 106.1h1M422.6 106.5h1M433.5 87.5h1M422.2 113.4h1M425.4 109.2h1M415.1 120.6h1M420.5 108.5h1M432.3 86.7h1M417.7 111.8h1M430.1 95.1h1M438.6 83.6h1M431.3 99.7h1M420.5 126.8h1M415.3 119.2h1M438 83.6h1M417.4 114.8h1M431.4 108h1M412.4 111.6h1M415.6 136h1M430.5 100.4h1M433.5 88.4h1M429.5 104.9h1M429.8 107.4h1M416.7 111.9h1M423.7 112.6h1M423.1 125.1h1M419 107.4h1M417.3 117.9h1M429.5 100.8h1M425 109.8h1M423.4 116.1h1M420.9 120h1M422 103.7h1M429 95h1M424.3 115.9h1M421.5 110.5h1M410.4 111.3h1M417.8 108.1h1M425 107.6h1M417.6 119h1M429.7 104.9h1M435.3 91.5h1M431.3 99.9h1M445 78.3h1M428.7 108.8h1M430.5 99h1M424.2 110.9h1M428.5 94.3h1M432.3 96.3h1M431.4 100.6h1M423.1 106.3h1M425 100.1h1M403.3 127.3h1M432.9 101.4h1M429.5 95.5h1M430.3 108.3h1M423.6 112h1M426.8 102.7h1M422.5 107.8h1M418.5 123.2h1M426.9 112.6h1M430.4 98.2h1M406.2 126.7h1M436.3 95.6h1M430.7 92.8h1M430.4 100h1M428.8 108.2h1M434.1 103.4h1M427.3 103.9h1M424.4 101.6h1M417.5 121.5h1M422.5 119.1h1M418.4 116.7h1M428 108.4h1M431.4 103.7h1M412.8 126.2h1M414.7 117h1M428.3 108.4h1M436.2 92.9h1M430.8 92.2h1M419.3 119.2h1M412.3 127.6h1M416.6 124.8h1M429.7 101.8h1M409.6 130.3h1M426.3 113.1h1M424.6 112.1h1M426.1 115.4h1M422.2 118.9h1M415.5 124.3h1M413.3 120h1M429 93.9h1M408.1 130.5h1M418.8 123.3h1M434.3 94.7h1M406.8 129.6h1M430 101.1h1M419 104h1M420.2 111.5h1M430.3 94.2h1M426.3 93.6h1M416.9 113.9h1M421.5 111.2h1M416.1 104h1M413.9 119.9h1M418.9 106.5h1M435.7 95.7h1M423.6 105.1h1M421.5 113.8h1M427.4 109.7h1M414.1 129.8h1M433.3 88.9h1M424.7 114.2h1M433.2 97h1M421.3 121.3h1M418.7 125.2h1M421.4 106h1M415.6 126.9h1M430.9 104.8h1M430.4 101.5h1M419.1 122.5h1M418.7 129.3h1M427.7 114.1h1M421.8 108.6h1M426.7 114.6h1M414.6 122.3h1M425.8 103.4h1M438.7 96.3h1M425 116.5h1M425.6 110.7h1M423.8 98h1M425.3 110.7h1M422.6 106h1M422.5 106.5h1M428.4 102.2h1M424.2 113.9h1M411.6 120.9h1M432.5 99.2h1M429.4 97.1h1M417.1 108.8h1M426.3 118.6h1M423.4 102.5h1M427 107.8h1M426.9 97h1M417.9 120.9h1M429.2 101.3h1M438.9 86.3h1M429.8 96.6h1M414.9 118.1h1M441.3 75.3h1M438.4 91.7h1M417.9 115.9h1M424.4 107.4h1M423.4 96h1M430.2 101.1h1M439.6 79.8h1M405.2 126.8h1M431.8 98.6h1M425.3 106h1M424.5 112.7h1M401.2 134.6h1M413.3 131.4h1M432 97.8h1M439.7 77.8h1M426.5 109.4h1M428.9 115h1M429.8 102.6h1M424.7 115.2h1M422.2 103.5h1M423 102.9h1M424.7 102.1h1M417.6 116.7h1M422.4 115.7h1M426.2 100.4h1M432 91.6h1M438.1 90.2h1M426.1 97.5h1M428.3 113.8h1M427 117.7h1M425.8 104.9h1M421.7 130.9h1M423.9 104.6h1M415.9 132.9h1M428.8 102.1h1M419.6 109.8h1M417.6 114.5h1M415.6 126.5h1M422.8 108.3h1M403.1 133.4h1M427.3 103.7h1M420.4 116.5h1M429.9 99.3h1M428.4 97.7h1M426.7 104h1M415.5 124.2h1M421.6 117.9h1M424.8 105.6h1M425.9 92.7h1M424.6 98.7h1M420.5 121.1h1M427 109.5h1M422.7 112.6h1M434.6 91h1M433.7 89.9h1M428.3 104h1M434 94.4h1M420.8 106.4h1M440.8 82.3h1M423.5 106.2h1M428.9 88.3h1M425.5 115h1M431 97.7h1M434.3 102.8h1M421.5 108.3h1M422.9 108.1h1M432 97.8h1M424.8 92.7h1M425.3 112.8h1M420 120.4h1M418.2 111.2h1M427.1 109.4h1M422.1 112.9h1M428.2 105.9h1M426.3 108h1M415.1 124.9h1M426.6 119.5h1M425.3 114.8h1M414.6 116.8h1M426.4 105.2h1M427.5 105.1h1M431.2 100.3h1M412.3 127.3h1M426.8 96.7h1M417.2 121.1h1M427.6 107.8h1M424 113h1M419.4 114h1M430 97.9h1M422.3 106.7h1M428.4 108.3h1M405.7 138h1M426.2 107.7h1M437.8 89.3h1M440.5 84h1M435 100.1h1M421.8 126.3h1M419.8 120.2h1M431.6 96.8h1M412.7 136.5h1M411.7 131.4h1M417.7 125.4h1M421.2 112.9h1M412.7 122.9h1M422.3 115.8h1M430.4 103.4h1M430.8 95.4h1M428.2 109.3h1M416.9 105.7h1M431.8 100.1h1M430.8 99.3h1M421.5 116.4h1M435.4 95.5h1M431.1 106.2h1M428.5 104.7h1M432.8 103.1h1M429.6 102.2h1M416.8 117.2h1M426.9 100.4h1M435.5 91.3h1M420.3 121.9h1M435.1 100.9h1M423.1 105.6h1M423.8 113.3h1M428.1 102.3h1M422.4 116.1h1M416.8 125.3h1M427.8 111h1M420.2 111.7h1M430.9 96.9h1M405.4 133.6h1M425 109.1h1M426.2 109.2h1M439 87.5h1M420.7 112.4h1M422 118.4h1M429.9 102.4h1M440 81.8h1M418.5 123.3h1M425.1 99.1h1M415.7 128.1h1M418.7 119h1M423.6 107.5h1M420.5 114.4h1M420.9 116.3h1M418.6 119.5h1M419.6 111.2h1M433.6 96.8h1M418.7 126.3h1M423.8 109.9h1M423.6 110.6h1M429.7 94.4h1M417.8 117.8h1M430.8 99.3h1M425.3 111.7h1M429.5 99.4h1M420.2 117.5h1M425.2 104.9h1M428.5 101.5h1M427.2 110.8h1M424.9 111.2h1M424.4 107.1h1M425.2 109.4h1M431.6 98.1h1M424.5 109.5h1M420.2 119.7h1M441.1 76.2h1M412.7 122.4h1M433.4 94.6h1M431.6 87.4h1M415.8 110h1M431.5 92.9h1M432.3 102h1M430.5 110.1h1M432.5 104.8h1M414.7 116.1h1M429.1 107.1h1M415.2 111.7h1M431.6 95.9h1M415.5 117.3h1M420.9 118.8h1M424.2 112.3h1M428.6 99.8h1M425.6 101.1h1M424.8 110.7h1M420.7 117.1h1M420.8 124.6h1M426.6 104.6h1M413.7 109.9h1M427.1 93h1M421.9 104.2h1M429.5 101.4h1M423.4 103.3h1M416 127.4h1M422 117.1h1M427.1 118h1M416.1 128.6h1M419.2 111.5h1M420.6 121.3h1M415.8 124.4h1M429.1 106.9h1M421.8 107.4h1M417 128.6h1M415.7 115.4h1M434.6 94.9h1M423 107.9h1M434.9 99.9h1M415.2 130.3h1M439 86.1h1M419.6 115.1h1M417.6 111.6h1M434.1 108.3h1M431 98.5h1M426.8 91.8h1M436.5 98.4h1M431.1 100.2h1M424 105.9h1M423.4 116.9h1M418.7 120.4h1M427.5 110.5h1M417.4 125.9h1M426.8 106.5h1M421 103.7h1M417.1 110.3h1M428.7 102.9h1M429.8 95.1h1M422 122.8h1M433.5 106.5h1M420.8 110.2h1M420.7 105.9h1M425.7 110.6h1M431.3 102.4h1M414.9 134.4h1M423.4 118.6h1M427.1 93.9h1M410.1 118.7h1M411.3 118.4h1M420.6 111.3h1M412.2 121.7h1M418.6 111.3h1M433.8 93.4h1M423.5 95.5h1M416.1 118.3h1M427.3 108.1h1M424.8 107.3h1M421 118.4h1M435.8 91.6h1M423.4 108.7h1M428.4 106.7h1M429.9 104.3h1M422.2 92.2h1M416.7 119.9h1M418.5 116.3h1M418.7 117.8h1M418.2 121.7h1M415.3 122.4h1M417.2 117h1M423.1 117.2h1M422.8 112.5h1M414.4 117.2h1M432.7 105.4h1M411.8 116.3h1M413.9 137.4h1M427.7 110.7h1M419 118.3h1M410.6 138.4h1M435.8 89.4h1M431.7 101.6h1M418 110.8h1M425.1 95.6h1M429.9 100.2h1M417.9 107.5h1M423 112.5h1M429.2 105.3h1M414 127.6h1M428.3 110.7h1M418.1 114.4h1M425.8 102.4h1M423 106h1M421.4 105.5h1M423.7 121.7h1M420.4 125.5h1M422.7 113.2h1M425.2 112.4h1M426.1 107.5h1M416 119.6h1M419.2 111.2h1M438.1 85.8h1M417.5 105.1h1M421.4 117.6h1M426.8 104h1M421.4 114.2h1M425.8 120.8h1M427.9 96.8h1M432.9 96.8h1M432.1 87.4h1M430.3 100.5h1M423 112.8h1M421.4 121.2h1M428.1 112.7h1M429 99.4h1M414.3 127.4h1M431.3 102.5h1M410.3 127.3h1M408.7 128h1M422.2 109h1M421 105.7h1M416.4 120.8h1M417.1 118.5h1M416.3 131.4h1M428.9 106.6h1M424.8 109.5h1M432.3 98.2h1M433 93.2h1M425.7 109.1h1M427.7 117.9h1M425.5 118.8h1M421.7 112.4h1M428.9 96.7h1M438.9 84.8h1M421.8 112h1M421 120h1M429.9 107h1M426.7 95.9h1M436.4 100.4h1M420.7 113.1h1M427.6 89.1h1M425.7 87.9h1M422.6 112.7h1M430.5 92.2h1M444.4 71.8h1M421.9 110.8h1M426.2 104.3h1M420.6 120.4h1M429.6 104.3h1M422.2 108.8h1M420.8 111.1h1M437.7 93.4h1M425.3 108.9h1M415.9 117.6h1M405 134.6h1M426 114.3h1M424.4 104.4h1M418.6 115.3h1M426.5 105.2h1M432 103.7h1M434.5 94.7h1M423 120h1M413.6 117.8h1M427.7 101.7h1M430.8 99.5h1M431.5 98h1M429.2 100.3h1M424.3 111.4h1M419.6 109.3h1M408.3 135.3h1M426.9 113.2h1M430.9 110.7h1M430.9 97.2h1M427.8 101.5h1M431.8 97.4h1M424.9 112.7h1M424.8 112.9h1M422.9 120.9h1M429.1 108.2h1M425.9 98.8h1M429.9 101.9h1M430 102.5h1M417.3 108.8h1M423.4 112.5h1M405.8 132.1h1M418.4 123.7h1M416.8 120.7h1M426.9 104.2h1M414.8 135.5h1M439.3 88h1M416.8 120.1h1M435.9 79.5h1M429.2 104h1M431.2 99h1M418.3 118.9h1M423.4 110h1M432.3 96.3h1M424.9 114.7h1M415.5 116.6h1M427.7 104.3h1M436.1 89.2h1M434.3 86.4h1M416.1 129.1h1M422.1 112.6h1M436.1 91.8h1M415.2 125.6h1M422.5 116.7h1M429.1 107.4h1M417.9 123.9h1M415.4 128.6h1M438.7 87.9h1M429.4 105.8h1M425.3 109.2h1M425.4 108.3h1M421.6 115.3h1M415.5 116.3h1M426.6 101.4h1M426.4 115h1M421.4 99.5h1M432.8 86.9h1M432.7 94.7h1M409.6 117.4h1M420.3 118.8h1M429.5 102h1M432 99.1h1M435.7 95.7h1M432.7 100h1M425.2 113h1M429.7 105.3h1M422.2 103.2h1M420.7 117.3h1M424.5 120.5h1M434.6 94.1h1M422.8 102.3h1M424.2 114.1h1M416 112.4h1M429.6 104.2h1M424.7 106.7h1M428.9 94.5h1M434 103.4h1M423.3 119.5h1M421.9 115.3h1M424.1 113.3h1M412.1 110h1M429.6 101.6h1M418.6 124h1M418.6 125.5h1M428.2 102.5h1M431 102.7h1M412.7 118.1h1M411.8 133.7h1M438.1 83.2h1M417.8 136.7h1M411.2 125.8h1M424.9 107.5h1M436.5 87.2h1M414.1 116.1h1M422.1 120.2h1M423 116.4h1M420.8 119.9h1M424 102h1M434.5 97.5h1M412.5 111h1M424.6 109.1h1M439.1 89.8h1M417.9 113.2h1M426 104.5h1M424.7 103.8h1M437.7 86.5h1M425.1 107.7h1M408.7 116.1h1M427.8 96.1h1M426 94.4h1M409.8 133.9h1M428.2 106h1M419.1 128.8h1M430.5 101.2h1M431.2 99.9h1M428.7 104.4h1M426.9 99.8h1M419 122.5h1M443.4 76.2h1M406.7 125.9h1M433.1 98.8h1M421.3 101.5h1M418 128.6h1M430.4 92.1h1M422.6 107.4h1M413.5 121.4h1M431.3 105.1h1M435.1 95.4h1M424.5 110.5h1M424.2 119.7h1M421.2 120.8h1M423.1 113.1h1M418.6 121.9h1M421.8 107.9h1M437.3 87h1M424 108.9h1M432.9 102.7h1M424.5 114.4h1M408.5 126.4h1M423.5 109.8h1M414.9 139.4h1M415.1 116.8h1M414.3 114.2h1M438.2 86.1h1M430.1 104.8h1M425.7 108.8h1M431 102.5h1M420 108.9h1M416.7 130.6h1M413.7 120h1M419 115.4h1M429.2 98.7h1M433.1 104.7h1M416.4 128.5h1M420.5 117.3h1M422.2 117.9h1M420.1 120.6h1M429.4 100.9h1M418.1 111.1h1M429.3 110.3h1M431.2 108.5h1M432.8 93.3h1M416 132.6h1M422.5 110.9h1M410.5 129.7h1M418.5 104.8h1M428.3 114.9h1M421.7 106.2h1M423.2 103.3h1M429.8 107.1h1M423.2 98.5h1M421.5 94.4h1M418.7 99.4h1M421.1 118.5h1M423.9 115.8h1M421.7 119.8h1M433.4 96.2h1M418 117h1M430.9 114.3h1M421.7 99.7h1M422.9 109.3h1M425.9 116.2h1M423.6 106h1M412.1 122.8h1M425 105h1M421.3 104.1h1M426.7 105h1M413.5 107.3h1M424.6 103.7h1M413.4 138.4h1M416.6 119.6h1M421.1 120.7h1M431.4 99.2h1M431 88.1h1M432 102.8h1M427.1 101.6h1M423.9 117.7h1M426.9 113.8h1M422.3 105.1h1M429.3 82.3h1M431 105.4h1M434.6 95.7h1M431.5 98.2h1M419.4 105.8h1M422.8 115h1M423.6 100.9h1M432.1 105.6h1M418 107.8h1M417.6 127.5h1M429.4 103.4h1M417.9 112.9h1M425.1 109.4h1M431.9 104.5h1M434.3 93.3h1M421.6 119.1h1M420.6 129.4h1M431.4 94.9h1M423.6 101.5h1M424.9 90.7h1M424.2 117.5h1M426.2 115.6h1M429.7 110.9h1M427.7 101.9h1M423 110h1M427.9 103.8h1M413.3 132.3h1M438.9 87.6h1M421.7 116.6h1M412.3 117.1h1M418.8 122.1h1M427.9 90.1h1M433.1 98.9h1M436.3 83.6h1M439.7 89.7h1M409.4 118.3h1M422.6 106.8h1M423 112h1M418.2 109.2h1M426.3 113.8h1M427.3 100.9h1M420.6 118.9h1M424.8 104h1M433.5 91.1h1M430 99.4h1M423.4 115.2h1M423.4 108h1M437.3 90.5h1M422.9 96.7h1M419.5 113.8h1M428.8 112h1M428.2 106.3h1M423.2 96.8h1M426.9 109.2h1M429.1 100h1M408.5 118.2h1M429 102.9h1M420 115.9h1M432.3 94.6h1M431.6 91.1h1M426.2 110.8h1M417.3 121.4h1M428.6 99.6h1M425 113.8h1M419.5 104.9h1M420.2 114.4h1M415.4 117.6h1M423.8 103.3h1M424.8 119.9h1M439.7 81.9h1M420 102.6h1M420.8 118.3h1M424.9 116.5h1M437.5 94.1h1M427.1 99.3h1M423.3 96.5h1M431.4 84.4h1M437.2 86.2h1M427.3 89.2h1M421.2 110.3h1M415 117.7h1M426.8 108.9h1M423.6 99.5h1M430.5 103h1M422.2 131.2h1M419.5 112.7h1M427.9 115.6h1M415.2 121.7h1M420.3 116.1h1M433.1 94.6h1M432.2 106.4h1M419.4 120.2h1M431.2 92h1M422.8 99.1h1M414.1 112.2h1M422.2 119.8h1M426.9 116.2h1M421 119.6h1M423 109.9h1M438.5 84.8h1M431.8 102.1h1M421 120.4h1M428.9 109.4h1M430 100.4h1M423.3 99.2h1M419.2 116.8h1M428.4 102.6h1M438.7 77.6h1M421.8 121.9h1M416.1 130.6h1M416.2 131.6h1M436.7 88.5h1M417.2 136.3h1M427.1 107.8h1M416.3 118.4h1M427.8 106.5h1M419 127h1M413.5 123.9h1M431.1 104.1h1M425.6 107.8h1M428.3 103.4h1M430.4 86.4h1M418.8 118.3h1M419.8 126h1M416.4 117.6h1M416.2 115.5h1M428.1 101.3h1M423.7 107.9h1M432.5 87.9h1M427.6 101.6h1M420.4 109.6h1M417 127h1M415.9 136.8h1M431.4 99.5h1M437.3 94h1M414 120.4h1M419.8 119.4h1M431.7 96.6h1M422.3 118.7h1M420 112.1h1M427.1 107.7h1M418.9 94.7h1M428.7 105.7h1M429.7 104.9h1M408.9 132.8h1M428.7 106h1M426.7 103.1h1M435.4 80.8h1M423.8 105.4h1M412.1 127.8h1M420.1 118h1M412.5 119.6h1M420.8 111.5h1M430.8 99.9h1M418.7 109.8h1M429.9 99.2h1M425 106.4h1M426.2 108.5h1M411.1 111.3h1M423.4 115.7h1M429.5 102.9h1M424.1 113.1h1M417.1 118.5h1M435.4 92.4h1M420.4 120.2h1M426.5 100.6h1M424.4 105.4h1M427.2 103.4h1M432 80.3h1M422.9 119.2h1M410.7 119.7h1M426.7 114.4h1M424.1 111h1M410.5 115.5h1M419.6 120.9h1M404.8 137.8h1M411.3 119.9h1M424.5 108.1h1M403.9 123.3h1M420 112.9h1M403.6 135.2h1M421.8 117.5h1M433.4 89.5h1M423 117.5h1M428.2 103.8h1M425.3 95.8h1M406.4 116.7h1M422 127.9h1M424.1 108.9h1M414.9 129.1h1M419.2 118.3h1M431.1 95.5h1M422.7 119.3h1M425 113.8h1M423.8 109.5h1M428.7 104.6h1M424.8 115.2h1M438.1 90.1h1M427.9 104.7h1M420.4 108.7h1M428 110.5h1M429.8 100.2h1M418.3 126.9h1M422.3 111.2h1M411 123.3h1M430.2 93.9h1M415 124.9h1M428 91.7h1M432.8 81.4h1M417.7 132.2h1M407.1 123.3h1M415.7 112.9h1M420.4 106.9h1M411.9 110.6h1M431.6 102.8h1M413.8 120.1h1M423.7 103.3h1M430.8 99.7h1M432.6 89.2h1M432 92.8h1M429.2 97.5h1M412.2 125.7h1M423.7 114h1M431.9 101h1M426 112.6h1M429.5 90.9h1M433.6 95.1h1M420.1 117.8h1M427.2 107.7h1M418.9 100.7h1M416.1 131.5h1M424.7 111.2h1M425.6 100.5h1M423 117.4h1M428.6 101.4h1M433.1 97.2h1M424.6 107.9h1M408.9 138.8h1M421.2 116.3h1M423.7 120.7h1M420.3 121.9h1M429.1 113.3h1M412.7 126.1h1M426.7 113h1M433.6 93.3h1M420.2 118.2h1M432.2 101.9h1M412.1 114h1M411.1 110h1M424.7 109.9h1M418.8 119.3h1M415.7 118.9h1M444.1 69.4h1M421 107.8h1M424.4 113.8h1M430.9 103.1h1M418 112h1M419.3 119.8h1M421 127.9h1M424.4 110.7h1M415.1 119.1h1M433.1 96.2h1M423.6 104.6h1M423.3 119.6h1M408.1 125.8h1M426.6 111.7h1M440.5 93.2h1M420.5 125.6h1M421.8 113.6h1M427.3 100.9h1M440.6 81.1h1M425.5 109.8h1M433.8 97.6h1M418.7 110.1h1M420.5 118.4h1M426.4 104.1h1M437.4 90.4h1M428.4 93.1h1M438.9 82.5h1M424.3 112.9h1M422.5 111.6h1M422.9 113.4h1M424.6 107.3h1M423.1 94.9h1M432 99.9h1M430.1 101.2h1M432 98.4h1M431.4 101.8h1M422.5 102.6h1M436.1 86.7h1M428.2 99.1h1M416.2 107.2h1M438.2 84.1h1M417.9 134.9h1M411.9 131.9h1M434 94.3h1M411.3 112h1M420.4 109h1M417.2 125.6h1M430.3 102.3h1M429.7 100h1M423.4 108.7h1M426.3 108.8h1M422.4 115.8h1M440.4 80.3h1M423.4 114.9h1M428.3 105h1M424.1 116.4h1M434 95.5h1M434 97.6h1M429.3 108h1M421.2 110.2h1M428.3 94.6h1M424.5 115.1h1M424.3 107.5h1M425.5 98.8h1M424.5 105h1M423.9 125.4h1M427.4 95.9h1M420.1 117.8h1M422 119.8h1M419.2 122.4h1M410 116.1h1M413.9 112.7h1M432.4 99.7h1M423.9 113.3h1M426.6 117.4h1M431.9 95.8h1M433.2 96.8h1M430.8 102.6h1M433.5 97.1h1M425.7 112.3h1M427.8 107.7h1M418 103.7h1M426.8 108.2h1M418.6 117.5h1M434.8 96.1h1M417.7 115.7h1M429.7 95.1h1M415.5 118.5h1M420.3 97h1M431.1 103.2h1M413.4 112.8h1M424.7 106.7h1M435 97.1h1M425 121.2h1M416.6 123.1h1M424.5 110.9h1M418.9 124.6h1M428.6 105.8h1M414.9 122.2h1M421 112.9h1M422.9 103.4h1M428.5 101.8h1M437.5 88h1M428.3 99.8h1M418.5 124.9h1M413.8 119.9h1M443.6 72.6h1M427.9 103.6h1M418.6 119.1h1M430.9 103.4h1M420.2 132.5h1M438.7 81.9h1M418.6 128.9h1M423.5 111.8h1M415.6 109.7h1M431.4 104h1M423 106.1h1M421.2 125.4h1M427.9 101.4h1M419.4 119.6h1M426.7 92.7h1M426.9 112.3h1M422 118h1M423.9 106.6h1M430.4 106.9h1M417.8 121.9h1M427.7 108.8h1M411.2 134h1M428.6 92.7h1M414.1 125.1h1M406.2 128.9h1M421.3 99.7h1M421 104.7h1M419.8 121.4h1M432.5 87.1h1M436.1 97.5h1M431.3 100.7h1M426.5 106.4h1M415.3 130.8h1M427.3 107.6h1M421.9 99.8h1M434.6 86.5h1M426.3 110.7h1M425.1 118h1M428 98.2h1M436.3 87.1h1M423.9 119.9h1M419.9 128.3h1M414.7 115.9h1M417.6 118.2h1M408.7 123.4h1M431.4 104.8h1M417.4 111.9h1M422.3 118.2h1M426.8 118.7h1M428.3 104.9h1M413.2 114h1M430.8 99.5h1M431.6 84.6h1M417.5 113h1M414.2 131.4h1M432.2 93.8h1M413.3 113.9h1M424.7 100.9h1M442.1 79.8h1M418 126.2h1M421.5 112.1h1M432.7 95.7h1M430.5 93.9h1M424.9 102.1h1M411.4 127.4h1M425.5 113.4h1M427.9 100.5h1M430.8 102.6h1M424.4 118.4h1M419.6 124.3h1M431.8 104.6h1M428 99.6h1M409.5 137.6h1M428.6 103.1h1M425.5 113.7h1M424.4 110.4h1M425.1 109.9h1M422.3 117.4h1M419.4 123.7h1M435.6 89.3h1M422.3 111.7h1M409.9 138.6h1M436.3 83h1M433.1 102.6h1M413.3 126.1h1M412.9 116.4h1M421.6 116.1h1M424.8 106.2h1M426 117.8h1M424.5 115.8h1M434.8 86.2h1M412.6 120.3h1M424.7 117.2h1M425.5 103.7h1M421.5 120.6h1M434.6 101.9h1M425.2 106.2h1M418.8 122.8h1M437.2 86.9h1M422.1 116.5h1M425 112h1M401.9 131.6h1M423.2 112.9h1M426.9 93.5h1M417.3 126.7h1M431.6 105.8h1M428.9 101.2h1M421.6 118.3h1M427.9 105.2h1M424.8 109.9h1M420.1 115.3h1M409.2 135.7h1M423.6 105.6h1M434.5 93.6h1M432.3 95.5h1M433.5 97.1h1M418.2 123.2h1M420.3 109h1M423.2 116.4h1M429.2 103.1h1M427.8 109.4h1M438.2 85.4h1M422.5 92.7h1M425.2 107h1M414 110.8h1M430.3 90.6h1M430.4 93.5h1M423.6 116.7h1M415.5 115h1M423 109.3h1M422.3 122.9h1M418 113.2h1M420.8 116.6h1M414.9 111.6h1M426.8 110.3h1M418.2 127.4h1M440.6 81.1h1M436 86.8h1M417.6 115.3h1M425.1 107.3h1M433.8 96.7h1M426.7 109.8h1M436.2 91.8h1M426.4 97.7h1M435.9 90.3h1M420.6 108.3h1M429.5 104.6h1M425.9 110.5h1M433.8 88.6h1M419.5 119.6h1M433 98.2h1M422.3 122.3h1M431.1 101.8h1M415.4 124.1h1M424.9 113.7h1M422.6 100.5h1M415.8 121.8h1M431.6 111.9h1M432.8 97.2h1M426.8 105.8h1M421.4 104.1h1M420.8 125.5h1M431.2 98h1M435.5 86.7h1M414.2 128.5h1M429.4 97.3h1M437.1 90.8h1M410.4 132.1h1M419.8 112.3h1M433.8 93.4h1M420 119.8h1M419.1 110.9h1M424.7 106.5h1M431.4 97.5h1M435.6 98.3h1M405.4 123.7h1M426.3 117.5h1M436.9 84.6h1M423.3 107.1h1M426.4 104h1M423.8 114h1M440.2 88.2h1M408.6 123.9h1M422.4 118h1M425.4 89.7h1M418.8 102.1h1M426.6 94.5h1M431.4 89.9h1M429.2 101.1h1M424.1 114.2h1M436.2 84.6h1M419.7 116.9h1M427.1 106h1M428.5 106.1h1M426 101.2h1M416.6 125.1h1M434.2 89.9h1M426.7 112h1M424.3 113.9h1M420.6 105.2h1M422.6 120.5h1M433.2 98.2h1M423.7 94h1M419.7 117.2h1M412.5 103.2h1M424.1 115h1M429.4 104.8h1M421 104.7h1M428.1 106.6h1M432 102.2h1M429.5 103h1M419.4 126.8h1M427.9 98h1M424.2 104.7h1M427.5 109.6h1M413.2 121.5h1M421.8 108.1h1M429.1 103.2h1M432.4 100.5h1M433.7 86.5h1M421.2 104.4h1M429.9 112.5h1M399.5 126.9h1M420.3 114.6h1M434.1 101.3h1M431 102.3h1M420.2 119.9h1M437.1 83h1M440.8 87h1M420.9 114.6h1M426.2 100.1h1M420.9 117.8h1M419.6 118.4h1M427.8 102.8h1M422.2 118.8h1M424.7 100.3h1M421.2 109.7h1M420.2 106h1M430.2 88h1M420.8 122.1h1M411.7 112.2h1M431.5 101.9h1M424.8 104.7h1M433.5 92.4h1M423.3 110.1h1M418.8 122.8h1M435.7 105.5h1M417.5 118.9h1M424.4 93.5h1M425.3 109.6h1M425.1 112.8h1M431.8 98.4h1M431.2 99.2h1M425.4 98.8h1M426.4 101h1M421.4 111.4h1M422 114.2h1M418.7 110h1M414.1 123.2h1M422.2 113.8h1M415.4 132.6h1M415.6 115.2h1M429.3 93.6h1M428.4 110.7h1M424.9 103.5h1M426.9 109.1h1M429.5 98.8h1M423.9 107.6h1M435.8 90.3h1M429.8 105.5h1M419.2 114h1M421.6 112.4h1M427.2 106h1M414.4 114.8h1M419.2 120.6h1M429.9 98.4h1M426.6 88.6h1M419.7 100.1h1M418.7 125h1M427 102.6h1M413.5 125.4h1M422.4 102.4h1M435.3 86.5h1M439.2 81.9h1M421.4 112.7h1M414.7 118.2h1M427.9 113.3h1M410.9 112.6h1M418.1 123.4h1M411.8 123.3h1M423 109h1M423.4 106.7h1M425.2 111h1M424.2 108.4h1M429.2 98.3h1M431.2 104.5h1M433.5 89.7h1M421.6 118.5h1M419.6 112.8h1M427.3 112.8h1M433.7 96.9h1M419.3 101.4h1M420 123.8h1M418.5 124.8h1M421.6 119.3h1M423.7 104.4h1M431.3 94.5h1M427.8 108.5h1M432.7 101.8h1M424.3 111.9h1M418.4 128.2h1M424.7 109.8h1M420.3 121.9h1M421.1 109.7h1M427.5 110.8h1M404.3 117.8h1M421.5 115.3h1M423 113.1h1M414.5 126.3h1M429.1 105.4h1M421.8 112.5h1M423.3 117.1h1M421.8 102.1h1M431.7 96.7h1M416.6 120.2h1M424.7 115.2h1M431.9 94.3h1M426.6 100.3h1M416.5 128.5h1M414.3 136.2h1M420.4 126.4h1M426.5 104.2h1M424.6 113.4h1M407.8 138.4h1M415.9 116.8h1M427 110.2h1M437.9 85.1h1M435.3 91h1M433 97.3h1M424.8 99.4h1M427.3 101.8h1M440.3 74h1M430.3 98h1M414 117.1h1M430.2 100.1h1M427.9 107.5h1M420 112.8h1M401.4 112.9h1M422.5 113.7h1M408.8 113.9h1M426.8 120.4h1M429.9 95.2h1M424.5 116.5h1M419.6 113.2h1M431.7 91.8h1M396.1 130.4h1M428.3 108.8h1M419.8 125.5h1M427.4 104.3h1M429.7 102.3h1M411 126.1h1M432.3 92.1h1M420.4 123.1h1M424.1 111.4h1M430.3 104.2h1M413 120.3h1M423.7 108.2h1M426.9 108.4h1M415.4 130.2h1M417.7 111.2h1M431.8 98.5h1M421.1 111.3h1M419.7 121h1M426.2 112.5h1M409.3 133.3h1M425.4 99.5h1M430.5 93.2h1M416.3 112.8h1M430.5 94.5h1M420 125.9h1M419.2 120h1M426.1 96.4h1M433.3 95.6h1M417.5 117.9h1M427.1 104.7h1M415.3 131.1h1M419.2 121.7h1M428.7 93.7h1M414.1 113.4h1M431.7 103.4h1M429.2 101.7h1M418.1 104.5h1M427.8 101.2h1M421.9 114.5h1M434.4 94.5h1M426.5 106.2h1M421.3 107.8h1M420.2 119.7h1M426.6 112.5h1M432.7 88.5h1M431.2 99.2h1M422.8 120.8h1M439.3 73.3h1M429.9 100.8h1M433.5 88.1h1M425.6 101.6h1M434.8 91.9h1M429.6 100.4h1M426.8 109.1h1M424.3 118.9h1M422.1 123.5h1M420.4 119.9h1M418.5 124.2h1M427.6 100.8h1M428.9 110.9h1M440.1 80.2h1M432.3 99h1M431 98.9h1M427.7 107.8h1M429.7 102h1M434.4 90.6h1M420.5 110.5h1M423.5 122.2h1M429.7 95.7h1M432.6 97.9h1M413.8 114.9h1M422.6 92.3h1M438.7 90.1h1M417.5 124.6h1M414.9 122.9h1M416 130.5h1M423.5 115.1h1M427 109.8h1M421.8 131h1M420 119.4h1M418.8 124.2h1M423.3 116.4h1M414.9 114.1h1M415.4 111.3h1M422.5 116.2h1M421.4 113.4h1M413.1 111.8h1M422.9 108.5h1M420 109.6h1M440.7 84.9h1M423.4 113.1h1M418.4 125h1M427.2 103.6h1M424.6 105.1h1M427.9 105.2h1M414.5 112.9h1M422.8 106.7h1M413.1 115.6h1M422.2 122.7h1M428.9 96.1h1M428.5 107.7h1M423.2 109.7h1M409.8 130.2h1M423.6 112.5h1M421.9 128.1h1M408.2 115.4h1M437.9 84.8h1M426.2 111.1h1M412.2 130.2h1M439.7 99.4h1M417.1 116.7h1M425 122.3h1M424.8 105.3h1M430.1 110.5h1M430.1 88.1h1M418.9 127.2h1M423.1 117.7h1M429.5 105.4h1M431.7 94.8h1M411.2 127.1h1M431.5 102.2h1M437.8 90.7h1M439.2 94.1h1M427.1 103.6h1M430.7 83.3h1M436.9 97.1h1M424 117.5h1M423.7 136.1h1M421.3 123.3h1M443.7 87.4h1M426.3 114.2h1M433.2 113.9h1M434.7 98.1h1M416.7 115h1M398.4 121.4h1M442.9 90.2h1M404.8 140.1h1M429.5 104.4h1M428.8 96.1h1M427.8 97.1h1M429.4 80.9h1M441.7 95.3h1M406.6 133.6h1M433.7 105.8h1M420.7 117.9h1M435.1 116h1M421.3 120.9h1M410.1 115.4h1M421.5 120.4h1M420.3 109.7h1M433.4 117.8h1M426.6 118.2h1M430.9 94.7h1M439.7 85.7h1M407 117.4h1M436.8 84.8h1M410 111.5h1M449.3 67.7h1M432.4 100.3h1M441.8 90.8h1M434.3 85.4h1M430.1 101.1h1M432.6 100.4h1M442.1 98.4h1M421 116.2h1M434.1 91.4h1M429.1 102.8h1M423.3 124.5h1M419.7 99.2h1M437.3 80.7h1M430.8 89.3h1M425 114.6h1M422.8 105.3h1M422.2 121.6h1M426.1 120.4h1M424.2 113.8h1M425.2 112h1M421.1 113.9h1M430 111h1M432.2 97.7h1M422.1 120.3h1M413.8 123.2h1M419 112h1M421.4 112.9h1M429.4 96.8h1M447.8 82.4h1M422.5 113.8h1M430.6 103.3h1M417.8 117.7h1M400.8 138.4h1M425 97.5h1M408.1 124.5h1M432.3 82.1h1M446.3 68.8h1M414.6 113.2h1M425 85.8h1M421.1 129.8h1M430.5 87.1h1M424.8 113.5h1M418.2 109.4h1M428.7 106.4h1M425.4 85.9h1M431.1 105h1M423.9 122.6h1M431.6 99.1h1M407.4 104.2h1M437 88.5h1M415.7 113.9h1M425.5 103.7h1M417.8 110.3h1M410.5 114.1h1M440.1 80h1M426.1 111.8h1M417.7 93.6h1M416.3 121.9h1M416.5 118.7h1M433 81.1h1M427.7 106.7h1M434.3 102.5h1M406.3 121.1h1M412.9 117.5h1M426.9 122.9h1M424.2 104.8h1M433.8 89.1h1M428.8 108.9h1M412.3 111.2h1M429 96.7h1M412.9 136.3h1M428.3 117.6h1M431 96.7h1M407.6 105.1h1M408.2 129h1M432.7 114.1h1M426.2 108.2h1M435.7 80.2h1M431 96.9h1M417.8 130.5h1M408.5 103.8h1M429.6 99.3h1M430.4 114h1M413 106.9h1M431.3 82.8h1M417.5 107.9h1M423.5 124.3h1M418.9 130.3h1M436.3 96.2h1M430 117h1M424.4 106.6h1M405.9 119.4h1M435.9 88.4h1M418.6 108.6h1M432.2 100.7h1M435 78.3h1M432.6 106.1h1M427.2 111.5h1M411.7 118.4h1M426.2 104.9h1M438.6 84.4h1M415.6 115h1M412.4 100.4h1M428.5 101.6h1M431.5 100.1h1M433.7 105.4h1M445.7 66.3h1M428.3 100.6h1M437.9 90.5h1M432.1 78h1M430.2 83.7h1M410.3 119.7h1M414 118.8h1M451.4 71.4h1M417.4 113.1h1M423.1 112.8h1M435.2 97.3h1M437 100.9h1M437.8 91h1M417.2 110.3h1M410.4 102.8h1M439.9 88.8h1M410.1 106.4h1M423.1 86.1h1M436.6 104.7h1M421.8 120.4h1M418 111.1h1M421.1 95.9h1M425.6 104.9h1M437.5 78.9h1M436.4 89.4h1M424.6 115.5h1M448.5 83.9h1M425.2 108.1h1M441 79.5h1M424.5 95h1M420.9 104.5h1M446.3 97.8h1M419.9 136.9h1M415 94.8h1M417 124.6h1M434.1 94.3h1M420.5 101.5h1M416.2 123.8h1M429 130.2h1M428.1 101.1h1M437.4 82.9h1M414.1 120.9h1M421.2 122.9h1M417.7 125.3h1M411.1 105.5h1M430.2 93.1h1M439.9 90.9h1M419.3 110.7h1M406.1 137.6h1M426.9 106.9h1M416.6 104.3h1M435.9 84.8h1M441.2 100.8h1M448.8 58.5h1M404.5 130.3h1M431.8 102h1M419.7 117.5h1M422.4 97.5h1M419.5 123.7h1M415 114h1M424.5 102.6h1M419.6 115.3h1M424.8 107h1M423.5 124h1M419.9 117.3h1M435.9 67.7h1M438.1 86.4h1M422.6 135.4h1M421.3 137.8h1M420.7 107.9h1M430.3 96.8h1M401.9 123.3h1M429.6 100.1h1M422 124.2h1M443.9 99.5h1M427.1 104.6h1M420.4 125.3h1M421.5 106.3h1M427.5 91.5h1M413.6 137.1h1M432.2 107.7h1M443.6 88.4h1M430.8 103.5h1M418.8 104.8h1M431.2 96.4h1M414.8 112.5h1M436.1 96.4h1M452.9 63.4h1M419.6 114.7h1M415.8 132.1h1M421.9 106.1h1M424.3 97.3h1M433.1 98.7h1M423.1 105.2h1M426.7 106.7h1M417.9 117h1M452.3 60.8h1M419.7 126.2h1M432.3 109.5h1M433.2 86.4h1M420.2 137.8h1M437.1 90.4h1M429.6 91.3h1M424.9 128.9h1M408.1 118h1M420.8 119.9h1M400.7 135.1h1M422.3 121.5h1M428.1 95.8h1M434.5 100h1M431.5 87.8h1M427.5 112.8h1M437 97.9h1M442.6 72.4h1M425.8 111.1h1M425.4 116.8h1M429.5 95.4h1M434.5 96.8h1M428.1 112.2h1M429 108.4h1M439.6 83.1h1M427.9 113h1M420.2 109h1M429.5 103.7h1M431.7 85.1h1M424.8 110.2h1M421.1 113.5h1M426 75.7h1M422.9 119.8h1M442.5 93h1M434.8 99.4h1M433.4 98.4h1M432.7 88.3h1M431.9 99.9h1M437.8 89.5h1M419.3 108.2h1M433 97.2h1M441.2 76.3h1M421.6 114.8h1M426.3 107.1h1M425.7 110.8h1M407.4 122.8h1M429.4 110.3h1M431.3 105.5h1M428.9 99h1M447.2 79.3h1M420.6 90.7h1M437.5 89.4h1M437.3 95.3h1M434.1 86.9h1M433.8 89.2h1M417.8 116.4h1M426.2 106.8h1M433.9 93.7h1M434.5 83.3h1M420.4 112.4h1M438 99h1M425.5 104.6h1M436 83.8h1M434.7 121.3h1M407.8 121.9h1M416.4 115.6h1M429.4 83.6h1M435.6 96.4h1M406.1 125.1h1M432.7 74.1h1M426.5 110.5h1M425.2 113.2h1M429.9 94.3h1M422.3 120.8h1M429.7 110.6h1M428.7 104h1M444.8 65.1h1M431 107.1h1M417.7 119.3h1M421.3 110.7h1M438.1 74h1M426.2 113.9h1M442 64.2h1M430.4 102.4h1M421.9 125.3h1M416.1 102.9h1M406.8 115.5h1M426.1 102.8h1M424.2 110.4h1M414.5 136.5h1M430.3 99.2h1M426.2 109.6h1M423.2 118.3h1M427.3 106.5h1M426.3 113.8h1M421.6 116.3h1M440 76.7h1M423.8 123.2h1M443.2 89.4h1M426.3 83.6h1M434.2 99.5h1M430.2 111.5h1M419 138.9h1M417.5 135h1M421.8 97.8h1M438.7 87.8h1M451.7 61.5h1M428.5 102.4h1M431.6 112.1h1M425.9 106.3h1M420.3 126.8h1M431.2 128.1h1M424 118.3h1M431.1 76h1M425.5 98.7h1M427.7 94h1M431.4 106.6h1M422.4 92.5h1M420.4 99.4h1M411.9 138.5h1M433.9 96.3h1M410.8 103.2h1M410.9 116.2h1M435.8 99.3h1M429.1 96.6h1M403.3 112.4h1M416.1 117.7h1M425.5 106.7h1M430.2 85.6h1M437.3 87.5h1M431.3 111.2h1M431 100.2h1M427.7 98.7h1M424.3 115.5h1M412.9 115.9h1M403.9 125.2h1M435.2 102h1M424.8 96.9h1M423.9 116.8h1M425.1 121.5h1M437.7 70.5h1M437.2 105.6h1M418.7 106.6h1M417.3 114.4h1M427.9 78.6h1M413.4 109.9h1M417.6 116.1h1M433.4 104.5h1M437.1 100.6h1M415.6 115.8h1M420.2 107h1M424 104h1M437.2 93.6h1M444.2 91.3h1M439.7 82.8h1M439.2 84.4h1M409.6 112.9h1M419.4 101.7h1M416.1 122.5h1M433.7 93.2h1M427.3 105.8h1M424.8 116.4h1M422 94.5h1M417.2 117.7h1M429.2 100.3h1M433.6 111h1M429.5 126.2h1M443.5 78.7h1M412.9 89.7h1M419.5 108.2h1M418 120.3h1M438.1 80.9h1M410.7 137.1h1M436.9 80.7h1M421.5 106.6h1M419.2 121.6h1M424.1 126.1h1M419.2 94.8h1M412.4 106.3h1M429.3 104.2h1M435.9 86.8h1M419 112h1M423.7 105.8h1M418.1 122h1M410.9 94h1M409.2 135.5h1M423 111.1h1M422.9 127.3h1M426.6 106.6h1M415.4 123h1M402 132.6h1M424.2 103.3h1M421.5 126.2h1M422.8 129.6h1M409.5 124.4h1M425.7 95.2h1M430.6 94.6h1M420.5 118.8h1M438.6 80.7h1M415.7 103.1h1M412.9 114.3h1M419.2 113.6h1M407.7 127.2h1M405.3 138.6h1M423.1 98.5h1M431.5 110.9h1M431.5 86.9h1M441.2 94.7h1M421.2 110h1M439 87.8h1M412.1 97h1M439 74.1h1M430 87.4h1M430.8 84.2h1M422.5 113.9h1M419.7 98.5h1M406.2 115.7h1M430.9 113.5h1M426.8 118.5h1M439.7 83.6h1M427.3 89.1h1M408.3 120.7h1M425.3 109.2h1M426.3 121.3h1M421.9 120.6h1M423.9 99.5h1M433.3 63.3h1M436.2 94.8h1M421.6 119.1h1M419.6 104.1h1M424.7 117.7h1M412.9 124.6h1M430.1 110.5h1M417.2 96.4h1M426.4 117.2h1M397.9 138.4h1M434.5 82.3h1M428.4 111.3h1M426.5 106.4h1M414.3 114.7h1M427.7 106.7h1M437 96.8h1M415.7 114.2h1M425.7 92.7h1M427.3 105.2h1M443.4 70.1h1M423.7 112.1h1M408 114.4h1M430.1 107h1M423.3 101.2h1M422.7 100.8h1M433.4 107.8h1M441.5 81.4h1M428.3 99.4h1M425.3 109.1h1M422.8 90.7h1M437.2 74.6h1M440.1 81.5h1M425 92.3h1M430.3 105.8h1M419.7 110h1M446 74.2h1M418.5 129.9h1M436.4 94.5h1M420.4 137.4h1M442.7 90.1h1M440.3 93.4h1M423.6 113.9h1M421.7 102.1h1M438.3 75.9h1M409.9 106.8h1M423.4 110.8h1M429.6 101.8h1M433.3 112.9h1M416 108.7h1M419.9 130.6h1M421.9 132.9h1M418.4 113.5h1M424.5 102.7h1M411.2 117h1M436.7 94.4h1M419.7 98.9h1M433.6 97.4h1M425.8 125h1M444 73.3h1M427.8 85.3h1M426.3 103.4h1M406.4 140.5h1M432.8 76.7h1M419.2 118h1M436.6 95.1h1M424.7 133.9h1M421.9 102.1h1M414.8 114.5h1M432.3 97.2h1M432 86.7h1M417.9 110.2h1M421.2 110.7h1M425.1 111.3h1M435.9 72.7h1M414.8 127.9h1M427 89.1h1M429.2 137.5h1M438.8 89.7h1M421.2 123.9h1M413.5 119.2h1M430.8 111h1M434.2 82.3h1M413.4 92.9h1M413.5 101.8h1M419.6 78.5h1M422.2 110.2h1M422.2 116.6h1M404.1 124.7h1M424.3 103.5h1M444.5 76.1h1M428 95.3h1M393 123.6h1M425.8 105.6h1M419.8 123.5h1M421.7 99.2h1M416.4 129.8h1M422.1 99.5h1M418 112.1h1M426.8 108.9h1M419.9 119.3h1M405.5 135.7h1M423.6 103.2h1M415.8 114.4h1M415 123h1M425.3 109.7h1M410.3 115.6h1M413.4 136.9h1M411.7 97.1h1M429 103.7h1M421.8 127.5h1M412.2 107.2h1M420 122.8h1M403.3 138.7h1M422.6 104.3h1M432.6 95.8h1M416.2 133.7h1M422.2 96.2h1M425.9 115.2h1M404.9 132.9h1M418.3 134.9h1M437.7 99.8h1M419.1 114h1M421.8 102.8h1M433.6 93h1M426.6 96.4h1M425.6 118.4h1M422.5 99.3h1M427.3 93.4h1M421.1 123.5h1M421.5 103.6h1M427.9 117.9h1M412.2 99h1M421.5 125.9h1M427.8 101.8h1M421.8 98.4h1M425.7 106.6h1M432.1 99.5h1M424.4 123h1M414.2 114.6h1M412.5 109.3h1M422.4 98.3h1M403.6 128.5h1M418.8 122.3h1M433.2 94.5h1M429.1 109.3h1M430.8 98.1h1M431.3 94.5h1M425.2 108.5h1M431.9 77.2h1M423.9 112.1h1M440.7 90.7h1M431.6 103.4h1M406.1 108.9h1M436.7 86.6h1M433.5 86.8h1M412.7 132.4h1M418.6 105.8h1M405.9 137.2h1M417.9 120.1h1M423.3 93.4h1M433.8 103.9h1M436.2 95.9h1M422.2 109.9h1M422.7 111.4h1M424 104.6h1M426.7 106.6h1M413.6 119.3h1M423.6 133.9h1M440.2 81.7h1M413.9 103.7h1M436.8 93.1h1M403.4 106.2h1M442.5 89.4h1M426.6 99h1M415.9 111.7h1M430.2 89.9h1M419.8 111.4h1M430.4 107.4h1M434.8 79.1h1M418.2 105.6h1M416.9 106.5h1M422 89.5h1M428.4 90h1M451.1 62.4h1M422.8 116.5h1M432.4 79.8h1M444.7 68.5h1M442.8 81.3h1M434.5 104.8h1M414 107.1h1M433.6 104.3h1M440 80.6h1M427.9 103.3h1M442.7 80.6h1M428.5 110.2h1M416.8 106.3h1M426.6 108.4h1M431.5 101.1h1M418.9 126.9h1M429.5 100.5h1M417.6 116.8h1M429 102.9h1M424.4 110.7h1M423.5 114.9h1M401.3 126.3h1M422.6 119.2h1M421.6 117.2h1M425.2 120.7h1M421 114.3h1M441.5 86.2h1M424.2 96.6h1M433.8 93.4h1M413.4 121.3h1M429.1 105.1h1M412.8 133.2h1M432.5 98.4h1M440.1 74.2h1M417.2 104.9h1M420.5 117.7h1M419.5 109.2h1M428.5 114.7h1M433.7 104.4h1M429 107.2h1M437.8 85.1h1M425.1 108.7h1M418.7 129.2h1M421.3 112.8h1M419.4 98h1M429.2 110.3h1M423.6 114.5h1M427.6 118.3h1M443.7 79.4h1M426.3 122h1M442.6 79h1M407.1 134.4h1M424.4 90.6h1M421 117.1h1M416.4 103h1M419 114.2h1M421.3 128.5h1M446.7 82.5h1M422.1 114.3h1M447.6 91.8h1M437.6 100.2h1M416.4 136h1M434.2 113.2h1M432.2 99.1h1M441.4 88.6h1M444.8 83.7h1M431.2 91.2h1M403.7 133.6h1M426.7 98.5h1M427.7 87.1h1M423.4 121.1h1M416.6 102.6h1M441.5 99.6h1M425.1 91.8h1M426.9 95.7h1M420.4 101.8h1M430.3 98.1h1M411.4 132.7h1M437.1 91.3h1M428.6 115.2h1M418.4 110.5h1M425.8 116.5h1M409.2 122.6h1M425.7 114.8h1M428.3 116.8h1M414.4 124.2h1M431 116.1h1M420 116h1M425.4 106.2h1M422.1 105.9h1M425.8 107.9h1M423.3 115.7h1M409.2 124.8h1M432.9 100.7h1M428.7 101.7h1M408.5 118.9h1M413.7 121.1h1M416.1 106.3h1M433.3 115.2h1M427.6 119.2h1M401.9 116.4h1M413.3 127.3h1M427.4 110.9h1M427.3 106.3h1M432.6 109.5h1M427.9 113.1h1" fill="none" stroke="#000" stroke-width="1" stroke-opacity="0.8"/>
<line x1="378.9" y1="91.6" x2="498" y2="91.6" stroke="#555" stroke-width="1.1"/>
<line x1="437.3" y1="30" x2="437.3" y2="141.6" stroke="#555" stroke-width="1.1"/>
<rect x="378.9" y="30" width="119.1" height="111.6" fill="none" stroke="#222" stroke-width="1.2"/>
<path d="M378.9 141.6v5.3M378.9 141.6h-5.3M387.9 141.6v2.8M378.9 133.2h-2.8M393.1 141.6v2.8M378.9 128.3h-2.8M396.8 141.6v2.8M378.9 124.8h-2.8M399.7 141.6v2.8M378.9 122.1h-2.8M402.1 141.6v2.8M378.9 119.9h-2.8M404.1 141.6v2.8M378.9 118h-2.8M405.8 141.6v2.8M378.9 116.4h-2.8M407.3 141.6v2.8M378.9 115h-2.8M408.7 141.6v5.3M378.9 113.7h-5.3M417.6 141.6v2.8M378.9 105.3h-2.8M422.9 141.6v2.8M378.9 100.4h-2.8M426.6 141.6v2.8M378.9 96.9h-2.8M429.5 141.6v2.8M378.9 94.2h-2.8M431.8 141.6v2.8M378.9 92h-2.8M433.8 141.6v2.8M378.9 90.1h-2.8M435.6 141.6v2.8M378.9 88.5h-2.8M437.1 141.6v2.8M378.9 87.1h-2.8M438.4 141.6v5.3M378.9 85.8h-5.3M447.4 141.6v2.8M378.9 77.4h-2.8M452.7 141.6v2.8M378.9 72.5h-2.8M456.4 141.6v2.8M378.9 69h-2.8M459.3 141.6v2.8M378.9 66.3h-2.8M461.6 141.6v2.8M378.9 64.1h-2.8M463.6 141.6v2.8M378.9 62.2h-2.8M465.3 141.6v2.8M378.9 60.6h-2.8M466.9 141.6v2.8M378.9 59.2h-2.8M468.2 141.6v5.3M378.9 57.9h-5.3M477.2 141.6v2.8M378.9 49.5h-2.8M482.4 141.6v2.8M378.9 44.6h-2.8M486.2 141.6v2.8M378.9 41.1h-2.8M489 141.6v2.8M378.9 38.4h-2.8M491.4 141.6v2.8M378.9 36.2h-2.8M493.4 141.6v2.8M378.9 34.3h-2.8M495.1 141.6v2.8M378.9 32.7h-2.8M496.6 141.6v2.8M378.9 31.3h-2.8M498 141.6v5.3M378.9 30h-5.3" fill="none" stroke="#111" stroke-width="1.25"/>
<text x="379.2" y="156.5" font-size="8.6" text-anchor="middle" fill="#111" stroke="#111" stroke-width="0.3">10<tspan dy="-2.9" font-size="5.2">0</tspan></text>
<text x="371.3" y="141" font-size="8.6" text-anchor="middle" fill="#111" stroke="#111" stroke-width="0.3" transform="rotate(-90 371.3 141)">10<tspan dy="-2.9" font-size="5.2">0</tspan></text>
<text x="409" y="156.5" font-size="8.6" text-anchor="middle" fill="#111" stroke="#111" stroke-width="0.3">10<tspan dy="-2.9" font-size="5.2">1</tspan></text>
<text x="371.3" y="113.1" font-size="8.6" text-anchor="middle" fill="#111" stroke="#111" stroke-width="0.3" transform="rotate(-90 371.3 113.1)">10<tspan dy="-2.9" font-size="5.2">1</tspan></text>
<text x="438.8" y="156.5" font-size="8.6" text-anchor="middle" fill="#111" stroke="#111" stroke-width="0.3">10<tspan dy="-2.9" font-size="5.2">2</tspan></text>
<text x="371.3" y="85.2" font-size="8.6" text-anchor="middle" fill="#111" stroke="#111" stroke-width="0.3" transform="rotate(-90 371.3 85.2)">10<tspan dy="-2.9" font-size="5.2">2</tspan></text>
<text x="468.5" y="156.5" font-size="8.6" text-anchor="middle" fill="#111" stroke="#111" stroke-width="0.3">10<tspan dy="-2.9" font-size="5.2">3</tspan></text>
<text x="371.3" y="57.3" font-size="8.6" text-anchor="middle" fill="#111" stroke="#111" stroke-width="0.3" transform="rotate(-90 371.3 57.3)">10<tspan dy="-2.9" font-size="5.2">3</tspan></text>
<text x="498.3" y="156.5" font-size="8.6" text-anchor="middle" fill="#111" stroke="#111" stroke-width="0.3">10<tspan dy="-2.9" font-size="5.2">4</tspan></text>
<text x="371.3" y="29.4" font-size="8.6" text-anchor="middle" fill="#111" stroke="#111" stroke-width="0.3" transform="rotate(-90 371.3 29.4)">10<tspan dy="-2.9" font-size="5.2">4</tspan></text>
<text x="437.6" y="19.5" font-size="14.3" text-anchor="middle" fill="#111" stroke="#111" stroke-width="0.3">DDP+CNPs</text>
<text x="529.6" y="15.3" font-size="22.6" text-anchor="start" fill="#111" stroke="#111" stroke-width="0.3">b</text>
<rect x="556.5" y="20.5" width="9.5" height="4" fill="#8585ee" stroke="none" stroke-width="1"/>
<rect x="556.5" y="34.5" width="9.5" height="4" fill="#f09a9a" stroke="none" stroke-width="1"/>
<rect x="682.5" y="20.5" width="9.5" height="4" fill="#9cf09c" stroke="none" stroke-width="1"/>
<rect x="682.5" y="34.5" width="9.5" height="4" fill="#d982f0" stroke="none" stroke-width="1"/>
<text x="573.5" y="27.5" font-size="14.3" text-anchor="start" fill="#111" stroke="#111" stroke-width="0.3">Late apoptosis</text>
<text x="573.5" y="42" font-size="14.3" text-anchor="start" fill="#111" stroke="#111" stroke-width="0.3">Early apoptosis</text>
<text x="698" y="27.5" font-size="14.3" text-anchor="start" fill="#111" stroke="#111" stroke-width="0.3">Necrosis</text>
<text x="698" y="42" font-size="14.3" text-anchor="start" fill="#111" stroke="#111" stroke-width="0.3">Normal</text>
<rect x="616" y="59.5" width="75" height="18" fill="#d982f0" stroke="none" stroke-width="1"/>
<rect x="690.7" y="59.5" width="5.7" height="18" fill="#9cf09c" stroke="none" stroke-width="1"/>
<rect x="696.1" y="59.5" width="4" height="18" fill="#f09a9a" stroke="none" stroke-width="1"/>
<rect x="699.8" y="59.5" width="5.7" height="18" fill="#8585ee" stroke="none" stroke-width="1"/>
<text x="610" y="72" font-size="14.5" text-anchor="end" fill="#111" stroke="#111" stroke-width="0.3">DDP+CNPs</text>
<line x1="612.3" y1="68.5" x2="616" y2="68.5" stroke="#111" stroke-width="1.2"/>
<rect x="616" y="87.5" width="48.1" height="18" fill="#d982f0" stroke="none" stroke-width="1"/>
<rect x="663.8" y="87.5" width="3.7" height="18" fill="#9cf09c" stroke="none" stroke-width="1"/>
<rect x="667.2" y="87.5" width="6.1" height="18" fill="#f09a9a" stroke="none" stroke-width="1"/>
<rect x="673" y="87.5" width="32.5" height="18" fill="#8585ee" stroke="none" stroke-width="1"/>
<text x="610" y="100" font-size="14.5" text-anchor="end" fill="#111" stroke="#111" stroke-width="0.3">DDP</text>
<line x1="612.3" y1="96.5" x2="616" y2="96.5" stroke="#111" stroke-width="1.2"/>
<rect x="616" y="115.5" width="84.8" height="17.8" fill="#d982f0" stroke="none" stroke-width="1"/>
<rect x="700.5" y="115.5" width="1.9" height="17.8" fill="#9cf09c" stroke="none" stroke-width="1"/>
<rect x="702.1" y="115.5" width="1.7" height="17.8" fill="#f09a9a" stroke="none" stroke-width="1"/>
<rect x="703.5" y="115.5" width="2" height="17.8" fill="#8585ee" stroke="none" stroke-width="1"/>
<text x="610" y="127.7" font-size="14.5" text-anchor="end" fill="#111" stroke="#111" stroke-width="0.3">Vehicle</text>
<line x1="612.3" y1="124.4" x2="616" y2="124.4" stroke="#111" stroke-width="1.2"/>
<path d="M616 53.7V137.5H715.3" fill="none" stroke="#111" stroke-width="1.4"/>
<line x1="616" y1="137.5" x2="616" y2="141.3" stroke="#111" stroke-width="1.2"/>
<text x="616" y="154.5" font-size="14" text-anchor="middle" fill="#111" stroke="#111" stroke-width="0.3">0</text>
<line x1="660.6" y1="137.5" x2="660.6" y2="141.3" stroke="#111" stroke-width="1.2"/>
<text x="660.6" y="154.5" font-size="14" text-anchor="middle" fill="#111" stroke="#111" stroke-width="0.3">50</text>
<line x1="705.2" y1="137.5" x2="705.2" y2="141.3" stroke="#111" stroke-width="1.2"/>
<text x="705.2" y="154.5" font-size="14" text-anchor="middle" fill="#111" stroke="#111" stroke-width="0.3">100</text>
<text x="679" y="172.2" font-size="14.4" text-anchor="middle" fill="#111" stroke="#111" stroke-width="0.3">% among HK-2 cells</text>
<defs><filter id="bl1" x="-20%" y="-100%" width="140%" height="300%"><feGaussianBlur stdDeviation="1.1 0.8"/></filter><filter id="bl0" x="-20%" y="-100%" width="140%" height="300%"><feGaussianBlur stdDeviation="0.9 0.55"/></filter><filter id="bl2" x="-20%" y="-100%" width="140%" height="300%"><feGaussianBlur stdDeviation="2.6 1.5"/></filter><filter id="bl3" x="-20%" y="-100%" width="140%" height="300%"><feGaussianBlur stdDeviation="6 2"/></filter></defs>
<text x="22.3" y="213.2" font-size="22.8" text-anchor="start" fill="#111" stroke="#111" stroke-width="0.3">c</text>
<text x="134.9" y="221.8" font-size="14.4" text-anchor="end" fill="#111" stroke="#111" stroke-width="0.3">DDP</text>
<text x="134.9" y="248.8" font-size="14.4" text-anchor="end" fill="#111" stroke="#111" stroke-width="0.3">CNPs</text>
<text x="156.6" y="222.2" font-size="12.42" text-anchor="middle" fill="#111" stroke="#111" stroke-width="0.7">–</text>
<text x="178.3" y="222.2" font-size="12.555000000000001" text-anchor="middle" fill="#111" stroke="#111" stroke-width="0.55">+</text>
<text x="200.8" y="222.2" font-size="12.555000000000001" text-anchor="middle" fill="#111" stroke="#111" stroke-width="0.55">+</text>
<text x="156.6" y="249.2" font-size="12.42" text-anchor="middle" fill="#111" stroke="#111" stroke-width="0.7">–</text>
<text x="178.6" y="249.2" font-size="12.42" text-anchor="middle" fill="#111" stroke="#111" stroke-width="0.7">–</text>
<text x="200.8" y="249.2" font-size="12.555000000000001" text-anchor="middle" fill="#111" stroke="#111" stroke-width="0.55">+</text>
<text x="220" y="248.8" font-size="14.4" text-anchor="start" fill="#111" stroke="#111" stroke-width="0.3">(kDa)</text>
<text x="134.9" y="275.5" font-size="14.4" text-anchor="end" fill="#111" stroke="#111" stroke-width="0.3">Clv-PARP</text>
<text x="134.9" y="302.7" font-size="14.4" text-anchor="end" fill="#111" stroke="#111" stroke-width="0.3">Clv-caspase-3</text>
<text x="134.9" y="329.6" font-size="14.4" text-anchor="end" fill="#111" stroke="#111" stroke-width="0.3">GAPDH</text>
<rect x="142.5" y="261.3" width="73.3" height="18.2" fill="#f3f3f3" stroke="none" stroke-width="1"/>
<rect x="142.5" y="290" width="73.3" height="18.3" fill="#f3f3f3" stroke="none" stroke-width="1"/>
<rect x="142.5" y="317" width="73.3" height="18.5" fill="#f3f3f3" stroke="none" stroke-width="1"/>
<g clip-path="url(#cpc)">
<clipPath id="cpc"><rect x="142.5" y="261" width="73.3" height="75"/></clipPath>
<rect x="166.5" y="268.3" width="21" height="3.2" fill="#000" stroke="none" stroke-width="1" rx="1.6" filter="url(#bl0)"/>
<rect x="150" y="296" width="60" height="3.5" fill="#999" stroke="none" stroke-width="1" rx="1.7" filter="url(#bl3)" opacity="0.5"/>
<rect x="168" y="294.6" width="20" height="4.6" fill="#000" stroke="none" stroke-width="1" rx="2.3" filter="url(#bl2)" opacity="0.9"/>
<rect x="171" y="295.4" width="13" height="3.2" fill="#000" stroke="none" stroke-width="1" rx="1.6" filter="url(#bl1)"/>
<rect x="147.5" y="324" width="18.5" height="3.6" fill="#0a0a0a" stroke="none" stroke-width="1" rx="1.8" filter="url(#bl1)"/>
<rect x="170" y="324" width="20" height="3.6" fill="#0a0a0a" stroke="none" stroke-width="1" rx="1.8" filter="url(#bl1)"/>
<rect x="193.5" y="324" width="19" height="3.6" fill="#0a0a0a" stroke="none" stroke-width="1" rx="1.8" filter="url(#bl1)"/>
<rect x="144" y="324.8" width="70" height="2" fill="#444" stroke="none" stroke-width="1" filter="url(#bl1)" opacity="0.55"/>
</g>
<rect x="142.5" y="261.3" width="73.3" height="18.2" fill="none" stroke="#222" stroke-width="1.1"/>
<rect x="142.5" y="290" width="73.3" height="18.3" fill="none" stroke="#222" stroke-width="1.1"/>
<rect x="142.5" y="317" width="73.3" height="18.5" fill="none" stroke="#222" stroke-width="1.1"/>
<path d="M222.5 270.8H233.5" fill="none" stroke="#111" stroke-width="1"/>
<path d="M220.5 270.8l5 -2.6l-1.3 2.6l1.3 2.6z" fill="#111" stroke="none" stroke-width="1"/>
<text x="238.7" y="275.5" font-size="13.9" text-anchor="start" fill="#111" stroke="#111" stroke-width="0.3">89</text>
<path d="M222.5 298.8H233.5" fill="none" stroke="#111" stroke-width="1"/>
<path d="M220.5 298.8l5 -2.6l-1.3 2.6l1.3 2.6z" fill="#111" stroke="none" stroke-width="1"/>
<text x="238.7" y="303.2" font-size="13.9" text-anchor="start" fill="#111" stroke="#111" stroke-width="0.3">19</text>
<path d="M222.5 325.2H233.5" fill="none" stroke="#111" stroke-width="1"/>
<path d="M220.5 325.2l5 -2.6l-1.3 2.6l1.3 2.6z" fill="#111" stroke="none" stroke-width="1"/>
<text x="238.7" y="330" font-size="13.9" text-anchor="start" fill="#111" stroke="#111" stroke-width="0.3">36</text>
<defs><filter id="db1" x="-5%" y="-5%" width="110%" height="110%"><feGaussianBlur stdDeviation="0.75"/></filter><filter id="db2" x="-5%" y="-5%" width="110%" height="110%"><feGaussianBlur stdDeviation="2.2"/></filter><filter id="db3" x="-5%" y="-5%" width="110%" height="110%"><feGaussianBlur stdDeviation="1.1"/></filter><filter id="db5" x="-50%" y="-50%" width="200%" height="200%"><feGaussianBlur stdDeviation="9"/></filter><filter id="db4" x="-5%" y="-5%" width="110%" height="110%"><feGaussianBlur stdDeviation="0.95"/></filter></defs>
<text x="273.5" y="213.6" font-size="23.4" text-anchor="start" fill="#111" stroke="#111" stroke-width="0.3">d</text>
<text x="384" y="221" font-size="14.2" text-anchor="middle" fill="#111" stroke="#111" stroke-width="0.3">Vehicle</text>
<text x="489" y="221" font-size="14.2" text-anchor="middle" fill="#111" stroke="#111" stroke-width="0.3">DDP</text>
<text x="594" y="212" font-size="14.6" text-anchor="middle" fill="#111" stroke="#111" stroke-width="0.3">DDP+CNPs</text>
<text x="596.5" y="229.2" font-size="14.6" text-anchor="middle" fill="#111" stroke="#111" stroke-width="0.3">(0.5 mg/kg)</text>
<text x="699" y="212" font-size="14.6" text-anchor="middle" fill="#111" stroke="#111" stroke-width="0.3">DDP+CNPs</text>
<text x="701.5" y="229.2" font-size="14.6" text-anchor="middle" fill="#111" stroke="#111" stroke-width="0.3">(1.5 mg/kg)</text>
<text x="320.5" y="292.8" font-size="14.2" text-anchor="end" fill="#2b2bb0" stroke="#2b2bb0" stroke-width="0.3">DAPI</text>
<text x="320.5" y="400" font-size="14.2" text-anchor="end" fill="#3ccf3c" stroke="#3ccf3c" stroke-width="0.3">TUNEL</text>
<text x="320.5" y="506.4" font-size="14.2" text-anchor="end" fill="#2b2bb0">Mer<tspan fill="#3ccf3c">ge</tspan></text>
<clipPath id="cpd00"><rect x="331.3" y="240" width="103" height="104.4"/></clipPath>
<rect x="331.3" y="240" width="103" height="104.4" fill="#000" stroke="none" stroke-width="1"/>
<g clip-path="url(#cpd00)">
<polygon points="329.3,238 384.7,240 388.2,244 391.8,248 395.3,252 398.3,256 401.4,260 404.4,264 407.6,268 411,272 414.4,276 417.8,280 420.9,284 423.5,288 426,292 428.2,296 430.1,300 432,304 433.9,308 435.8,312 437.7,316 439.5,320 441.4,324 443.3,328 445.2,332 447.1,336 448.9,340 450.8,344 452.7,348 441.3,348 441.3,350 329.3,350" fill="#010118" opacity="1" filter="url(#db3)"/>
<g filter="url(#db2)" opacity="1">
<path d="M390.4 284.3h0M385 273.4h0M378.2 312.1h0M343.6 339.6h0M376 245h0M373.5 242h0M347.1 325.2h0M346.9 308.1h0M375.8 238.5h0M377.2 300.9h0M385.5 336.3h0M391.9 296.2h0M373.7 241.8h0M381.2 287.5h0M425.4 313.4h0M402.8 307.4h0M421.2 315.6h0M366.7 246.6h0M408.9 313.1h0M396.4 260.6h0M336.8 283.7h0M380.3 289.8h0M420 328.3h0M394.6 268.5h0M409 340.7h0M420 300h0M364.3 243.1h0M347.6 255h0M406.6 344.5h0M350.1 284.8h0M334.8 271.6h0M393.3 284.3h0M409.8 288.6h0M391.5 283.4h0M340.7 315.9h0M366.3 336h0M397.5 289.2h0M421.6 295.4h0M365.5 337.2h0M355.7 304.4h0M335.2 321.2h0M396.1 335.4h0M396.4 290.8h0M348.1 287.8h0M415.6 325.5h0M394.4 307.8h0M374.1 330.7h0M394.5 286.8h0M378.3 310.8h0M399.8 328.1h0M368.5 287.2h0M355.1 254.9h0M432 344.6h0M343.2 308.9h0M351.5 274.1h0M341.7 328.6h0M337.2 278.9h0M390.4 335.1h0M405.4 313.1h0M409.5 336.2h0M389.7 328h0M332.3 288.4h0M354.9 293.6h0M412.6 313.4h0M406.6 276.8h0M381 280.5h0M388.1 337.2h0M355.5 307.9h0M418.6 290h0M399.6 317.8h0M387.2 303.3h0M364.4 331h0M374.4 293.8h0M410.3 295.8h0M404.3 337.8h0M393.1 282.1h0M425.2 309.2h0M391 276.9h0M357.2 345.5h0M369.6 288.1h0M346.3 335.3h0M335.8 269.9h0M420 307.9h0M383 309h0M381.8 327.5h0M391.6 288.8h0M339 330.3h0M392.6 313.1h0M412.5 299.2h0M414.9 342.5h0M344.6 308.5h0M331 331.2h0M422.2 328.1h0M408.7 290.8h0M351.1 319.5h0M334.3 245.3h0M334 262.6h0M370.8 298.1h0M333.1 273.3h0M409.1 315h0M369.9 309.1h0M420 316.1h0M382.8 345.6h0M392.1 285.2h0M346.2 342h0M354.4 245.3h0M387.3 329.7h0M369.7 266.7h0M422.3 299.5h0M344.7 316.3h0M404.5 320.7h0M363.6 265h0M364 329.6h0M408.1 321.4h0M379.4 253.2h0M382.3 244.2h0M378.9 250.7h0M376.5 343.5h0M346.9 267.7h0M379.3 297h0M366.1 331.4h0M405 316.3h0M331.2 328.9h0M428.9 344.7h0M413.7 329.2h0M418.9 285h0M337.5 342.6h0" fill="none" stroke="#0c0c98" stroke-width="6.4" stroke-linecap="round" stroke-opacity="0.26"/>
</g>
<g filter="url(#db4)" opacity="1">
<path d="M390.4 284.3h0M421.3 303.1h0M334 238.4h0M361.7 277.5h0M391.8 329.2h0M346 262.2h0M382.4 326.3h0M399.7 295.6h0M347.1 325.2h0M395.3 257.3h0M417.2 322h0M377.2 300.9h0M401.3 264.1h0M385.5 336.3h0M381.7 287.8h0M381.7 255.9h0M329.6 295.8h0M377.9 345.2h0M377.1 316.4h0M421.2 315.6h0M366.7 246.6h0M339.6 346h0M422.5 308.4h0M331 273.4h0M349.2 256.2h0M433.6 331.9h0M331 259.7h0M385.2 325.5h0M411.1 341.1h0M394.1 331.4h0M366.5 253.7h0M406.6 344.5h0M348 327h0M345.6 338.7h0M349.4 306.5h0M348.2 306.7h0M347.8 333h0M371.2 248.2h0M340.7 315.9h0M362.6 269.3h0M398.8 334.3h0M366.3 336h0M346.2 311.1h0M397.5 289.2h0M352.6 276.4h0M331.1 328.4h0M407.1 276.7h0M355.7 304.4h0M391.8 283.2h0M329.9 241h0M335.2 321.2h0M369.6 287.6h0M365.2 241.7h0M405.2 277.4h0M348.1 287.8h0M345.7 246.5h0M342.2 314.2h0M415.6 325.5h0M386.6 261.1h0M362 312.7h0M374.1 330.7h0M369.3 310.3h0M378.3 310.8h0M343 345.1h0M427.4 316.1h0M368.5 287.2h0M349.9 340.8h0M370.2 331.2h0M432 344.6h0M378.1 330.3h0M347.6 279.5h0M351.5 274.1h0M367.3 238.5h0M405.7 287.6h0M378.8 332.7h0M417.8 297.5h0M371.4 240.5h0M405.4 313.1h0M409.5 336.2h0M361.8 263.3h0M362.2 320.9h0M332.3 288.4h0M333.9 264.5h0M357 254.7h0M354.9 293.6h0M380 320.7h0M366.8 297.6h0M393.2 269.8h0M391.5 297.3h0M430.4 329.8h0M381.6 343.6h0M355.5 307.9h0M418.6 290h0M407.3 294.5h0M413.8 312.6h0M425.7 332.1h0M364.4 331h0M374.4 293.8h0M359 313.6h0M419.9 325.9h0M404.3 337.8h0M380.2 245.2h0M391 276.9h0M364.9 245.5h0M360.6 275.6h0M340.3 265.3h0M410.5 320.5h0M367.9 333.2h0M346.3 335.3h0M427.7 320h0M362.2 343.5h0M420 307.9h0M335.3 274.1h0M381.8 327.5h0M386.7 338.4h0M369.2 334.4h0M348.8 327.3h0M339 330.3h0M350 335.1h0M349.4 243.9h0M383.7 337.7h0M362.6 300.3h0M334.4 341.1h0M344.6 308.5h0M420.9 289.8h0M390.1 330.1h0M331 331.2h0M403.9 267.8h0M330.2 253.8h0M343.4 267.4h0M408.7 290.8h0M395.3 299.9h0M416.3 289h0M405 269.6h0M334.3 245.3h0M341.2 329.7h0M361 265.4h0M370.8 298.1h0M336.8 328h0M409.1 315h0M387.6 333.4h0M420 316.1h0M400.2 269.7h0M366.4 305.7h0M401.4 270.4h0M369.9 313.7h0M368.1 249.6h0M349.3 337.4h0M354.4 245.3h0M401.1 326.5h0M411.1 320.5h0M399.9 273h0M375.3 240.1h0M393.3 275.2h0M376.3 344.6h0M413.3 293.8h0M398.8 310.9h0M335.8 289.7h0M405.3 336.6h0M346.9 267.7h0M375.4 270.1h0M405 316.3h0M353.6 270.8h0M340.4 282.3h0M412 316.5h0M364.9 292.3h0M346.2 279.8h0M337.5 342.6h0M344.3 315.6h0" fill="none" stroke="#1a1ac8" stroke-width="3" stroke-linecap="round" stroke-opacity="0.8"/>
<path d="M391.2 260.3h0M416.3 326.9h0M385 273.4h0M356 340.9h0M378.2 312.1h0M411.5 344.1h0M343.6 339.6h0M362.9 297.3h0M376 245h0M373.5 242h0M342.1 287.2h0M346.9 308.1h0M380.7 275.5h0M375.8 238.5h0M405.5 273.8h0M363.5 246.6h0M371.1 331.9h0M372.2 283.4h0M391.9 296.2h0M376.5 342.6h0M373.7 241.8h0M381.2 287.5h0M376 292.1h0M425.4 313.4h0M374.6 308.1h0M354.7 304.9h0M402.8 307.4h0M392.3 327.6h0M380.5 325.2h0M334.2 336.6h0M411.4 341.9h0M350.1 260.4h0M408.9 313.1h0M385.2 283.7h0M368.3 305.7h0M396.4 260.6h0M394.5 332.5h0M336.8 283.7h0M338.8 244h0M396.6 268.5h0M380.3 289.8h0M403.1 315.7h0M432.5 345.2h0M420 328.3h0M363.8 318h0M394.6 268.5h0M339.5 323.4h0M409 340.7h0M420 300h0M364.3 243.1h0M389.8 330.9h0M371.8 302.9h0M347.6 255h0M389.1 287.5h0M350.1 284.8h0M334.8 271.6h0M367.9 258h0M393.3 284.3h0M366.3 259.1h0M346.7 281.8h0M409.8 288.6h0M412.5 332.9h0M391.5 283.4h0M384.2 334.1h0M395.6 303.6h0M391 281.1h0M421.6 295.4h0M337.3 325.6h0M365.5 337.2h0M351.3 269.2h0M370.5 239.6h0M375.7 309.5h0M396.1 335.4h0M396.4 290.8h0M336.8 266.7h0M375.1 293.1h0M405.6 306.5h0M394.4 307.8h0M341.7 270.4h0M394.5 286.8h0M425.5 327.1h0M345.3 307.3h0M427.1 315.9h0M399.8 328.1h0M339 245.3h0M362.6 318.9h0M355.1 254.9h0M393.3 312.1h0M386.6 318.9h0M420.7 301.9h0M343.2 308.9h0M341.7 328.6h0M375.3 248h0M337.2 278.9h0M337.9 238.8h0M390.4 335.1h0M338.4 340h0M361.3 308.9h0M379.3 270.6h0M369.3 255.3h0M389.7 328h0M332.8 255.8h0M412.6 313.4h0M335.3 290.1h0M406.6 276.8h0M363.7 259.5h0M381 280.5h0M381.9 332.6h0M388.1 337.2h0M408.9 309.1h0M347.5 281.7h0M354 313.9h0M405.5 319.5h0M415.7 324.6h0M399.6 317.8h0M406.3 306.9h0M387.2 303.3h0M424.1 300.9h0M372.1 292.9h0M339.2 244.4h0M410.3 295.8h0M424.5 306.9h0M410 286.6h0M342 281.6h0M393.1 282.1h0M345.8 331.6h0M425.2 309.2h0M335 285.3h0M386.6 318.2h0M392.7 288.2h0M357.2 345.5h0M369.6 288.1h0M402.2 310.4h0M334.7 320.3h0M335.8 269.9h0M413 311.5h0M390.7 266.8h0M383 309h0M365.5 302.8h0M391.6 288.8h0M358.6 274.7h0M376 257.2h0M392.6 313.1h0M347.1 239h0M412.5 299.2h0M331.1 298.2h0M414.9 342.5h0M390.8 301h0M422.2 328.1h0M329.7 261h0M351.1 319.5h0M367 284.2h0M334 262.6h0M374.2 243.4h0M329.4 262.5h0M333.1 273.3h0M363.7 255.1h0M426.8 317.9h0M335 300h0M369.9 309.1h0M387.6 326.7h0M371.1 337.2h0M382.8 345.6h0M373.6 338.8h0M392.1 285.2h0M331.6 245h0M346.2 342h0M357.3 345.6h0M387.3 329.7h0M350.3 324h0M369.7 266.7h0M425.1 299.1h0M422.3 299.5h0M397.3 297.7h0M423.9 291.1h0M344.7 316.3h0M358.6 250h0M374.2 308.8h0M404.5 320.7h0M419.5 334.7h0M363.6 265h0M364 329.6h0M371.3 240.4h0M355.1 307.7h0M408.1 321.4h0M412.3 315h0M379.4 253.2h0M401.2 307.3h0M411.8 307.9h0M382.3 244.2h0M343.7 263.4h0M378.9 250.7h0M404.2 332.2h0M376.5 343.5h0M341.2 307.2h0M349.5 296.3h0M350.7 286.2h0M379.3 297h0M329.6 294.8h0M366.1 331.4h0M418.4 320.8h0M371.9 244.9h0M414 311.3h0M331.2 328.9h0M379.6 335.5h0M366.9 331.4h0M428.9 344.7h0M413.7 312.2h0M413.7 329.2h0M418.9 285h0M376.1 292h0" fill="none" stroke="#2020d8" stroke-width="2.2" stroke-linecap="round" stroke-opacity="0.75"/>
<path d="M390.4 284.3h0M334 238.4h0M391.8 329.2h0M382.4 326.3h0M347.1 325.2h0M417.2 322h0M401.3 264.1h0M381.7 287.8h0M329.6 295.8h0M377.1 316.4h0M366.7 246.6h0M422.5 308.4h0M349.2 256.2h0M331 259.7h0M411.1 341.1h0M366.5 253.7h0M348 327h0M349.4 306.5h0M347.8 333h0M340.7 315.9h0M398.8 334.3h0M346.2 311.1h0M352.6 276.4h0M407.1 276.7h0M391.8 283.2h0M335.2 321.2h0M365.2 241.7h0M348.1 287.8h0M342.2 314.2h0M386.6 261.1h0M374.1 330.7h0M378.3 310.8h0M427.4 316.1h0M349.9 340.8h0M432 344.6h0M347.6 279.5h0M367.3 238.5h0M378.8 332.7h0M371.4 240.5h0M409.5 336.2h0M362.2 320.9h0M333.9 264.5h0M354.9 293.6h0M366.8 297.6h0M391.5 297.3h0M381.6 343.6h0M418.6 290h0M413.8 312.6h0M364.4 331h0M359 313.6h0M404.3 337.8h0M391 276.9h0M360.6 275.6h0M410.5 320.5h0M346.3 335.3h0M362.2 343.5h0M335.3 274.1h0M386.7 338.4h0M348.8 327.3h0M350 335.1h0M383.7 337.7h0M334.4 341.1h0M420.9 289.8h0M331 331.2h0M330.2 253.8h0M408.7 290.8h0M416.3 289h0M334.3 245.3h0M361 265.4h0M336.8 328h0M387.6 333.4h0M400.2 269.7h0M401.4 270.4h0M368.1 249.6h0M354.4 245.3h0M411.1 320.5h0M375.3 240.1h0M376.3 344.6h0M398.8 310.9h0M405.3 336.6h0M375.4 270.1h0M353.6 270.8h0M412 316.5h0M346.2 279.8h0M344.3 315.6h0" fill="none" stroke="#3a3aff" stroke-width="1.5" stroke-linecap="round" stroke-opacity="0.8"/>
</g>
<path d="M386.7 240L397.3 252L408.3 266.5L422.3 283L429.3 294L433.3 302.5" fill="none" stroke="#9a2c1e" stroke-width="1.9" stroke-dasharray="1.9 2.2" stroke-opacity="1"/>
<path d="M358.3 240L434.3 339.5" fill="none" stroke="#f0f0e4" stroke-width="1.1" stroke-dasharray="2 2.1"/>
<rect x="338.9" y="334.2" width="24.6" height="2.8" fill="#fff" stroke="none" stroke-width="1"/>
</g>
<clipPath id="cpd01"><rect x="436.4" y="240" width="103" height="104.4"/></clipPath>
<rect x="436.4" y="240" width="103" height="104.4" fill="#000" stroke="none" stroke-width="1"/>
<g clip-path="url(#cpd01)">
<polygon points="434.4,238 491.4,240 496.1,244 500.9,248 505.1,252 509.2,256 513.5,260 517.6,264 520.7,268 523.7,272 526.3,276 528.8,280 531.3,284 533.7,288 536.2,292 538.6,296 541.1,300 543.5,304 546,308 548.4,312 550.9,316 553.3,320 555.7,324 558.2,328 560.6,332 563.1,336 565.5,340 568,344 570.4,348 546.4,348 546.4,350 434.4,350" fill="#010118" opacity="0.9" filter="url(#db3)"/>
<g filter="url(#db2)" opacity="0.9">
<path d="M482.8 298.5h0M501.8 323.6h0M539.5 342.2h0M490.9 244.4h0M481.5 329h0M483.3 268h0M468.1 262.8h0M525 279.7h0M531.8 288.8h0M537.6 319.9h0M494.2 286.3h0M520.4 270.8h0M469.6 270h0M450.9 336.1h0M528.8 303.2h0M525.6 304.3h0M463.2 286.1h0M448.5 277.1h0M449.4 241.8h0M492.8 317.6h0M507.7 335.3h0M495.7 305.5h0M528.5 316.6h0M498.7 289.9h0M435.6 270.5h0M469.4 309.9h0M510.5 340.6h0M457.3 282.7h0M442.4 241.4h0M436.4 252.7h0M501.7 286.2h0M453.5 239.2h0M471.4 313.3h0M519.1 335.9h0M504.1 260.1h0M531.8 330.4h0M516.6 290.6h0M452.9 274.2h0M508.2 340.1h0M490.8 269.3h0M491.7 292.3h0M492 282.7h0M454.9 304.7h0M472.4 304.9h0M461.2 259.4h0M491 255.3h0M525.5 304.1h0M457.7 345.8h0M523.4 283.5h0M507.4 336.4h0M454.6 245.6h0M495.3 253.8h0M441 340.8h0M489.5 284.4h0M513.5 281.8h0M520.2 314.1h0M488.4 344.1h0M477.8 334.8h0M477.8 316h0M459.2 340h0M491.4 280.1h0M477.4 243.4h0M531.3 297.4h0M502.7 325.4h0M487.4 304h0M504.5 298.5h0M460.6 242.6h0M485.5 343.1h0M484.5 343.7h0M490.9 251.4h0M496.7 283.3h0M459.9 250.3h0M463.5 312h0M532.4 332.9h0M442.2 247.3h0M485.6 260.7h0M479.8 265.9h0M473.9 248.5h0M507.7 270.3h0M512 312.9h0M495.3 337.2h0M467 272.3h0M473.5 277.2h0M494.6 257.1h0M489.6 296.8h0M441.3 297.1h0M514.2 308.1h0M516.2 280.6h0M491.9 315.9h0M505.7 330.2h0M520.2 283.5h0M467.4 250.4h0M438.3 249.7h0M498 262.2h0" fill="none" stroke="#0c0c98" stroke-width="6.4" stroke-linecap="round" stroke-opacity="0.26"/>
</g>
<g filter="url(#db4)" opacity="0.9">
<path d="M488.7 301.4h0M539.5 342.2h0M504.4 304.5h0M451.3 239.6h0M454.8 264.1h0M481.5 329h0M489.9 307.2h0M487.9 309.5h0M541.1 345.5h0M468.1 262.8h0M516.4 281.2h0M525 279.7h0M536.9 329.5h0M434.5 260.6h0M531.8 288.8h0M445.2 244.5h0M494.2 286.3h0M479.4 261h0M463.3 342.9h0M476.6 330.3h0M442.3 247.7h0M496.8 264.2h0M454.7 317.9h0M528.8 303.2h0M509.8 265.8h0M458.8 298.4h0M525.6 304.3h0M464.4 337.1h0M440.9 257h0M449.4 241.8h0M530.7 317.6h0M509.7 323.7h0M507.7 335.3h0M527.6 283.1h0M502.8 345.3h0M459 313.4h0M487.6 304.4h0M469.4 309.9h0M520.6 336.7h0M482.6 267.7h0M457.3 282.7h0M442.4 241.4h0M510.2 299.6h0M467.5 323.5h0M483.1 240.7h0M501.7 286.2h0M501.8 308.7h0M520.8 341.5h0M453.6 267.4h0M471.4 313.3h0M519.1 335.9h0M531.8 330.4h0M471.7 246.9h0M441.3 324.4h0M450.3 293.8h0M487.1 340.5h0M443.6 261.9h0M490.8 269.3h0M475.2 329.3h0M495.7 259.7h0M491.7 292.3h0M477.3 324.5h0M494.6 291h0M492 282.7h0M455.2 262.5h0M445.6 316.9h0M461.2 259.4h0M491 255.3h0M456.3 306.2h0M525.5 304.1h0M513.7 325.5h0M468.1 337.7h0M462.2 248.5h0M477.5 312h0M493.4 293.6h0M495.3 253.8h0M524.3 345h0M483.8 320.6h0M509.4 329.2h0M513.5 281.8h0M477.7 302.8h0M531.9 318.4h0M477.8 334.8h0M528.5 313h0M516.5 320.6h0M477.8 316h0M502.7 305.4h0M459.2 340h0M505.7 274.5h0M505 299.5h0M455.3 278.6h0M444.9 265.1h0M531.3 297.4h0M484.9 256.3h0M479.4 294.9h0M530.4 318.8h0M439.8 344.8h0M485.5 343.1h0M490.9 251.4h0M481.8 310.1h0M483.1 266.3h0M496.7 283.3h0M459.9 250.3h0M529.9 322.7h0M463.5 312h0M461 343.8h0M506.8 297.5h0M501.9 278.3h0M485.6 260.7h0M479.8 265.9h0M521.1 277.8h0M504.3 344.8h0M473.9 248.5h0M443.1 270.8h0M464.7 253.4h0M495.3 337.2h0M481.3 324.7h0M476.7 279.9h0M495.1 342.4h0M441.3 297.1h0M502.3 253.5h0M460.7 261.8h0M516.2 280.6h0M470.5 342.6h0M506.3 291.3h0M491.9 315.9h0M520.6 328.1h0M479.9 269.5h0M438.3 249.7h0M454.1 261.5h0" fill="none" stroke="#1a1ac8" stroke-width="3" stroke-linecap="round" stroke-opacity="0.8"/>
<path d="M482.8 298.5h0M454.2 293.3h0M501.8 323.6h0M444.5 270.8h0M444.1 325.4h0M490.9 244.4h0M437.6 288.1h0M483.3 268h0M524.3 314.4h0M465.3 245.6h0M476.9 245.9h0M443.7 273.9h0M537.6 319.9h0M447 264.6h0M520.4 270.8h0M462 321.5h0M469.6 270h0M450.9 336.1h0M455.4 340.6h0M456.2 239.8h0M463.2 286.1h0M473.9 299.8h0M448.5 277.1h0M539.3 308.9h0M508.4 301.1h0M502.5 290.1h0M512.6 272.4h0M492.8 317.6h0M519 331.3h0M495.7 305.5h0M475.3 300.9h0M528.5 316.6h0M476 317.4h0M496.6 285.6h0M498.7 289.9h0M435.6 270.5h0M531.3 309.3h0M481.7 334.3h0M455.6 284.5h0M510.5 340.6h0M464 256.3h0M501.4 291.3h0M468.1 328.6h0M436.4 252.7h0M449.5 243.1h0M453.5 239.2h0M484.9 315.1h0M490.1 304.4h0M515.3 280.5h0M443.7 338.7h0M482.9 305.6h0M504.1 260.1h0M511.6 326.4h0M530.7 343.9h0M481.6 297.4h0M516.6 290.6h0M437.4 325.4h0M452.9 274.2h0M511.8 328.7h0M508.2 340.1h0M536.8 337.7h0M463.2 289.1h0M454.9 304.7h0M507.9 272.8h0M472.4 304.9h0M447.5 293.1h0M491.1 285.2h0M474.6 282.6h0M502.7 295.2h0M457.7 345.8h0M460 316.5h0M523.4 283.5h0M436.3 259.7h0M507.4 336.4h0M488.5 319.9h0M488.2 312.1h0M454.6 245.6h0M445.8 242h0M454.1 260h0M441 340.8h0M469.4 288.4h0M489.5 284.4h0M453.8 287h0M455.3 255.8h0M489.2 239.7h0M520.2 314.1h0M526.5 306h0M488.4 344.1h0M517.6 326h0M441.9 274.9h0M491.4 280.1h0M541.4 307.4h0M509.4 320.3h0M477.4 243.4h0M488.7 342.5h0M495.2 345.5h0M502.7 325.4h0M442.6 302.5h0M487.4 304h0M440.7 340.1h0M504.5 298.5h0M464.7 315.4h0M466.1 239.5h0M460.6 242.6h0M460.5 294.5h0M534.7 316.1h0M484.5 343.7h0M501.2 287.2h0M456.2 243.6h0M517.6 295.3h0M536.3 317.3h0M501.3 276.8h0M494.8 301.9h0M532.4 332.9h0M479.9 305.3h0M445.4 296.5h0M442.2 247.3h0M471.2 318.4h0M447.2 325.4h0M442.8 247h0M494.8 290.4h0M507.7 270.3h0M457.2 309.5h0M512 312.9h0M472.7 316.4h0M535 336.6h0M467 272.3h0M477.2 338.9h0M461 277.1h0M473.5 277.2h0M455.3 298.9h0M494.6 257.1h0M515.6 333.1h0M464.5 240.4h0M489.6 296.8h0M504.1 324.9h0M443.1 317.6h0M514.2 308.1h0M516.3 294.3h0M510.2 336.8h0M478.3 327.2h0M505.7 330.2h0M490.5 314.7h0M520.2 283.5h0M452.3 260.1h0M467.4 250.4h0M441.1 287.5h0M496.9 336.2h0M459.6 315.5h0M498 262.2h0" fill="none" stroke="#2020d8" stroke-width="2.2" stroke-linecap="round" stroke-opacity="0.75"/>
<path d="M488.7 301.4h0M504.4 304.5h0M454.8 264.1h0M489.9 307.2h0M541.1 345.5h0M516.4 281.2h0M536.9 329.5h0M531.8 288.8h0M494.2 286.3h0M463.3 342.9h0M442.3 247.7h0M454.7 317.9h0M509.8 265.8h0M525.6 304.3h0M440.9 257h0M530.7 317.6h0M507.7 335.3h0M502.8 345.3h0M487.6 304.4h0M520.6 336.7h0M457.3 282.7h0M510.2 299.6h0M483.1 240.7h0M501.8 308.7h0M453.6 267.4h0M519.1 335.9h0M471.7 246.9h0M450.3 293.8h0M443.6 261.9h0M475.2 329.3h0M491.7 292.3h0M494.6 291h0M455.2 262.5h0M461.2 259.4h0M456.3 306.2h0M513.7 325.5h0M462.2 248.5h0M493.4 293.6h0M524.3 345h0M509.4 329.2h0M477.7 302.8h0M477.8 334.8h0M516.5 320.6h0M502.7 305.4h0M505.7 274.5h0M455.3 278.6h0M531.3 297.4h0M479.4 294.9h0M439.8 344.8h0M490.9 251.4h0M483.1 266.3h0M459.9 250.3h0M463.5 312h0M506.8 297.5h0M485.6 260.7h0M521.1 277.8h0M473.9 248.5h0M464.7 253.4h0M481.3 324.7h0M495.1 342.4h0M502.3 253.5h0M516.2 280.6h0M506.3 291.3h0M520.6 328.1h0M438.3 249.7h0" fill="none" stroke="#3a3aff" stroke-width="1.5" stroke-linecap="round" stroke-opacity="0.8"/>
</g>
<path d="M493.4 240L504.2 249.1L512.9 257.7L518.7 262.8L525.9 272.2L533.1 283.7L539.4 294" fill="none" stroke="#9a2c1e" stroke-width="1.9" stroke-dasharray="1.9 2.2" stroke-opacity="1"/>
<path d="M463.1 240Q501.5 289.1 539.4 341.8" fill="none" stroke="#f0f0e4" stroke-width="1.1" stroke-dasharray="2 2.1"/>
<rect x="444" y="334.2" width="24.6" height="2.8" fill="#fff" stroke="none" stroke-width="1"/>
</g>
<clipPath id="cpd02"><rect x="541.3" y="240" width="103" height="104.4"/></clipPath>
<rect x="541.3" y="240" width="103" height="104.4" fill="#000" stroke="none" stroke-width="1"/>
<g clip-path="url(#cpd02)">
<polygon points="539.3,238 610.8,240 612.9,244 615,248 617.1,252 619.2,256 621.3,260 623.4,264 625.5,268 627.5,272 629.4,276 631.3,280 633.2,284 635.1,288 637,292 638.9,296 640.8,300 642.8,304 644.7,308 646.6,312 648.5,316 650.4,320 652.3,324 654.2,328 656.1,332 658,336 659.9,340 661.8,344 663.7,348 651.3,348 651.3,350 539.3,350" fill="#010118" opacity="0.8" filter="url(#db3)"/>
<g filter="url(#db2)" opacity="0.8">
<path d="M590.1 309h0M568.6 325.5h0M554.8 285.5h0M547.3 312.2h0M584.6 252.6h0M544.8 256.5h0M590.3 279.5h0M611.4 250.3h0M592.8 241h0M550.3 297.4h0M576.1 306.8h0M590.3 341.5h0M578.3 258.4h0M540.2 242.3h0M606.4 266.4h0M613.8 314.1h0M613.6 252.2h0M642.2 320.1h0M601.4 275.5h0M615.3 335.6h0M623.7 279h0M613 296.5h0M573.9 312h0M586.8 257.4h0M577.9 268.2h0M589 303.5h0M581.6 310.7h0M592.8 277h0M569.9 339.1h0M573.6 251.6h0M583.4 304.7h0M545 328.2h0M572 252.8h0M541.9 271.3h0M571 258.5h0M550.2 312h0M625 292.6h0M583.7 293.8h0M641.6 311.7h0M546 249.7h0M642.6 341.7h0M584.6 296.7h0M644.9 320.6h0M617.5 327.2h0M596.6 277.1h0M566.3 283.2h0M597.9 302.4h0M574.6 292.3h0M574.9 309h0M625.9 344.9h0M590.5 341.6h0M577.8 315.2h0M593 309.5h0M581.1 342.5h0M583.6 243.6h0M552.3 327.8h0M636.6 338.6h0M621.2 297.6h0M608.2 285.1h0M635.2 297.4h0M605.9 345h0M595.4 321.9h0M570 246.9h0M631.3 343.6h0M600.2 313.7h0M541.5 305.2h0M574.1 299.2h0M573.3 338.6h0M558.1 284.5h0M586.1 336.4h0M610 289.8h0M590.6 334.8h0M644.7 329.3h0M587.2 254.7h0M574.4 344.7h0M608.9 308.2h0M602.1 256.4h0M556.3 247.6h0M592.3 336.2h0M547.8 255.6h0M552.8 259.6h0M571.3 260.4h0M548.7 257h0M609.7 256.3h0" fill="none" stroke="#0c0c98" stroke-width="6.4" stroke-linecap="round" stroke-opacity="0.26"/>
</g>
<g filter="url(#db4)" opacity="0.8">
<path d="M590.1 309h0M540.5 278.5h0M599 309.4h0M545.6 326.4h0M556.8 313.3h0M544.8 256.5h0M626.6 281.3h0M643.8 309.7h0M564.4 277.2h0M592.8 241h0M558.4 313.2h0M543.2 267.9h0M576.1 306.8h0M590.8 341.2h0M557.2 337.8h0M619.4 336.5h0M575.9 264.1h0M541.9 272.8h0M640.6 334.6h0M599.2 305.5h0M601.4 275.5h0M572.7 338.9h0M565.6 281.9h0M573.9 312h0M586.8 257.4h0M610.7 274.9h0M560.8 284.7h0M562.9 337.2h0M588.5 330.3h0M596.9 320.2h0M581.6 310.7h0M617.7 272.8h0M592.8 277h0M572.2 252.7h0M544.2 324.8h0M569.9 339.1h0M603.4 280h0M632.7 334.9h0M573.6 251.6h0M604.4 322.7h0M583.4 304.7h0M567.5 281.9h0M561.2 265.5h0M632.8 326.7h0M556.8 315.3h0M571 258.5h0M559 271.7h0M550.2 312h0M607.1 280h0M583.7 293.8h0M615.8 268.1h0M619.2 340.6h0M548.6 303.5h0M644.9 320.6h0M603.5 310.3h0M641.2 318.5h0M566.3 283.2h0M597.9 302.4h0M601.1 278.9h0M572.5 276.3h0M588.5 256.7h0M625.9 344.9h0M588.4 339.2h0M593 309.5h0M583.6 243.6h0M572.2 255.1h0M563.7 330.9h0M636.6 338.6h0M595.8 277.6h0M559.5 336.3h0M596.4 335.9h0M608.2 285.1h0M541.6 291.4h0M635.2 297.4h0M624.5 295h0M562.8 282h0M624.9 318.6h0M611.8 331.9h0M552.5 242.6h0M603.8 252.5h0M610 268.5h0M574.1 299.2h0M573.3 338.6h0M610.1 314.3h0M561.2 251.1h0M558.1 284.5h0M586.1 336.4h0M573.2 243.6h0M644.7 329.3h0M611.8 301.8h0M558.1 305.4h0M642.3 336.7h0M608.9 308.2h0M554.7 296.5h0M557.2 273h0M592.3 336.2h0M547.8 255.6h0M543.7 327.8h0M552.8 259.6h0M558.9 244.7h0M586.3 337.5h0M629.2 295.9h0M548.7 257h0M575.1 341.7h0M609.7 256.3h0" fill="none" stroke="#1a1ac8" stroke-width="3" stroke-linecap="round" stroke-opacity="0.8"/>
<path d="M610.6 253.4h0M568.6 325.5h0M613.2 303h0M554.8 285.5h0M556.7 335.8h0M547.3 312.2h0M541.3 244.6h0M549 344.6h0M584.6 252.6h0M572.7 305.1h0M584.1 302.4h0M590.3 279.5h0M542.6 316.4h0M611.4 250.3h0M594 325.5h0M627.3 284.5h0M580.8 321.4h0M550.3 297.4h0M544.9 287.6h0M561.6 268.4h0M590.3 341.5h0M578.3 258.4h0M540.2 242.3h0M605.5 344.3h0M606.4 266.4h0M556.6 269.5h0M613.8 314.1h0M562.2 268.8h0M566.6 311.8h0M613.6 252.2h0M565.1 285h0M642.2 320.1h0M584 301.6h0M635.7 323.2h0M578.7 317.5h0M599.6 239.8h0M615.3 335.6h0M624.7 334.9h0M636.7 295.8h0M623.7 279h0M549.8 276.1h0M613 296.5h0M614.3 280.6h0M613.7 320h0M542.5 290.7h0M564.8 273.4h0M577.9 268.2h0M589 303.5h0M612.1 275.8h0M607.9 329h0M545 328.2h0M577.7 317.3h0M572 252.8h0M631.9 328h0M561.9 333h0M541.9 271.3h0M540.7 256.5h0M631.6 303.5h0M596.7 286.4h0M595.8 308.4h0M625 292.6h0M607.3 288.5h0M630.8 312.6h0M641.6 311.7h0M585 281.8h0M604.3 319.4h0M546 249.7h0M548.3 244.1h0M612.6 304.5h0M642.6 341.7h0M542.3 262.6h0M584.6 296.7h0M573.1 264.1h0M571.2 337.7h0M617.5 327.2h0M620.3 274.7h0M580.1 331.1h0M596.6 277.1h0M564 279.6h0M550.2 317.6h0M606.9 256.7h0M574.6 292.3h0M582.1 260.1h0M574.9 309h0M581.8 293.7h0M550.1 265h0M611.4 256.5h0M564.3 259.2h0M590.5 341.6h0M581.2 288.3h0M577.8 315.2h0M619.7 263.8h0M595.6 316.5h0M605.2 315.1h0M634.6 323.3h0M581.1 342.5h0M628.8 283.5h0M572.9 266h0M544.7 250.6h0M552.3 327.8h0M579.9 291h0M621.2 297.6h0M628.9 328.6h0M599.4 329h0M597.5 329.5h0M605.9 345h0M595.4 321.9h0M608.9 277.2h0M570 246.9h0M631.3 343.6h0M563.2 281.5h0M600.2 313.7h0M569.8 319.6h0M585.7 256.3h0M541.5 305.2h0M577.6 248.2h0M591.7 282.8h0M597 295.2h0M644.9 335.7h0M627 311.4h0M646.1 322.2h0M642 333.2h0M610 289.8h0M561.1 261.7h0M546.5 248.1h0M590.6 334.8h0M611.4 288.5h0M622.4 314.3h0M557.3 288.9h0M587.2 254.7h0M560.9 282.4h0M574.4 344.7h0M581.2 259.6h0M602.1 256.4h0M564.2 316.9h0M591.2 334.1h0M556.3 247.6h0M604.4 312.9h0M598.8 254.1h0M555 267.7h0M598.1 264.7h0M568.4 340.4h0M585.9 331.1h0M571.3 260.4h0M570.9 323.7h0" fill="none" stroke="#2020d8" stroke-width="2.2" stroke-linecap="round" stroke-opacity="0.75"/>
<path d="M590.1 309h0M599 309.4h0M556.8 313.3h0M626.6 281.3h0M564.4 277.2h0M558.4 313.2h0M576.1 306.8h0M557.2 337.8h0M575.9 264.1h0M640.6 334.6h0M601.4 275.5h0M565.6 281.9h0M586.8 257.4h0M560.8 284.7h0M588.5 330.3h0M581.6 310.7h0M592.8 277h0M544.2 324.8h0M603.4 280h0M573.6 251.6h0M583.4 304.7h0M561.2 265.5h0M556.8 315.3h0M559 271.7h0M607.1 280h0M615.8 268.1h0M548.6 303.5h0M603.5 310.3h0M566.3 283.2h0M601.1 278.9h0M588.5 256.7h0M588.4 339.2h0M583.6 243.6h0M563.7 330.9h0M595.8 277.6h0M596.4 335.9h0M541.6 291.4h0M624.5 295h0M624.9 318.6h0M552.5 242.6h0M610 268.5h0M573.3 338.6h0M561.2 251.1h0M586.1 336.4h0M644.7 329.3h0M558.1 305.4h0M608.9 308.2h0M557.2 273h0M547.8 255.6h0M552.8 259.6h0M586.3 337.5h0M548.7 257h0M609.7 256.3h0" fill="none" stroke="#3a3aff" stroke-width="1.5" stroke-linecap="round" stroke-opacity="0.8"/>
</g>
<path d="M612.8 240L629.3 271.5L643.8 302" fill="none" stroke="#9a2c1e" stroke-width="1.9" stroke-dasharray="1.9 2.2" stroke-opacity="1"/>
<path d="M589.3 240Q620.1 289.3 643.6 343" fill="none" stroke="#f0f0e4" stroke-width="1.1" stroke-dasharray="2 2.1"/>
<rect x="548.9" y="334.2" width="24.6" height="2.8" fill="#fff" stroke="none" stroke-width="1"/>
</g>
<clipPath id="cpd03"><rect x="646.4" y="240" width="103" height="104.4"/></clipPath>
<rect x="646.4" y="240" width="103" height="104.4" fill="#000" stroke="none" stroke-width="1"/>
<g clip-path="url(#cpd03)">
<polygon points="644.4,238 691.4,240 694.4,244 697.4,248 700.4,252 703.3,256 706.3,260 709.3,264 712.3,268 715.3,272 718.3,276 721.2,280 724,284 726.9,288 729.8,292 732.7,296 735.6,300 738.5,304 741.3,308 744.2,312 747.1,316 750,320 752.9,324 755.7,328 758.6,332 761.5,336 764.4,340 767.3,344 770.2,348 756.4,348 756.4,350 644.4,350" fill="#010118" opacity="0.8" filter="url(#db3)"/>
<g filter="url(#db2)" opacity="0.8">
<path d="M669.1 253.9h0M734 303.7h0M731 325.1h0M671.9 329.8h0M683.4 284.4h0M703.7 318.8h0M666.1 294.5h0M658.4 291h0M686.1 315.6h0M661.5 282.7h0M684.5 315.4h0M667.1 304.7h0M680.9 269.9h0M651.8 307.5h0M681.1 248h0M673.2 302.5h0M676.1 241.4h0M648.5 280.9h0M680 269.3h0M648 251.9h0M657.8 238.5h0M684.2 275.3h0M691.5 299.9h0M676.4 341.9h0M737.1 346h0M673.1 322.8h0M670.9 329.8h0M655.4 301.6h0M650.1 292.1h0M719.4 284.1h0M744.1 326.2h0M722.1 302.4h0M727.3 332.6h0M716.3 336.6h0M679.1 270.4h0M658.2 245.2h0M669.2 299.1h0M699.9 294.3h0M674.5 300.5h0M654.8 308.4h0M706 283.4h0M653.8 248.9h0M646.5 277.1h0M704.7 306h0M690.3 269.1h0M721.7 318.3h0M681.8 317.9h0M690.5 299.3h0M704.7 283.7h0M709.9 281.4h0M689.3 339h0M646.2 299.1h0M671 288.5h0M721.4 333.9h0M659.4 264h0M652.7 316h0M691.7 263.4h0M694 261.5h0M659.2 332.9h0M710.6 309.7h0M694.3 315.4h0M708.1 340.6h0M665.5 258.9h0M717.5 284.1h0M710.4 311h0M679.6 324.1h0M726.8 310.7h0M654.7 344.8h0M733.3 328.9h0M713.9 331.4h0M680.1 256.2h0M717.3 342.1h0M718.3 289.8h0M711.3 276.4h0M655.9 261.1h0M691.4 277.6h0M684.5 269h0M678.1 247.3h0M672.1 269.7h0M688.8 240.1h0M688.7 256.6h0M653 283.7h0M705.4 265.6h0M691.7 277.5h0M700.9 282.8h0M736 320h0M679.9 332.2h0M646.5 287.9h0M722.9 300.7h0M738.4 336.5h0M648.9 340.3h0M666.8 298.7h0M671.7 247.1h0M654.9 307.7h0M647.1 301.6h0M750.5 329.6h0M655.4 298.6h0M706.6 318.4h0M661.3 244.1h0M688.5 284.3h0M669.7 300.9h0M668.6 322h0M664.5 319.8h0M666.3 309.3h0M665.3 306.2h0M664.5 304.4h0M664.5 311.5h0M671.8 319.6h0M671.8 313.2h0M666.3 313.4h0M667.6 317.9h0M662.1 310.1h0M670 321.9h0M669.5 316.9h0M673.4 323.9h0M668.8 314.3h0M671.4 322.7h0M661.8 326.3h0M666 330.8h0M669.4 314.3h0" fill="none" stroke="#0c0c98" stroke-width="6.4" stroke-linecap="round" stroke-opacity="0.26"/>
</g>
<g filter="url(#db4)" opacity="0.8">
<path d="M645.9 267.8h0M660.1 332.1h0M732.8 318.4h0M746 323.7h0M704.8 284.4h0M683.4 284.4h0M678 250.7h0M703.7 318.8h0M658.8 311.1h0M691.8 257.1h0M666.1 294.5h0M709.2 280.7h0M658.4 291h0M686.1 315.6h0M739.2 324.7h0M666.1 330.2h0M706.6 301.9h0M682.9 316.6h0M680.9 269.9h0M681.1 248h0M657.4 270.6h0M673.2 302.5h0M680.2 291.6h0M695.1 310.3h0M672.1 301.5h0M653.7 319.9h0M738.2 344.9h0M660.4 289.7h0M721.3 310h0M691.5 299.9h0M710.8 328.7h0M656.7 252.8h0M656.1 271.3h0M673.1 322.8h0M670.9 329.8h0M664.8 299.9h0M697.6 294.3h0M742.2 318h0M744.1 326.2h0M733.3 311.6h0M722.1 302.4h0M697.8 299.8h0M716.3 336.6h0M667.5 253.7h0M679.1 270.4h0M658.2 245.2h0M685.8 260.9h0M661.4 239.7h0M738.9 309.2h0M720 284.1h0M689.5 264.4h0M703.7 335.9h0M654.8 308.4h0M677.1 249.1h0M706 283.4h0M724.8 318.6h0M704.7 306h0M745.3 324.3h0M684.7 240.2h0M721.7 318.3h0M703.8 258.3h0M661.5 321.3h0M690.5 299.3h0M729.7 307h0M670 250.3h0M689.3 339h0M671 288.5h0M700.4 323h0M720.5 299.8h0M677.4 286.7h0M694 261.5h0M673.9 296.1h0M670.2 285.6h0M705.3 333h0M694.4 315.2h0M694.3 315.4h0M739.4 320.5h0M736.2 332.4h0M661 300h0M706.3 279.5h0M649.4 271h0M717.5 284.1h0M652 304.1h0M710.4 311h0M645.5 340.2h0M646.6 255.9h0M723.9 318.3h0M733.3 328.9h0M675.9 298.5h0M713.9 331.4h0M663.5 270h0M718.3 289.8h0M651.7 253.7h0M733.2 304.6h0M699.7 340h0M655.9 261.1h0M691.4 277.6h0M664.8 268.7h0M734 342.2h0M678.1 247.3h0M714.1 338.3h0M672.1 269.7h0M694.1 275.9h0M688.8 240.1h0M672.2 257.1h0M705.4 265.6h0M708.9 288.6h0M691.7 277.5h0M689.8 325.1h0M689.8 297.5h0M666.8 297.8h0M646.5 287.9h0M655 280h0M738.4 336.5h0M696.4 322.5h0M659.7 249.3h0M648.9 340.3h0M674.1 306.5h0M711 276.4h0M666.8 298.7h0M717.1 336.3h0M654.9 307.7h0M685.6 275.7h0M662.4 288.5h0M750.5 329.6h0M660.1 273.1h0M707.2 293.2h0M683.4 260.5h0M706.6 318.4h0M710.4 337.1h0M718.3 310.7h0M688.5 284.3h0M718.3 294.6h0M670.6 316.3h0M668.6 322h0M667 310.4h0M670.9 309.1h0M666 306.7h0M672.6 307.7h0M664.9 313.5h0M666 318.9h0M664.5 311.5h0M674 305.8h0M671.8 319.6h0M665.1 316.8h0M657.8 315.1h0M666.8 312.4h0M673.4 325.3h0M664.1 310.3h0M664.9 312.1h0M670.7 316.5h0M673.1 311.6h0M669.2 323.1h0M660.5 315.3h0M669.5 312.9h0" fill="none" stroke="#1a1ac8" stroke-width="3" stroke-linecap="round" stroke-opacity="0.8"/>
<path d="M669.1 253.9h0M701.3 261.1h0M675.9 284.6h0M734 303.7h0M731 325.1h0M671.9 329.8h0M696.5 319.5h0M732.1 324.2h0M671.5 287.6h0M669.6 263.5h0M714.1 341h0M659.6 325.1h0M734.1 307h0M661.5 282.7h0M684.5 315.4h0M659.1 342.9h0M709 316.1h0M667.1 304.7h0M662 311.9h0M656.4 262.4h0M651.8 307.5h0M703.9 296.7h0M648.6 285.5h0M644.7 345.8h0M676.1 241.4h0M682.4 264.4h0M648.5 280.9h0M695.8 297.9h0M680 269.3h0M690.9 252.8h0M676.9 279.9h0M648 251.9h0M683 285.7h0M657.8 238.5h0M670.9 331.7h0M684.2 275.3h0M700 337.4h0M676.4 341.9h0M676.3 247.4h0M655.9 315.3h0M737.1 346h0M675.5 320.3h0M647.5 266h0M679.9 339.2h0M696.2 266.2h0M655.4 301.6h0M677.3 333.6h0M650.1 292.1h0M671.9 290.5h0M692.5 320.1h0M719.4 284.1h0M655.1 336.7h0M671.9 252.4h0M650.4 307.3h0M709.7 293.2h0M727.3 332.6h0M685.2 326h0M728.3 344.5h0M666.2 343.2h0M653.9 250.2h0M669.2 299.1h0M650.2 305.1h0M699.9 294.3h0M674.5 300.5h0M674.4 315.3h0M661.6 330.6h0M679.9 277.3h0M644.6 333.8h0M653.8 248.9h0M729.8 326.4h0M660.6 335.8h0M646.5 277.1h0M655.8 318.1h0M690.3 269.1h0M703.8 281.3h0M701.8 319h0M670.2 284.9h0M681.8 317.9h0M693.5 329.6h0M650.5 281.5h0M730.3 317.4h0M704.7 283.7h0M648.6 313.5h0M692.2 316.2h0M709.9 281.4h0M722.6 291.9h0M729.3 315.8h0M646.2 299.1h0M675.9 313.1h0M697.3 303.2h0M656.9 315.8h0M647.3 305.5h0M721.4 333.9h0M716.9 345.5h0M659.7 305.9h0M659.4 264h0M652.7 316h0M699.2 256.3h0M691.7 263.4h0M716.2 326.1h0M672.7 315.7h0M659.2 332.9h0M691.7 245.6h0M656.1 277.4h0M710.6 309.7h0M708.1 340.6h0M652.4 301h0M665.5 258.9h0M666.9 251.2h0M679.6 324.1h0M660.8 319.1h0M726.8 310.7h0M671 331.6h0M699.5 260.3h0M654.7 344.8h0M650.4 261.7h0M682.5 334.5h0M651.3 283.8h0M657.5 334.5h0M655.7 260.3h0M680.1 256.2h0M654.1 308.8h0M687.1 258.5h0M717.3 342.1h0M683.6 282.7h0M711.3 276.4h0M706.4 282.8h0M696.7 294.2h0M666.4 299.2h0M684.5 269h0M680.5 331.3h0M672.5 257.7h0M660.1 263.1h0M653.9 299.9h0M669.9 245.5h0M688.7 256.6h0M666.2 320h0M702.4 284.6h0M653 283.7h0M709.8 281.1h0M675.8 334.7h0M736.3 317h0M727 328.4h0M708.8 332.3h0M700.9 282.8h0M653.3 260.5h0M736 320h0M675.7 284.1h0M695.7 292.7h0M679.9 332.2h0M644.8 249.6h0M676 270.2h0M722.9 300.7h0M692.2 312.6h0M679.4 246.3h0M663.2 242.2h0M671.7 247.1h0M710.9 313.1h0M719.7 339.7h0M671.2 338.6h0M647.1 301.6h0M660.4 306.5h0M655.4 298.6h0M698.3 280.2h0M671.3 329.3h0M661.3 244.1h0M672.3 327.8h0M669.7 300.9h0M663.4 317.1h0M667.9 313h0M664.5 319.8h0M666.3 309.3h0M667.7 318.1h0M665.3 306.2h0M667.6 318.7h0M664.5 304.4h0M666.5 302.1h0M676.7 319.9h0M659.5 315h0M668.5 316.9h0M671.8 313.2h0M668.3 316.6h0M666.3 313.4h0M671.1 314.4h0M667.6 317.9h0M662.1 310.1h0M668.8 319h0M670 321.9h0M667 321.5h0M669.5 316.9h0M674 319.5h0M668.4 324.7h0M673.4 323.9h0M674.1 317.1h0M661.5 312.2h0M668.8 314.3h0M674.6 318.6h0M671.4 322.7h0M673 314.7h0M661.8 326.3h0M664.9 319.2h0M666 330.8h0M673.3 314.4h0M669.4 314.3h0M670.4 317.7h0" fill="none" stroke="#2020d8" stroke-width="2.2" stroke-linecap="round" stroke-opacity="0.75"/>
<path d="M645.9 267.8h0M732.8 318.4h0M704.8 284.4h0M678 250.7h0M658.8 311.1h0M666.1 294.5h0M658.4 291h0M739.2 324.7h0M706.6 301.9h0M680.9 269.9h0M657.4 270.6h0M680.2 291.6h0M672.1 301.5h0M738.2 344.9h0M721.3 310h0M710.8 328.7h0M656.1 271.3h0M670.9 329.8h0M697.6 294.3h0M744.1 326.2h0M722.1 302.4h0M716.3 336.6h0M679.1 270.4h0M685.8 260.9h0M738.9 309.2h0M689.5 264.4h0M654.8 308.4h0M706 283.4h0M704.7 306h0M684.7 240.2h0M703.8 258.3h0M690.5 299.3h0M670 250.3h0M671 288.5h0M720.5 299.8h0M694 261.5h0M670.2 285.6h0M694.4 315.2h0M739.4 320.5h0M661 300h0M649.4 271h0M652 304.1h0M645.5 340.2h0M723.9 318.3h0M675.9 298.5h0M663.5 270h0M651.7 253.7h0M699.7 340h0M691.4 277.6h0M734 342.2h0M714.1 338.3h0M694.1 275.9h0M672.2 257.1h0M708.9 288.6h0M689.8 325.1h0M666.8 297.8h0M655 280h0M696.4 322.5h0M648.9 340.3h0M711 276.4h0M717.1 336.3h0M685.6 275.7h0M750.5 329.6h0M707.2 293.2h0M706.6 318.4h0M718.3 310.7h0M718.3 294.6h0M668.6 322h0M670.9 309.1h0M672.6 307.7h0M666 318.9h0M674 305.8h0M665.1 316.8h0M666.8 312.4h0M664.1 310.3h0M670.7 316.5h0M669.2 323.1h0M669.5 312.9h0" fill="none" stroke="#3a3aff" stroke-width="1.5" stroke-linecap="round" stroke-opacity="0.8"/>
<path d="M669.7 300.9h0M670.6 316.3h0M663.4 317.1h0M668.6 322h0M667 310.4h0M667.9 313h0M664.5 319.8h0M670.9 309.1h0M666 306.7h0M666.3 309.3h0M667.7 318.1h0M672.6 307.7h0M665.3 306.2h0M667.6 318.7h0M664.9 313.5h0M664.5 304.4h0M666 318.9h0M666.5 302.1h0M664.5 311.5h0M674 305.8h0M676.7 319.9h0M671.8 319.6h0M659.5 315h0M668.5 316.9h0M671.8 313.2h0M665.1 316.8h0M668.3 316.6h0M666.3 313.4h0M657.8 315.1h0M671.1 314.4h0M667.6 317.9h0M666.8 312.4h0M673.4 325.3h0M662.1 310.1h0M668.8 319h0M664.1 310.3h0M670 321.9h0M664.9 312.1h0M667 321.5h0M669.5 316.9h0M674 319.5h0M668.4 324.7h0M673.4 323.9h0M674.1 317.1h0M661.5 312.2h0M668.8 314.3h0M670.7 316.5h0M674.6 318.6h0M671.4 322.7h0M673.1 311.6h0M673 314.7h0M661.8 326.3h0M669.2 323.1h0M664.9 319.2h0M666 330.8h0M673.3 314.4h0M660.5 315.3h0M669.4 314.3h0M669.5 312.9h0M670.4 317.7h0" fill="none" stroke="#2626e0" stroke-width="3" stroke-linecap="round" stroke-opacity="0.85"/>
</g>
<path d="M693.4 240L720.7 276.6L749.1 316" fill="none" stroke="#9a2c1e" stroke-width="1.9" stroke-dasharray="1.9 2.2" stroke-opacity="1"/>
<path d="M669.9 240L744.9 343.5" fill="none" stroke="#f0f0e4" stroke-width="1.1" stroke-dasharray="2 2.1"/>
<rect x="654" y="334.2" width="24.6" height="2.8" fill="#fff" stroke="none" stroke-width="1"/>
</g>
<clipPath id="cpd10"><rect x="331.3" y="346.2" width="103" height="104.5"/></clipPath>
<rect x="331.3" y="346.2" width="103" height="104.5" fill="#000" stroke="none" stroke-width="1"/>
<g clip-path="url(#cpd10)">
<g filter="url(#db1)">
<path d="M422.8 399.7h0M423.3 398h0" fill="none" stroke="#28c848" stroke-width="3.4" stroke-linecap="round" stroke-opacity="0.9"/>
<path d="M423.1 398.7h0" fill="none" stroke="#70f090" stroke-width="1.6" stroke-linecap="round" stroke-opacity="1"/>
</g>
<path d="M386.7 346.2L397.3 358.2L408.3 372.7L422.3 389.2L429.3 400.2L433.3 408.7" fill="none" stroke="#8c1c20" stroke-width="1.9" stroke-dasharray="1.9 2.2" stroke-opacity="1"/>
<path d="M358.3 346.2L434.3 445.7" fill="none" stroke="#f0f0e4" stroke-width="1.1" stroke-dasharray="2 2.1"/>
<rect x="338.9" y="440.5" width="24.6" height="2.8" fill="#fff" stroke="none" stroke-width="1"/>
</g>
<clipPath id="cpd11"><rect x="436.4" y="346.2" width="103" height="104.5"/></clipPath>
<rect x="436.4" y="346.2" width="103" height="104.5" fill="#000" stroke="none" stroke-width="1"/>
<g clip-path="url(#cpd11)">
<polygon points="434.4,344.2 492.4,346.2 497.1,350.2 501.9,354.2 506.1,358.2 510.2,362.2 514.5,366.2 518.6,370.2 521.7,374.2 524.7,378.2 527.3,382.2 529.8,386.2 532.3,390.2 534.7,394.2 537.2,398.2 539.6,402.2 542.1,406.2 544.5,410.2 547,414.2 549.4,418.2 551.9,422.2 554.3,426.2 556.7,430.2 559.2,434.2 561.6,438.2 564.1,442.2 566.5,446.2 569,450.2 571.4,454.2 546.4,454.2 546.4,456.2 434.4,456.2" fill="#08220a" filter="url(#db3)"/>
<g filter="url(#db2)">
<path d="M516.3 380.1h0M460.4 431.7h0M447.9 395.7h0M492.2 409.8h0M450.9 411.8h0M486.5 434.7h0M439.2 445.7h0M453.7 430.8h0M487.1 433.1h0M454.7 379.6h0M445.1 427.2h0M489.8 367.5h0M455.6 354.6h0M456.4 404.5h0M480.2 419.4h0M444 433.5h0M534.6 423.1h0M510.7 434.6h0M445.9 394.2h0M444.3 427.5h0M490.2 357.3h0M480.9 427h0M491.6 358.8h0M520.7 447.5h0M511.5 444.6h0M489.5 369h0M483.6 423h0M513.3 386.2h0M486 350.3h0M472.2 449.1h0M448.2 448.7h0M526.9 417.8h0M442 395.2h0M466.2 355.7h0M520.8 441.4h0M528.8 424.3h0M494 352.7h0M484.5 425.3h0M437.2 355.4h0M475.4 395.7h0M462.6 426.5h0M445 363.3h0M438.9 445.9h0M459.7 398.4h0M474.3 448.3h0M507.6 408.7h0M485.4 374.1h0M498.6 376.9h0M464 393.4h0M455.3 407.8h0M443.5 348.2h0M450.5 355.6h0M524.2 399.3h0M504.3 427.2h0M452.9 445.1h0M474.8 394.1h0M485.2 418.5h0M519.2 390.7h0M461.5 436.1h0M523.6 435.4h0M468.7 441.2h0M514 447.1h0" fill="none" stroke="#020a02" stroke-width="8" stroke-linecap="round" stroke-opacity="0.8"/>
</g>
<g filter="url(#db2)">
<path d="M511.9 450.2h0M484.2 424.1h0M486.8 387.8h0M444.3 416.4h0M450.9 383.6h0M492.5 416.6h0M442.1 348.5h0M508.5 407.2h0M500.3 431.8h0M463.5 362.9h0M488 411.1h0M481.8 410.7h0M476.9 448.2h0M436.9 349.5h0M514.9 430.2h0M518.2 443.6h0M499.7 432h0M490.7 415.7h0M443.4 403.5h0M484.6 402.5h0M494.1 443.9h0M475.1 414.8h0M497.8 449.6h0M467.1 415.7h0M470.4 413.2h0M455.5 398.3h0M471.9 369.7h0M452.2 415.9h0M481.1 377.7h0" fill="none" stroke="#1a4a14" stroke-width="6" stroke-linecap="round" stroke-opacity="0.4"/>
</g>
<ellipse cx="454.4" cy="434.2" rx="42" ry="34" fill="#000" opacity="0.55" filter="url(#db5)"/>
<g filter="url(#db2)">
<path d="M534 422.2h0M487.1 367.6h0M494.9 384.1h0M492.7 355.1h0M501.7 377.7h0M512.8 398.6h0M514.6 399.3h0M492.3 371.2h0M497 355.5h0M505 378.7h0M538.4 414.4h0M529 395.9h0M524.2 402.4h0M533.8 426.9h0M496.8 382.4h0M485.4 363.6h0M510.9 397.3h0M507.6 401.5h0M503.4 368.7h0M513.3 394.6h0M537.7 416.1h0M508.9 367.4h0M507.4 392.6h0M525.3 413.3h0M506.8 383.6h0M520.7 406.8h0M527.4 393.9h0M515.8 380.8h0M503.4 396.2h0M536.4 439h0M509.5 395.2h0M485.8 353.8h0M490.1 358.2h0M511.3 369.3h0M508.6 391.9h0M471.2 352.8h0M484.1 351.7h0M499.3 371.3h0M501 390.6h0M538.8 422.4h0M519.4 402h0M486 362.9h0M518 414.2h0M478.5 348.6h0M512.7 378.9h0M510.3 364.8h0M492.8 374.4h0M501.4 358.5h0M505.3 393.4h0M527.1 392.9h0M505.7 369.7h0M508.2 395.7h0M482.4 365.3h0M481.4 355.6h0M512 368.1h0M499.6 354.2h0M534.8 421.3h0M530.1 428.2h0M507.6 392.8h0M492.8 366.7h0M494.6 364.2h0M534.3 408.2h0M519.4 406.6h0M499.9 374.7h0M469.7 350.5h0M516.3 374.1h0M516.7 387.5h0M534.3 426.1h0M539.8 429.3h0M523.6 401.8h0" fill="none" stroke="#1d7a1d" stroke-width="6.8" stroke-linecap="round" stroke-opacity="0.5"/>
</g>
<g filter="url(#db3)">
</g>
<g filter="url(#db4)">
<path d="M519.6 418.4h0M504 395.8h0M501.4 368.6h0M478.8 365h0M519.7 415.4h0M513.8 376.7h0M498.9 372.4h0M506.1 379.4h0M514.9 381.8h0M521.2 397.2h0M517.6 397.1h0M522.6 389h0M530.8 391.3h0M539.3 435.5h0M539.5 415.8h0M502.1 386.6h0M510.2 378.6h0M523.2 418.3h0M527.5 401.8h0M515.8 385.4h0M500.9 354.8h0M484.3 369.1h0M490.7 346.3h0M514.7 391.3h0M487.7 352.2h0M507.2 387.7h0M513.2 382.4h0M529.1 418.9h0M532 421.3h0M480.1 358.3h0M507.8 370.6h0M531.3 402.3h0M527.8 424.3h0M471.2 351.2h0M495.3 370.9h0M520.9 405.6h0M533.4 419.9h0M492.1 374.5h0M483.3 350.8h0M539.9 431.3h0M477.2 346.5h0M517.2 410.6h0M538.3 426.1h0M507.3 373.7h0M497.3 368.7h0M524.5 398.3h0M527.9 413.4h0M490.1 351.2h0M516 397.8h0M535.2 425.2h0" fill="none" stroke="#34d844" stroke-width="3.6" stroke-linecap="round" stroke-opacity="0.9"/>
<path d="M493.2 364.2h0M532.7 397.8h0M539.5 445h0M494.7 354.3h0M537.7 425.4h0M523.5 379.8h0M477.7 351.1h0M504.7 358.5h0M525.7 391.5h0M539.2 406.7h0M476.4 350.5h0M540.4 437h0M496.9 382.9h0M531.6 396.6h0M511.5 395.8h0M514.8 376h0M533.3 429.6h0M539.9 426.3h0M473.1 352.4h0M473.6 351.2h0M477.2 354.3h0M490.6 364.1h0M501 389.8h0M492 366.1h0M510.2 380.9h0M493.6 349.5h0M517.1 379.4h0M485.5 361h0M500.7 369.8h0M496 359.1h0" fill="none" stroke="#48e858" stroke-width="2.6" stroke-linecap="round" stroke-opacity="0.85"/>
<path d="M487.6 401.5h0M466.7 375.8h0M521.9 444.4h0M496.5 414.9h0M520.3 450h0M456.7 355.7h0M535 443.4h0M526.7 440.4h0M522.4 443h0M470 361.6h0M460.1 366.3h0M460.8 357h0M502.2 410.4h0M489.6 392.4h0M518.8 430.4h0M444.4 350.4h0M511.3 427h0M500.9 401h0M493.7 394.1h0M500.7 415.7h0M506.8 408.4h0M474 385.5h0M520.4 428.2h0M518 431.3h0M495.1 404.5h0M458.2 365h0M488.9 395.2h0M492.1 384h0M494.7 390h0M518 445.6h0M506.3 402.7h0M532.5 444.2h0M479.7 393.7h0M509.3 417h0M538.2 448.6h0" fill="none" stroke="#2a9a3a" stroke-width="2.6" stroke-linecap="round" stroke-opacity="0.8"/>
</g>
<path d="M493.4 346.2L504.2 355.3L512.9 363.9L518.7 369L525.9 378.4L533.1 389.9L539.4 400.2" fill="none" stroke="#b03048" stroke-width="1.9" stroke-dasharray="1.9 2.2" stroke-opacity="1"/>
<path d="M463.1 346.2Q501.5 395.3 539.4 448" fill="none" stroke="#f0f0e4" stroke-width="1.1" stroke-dasharray="2 2.1"/>
<rect x="444" y="440.5" width="24.6" height="2.8" fill="#fff" stroke="none" stroke-width="1"/>
</g>
<clipPath id="cpd12"><rect x="541.3" y="346.2" width="103" height="104.5"/></clipPath>
<rect x="541.3" y="346.2" width="103" height="104.5" fill="#000" stroke="none" stroke-width="1"/>
<g clip-path="url(#cpd12)">
<g filter="url(#db1)">
<path d="M557.3 386.2h0" fill="none" stroke="#40e040" stroke-width="2.4" stroke-linecap="round" stroke-opacity="0.9"/>
<path d="M566.3 377.2h0M574.3 366.2h0M555.3 400.2h0M586.3 431.2h0M585.3 436.2h0M624.3 403.2h0M605.3 442.2h0" fill="none" stroke="#2a8a2a" stroke-width="1.6" stroke-linecap="round" stroke-opacity="0.8"/>
</g>
<path d="M612.8 346.2L629.3 377.7L643.8 408.2" fill="none" stroke="#8c1c20" stroke-width="1.9" stroke-dasharray="1.9 2.2" stroke-opacity="1"/>
<path d="M589.3 346.2Q620.1 395.5 643.6 449.2" fill="none" stroke="#f0f0e4" stroke-width="1.1" stroke-dasharray="2 2.1"/>
<rect x="548.9" y="440.5" width="24.6" height="2.8" fill="#fff" stroke="none" stroke-width="1"/>
</g>
<clipPath id="cpd13"><rect x="646.4" y="346.2" width="103" height="104.5"/></clipPath>
<rect x="646.4" y="346.2" width="103" height="104.5" fill="#000" stroke="none" stroke-width="1"/>
<g clip-path="url(#cpd13)">
<g filter="url(#db1)">
<path d="M655.5 432.7h0M689.6 386.7h0M701.6 414.6h0M704.9 415.9h0M697.9 427.8h0M672.5 378.2h0M709.6 379.8h0M686.7 443.6h0M672.9 390.3h0M675 386h0M699.6 393h0M654.3 414.7h0M666.8 384.3h0M650.5 432.4h0M674.7 415h0M681.6 434.7h0M653.9 417.5h0M705 391.8h0M678.5 395.8h0M671.1 440.2h0M664.7 425.1h0M652.4 428.3h0M654.8 428.8h0M653.8 386.9h0M667.1 391.8h0M701.5 408h0M652.5 384.5h0M677.5 423.1h0" fill="none" stroke="#1c5a1c" stroke-width="1.6" stroke-linecap="round" stroke-opacity="0.5"/>
</g>
<path d="M693.4 346.2L720.7 382.8L749.1 422.2" fill="none" stroke="#8c1c20" stroke-width="1.9" stroke-dasharray="1.9 2.2" stroke-opacity="1"/>
<path d="M669.9 346.2L744.9 449.7" fill="none" stroke="#f0f0e4" stroke-width="1.1" stroke-dasharray="2 2.1"/>
<rect x="654" y="440.5" width="24.6" height="2.8" fill="#fff" stroke="none" stroke-width="1"/>
</g>
<clipPath id="cpd20"><rect x="331.3" y="452.4" width="103" height="104.1"/></clipPath>
<rect x="331.3" y="452.4" width="103" height="104.1" fill="#000" stroke="none" stroke-width="1"/>
<g clip-path="url(#cpd20)">
<polygon points="329.3,450.4 384.7,452.4 388.2,456.4 391.8,460.4 395.3,464.4 398.3,468.4 401.4,472.4 404.4,476.4 407.6,480.4 411,484.4 414.4,488.4 417.8,492.4 420.9,496.4 423.5,500.4 426,504.4 428.2,508.4 430.1,512.4 432,516.4 433.9,520.4 435.8,524.4 437.7,528.4 439.5,532.4 441.4,536.4 443.3,540.4 445.2,544.4 447.1,548.4 448.9,552.4 450.8,556.4 452.7,560.4 441.3,560.4 441.3,562.4 329.3,562.4" fill="#010118" opacity="1" filter="url(#db3)" style="mix-blend-mode:screen"/>
<g filter="url(#db2)" opacity="1" style="mix-blend-mode:screen">
<path d="M390.4 496.7h0M385 485.8h0M378.2 524.5h0M343.6 552h0M376 457.4h0M373.5 454.4h0M347.1 537.6h0M346.9 520.5h0M375.8 450.9h0M377.2 513.3h0M385.5 548.7h0M391.9 508.6h0M373.7 454.2h0M381.2 499.9h0M425.4 525.8h0M402.8 519.8h0M421.2 528h0M366.7 459h0M408.9 525.5h0M396.4 473h0M336.8 496.1h0M380.3 502.2h0M420 540.7h0M394.6 480.9h0M409 553.1h0M420 512.4h0M364.3 455.5h0M347.6 467.4h0M406.6 556.9h0M350.1 497.2h0M334.8 484h0M393.3 496.7h0M409.8 501h0M391.5 495.8h0M340.7 528.3h0M366.3 548.4h0M397.5 501.6h0M421.6 507.8h0M365.5 549.6h0M355.7 516.8h0M335.2 533.6h0M396.1 547.8h0M396.4 503.2h0M348.1 500.2h0M415.6 537.9h0M394.4 520.2h0M374.1 543.1h0M394.5 499.2h0M378.3 523.2h0M399.8 540.5h0M368.5 499.6h0M355.1 467.3h0M432 557h0M343.2 521.3h0M351.5 486.5h0M341.7 541h0M337.2 491.3h0M390.4 547.5h0M405.4 525.5h0M409.5 548.6h0M389.7 540.4h0M332.3 500.8h0M354.9 506h0M412.6 525.8h0M406.6 489.2h0M381 492.9h0M388.1 549.6h0M355.5 520.3h0M418.6 502.4h0M399.6 530.2h0M387.2 515.7h0M364.4 543.4h0M374.4 506.2h0M410.3 508.2h0M404.3 550.2h0M393.1 494.5h0M425.2 521.6h0M391 489.3h0M357.2 557.9h0M369.6 500.5h0M346.3 547.7h0M335.8 482.3h0M420 520.3h0M383 521.4h0M381.8 539.9h0M391.6 501.2h0M339 542.7h0M392.6 525.5h0M412.5 511.6h0M414.9 554.9h0M344.6 520.9h0M331 543.6h0M422.2 540.5h0M408.7 503.2h0M351.1 531.9h0M334.3 457.7h0M334 475h0M370.8 510.5h0M333.1 485.7h0M409.1 527.4h0M369.9 521.5h0M420 528.5h0M382.8 558h0M392.1 497.6h0M346.2 554.4h0M354.4 457.7h0M387.3 542.1h0M369.7 479.1h0M422.3 511.9h0M344.7 528.7h0M404.5 533.1h0M363.6 477.4h0M364 542h0M408.1 533.8h0M379.4 465.6h0M382.3 456.6h0M378.9 463.1h0M376.5 555.9h0M346.9 480.1h0M379.3 509.4h0M366.1 543.8h0M405 528.7h0M331.2 541.3h0M428.9 557.1h0M413.7 541.6h0M418.9 497.4h0M337.5 555h0" fill="none" stroke="#0c0c98" stroke-width="6.4" stroke-linecap="round" stroke-opacity="0.26"/>
</g>
<g filter="url(#db4)" opacity="1" style="mix-blend-mode:screen">
<path d="M390.4 496.7h0M421.3 515.5h0M334 450.8h0M361.7 489.9h0M391.8 541.6h0M346 474.6h0M382.4 538.7h0M399.7 508h0M347.1 537.6h0M395.3 469.7h0M417.2 534.4h0M377.2 513.3h0M401.3 476.5h0M385.5 548.7h0M381.7 500.2h0M381.7 468.3h0M329.6 508.2h0M377.9 557.6h0M377.1 528.8h0M421.2 528h0M366.7 459h0M339.6 558.4h0M422.5 520.8h0M331 485.8h0M349.2 468.6h0M433.6 544.3h0M331 472.1h0M385.2 537.9h0M411.1 553.5h0M394.1 543.8h0M366.5 466.1h0M406.6 556.9h0M348 539.4h0M345.6 551.1h0M349.4 518.9h0M348.2 519.1h0M347.8 545.4h0M371.2 460.6h0M340.7 528.3h0M362.6 481.7h0M398.8 546.7h0M366.3 548.4h0M346.2 523.5h0M397.5 501.6h0M352.6 488.8h0M331.1 540.8h0M407.1 489.1h0M355.7 516.8h0M391.8 495.6h0M329.9 453.4h0M335.2 533.6h0M369.6 500h0M365.2 454.1h0M405.2 489.8h0M348.1 500.2h0M345.7 458.9h0M342.2 526.6h0M415.6 537.9h0M386.6 473.5h0M362 525.1h0M374.1 543.1h0M369.3 522.7h0M378.3 523.2h0M343 557.5h0M427.4 528.5h0M368.5 499.6h0M349.9 553.2h0M370.2 543.6h0M432 557h0M378.1 542.7h0M347.6 491.9h0M351.5 486.5h0M367.3 450.9h0M405.7 500h0M378.8 545.1h0M417.8 509.9h0M371.4 452.9h0M405.4 525.5h0M409.5 548.6h0M361.8 475.7h0M362.2 533.3h0M332.3 500.8h0M333.9 476.9h0M357 467.1h0M354.9 506h0M380 533.1h0M366.8 510h0M393.2 482.2h0M391.5 509.7h0M430.4 542.2h0M381.6 556h0M355.5 520.3h0M418.6 502.4h0M407.3 506.9h0M413.8 525h0M425.7 544.5h0M364.4 543.4h0M374.4 506.2h0M359 526h0M419.9 538.3h0M404.3 550.2h0M380.2 457.6h0M391 489.3h0M364.9 457.9h0M360.6 488h0M340.3 477.7h0M410.5 532.9h0M367.9 545.6h0M346.3 547.7h0M427.7 532.4h0M362.2 555.9h0M420 520.3h0M335.3 486.5h0M381.8 539.9h0M386.7 550.8h0M369.2 546.8h0M348.8 539.7h0M339 542.7h0M350 547.5h0M349.4 456.3h0M383.7 550.1h0M362.6 512.7h0M334.4 553.5h0M344.6 520.9h0M420.9 502.2h0M390.1 542.5h0M331 543.6h0M403.9 480.2h0M330.2 466.2h0M343.4 479.8h0M408.7 503.2h0M395.3 512.3h0M416.3 501.4h0M405 482h0M334.3 457.7h0M341.2 542.1h0M361 477.8h0M370.8 510.5h0M336.8 540.4h0M409.1 527.4h0M387.6 545.8h0M420 528.5h0M400.2 482.1h0M366.4 518.1h0M401.4 482.8h0M369.9 526.1h0M368.1 462h0M349.3 549.8h0M354.4 457.7h0M401.1 538.9h0M411.1 532.9h0M399.9 485.4h0M375.3 452.5h0M393.3 487.6h0M376.3 557h0M413.3 506.2h0M398.8 523.3h0M335.8 502.1h0M405.3 549h0M346.9 480.1h0M375.4 482.5h0M405 528.7h0M353.6 483.2h0M340.4 494.7h0M412 528.9h0M364.9 504.7h0M346.2 492.2h0M337.5 555h0M344.3 528h0" fill="none" stroke="#1a1ac8" stroke-width="3" stroke-linecap="round" stroke-opacity="0.8"/>
<path d="M391.2 472.7h0M416.3 539.3h0M385 485.8h0M356 553.3h0M378.2 524.5h0M411.5 556.5h0M343.6 552h0M362.9 509.7h0M376 457.4h0M373.5 454.4h0M342.1 499.6h0M346.9 520.5h0M380.7 487.9h0M375.8 450.9h0M405.5 486.2h0M363.5 459h0M371.1 544.3h0M372.2 495.8h0M391.9 508.6h0M376.5 555h0M373.7 454.2h0M381.2 499.9h0M376 504.5h0M425.4 525.8h0M374.6 520.5h0M354.7 517.3h0M402.8 519.8h0M392.3 540h0M380.5 537.6h0M334.2 549h0M411.4 554.3h0M350.1 472.8h0M408.9 525.5h0M385.2 496.1h0M368.3 518.1h0M396.4 473h0M394.5 544.9h0M336.8 496.1h0M338.8 456.4h0M396.6 480.9h0M380.3 502.2h0M403.1 528.1h0M432.5 557.6h0M420 540.7h0M363.8 530.4h0M394.6 480.9h0M339.5 535.8h0M409 553.1h0M420 512.4h0M364.3 455.5h0M389.8 543.3h0M371.8 515.3h0M347.6 467.4h0M389.1 499.9h0M350.1 497.2h0M334.8 484h0M367.9 470.4h0M393.3 496.7h0M366.3 471.5h0M346.7 494.2h0M409.8 501h0M412.5 545.3h0M391.5 495.8h0M384.2 546.5h0M395.6 516h0M391 493.5h0M421.6 507.8h0M337.3 538h0M365.5 549.6h0M351.3 481.6h0M370.5 452h0M375.7 521.9h0M396.1 547.8h0M396.4 503.2h0M336.8 479.1h0M375.1 505.5h0M405.6 518.9h0M394.4 520.2h0M341.7 482.8h0M394.5 499.2h0M425.5 539.5h0M345.3 519.7h0M427.1 528.3h0M399.8 540.5h0M339 457.7h0M362.6 531.3h0M355.1 467.3h0M393.3 524.5h0M386.6 531.3h0M420.7 514.3h0M343.2 521.3h0M341.7 541h0M375.3 460.4h0M337.2 491.3h0M337.9 451.2h0M390.4 547.5h0M338.4 552.4h0M361.3 521.3h0M379.3 483h0M369.3 467.7h0M389.7 540.4h0M332.8 468.2h0M412.6 525.8h0M335.3 502.5h0M406.6 489.2h0M363.7 471.9h0M381 492.9h0M381.9 545h0M388.1 549.6h0M408.9 521.5h0M347.5 494.1h0M354 526.3h0M405.5 531.9h0M415.7 537h0M399.6 530.2h0M406.3 519.3h0M387.2 515.7h0M424.1 513.3h0M372.1 505.3h0M339.2 456.8h0M410.3 508.2h0M424.5 519.3h0M410 499h0M342 494h0M393.1 494.5h0M345.8 544h0M425.2 521.6h0M335 497.7h0M386.6 530.6h0M392.7 500.6h0M357.2 557.9h0M369.6 500.5h0M402.2 522.8h0M334.7 532.7h0M335.8 482.3h0M413 523.9h0M390.7 479.2h0M383 521.4h0M365.5 515.2h0M391.6 501.2h0M358.6 487.1h0M376 469.6h0M392.6 525.5h0M347.1 451.4h0M412.5 511.6h0M331.1 510.6h0M414.9 554.9h0M390.8 513.4h0M422.2 540.5h0M329.7 473.4h0M351.1 531.9h0M367 496.6h0M334 475h0M374.2 455.8h0M329.4 474.9h0M333.1 485.7h0M363.7 467.5h0M426.8 530.3h0M335 512.4h0M369.9 521.5h0M387.6 539.1h0M371.1 549.6h0M382.8 558h0M373.6 551.2h0M392.1 497.6h0M331.6 457.4h0M346.2 554.4h0M357.3 558h0M387.3 542.1h0M350.3 536.4h0M369.7 479.1h0M425.1 511.5h0M422.3 511.9h0M397.3 510.1h0M423.9 503.5h0M344.7 528.7h0M358.6 462.4h0M374.2 521.2h0M404.5 533.1h0M419.5 547.1h0M363.6 477.4h0M364 542h0M371.3 452.8h0M355.1 520.1h0M408.1 533.8h0M412.3 527.4h0M379.4 465.6h0M401.2 519.7h0M411.8 520.3h0M382.3 456.6h0M343.7 475.8h0M378.9 463.1h0M404.2 544.6h0M376.5 555.9h0M341.2 519.6h0M349.5 508.7h0M350.7 498.6h0M379.3 509.4h0M329.6 507.2h0M366.1 543.8h0M418.4 533.2h0M371.9 457.3h0M414 523.7h0M331.2 541.3h0M379.6 547.9h0M366.9 543.8h0M428.9 557.1h0M413.7 524.6h0M413.7 541.6h0M418.9 497.4h0M376.1 504.4h0" fill="none" stroke="#2020d8" stroke-width="2.2" stroke-linecap="round" stroke-opacity="0.75"/>
<path d="M390.4 496.7h0M334 450.8h0M391.8 541.6h0M382.4 538.7h0M347.1 537.6h0M417.2 534.4h0M401.3 476.5h0M381.7 500.2h0M329.6 508.2h0M377.1 528.8h0M366.7 459h0M422.5 520.8h0M349.2 468.6h0M331 472.1h0M411.1 553.5h0M366.5 466.1h0M348 539.4h0M349.4 518.9h0M347.8 545.4h0M340.7 528.3h0M398.8 546.7h0M346.2 523.5h0M352.6 488.8h0M407.1 489.1h0M391.8 495.6h0M335.2 533.6h0M365.2 454.1h0M348.1 500.2h0M342.2 526.6h0M386.6 473.5h0M374.1 543.1h0M378.3 523.2h0M427.4 528.5h0M349.9 553.2h0M432 557h0M347.6 491.9h0M367.3 450.9h0M378.8 545.1h0M371.4 452.9h0M409.5 548.6h0M362.2 533.3h0M333.9 476.9h0M354.9 506h0M366.8 510h0M391.5 509.7h0M381.6 556h0M418.6 502.4h0M413.8 525h0M364.4 543.4h0M359 526h0M404.3 550.2h0M391 489.3h0M360.6 488h0M410.5 532.9h0M346.3 547.7h0M362.2 555.9h0M335.3 486.5h0M386.7 550.8h0M348.8 539.7h0M350 547.5h0M383.7 550.1h0M334.4 553.5h0M420.9 502.2h0M331 543.6h0M330.2 466.2h0M408.7 503.2h0M416.3 501.4h0M334.3 457.7h0M361 477.8h0M336.8 540.4h0M387.6 545.8h0M400.2 482.1h0M401.4 482.8h0M368.1 462h0M354.4 457.7h0M411.1 532.9h0M375.3 452.5h0M376.3 557h0M398.8 523.3h0M405.3 549h0M375.4 482.5h0M353.6 483.2h0M412 528.9h0M346.2 492.2h0M344.3 528h0" fill="none" stroke="#3a3aff" stroke-width="1.5" stroke-linecap="round" stroke-opacity="0.8"/>
</g>
<g filter="url(#db1)">
<path d="M422.8 505.9h0M423.3 504.2h0" fill="none" stroke="#28c848" stroke-width="3.4" stroke-linecap="round" stroke-opacity="0.9"/>
<path d="M423.1 504.9h0" fill="none" stroke="#70f090" stroke-width="1.6" stroke-linecap="round" stroke-opacity="1"/>
</g>
<path d="M386.7 452.4L397.3 464.4L408.3 478.9L422.3 495.4L429.3 506.4L433.3 514.9" fill="none" stroke="#9a2c1e" stroke-width="1.9" stroke-dasharray="1.9 2.2" stroke-opacity="1"/>
<path d="M358.3 452.4L434.3 551.9" fill="none" stroke="#f0f0e4" stroke-width="1.1" stroke-dasharray="2 2.1"/>
<rect x="338.9" y="546.3" width="24.6" height="2.8" fill="#fff" stroke="none" stroke-width="1"/>
</g>
<clipPath id="cpd21"><rect x="436.4" y="452.4" width="103" height="104.1"/></clipPath>
<rect x="436.4" y="452.4" width="103" height="104.1" fill="#000" stroke="none" stroke-width="1"/>
<g clip-path="url(#cpd21)">
<polygon points="434.4,450.4 492.4,452.4 497.1,456.4 501.9,460.4 506.1,464.4 510.2,468.4 514.5,472.4 518.6,476.4 521.7,480.4 524.7,484.4 527.3,488.4 529.8,492.4 532.3,496.4 534.7,500.4 537.2,504.4 539.6,508.4 542.1,512.4 544.5,516.4 547,520.4 549.4,524.4 551.9,528.4 554.3,532.4 556.7,536.4 559.2,540.4 561.6,544.4 564.1,548.4 566.5,552.4 569,556.4 571.4,560.4 546.4,560.4 546.4,562.4 434.4,562.4" fill="#08220a" filter="url(#db3)"/>
<g filter="url(#db2)">
<path d="M516.3 486.3h0M460.4 537.9h0M447.9 501.9h0M492.2 516h0M450.9 518h0M486.5 540.9h0M439.2 551.9h0M453.7 537h0M487.1 539.3h0M454.7 485.8h0M445.1 533.4h0M489.8 473.7h0M455.6 460.8h0M456.4 510.7h0M480.2 525.6h0M444 539.7h0M534.6 529.3h0M510.7 540.8h0M445.9 500.4h0M444.3 533.7h0M490.2 463.5h0M480.9 533.2h0M491.6 465h0M520.7 553.7h0M511.5 550.8h0M489.5 475.2h0M483.6 529.2h0M513.3 492.4h0M486 456.5h0M472.2 555.3h0M448.2 554.9h0M526.9 524h0M442 501.4h0M466.2 461.9h0M520.8 547.6h0M528.8 530.5h0M494 458.9h0M484.5 531.5h0M437.2 461.6h0M475.4 501.9h0M462.6 532.7h0M445 469.5h0M438.9 552.1h0M459.7 504.6h0M474.3 554.5h0M507.6 514.9h0M485.4 480.3h0M498.6 483.1h0M464 499.6h0M455.3 514h0M443.5 454.4h0M450.5 461.8h0M524.2 505.5h0M504.3 533.4h0M452.9 551.3h0M474.8 500.3h0M485.2 524.7h0M519.2 496.9h0M461.5 542.3h0M523.6 541.6h0M468.7 547.4h0M514 553.3h0" fill="none" stroke="#020a02" stroke-width="8" stroke-linecap="round" stroke-opacity="0.8"/>
</g>
<g filter="url(#db2)">
<path d="M511.9 556.4h0M484.2 530.3h0M486.8 494h0M444.3 522.6h0M450.9 489.8h0M492.5 522.8h0M442.1 454.7h0M508.5 513.4h0M500.3 538h0M463.5 469.1h0M488 517.3h0M481.8 516.9h0M476.9 554.4h0M436.9 455.7h0M514.9 536.4h0M518.2 549.8h0M499.7 538.2h0M490.7 521.9h0M443.4 509.7h0M484.6 508.7h0M494.1 550.1h0M475.1 521h0M497.8 555.8h0M467.1 521.9h0M470.4 519.4h0M455.5 504.5h0M471.9 475.9h0M452.2 522.1h0M481.1 483.9h0" fill="none" stroke="#1a4a14" stroke-width="6" stroke-linecap="round" stroke-opacity="0.4"/>
</g>
<ellipse cx="454.4" cy="540.4" rx="42" ry="34" fill="#000" opacity="0.55" filter="url(#db5)"/>
<g filter="url(#db2)">
<path d="M534 528.4h0M487.1 473.8h0M494.9 490.3h0M492.7 461.3h0M501.7 483.9h0M512.8 504.8h0M514.6 505.5h0M492.3 477.4h0M497 461.7h0M505 484.9h0M538.4 520.6h0M529 502.1h0M524.2 508.6h0M533.8 533.1h0M496.8 488.6h0M485.4 469.8h0M510.9 503.5h0M507.6 507.7h0M503.4 474.9h0M513.3 500.8h0M537.7 522.3h0M508.9 473.6h0M507.4 498.8h0M525.3 519.5h0M506.8 489.8h0M520.7 513h0M527.4 500.1h0M515.8 487h0M503.4 502.4h0M536.4 545.2h0M509.5 501.4h0M485.8 460h0M490.1 464.4h0M511.3 475.5h0M508.6 498.1h0M471.2 459h0M484.1 457.9h0M499.3 477.5h0M501 496.8h0M538.8 528.6h0M519.4 508.2h0M486 469.1h0M518 520.4h0M478.5 454.8h0M512.7 485.1h0M510.3 471h0M492.8 480.6h0M501.4 464.7h0M505.3 499.6h0M527.1 499.1h0M505.7 475.9h0M508.2 501.9h0M482.4 471.5h0M481.4 461.8h0M512 474.3h0M499.6 460.4h0M534.8 527.5h0M530.1 534.4h0M507.6 499h0M492.8 472.9h0M494.6 470.4h0M534.3 514.4h0M519.4 512.8h0M499.9 480.9h0M469.7 456.7h0M516.3 480.3h0M516.7 493.7h0M534.3 532.3h0M539.8 535.5h0M523.6 508h0" fill="none" stroke="#1d7a1d" stroke-width="6.8" stroke-linecap="round" stroke-opacity="0.5"/>
</g>
<g filter="url(#db3)">
</g>
<polygon points="434.4,450.4 491.4,452.4 496.1,456.4 500.9,460.4 505.1,464.4 509.2,468.4 513.5,472.4 517.6,476.4 520.7,480.4 523.7,484.4 526.3,488.4 528.8,492.4 531.3,496.4 533.7,500.4 536.2,504.4 538.6,508.4 541.1,512.4 543.5,516.4 546,520.4 548.4,524.4 550.9,528.4 553.3,532.4 555.7,536.4 558.2,540.4 560.6,544.4 563.1,548.4 565.5,552.4 568,556.4 570.4,560.4 546.4,560.4 546.4,562.4 434.4,562.4" fill="#010118" opacity="0.9" filter="url(#db3)" style="mix-blend-mode:screen"/>
<g filter="url(#db2)" opacity="0.9" style="mix-blend-mode:screen">
<path d="M482.8 510.9h0M501.8 536h0M539.5 554.6h0M490.9 456.8h0M481.5 541.4h0M483.3 480.4h0M468.1 475.2h0M525 492.1h0M531.8 501.2h0M537.6 532.3h0M494.2 498.7h0M520.4 483.2h0M469.6 482.4h0M450.9 548.5h0M528.8 515.6h0M525.6 516.7h0M463.2 498.5h0M448.5 489.5h0M449.4 454.2h0M492.8 530h0M507.7 547.7h0M495.7 517.9h0M528.5 529h0M498.7 502.3h0M435.6 482.9h0M469.4 522.3h0M510.5 553h0M457.3 495.1h0M442.4 453.8h0M436.4 465.1h0M501.7 498.6h0M453.5 451.6h0M471.4 525.7h0M519.1 548.3h0M504.1 472.5h0M531.8 542.8h0M516.6 503h0M452.9 486.6h0M508.2 552.5h0M490.8 481.7h0M491.7 504.7h0M492 495.1h0M454.9 517.1h0M472.4 517.3h0M461.2 471.8h0M491 467.7h0M525.5 516.5h0M457.7 558.2h0M523.4 495.9h0M507.4 548.8h0M454.6 458h0M495.3 466.2h0M441 553.2h0M489.5 496.8h0M513.5 494.2h0M520.2 526.5h0M488.4 556.5h0M477.8 547.2h0M477.8 528.4h0M459.2 552.4h0M491.4 492.5h0M477.4 455.8h0M531.3 509.8h0M502.7 537.8h0M487.4 516.4h0M504.5 510.9h0M460.6 455h0M485.5 555.5h0M484.5 556.1h0M490.9 463.8h0M496.7 495.7h0M459.9 462.7h0M463.5 524.4h0M532.4 545.3h0M442.2 459.7h0M485.6 473.1h0M479.8 478.3h0M473.9 460.9h0M507.7 482.7h0M512 525.3h0M495.3 549.6h0M467 484.7h0M473.5 489.6h0M494.6 469.5h0M489.6 509.2h0M441.3 509.5h0M514.2 520.5h0M516.2 493h0M491.9 528.3h0M505.7 542.6h0M520.2 495.9h0M467.4 462.8h0M438.3 462.1h0M498 474.6h0" fill="none" stroke="#0c0c98" stroke-width="6.4" stroke-linecap="round" stroke-opacity="0.26"/>
</g>
<g filter="url(#db4)" opacity="0.9" style="mix-blend-mode:screen">
<path d="M488.7 513.8h0M539.5 554.6h0M504.4 516.9h0M451.3 452h0M454.8 476.5h0M481.5 541.4h0M489.9 519.6h0M487.9 521.9h0M541.1 557.9h0M468.1 475.2h0M516.4 493.6h0M525 492.1h0M536.9 541.9h0M434.5 473h0M531.8 501.2h0M445.2 456.9h0M494.2 498.7h0M479.4 473.4h0M463.3 555.3h0M476.6 542.7h0M442.3 460.1h0M496.8 476.6h0M454.7 530.3h0M528.8 515.6h0M509.8 478.2h0M458.8 510.8h0M525.6 516.7h0M464.4 549.5h0M440.9 469.4h0M449.4 454.2h0M530.7 530h0M509.7 536.1h0M507.7 547.7h0M527.6 495.5h0M502.8 557.7h0M459 525.8h0M487.6 516.8h0M469.4 522.3h0M520.6 549.1h0M482.6 480.1h0M457.3 495.1h0M442.4 453.8h0M510.2 512h0M467.5 535.9h0M483.1 453.1h0M501.7 498.6h0M501.8 521.1h0M520.8 553.9h0M453.6 479.8h0M471.4 525.7h0M519.1 548.3h0M531.8 542.8h0M471.7 459.3h0M441.3 536.8h0M450.3 506.2h0M487.1 552.9h0M443.6 474.3h0M490.8 481.7h0M475.2 541.7h0M495.7 472.1h0M491.7 504.7h0M477.3 536.9h0M494.6 503.4h0M492 495.1h0M455.2 474.9h0M445.6 529.3h0M461.2 471.8h0M491 467.7h0M456.3 518.6h0M525.5 516.5h0M513.7 537.9h0M468.1 550.1h0M462.2 460.9h0M477.5 524.4h0M493.4 506h0M495.3 466.2h0M524.3 557.4h0M483.8 533h0M509.4 541.6h0M513.5 494.2h0M477.7 515.2h0M531.9 530.8h0M477.8 547.2h0M528.5 525.4h0M516.5 533h0M477.8 528.4h0M502.7 517.8h0M459.2 552.4h0M505.7 486.9h0M505 511.9h0M455.3 491h0M444.9 477.5h0M531.3 509.8h0M484.9 468.7h0M479.4 507.3h0M530.4 531.2h0M439.8 557.2h0M485.5 555.5h0M490.9 463.8h0M481.8 522.5h0M483.1 478.7h0M496.7 495.7h0M459.9 462.7h0M529.9 535.1h0M463.5 524.4h0M461 556.2h0M506.8 509.9h0M501.9 490.7h0M485.6 473.1h0M479.8 478.3h0M521.1 490.2h0M504.3 557.2h0M473.9 460.9h0M443.1 483.2h0M464.7 465.8h0M495.3 549.6h0M481.3 537.1h0M476.7 492.3h0M495.1 554.8h0M441.3 509.5h0M502.3 465.9h0M460.7 474.2h0M516.2 493h0M470.5 555h0M506.3 503.7h0M491.9 528.3h0M520.6 540.5h0M479.9 481.9h0M438.3 462.1h0M454.1 473.9h0" fill="none" stroke="#1a1ac8" stroke-width="3" stroke-linecap="round" stroke-opacity="0.8"/>
<path d="M482.8 510.9h0M454.2 505.7h0M501.8 536h0M444.5 483.2h0M444.1 537.8h0M490.9 456.8h0M437.6 500.5h0M483.3 480.4h0M524.3 526.8h0M465.3 458h0M476.9 458.3h0M443.7 486.3h0M537.6 532.3h0M447 477h0M520.4 483.2h0M462 533.9h0M469.6 482.4h0M450.9 548.5h0M455.4 553h0M456.2 452.2h0M463.2 498.5h0M473.9 512.2h0M448.5 489.5h0M539.3 521.3h0M508.4 513.5h0M502.5 502.5h0M512.6 484.8h0M492.8 530h0M519 543.7h0M495.7 517.9h0M475.3 513.3h0M528.5 529h0M476 529.8h0M496.6 498h0M498.7 502.3h0M435.6 482.9h0M531.3 521.7h0M481.7 546.7h0M455.6 496.9h0M510.5 553h0M464 468.7h0M501.4 503.7h0M468.1 541h0M436.4 465.1h0M449.5 455.5h0M453.5 451.6h0M484.9 527.5h0M490.1 516.8h0M515.3 492.9h0M443.7 551.1h0M482.9 518h0M504.1 472.5h0M511.6 538.8h0M530.7 556.3h0M481.6 509.8h0M516.6 503h0M437.4 537.8h0M452.9 486.6h0M511.8 541.1h0M508.2 552.5h0M536.8 550.1h0M463.2 501.5h0M454.9 517.1h0M507.9 485.2h0M472.4 517.3h0M447.5 505.5h0M491.1 497.6h0M474.6 495h0M502.7 507.6h0M457.7 558.2h0M460 528.9h0M523.4 495.9h0M436.3 472.1h0M507.4 548.8h0M488.5 532.3h0M488.2 524.5h0M454.6 458h0M445.8 454.4h0M454.1 472.4h0M441 553.2h0M469.4 500.8h0M489.5 496.8h0M453.8 499.4h0M455.3 468.2h0M489.2 452.1h0M520.2 526.5h0M526.5 518.4h0M488.4 556.5h0M517.6 538.4h0M441.9 487.3h0M491.4 492.5h0M541.4 519.8h0M509.4 532.7h0M477.4 455.8h0M488.7 554.9h0M495.2 557.9h0M502.7 537.8h0M442.6 514.9h0M487.4 516.4h0M440.7 552.5h0M504.5 510.9h0M464.7 527.8h0M466.1 451.9h0M460.6 455h0M460.5 506.9h0M534.7 528.5h0M484.5 556.1h0M501.2 499.6h0M456.2 456h0M517.6 507.7h0M536.3 529.7h0M501.3 489.2h0M494.8 514.3h0M532.4 545.3h0M479.9 517.7h0M445.4 508.9h0M442.2 459.7h0M471.2 530.8h0M447.2 537.8h0M442.8 459.4h0M494.8 502.8h0M507.7 482.7h0M457.2 521.9h0M512 525.3h0M472.7 528.8h0M535 549h0M467 484.7h0M477.2 551.3h0M461 489.5h0M473.5 489.6h0M455.3 511.3h0M494.6 469.5h0M515.6 545.5h0M464.5 452.8h0M489.6 509.2h0M504.1 537.3h0M443.1 530h0M514.2 520.5h0M516.3 506.7h0M510.2 549.2h0M478.3 539.6h0M505.7 542.6h0M490.5 527.1h0M520.2 495.9h0M452.3 472.5h0M467.4 462.8h0M441.1 499.9h0M496.9 548.6h0M459.6 527.9h0M498 474.6h0" fill="none" stroke="#2020d8" stroke-width="2.2" stroke-linecap="round" stroke-opacity="0.75"/>
<path d="M488.7 513.8h0M504.4 516.9h0M454.8 476.5h0M489.9 519.6h0M541.1 557.9h0M516.4 493.6h0M536.9 541.9h0M531.8 501.2h0M494.2 498.7h0M463.3 555.3h0M442.3 460.1h0M454.7 530.3h0M509.8 478.2h0M525.6 516.7h0M440.9 469.4h0M530.7 530h0M507.7 547.7h0M502.8 557.7h0M487.6 516.8h0M520.6 549.1h0M457.3 495.1h0M510.2 512h0M483.1 453.1h0M501.8 521.1h0M453.6 479.8h0M519.1 548.3h0M471.7 459.3h0M450.3 506.2h0M443.6 474.3h0M475.2 541.7h0M491.7 504.7h0M494.6 503.4h0M455.2 474.9h0M461.2 471.8h0M456.3 518.6h0M513.7 537.9h0M462.2 460.9h0M493.4 506h0M524.3 557.4h0M509.4 541.6h0M477.7 515.2h0M477.8 547.2h0M516.5 533h0M502.7 517.8h0M505.7 486.9h0M455.3 491h0M531.3 509.8h0M479.4 507.3h0M439.8 557.2h0M490.9 463.8h0M483.1 478.7h0M459.9 462.7h0M463.5 524.4h0M506.8 509.9h0M485.6 473.1h0M521.1 490.2h0M473.9 460.9h0M464.7 465.8h0M481.3 537.1h0M495.1 554.8h0M502.3 465.9h0M516.2 493h0M506.3 503.7h0M520.6 540.5h0M438.3 462.1h0" fill="none" stroke="#3a3aff" stroke-width="1.5" stroke-linecap="round" stroke-opacity="0.8"/>
</g>
<g filter="url(#db4)">
<path d="M519.6 524.6h0M504 502h0M501.4 474.8h0M478.8 471.2h0M519.7 521.6h0M513.8 482.9h0M498.9 478.6h0M506.1 485.6h0M514.9 488h0M521.2 503.4h0M517.6 503.3h0M522.6 495.2h0M530.8 497.5h0M539.3 541.7h0M539.5 522h0M502.1 492.8h0M510.2 484.8h0M523.2 524.5h0M527.5 508h0M515.8 491.6h0M500.9 461h0M484.3 475.3h0M490.7 452.5h0M514.7 497.5h0M487.7 458.4h0M507.2 493.9h0M513.2 488.6h0M529.1 525.1h0M532 527.5h0M480.1 464.5h0M507.8 476.8h0M531.3 508.5h0M527.8 530.5h0M471.2 457.4h0M495.3 477.1h0M520.9 511.8h0M533.4 526.1h0M492.1 480.7h0M483.3 457h0M539.9 537.5h0M477.2 452.7h0M517.2 516.8h0M538.3 532.3h0M507.3 479.9h0M497.3 474.9h0M524.5 504.5h0M527.9 519.6h0M490.1 457.4h0M516 504h0M535.2 531.4h0" fill="none" stroke="#38c878" stroke-width="3.6" stroke-linecap="round" stroke-opacity="0.8"/>
<path d="M493.2 470.4h0M532.7 504h0M539.5 551.2h0M494.7 460.5h0M537.7 531.6h0M523.5 486h0M477.7 457.3h0M504.7 464.7h0M525.7 497.7h0M539.2 512.9h0M476.4 456.7h0M540.4 543.2h0M496.9 489.1h0M531.6 502.8h0M511.5 502h0M514.8 482.2h0M533.3 535.8h0M539.9 532.5h0M473.1 458.6h0M473.6 457.4h0M477.2 460.5h0M490.6 470.3h0M501 496h0M492 472.3h0M510.2 487.1h0M493.6 455.7h0M517.1 485.6h0M485.5 467.2h0M500.7 476h0M496 465.3h0" fill="none" stroke="#48d8a0" stroke-width="2.6" stroke-linecap="round" stroke-opacity="0.8"/>
<path d="M487.6 507.7h0M466.7 482h0M521.9 550.6h0M496.5 521.1h0M520.3 556.2h0M456.7 461.9h0M535 549.6h0M526.7 546.6h0M522.4 549.2h0M470 467.8h0M460.1 472.5h0M460.8 463.2h0M502.2 516.6h0M489.6 498.6h0M518.8 536.6h0M444.4 456.6h0M511.3 533.2h0M500.9 507.2h0M493.7 500.3h0M500.7 521.9h0M506.8 514.6h0M474 491.7h0M520.4 534.4h0M518 537.5h0M495.1 510.7h0M458.2 471.2h0M488.9 501.4h0M492.1 490.2h0M494.7 496.2h0M518 551.8h0M506.3 508.9h0M532.5 550.4h0M479.7 499.9h0M509.3 523.2h0M538.2 554.8h0" fill="none" stroke="#40c0c0" stroke-width="2.6" stroke-linecap="round" stroke-opacity="0.8"/>
</g>
<path d="M493.4 452.4L504.2 461.5L512.9 470.1L518.7 475.2L525.9 484.6L533.1 496.1L539.4 506.4" fill="none" stroke="#9a2c1e" stroke-width="1.9" stroke-dasharray="1.9 2.2" stroke-opacity="1"/>
<path d="M463.1 452.4Q501.5 501.5 539.4 554.2" fill="none" stroke="#f0f0e4" stroke-width="1.1" stroke-dasharray="2 2.1"/>
<rect x="444" y="546.3" width="24.6" height="2.8" fill="#fff" stroke="none" stroke-width="1"/>
</g>
<clipPath id="cpd22"><rect x="541.3" y="452.4" width="103" height="104.1"/></clipPath>
<rect x="541.3" y="452.4" width="103" height="104.1" fill="#000" stroke="none" stroke-width="1"/>
<g clip-path="url(#cpd22)">
<polygon points="539.3,450.4 610.8,452.4 612.9,456.4 615,460.4 617.1,464.4 619.2,468.4 621.3,472.4 623.4,476.4 625.5,480.4 627.5,484.4 629.4,488.4 631.3,492.4 633.2,496.4 635.1,500.4 637,504.4 638.9,508.4 640.8,512.4 642.8,516.4 644.7,520.4 646.6,524.4 648.5,528.4 650.4,532.4 652.3,536.4 654.2,540.4 656.1,544.4 658,548.4 659.9,552.4 661.8,556.4 663.7,560.4 651.3,560.4 651.3,562.4 539.3,562.4" fill="#010118" opacity="0.8" filter="url(#db3)" style="mix-blend-mode:screen"/>
<g filter="url(#db2)" opacity="0.8" style="mix-blend-mode:screen">
<path d="M590.1 521.4h0M568.6 537.9h0M554.8 497.9h0M547.3 524.6h0M584.6 465h0M544.8 468.9h0M590.3 491.9h0M611.4 462.7h0M592.8 453.4h0M550.3 509.8h0M576.1 519.2h0M590.3 553.9h0M578.3 470.8h0M540.2 454.7h0M606.4 478.8h0M613.8 526.5h0M613.6 464.6h0M642.2 532.5h0M601.4 487.9h0M615.3 548h0M623.7 491.4h0M613 508.9h0M573.9 524.4h0M586.8 469.8h0M577.9 480.6h0M589 515.9h0M581.6 523.1h0M592.8 489.4h0M569.9 551.5h0M573.6 464h0M583.4 517.1h0M545 540.6h0M572 465.2h0M541.9 483.7h0M571 470.9h0M550.2 524.4h0M625 505h0M583.7 506.2h0M641.6 524.1h0M546 462.1h0M642.6 554.1h0M584.6 509.1h0M644.9 533h0M617.5 539.6h0M596.6 489.5h0M566.3 495.6h0M597.9 514.8h0M574.6 504.7h0M574.9 521.4h0M625.9 557.3h0M590.5 554h0M577.8 527.6h0M593 521.9h0M581.1 554.9h0M583.6 456h0M552.3 540.2h0M636.6 551h0M621.2 510h0M608.2 497.5h0M635.2 509.8h0M605.9 557.4h0M595.4 534.3h0M570 459.3h0M631.3 556h0M600.2 526.1h0M541.5 517.6h0M574.1 511.6h0M573.3 551h0M558.1 496.9h0M586.1 548.8h0M610 502.2h0M590.6 547.2h0M644.7 541.7h0M587.2 467.1h0M574.4 557.1h0M608.9 520.6h0M602.1 468.8h0M556.3 460h0M592.3 548.6h0M547.8 468h0M552.8 472h0M571.3 472.8h0M548.7 469.4h0M609.7 468.7h0" fill="none" stroke="#0c0c98" stroke-width="6.4" stroke-linecap="round" stroke-opacity="0.26"/>
</g>
<g filter="url(#db4)" opacity="0.8" style="mix-blend-mode:screen">
<path d="M590.1 521.4h0M540.5 490.9h0M599 521.8h0M545.6 538.8h0M556.8 525.7h0M544.8 468.9h0M626.6 493.7h0M643.8 522.1h0M564.4 489.6h0M592.8 453.4h0M558.4 525.6h0M543.2 480.3h0M576.1 519.2h0M590.8 553.6h0M557.2 550.2h0M619.4 548.9h0M575.9 476.5h0M541.9 485.2h0M640.6 547h0M599.2 517.9h0M601.4 487.9h0M572.7 551.3h0M565.6 494.3h0M573.9 524.4h0M586.8 469.8h0M610.7 487.3h0M560.8 497.1h0M562.9 549.6h0M588.5 542.7h0M596.9 532.6h0M581.6 523.1h0M617.7 485.2h0M592.8 489.4h0M572.2 465.1h0M544.2 537.2h0M569.9 551.5h0M603.4 492.4h0M632.7 547.3h0M573.6 464h0M604.4 535.1h0M583.4 517.1h0M567.5 494.3h0M561.2 477.9h0M632.8 539.1h0M556.8 527.7h0M571 470.9h0M559 484.1h0M550.2 524.4h0M607.1 492.4h0M583.7 506.2h0M615.8 480.5h0M619.2 553h0M548.6 515.9h0M644.9 533h0M603.5 522.7h0M641.2 530.9h0M566.3 495.6h0M597.9 514.8h0M601.1 491.3h0M572.5 488.7h0M588.5 469.1h0M625.9 557.3h0M588.4 551.6h0M593 521.9h0M583.6 456h0M572.2 467.5h0M563.7 543.3h0M636.6 551h0M595.8 490h0M559.5 548.7h0M596.4 548.3h0M608.2 497.5h0M541.6 503.8h0M635.2 509.8h0M624.5 507.4h0M562.8 494.4h0M624.9 531h0M611.8 544.3h0M552.5 455h0M603.8 464.9h0M610 480.9h0M574.1 511.6h0M573.3 551h0M610.1 526.7h0M561.2 463.5h0M558.1 496.9h0M586.1 548.8h0M573.2 456h0M644.7 541.7h0M611.8 514.2h0M558.1 517.8h0M642.3 549.1h0M608.9 520.6h0M554.7 508.9h0M557.2 485.4h0M592.3 548.6h0M547.8 468h0M543.7 540.2h0M552.8 472h0M558.9 457.1h0M586.3 549.9h0M629.2 508.3h0M548.7 469.4h0M575.1 554.1h0M609.7 468.7h0" fill="none" stroke="#1a1ac8" stroke-width="3" stroke-linecap="round" stroke-opacity="0.8"/>
<path d="M610.6 465.8h0M568.6 537.9h0M613.2 515.4h0M554.8 497.9h0M556.7 548.2h0M547.3 524.6h0M541.3 457h0M549 557h0M584.6 465h0M572.7 517.5h0M584.1 514.8h0M590.3 491.9h0M542.6 528.8h0M611.4 462.7h0M594 537.9h0M627.3 496.9h0M580.8 533.8h0M550.3 509.8h0M544.9 500h0M561.6 480.8h0M590.3 553.9h0M578.3 470.8h0M540.2 454.7h0M605.5 556.7h0M606.4 478.8h0M556.6 481.9h0M613.8 526.5h0M562.2 481.2h0M566.6 524.2h0M613.6 464.6h0M565.1 497.4h0M642.2 532.5h0M584 514h0M635.7 535.6h0M578.7 529.9h0M599.6 452.2h0M615.3 548h0M624.7 547.3h0M636.7 508.2h0M623.7 491.4h0M549.8 488.5h0M613 508.9h0M614.3 493h0M613.7 532.4h0M542.5 503.1h0M564.8 485.8h0M577.9 480.6h0M589 515.9h0M612.1 488.2h0M607.9 541.4h0M545 540.6h0M577.7 529.7h0M572 465.2h0M631.9 540.4h0M561.9 545.4h0M541.9 483.7h0M540.7 468.9h0M631.6 515.9h0M596.7 498.8h0M595.8 520.8h0M625 505h0M607.3 500.9h0M630.8 525h0M641.6 524.1h0M585 494.2h0M604.3 531.8h0M546 462.1h0M548.3 456.5h0M612.6 516.9h0M642.6 554.1h0M542.3 475h0M584.6 509.1h0M573.1 476.5h0M571.2 550.1h0M617.5 539.6h0M620.3 487.1h0M580.1 543.5h0M596.6 489.5h0M564 492h0M550.2 530h0M606.9 469.1h0M574.6 504.7h0M582.1 472.5h0M574.9 521.4h0M581.8 506.1h0M550.1 477.4h0M611.4 468.9h0M564.3 471.6h0M590.5 554h0M581.2 500.7h0M577.8 527.6h0M619.7 476.2h0M595.6 528.9h0M605.2 527.5h0M634.6 535.7h0M581.1 554.9h0M628.8 495.9h0M572.9 478.4h0M544.7 463h0M552.3 540.2h0M579.9 503.4h0M621.2 510h0M628.9 541h0M599.4 541.4h0M597.5 541.9h0M605.9 557.4h0M595.4 534.3h0M608.9 489.6h0M570 459.3h0M631.3 556h0M563.2 493.9h0M600.2 526.1h0M569.8 532h0M585.7 468.7h0M541.5 517.6h0M577.6 460.6h0M591.7 495.2h0M597 507.6h0M644.9 548.1h0M627 523.8h0M646.1 534.6h0M642 545.6h0M610 502.2h0M561.1 474.1h0M546.5 460.5h0M590.6 547.2h0M611.4 500.9h0M622.4 526.7h0M557.3 501.3h0M587.2 467.1h0M560.9 494.8h0M574.4 557.1h0M581.2 472h0M602.1 468.8h0M564.2 529.3h0M591.2 546.5h0M556.3 460h0M604.4 525.3h0M598.8 466.5h0M555 480.1h0M598.1 477.1h0M568.4 552.8h0M585.9 543.5h0M571.3 472.8h0M570.9 536.1h0" fill="none" stroke="#2020d8" stroke-width="2.2" stroke-linecap="round" stroke-opacity="0.75"/>
<path d="M590.1 521.4h0M599 521.8h0M556.8 525.7h0M626.6 493.7h0M564.4 489.6h0M558.4 525.6h0M576.1 519.2h0M557.2 550.2h0M575.9 476.5h0M640.6 547h0M601.4 487.9h0M565.6 494.3h0M586.8 469.8h0M560.8 497.1h0M588.5 542.7h0M581.6 523.1h0M592.8 489.4h0M544.2 537.2h0M603.4 492.4h0M573.6 464h0M583.4 517.1h0M561.2 477.9h0M556.8 527.7h0M559 484.1h0M607.1 492.4h0M615.8 480.5h0M548.6 515.9h0M603.5 522.7h0M566.3 495.6h0M601.1 491.3h0M588.5 469.1h0M588.4 551.6h0M583.6 456h0M563.7 543.3h0M595.8 490h0M596.4 548.3h0M541.6 503.8h0M624.5 507.4h0M624.9 531h0M552.5 455h0M610 480.9h0M573.3 551h0M561.2 463.5h0M586.1 548.8h0M644.7 541.7h0M558.1 517.8h0M608.9 520.6h0M557.2 485.4h0M547.8 468h0M552.8 472h0M586.3 549.9h0M548.7 469.4h0M609.7 468.7h0" fill="none" stroke="#3a3aff" stroke-width="1.5" stroke-linecap="round" stroke-opacity="0.8"/>
</g>
<g filter="url(#db1)">
<path d="M557.3 492.4h0" fill="none" stroke="#40e040" stroke-width="2.4" stroke-linecap="round" stroke-opacity="0.9"/>
<path d="M566.3 483.4h0M574.3 472.4h0M555.3 506.4h0M586.3 537.4h0M585.3 542.4h0M624.3 509.4h0M605.3 548.4h0" fill="none" stroke="#2a8a2a" stroke-width="1.6" stroke-linecap="round" stroke-opacity="0.8"/>
</g>
<path d="M612.8 452.4L629.3 483.9L643.8 514.4" fill="none" stroke="#9a2c1e" stroke-width="1.9" stroke-dasharray="1.9 2.2" stroke-opacity="1"/>
<path d="M589.3 452.4Q620.1 501.7 643.6 555.4" fill="none" stroke="#f0f0e4" stroke-width="1.1" stroke-dasharray="2 2.1"/>
<rect x="548.9" y="546.3" width="24.6" height="2.8" fill="#fff" stroke="none" stroke-width="1"/>
</g>
<clipPath id="cpd23"><rect x="646.4" y="452.4" width="103" height="104.1"/></clipPath>
<rect x="646.4" y="452.4" width="103" height="104.1" fill="#000" stroke="none" stroke-width="1"/>
<g clip-path="url(#cpd23)">
<polygon points="644.4,450.4 691.4,452.4 694.4,456.4 697.4,460.4 700.4,464.4 703.3,468.4 706.3,472.4 709.3,476.4 712.3,480.4 715.3,484.4 718.3,488.4 721.2,492.4 724,496.4 726.9,500.4 729.8,504.4 732.7,508.4 735.6,512.4 738.5,516.4 741.3,520.4 744.2,524.4 747.1,528.4 750,532.4 752.9,536.4 755.7,540.4 758.6,544.4 761.5,548.4 764.4,552.4 767.3,556.4 770.2,560.4 756.4,560.4 756.4,562.4 644.4,562.4" fill="#010118" opacity="0.8" filter="url(#db3)" style="mix-blend-mode:screen"/>
<g filter="url(#db2)" opacity="0.8" style="mix-blend-mode:screen">
<path d="M669.1 466.3h0M734 516.1h0M731 537.5h0M671.9 542.2h0M683.4 496.8h0M703.7 531.2h0M666.1 506.9h0M658.4 503.4h0M686.1 528h0M661.5 495.1h0M684.5 527.8h0M667.1 517.1h0M680.9 482.3h0M651.8 519.9h0M681.1 460.4h0M673.2 514.9h0M676.1 453.8h0M648.5 493.3h0M680 481.7h0M648 464.3h0M657.8 450.9h0M684.2 487.7h0M691.5 512.3h0M676.4 554.3h0M737.1 558.4h0M673.1 535.2h0M670.9 542.2h0M655.4 514h0M650.1 504.5h0M719.4 496.5h0M744.1 538.6h0M722.1 514.8h0M727.3 545h0M716.3 549h0M679.1 482.8h0M658.2 457.6h0M669.2 511.5h0M699.9 506.7h0M674.5 512.9h0M654.8 520.8h0M706 495.8h0M653.8 461.3h0M646.5 489.5h0M704.7 518.4h0M690.3 481.5h0M721.7 530.7h0M681.8 530.3h0M690.5 511.7h0M704.7 496.1h0M709.9 493.8h0M689.3 551.4h0M646.2 511.5h0M671 500.9h0M721.4 546.3h0M659.4 476.4h0M652.7 528.4h0M691.7 475.8h0M694 473.9h0M659.2 545.3h0M710.6 522.1h0M694.3 527.8h0M708.1 553h0M665.5 471.3h0M717.5 496.5h0M710.4 523.4h0M679.6 536.5h0M726.8 523.1h0M654.7 557.2h0M733.3 541.3h0M713.9 543.8h0M680.1 468.6h0M717.3 554.5h0M718.3 502.2h0M711.3 488.8h0M655.9 473.5h0M691.4 490h0M684.5 481.4h0M678.1 459.7h0M672.1 482.1h0M688.8 452.5h0M688.7 469h0M653 496.1h0M705.4 478h0M691.7 489.9h0M700.9 495.2h0M736 532.4h0M679.9 544.6h0M646.5 500.3h0M722.9 513.1h0M738.4 548.9h0M648.9 552.7h0M666.8 511.1h0M671.7 459.5h0M654.9 520.1h0M647.1 514h0M750.5 542h0M655.4 511h0M706.6 530.8h0M661.3 456.5h0M688.5 496.7h0M669.7 513.3h0M668.6 534.4h0M664.5 532.2h0M666.3 521.7h0M665.3 518.6h0M664.5 516.8h0M664.5 523.9h0M671.8 532h0M671.8 525.6h0M666.3 525.8h0M667.6 530.3h0M662.1 522.5h0M670 534.3h0M669.5 529.3h0M673.4 536.3h0M668.8 526.7h0M671.4 535.1h0M661.8 538.7h0M666 543.2h0M669.4 526.7h0" fill="none" stroke="#0c0c98" stroke-width="6.4" stroke-linecap="round" stroke-opacity="0.26"/>
</g>
<g filter="url(#db4)" opacity="0.8" style="mix-blend-mode:screen">
<path d="M645.9 480.2h0M660.1 544.5h0M732.8 530.8h0M746 536.1h0M704.8 496.8h0M683.4 496.8h0M678 463.1h0M703.7 531.2h0M658.8 523.5h0M691.8 469.5h0M666.1 506.9h0M709.2 493.1h0M658.4 503.4h0M686.1 528h0M739.2 537.1h0M666.1 542.6h0M706.6 514.3h0M682.9 529h0M680.9 482.3h0M681.1 460.4h0M657.4 483h0M673.2 514.9h0M680.2 504h0M695.1 522.7h0M672.1 513.9h0M653.7 532.3h0M738.2 557.3h0M660.4 502.1h0M721.3 522.4h0M691.5 512.3h0M710.8 541.1h0M656.7 465.2h0M656.1 483.7h0M673.1 535.2h0M670.9 542.2h0M664.8 512.3h0M697.6 506.7h0M742.2 530.4h0M744.1 538.6h0M733.3 524h0M722.1 514.8h0M697.8 512.2h0M716.3 549h0M667.5 466.1h0M679.1 482.8h0M658.2 457.6h0M685.8 473.3h0M661.4 452.1h0M738.9 521.6h0M720 496.5h0M689.5 476.8h0M703.7 548.3h0M654.8 520.8h0M677.1 461.5h0M706 495.8h0M724.8 531h0M704.7 518.4h0M745.3 536.7h0M684.7 452.6h0M721.7 530.7h0M703.8 470.7h0M661.5 533.7h0M690.5 511.7h0M729.7 519.4h0M670 462.7h0M689.3 551.4h0M671 500.9h0M700.4 535.4h0M720.5 512.2h0M677.4 499.1h0M694 473.9h0M673.9 508.5h0M670.2 498h0M705.3 545.4h0M694.4 527.6h0M694.3 527.8h0M739.4 532.9h0M736.2 544.8h0M661 512.4h0M706.3 491.9h0M649.4 483.4h0M717.5 496.5h0M652 516.5h0M710.4 523.4h0M645.5 552.6h0M646.6 468.3h0M723.9 530.7h0M733.3 541.3h0M675.9 510.9h0M713.9 543.8h0M663.5 482.4h0M718.3 502.2h0M651.7 466.1h0M733.2 517h0M699.7 552.4h0M655.9 473.5h0M691.4 490h0M664.8 481.1h0M734 554.6h0M678.1 459.7h0M714.1 550.7h0M672.1 482.1h0M694.1 488.3h0M688.8 452.5h0M672.2 469.5h0M705.4 478h0M708.9 501h0M691.7 489.9h0M689.8 537.5h0M689.8 509.9h0M666.8 510.2h0M646.5 500.3h0M655 492.4h0M738.4 548.9h0M696.4 534.9h0M659.7 461.7h0M648.9 552.7h0M674.1 518.9h0M711 488.8h0M666.8 511.1h0M717.1 548.7h0M654.9 520.1h0M685.6 488.1h0M662.4 500.9h0M750.5 542h0M660.1 485.5h0M707.2 505.6h0M683.4 472.9h0M706.6 530.8h0M710.4 549.5h0M718.3 523.1h0M688.5 496.7h0M718.3 507h0M670.6 528.7h0M668.6 534.4h0M667 522.8h0M670.9 521.5h0M666 519.1h0M672.6 520.1h0M664.9 525.9h0M666 531.3h0M664.5 523.9h0M674 518.2h0M671.8 532h0M665.1 529.2h0M657.8 527.5h0M666.8 524.8h0M673.4 537.7h0M664.1 522.7h0M664.9 524.5h0M670.7 528.9h0M673.1 524h0M669.2 535.5h0M660.5 527.7h0M669.5 525.3h0" fill="none" stroke="#1a1ac8" stroke-width="3" stroke-linecap="round" stroke-opacity="0.8"/>
<path d="M669.1 466.3h0M701.3 473.5h0M675.9 497h0M734 516.1h0M731 537.5h0M671.9 542.2h0M696.5 531.9h0M732.1 536.6h0M671.5 500h0M669.6 475.9h0M714.1 553.4h0M659.6 537.5h0M734.1 519.4h0M661.5 495.1h0M684.5 527.8h0M659.1 555.3h0M709 528.5h0M667.1 517.1h0M662 524.3h0M656.4 474.8h0M651.8 519.9h0M703.9 509.1h0M648.6 497.9h0M644.7 558.2h0M676.1 453.8h0M682.4 476.8h0M648.5 493.3h0M695.8 510.3h0M680 481.7h0M690.9 465.2h0M676.9 492.3h0M648 464.3h0M683 498.1h0M657.8 450.9h0M670.9 544.1h0M684.2 487.7h0M700 549.8h0M676.4 554.3h0M676.3 459.8h0M655.9 527.7h0M737.1 558.4h0M675.5 532.7h0M647.5 478.4h0M679.9 551.6h0M696.2 478.6h0M655.4 514h0M677.3 546h0M650.1 504.5h0M671.9 502.9h0M692.5 532.5h0M719.4 496.5h0M655.1 549.1h0M671.9 464.8h0M650.4 519.7h0M709.7 505.6h0M727.3 545h0M685.2 538.4h0M728.3 556.9h0M666.2 555.6h0M653.9 462.6h0M669.2 511.5h0M650.2 517.5h0M699.9 506.7h0M674.5 512.9h0M674.4 527.7h0M661.6 543h0M679.9 489.7h0M644.6 546.2h0M653.8 461.3h0M729.8 538.8h0M660.6 548.2h0M646.5 489.5h0M655.8 530.5h0M690.3 481.5h0M703.8 493.7h0M701.8 531.4h0M670.2 497.3h0M681.8 530.3h0M693.5 542h0M650.5 493.9h0M730.3 529.8h0M704.7 496.1h0M648.6 525.9h0M692.2 528.6h0M709.9 493.8h0M722.6 504.3h0M729.3 528.2h0M646.2 511.5h0M675.9 525.5h0M697.3 515.6h0M656.9 528.2h0M647.3 517.9h0M721.4 546.3h0M716.9 557.9h0M659.7 518.3h0M659.4 476.4h0M652.7 528.4h0M699.2 468.7h0M691.7 475.8h0M716.2 538.5h0M672.7 528.1h0M659.2 545.3h0M691.7 458h0M656.1 489.8h0M710.6 522.1h0M708.1 553h0M652.4 513.4h0M665.5 471.3h0M666.9 463.6h0M679.6 536.5h0M660.8 531.5h0M726.8 523.1h0M671 544h0M699.5 472.7h0M654.7 557.2h0M650.4 474.1h0M682.5 546.9h0M651.3 496.2h0M657.5 546.9h0M655.7 472.7h0M680.1 468.6h0M654.1 521.2h0M687.1 470.9h0M717.3 554.5h0M683.6 495.1h0M711.3 488.8h0M706.4 495.2h0M696.7 506.6h0M666.4 511.6h0M684.5 481.4h0M680.5 543.7h0M672.5 470.1h0M660.1 475.5h0M653.9 512.3h0M669.9 457.9h0M688.7 469h0M666.2 532.4h0M702.4 497h0M653 496.1h0M709.8 493.5h0M675.8 547.1h0M736.3 529.4h0M727 540.8h0M708.8 544.7h0M700.9 495.2h0M653.3 472.9h0M736 532.4h0M675.7 496.5h0M695.7 505.1h0M679.9 544.6h0M644.8 462h0M676 482.6h0M722.9 513.1h0M692.2 525h0M679.4 458.7h0M663.2 454.6h0M671.7 459.5h0M710.9 525.5h0M719.7 552.1h0M671.2 551h0M647.1 514h0M660.4 518.9h0M655.4 511h0M698.3 492.6h0M671.3 541.7h0M661.3 456.5h0M672.3 540.2h0M669.7 513.3h0M663.4 529.5h0M667.9 525.4h0M664.5 532.2h0M666.3 521.7h0M667.7 530.5h0M665.3 518.6h0M667.6 531.1h0M664.5 516.8h0M666.5 514.5h0M676.7 532.3h0M659.5 527.4h0M668.5 529.3h0M671.8 525.6h0M668.3 529h0M666.3 525.8h0M671.1 526.8h0M667.6 530.3h0M662.1 522.5h0M668.8 531.4h0M670 534.3h0M667 533.9h0M669.5 529.3h0M674 531.9h0M668.4 537.1h0M673.4 536.3h0M674.1 529.5h0M661.5 524.6h0M668.8 526.7h0M674.6 531h0M671.4 535.1h0M673 527.1h0M661.8 538.7h0M664.9 531.6h0M666 543.2h0M673.3 526.8h0M669.4 526.7h0M670.4 530.1h0" fill="none" stroke="#2020d8" stroke-width="2.2" stroke-linecap="round" stroke-opacity="0.75"/>
<path d="M645.9 480.2h0M732.8 530.8h0M704.8 496.8h0M678 463.1h0M658.8 523.5h0M666.1 506.9h0M658.4 503.4h0M739.2 537.1h0M706.6 514.3h0M680.9 482.3h0M657.4 483h0M680.2 504h0M672.1 513.9h0M738.2 557.3h0M721.3 522.4h0M710.8 541.1h0M656.1 483.7h0M670.9 542.2h0M697.6 506.7h0M744.1 538.6h0M722.1 514.8h0M716.3 549h0M679.1 482.8h0M685.8 473.3h0M738.9 521.6h0M689.5 476.8h0M654.8 520.8h0M706 495.8h0M704.7 518.4h0M684.7 452.6h0M703.8 470.7h0M690.5 511.7h0M670 462.7h0M671 500.9h0M720.5 512.2h0M694 473.9h0M670.2 498h0M694.4 527.6h0M739.4 532.9h0M661 512.4h0M649.4 483.4h0M652 516.5h0M645.5 552.6h0M723.9 530.7h0M675.9 510.9h0M663.5 482.4h0M651.7 466.1h0M699.7 552.4h0M691.4 490h0M734 554.6h0M714.1 550.7h0M694.1 488.3h0M672.2 469.5h0M708.9 501h0M689.8 537.5h0M666.8 510.2h0M655 492.4h0M696.4 534.9h0M648.9 552.7h0M711 488.8h0M717.1 548.7h0M685.6 488.1h0M750.5 542h0M707.2 505.6h0M706.6 530.8h0M718.3 523.1h0M718.3 507h0M668.6 534.4h0M670.9 521.5h0M672.6 520.1h0M666 531.3h0M674 518.2h0M665.1 529.2h0M666.8 524.8h0M664.1 522.7h0M670.7 528.9h0M669.2 535.5h0M669.5 525.3h0" fill="none" stroke="#3a3aff" stroke-width="1.5" stroke-linecap="round" stroke-opacity="0.8"/>
<path d="M669.7 513.3h0M670.6 528.7h0M663.4 529.5h0M668.6 534.4h0M667 522.8h0M667.9 525.4h0M664.5 532.2h0M670.9 521.5h0M666 519.1h0M666.3 521.7h0M667.7 530.5h0M672.6 520.1h0M665.3 518.6h0M667.6 531.1h0M664.9 525.9h0M664.5 516.8h0M666 531.3h0M666.5 514.5h0M664.5 523.9h0M674 518.2h0M676.7 532.3h0M671.8 532h0M659.5 527.4h0M668.5 529.3h0M671.8 525.6h0M665.1 529.2h0M668.3 529h0M666.3 525.8h0M657.8 527.5h0M671.1 526.8h0M667.6 530.3h0M666.8 524.8h0M673.4 537.7h0M662.1 522.5h0M668.8 531.4h0M664.1 522.7h0M670 534.3h0M664.9 524.5h0M667 533.9h0M669.5 529.3h0M674 531.9h0M668.4 537.1h0M673.4 536.3h0M674.1 529.5h0M661.5 524.6h0M668.8 526.7h0M670.7 528.9h0M674.6 531h0M671.4 535.1h0M673.1 524h0M673 527.1h0M661.8 538.7h0M669.2 535.5h0M664.9 531.6h0M666 543.2h0M673.3 526.8h0M660.5 527.7h0M669.4 526.7h0M669.5 525.3h0M670.4 530.1h0" fill="none" stroke="#2626e0" stroke-width="3" stroke-linecap="round" stroke-opacity="0.85"/>
</g>
<g filter="url(#db1)">
<path d="M655.5 538.9h0M689.6 492.9h0M701.6 520.8h0M704.9 522.1h0M697.9 534h0M672.5 484.4h0M709.6 486h0M686.7 549.8h0M672.9 496.5h0M675 492.2h0M699.6 499.2h0M654.3 520.9h0M666.8 490.5h0M650.5 538.6h0M674.7 521.2h0M681.6 540.9h0M653.9 523.7h0M705 498h0M678.5 502h0M671.1 546.4h0M664.7 531.3h0M652.4 534.5h0M654.8 535h0M653.8 493.1h0M667.1 498h0M701.5 514.2h0M652.5 490.7h0M677.5 529.3h0" fill="none" stroke="#1c5a1c" stroke-width="1.6" stroke-linecap="round" stroke-opacity="0.5"/>
</g>
<path d="M693.4 452.4L720.7 489L749.1 528.4" fill="none" stroke="#9a2c1e" stroke-width="1.9" stroke-dasharray="1.9 2.2" stroke-opacity="1"/>
<path d="M669.9 452.4L744.9 555.9" fill="none" stroke="#f0f0e4" stroke-width="1.1" stroke-dasharray="2 2.1"/>
<rect x="654" y="546.3" width="24.6" height="2.8" fill="#fff" stroke="none" stroke-width="1"/>
</g>
<text x="22.2" y="376.4" font-size="22.3" text-anchor="start" fill="#111" stroke="#111" stroke-width="0.3">e</text>
<path d="M118 395.6V519.5H240.5" fill="none" stroke="#111" stroke-width="1.3"/>
<line x1="113.8" y1="519.5" x2="118" y2="519.5" stroke="#111" stroke-width="1.2"/>
<text x="110.3" y="522.6" font-size="16.5" text-anchor="end" fill="#111" stroke="#111" stroke-width="0.3">0</text>
<line x1="113.8" y1="494.9" x2="118" y2="494.9" stroke="#111" stroke-width="1.2"/>
<text x="110.3" y="498" font-size="16.5" text-anchor="end" fill="#111" stroke="#111" stroke-width="0.3">10</text>
<line x1="113.8" y1="470.2" x2="118" y2="470.2" stroke="#111" stroke-width="1.2"/>
<text x="110.3" y="473.3" font-size="16.5" text-anchor="end" fill="#111" stroke="#111" stroke-width="0.3">20</text>
<line x1="113.8" y1="445.6" x2="118" y2="445.6" stroke="#111" stroke-width="1.2"/>
<text x="110.3" y="448.7" font-size="16.5" text-anchor="end" fill="#111" stroke="#111" stroke-width="0.3">30</text>
<line x1="113.8" y1="420.9" x2="118" y2="420.9" stroke="#111" stroke-width="1.2"/>
<text x="110.3" y="424" font-size="16.5" text-anchor="end" fill="#111" stroke="#111" stroke-width="0.3">40</text>
<line x1="113.8" y1="396.2" x2="118" y2="396.2" stroke="#111" stroke-width="1.2"/>
<text x="110.3" y="399.4" font-size="16.5" text-anchor="end" fill="#111" stroke="#111" stroke-width="0.3">50</text>
<line x1="132.5" y1="519.5" x2="132.5" y2="523.5" stroke="#111" stroke-width="1.2"/>
<line x1="162.8" y1="519.5" x2="162.8" y2="523.5" stroke="#111" stroke-width="1.2"/>
<line x1="193.8" y1="519.5" x2="193.8" y2="523.5" stroke="#111" stroke-width="1.2"/>
<line x1="224" y1="519.5" x2="224" y2="523.5" stroke="#111" stroke-width="1.2"/>
<text x="78" y="457" font-size="14.4" text-anchor="middle" fill="#111" stroke="#111" stroke-width="0.3" transform="rotate(-90 78 457)">% TUNEL<tspan dy="-5" dx="-0.5" font-size="8">+</tspan><tspan dy="5" dx="-1"> nuclei/field</tspan></text>
<line x1="122.5" y1="512.5" x2="143.8" y2="512.5" stroke="#1818b4" stroke-width="1.4"/>
<path d="M128.8 511.2H136.8M128.8 513.8H136.8M132.8 511.2V513.8" fill="none" stroke="#1818b4" stroke-width="1.2"/>
<circle cx="126.3" cy="510.5" r="3.2" fill="#1818b4" stroke="none" stroke-width="1"/>
<circle cx="132.5" cy="514.3" r="3.2" fill="#1818b4" stroke="none" stroke-width="1"/>
<circle cx="139.5" cy="512.6" r="3.2" fill="#1818b4" stroke="none" stroke-width="1"/>
<path d="M158.2 429H169.4M158.2 459.2H169.4M163.8 429V459.2" fill="none" stroke="#111" stroke-width="1.2"/>
<line x1="153" y1="444.3" x2="174.5" y2="444.3" stroke="#d8202a" stroke-width="1.4"/>
<rect x="160.7" y="410.9" width="6.3" height="6.3" fill="#d8202a" stroke="none" stroke-width="1"/>
<rect x="156.8" y="457.9" width="6.3" height="6.3" fill="#d8202a" stroke="none" stroke-width="1"/>
<rect x="163.8" y="454.4" width="6.3" height="6.3" fill="#d8202a" stroke="none" stroke-width="1"/>
<path d="M188.8 499H199.6M188.8 508.8H199.6M194.2 499V508.8" fill="none" stroke="#111" stroke-width="1.2"/>
<line x1="182.5" y1="503.8" x2="205" y2="503.8" stroke="#2eae3e" stroke-width="1.4"/>
<polygon points="194.3,491.9 190.7,498.5 197.9,498.5" fill="#2eae3e"/>
<polygon points="198,502.1 194.4,508.7 201.6,508.7" fill="#2eae3e"/>
<polygon points="190.5,507.1 186.9,513.7 194.1,513.7" fill="#2eae3e"/>
<path d="M219.8 509.5H230.2M219.8 514.3H230.2M225 509.5V514.3" fill="none" stroke="#111" stroke-width="1.2"/>
<line x1="214.3" y1="512" x2="235.8" y2="512" stroke="#9a2fc0" stroke-width="1.4"/>
<polygon points="225,511.5 221.4,504.9 228.6,504.9" fill="#9a2fc0"/>
<polygon points="228.2,514.9 224.6,508.3 231.8,508.3" fill="#9a2fc0"/>
<polygon points="221.3,518.5 217.7,511.9 224.9,511.9" fill="#9a2fc0"/>
<path d="M132.5 492V392H163V401.3" fill="none" stroke="#111" stroke-width="1.35"/>
<text x="148.8" y="393.2" font-size="15.5" text-anchor="middle" fill="#111" stroke="#111" stroke-width="0.45">**</text>
<path d="M164.2 388.8V382H194.5V466.3" fill="none" stroke="#111" stroke-width="1.35"/>
<text x="180" y="376" font-size="9.7" text-anchor="middle" fill="#111" stroke="#111" stroke-width="0.4">##</text>
<path d="M162.6 381.3V365.5H225V483" fill="none" stroke="#111" stroke-width="1.35"/>
<text x="193.8" y="362.2" font-size="9.7" text-anchor="middle" fill="#111" stroke="#111" stroke-width="0.4">##</text>
<text x="117" y="542.5" font-size="13.2" text-anchor="end" fill="#111" stroke="#111" stroke-width="0.3">DDP</text>
<text x="117.3" y="563.8" font-size="14.5" text-anchor="end" fill="#111" stroke="#111" stroke-width="0.3">CNPs (mg/kg)</text>
<text x="132.8" y="542.2" font-size="12.42" text-anchor="middle" fill="#111" stroke="#111" stroke-width="0.7">–</text>
<text x="162.8" y="542.2" font-size="12.555000000000001" text-anchor="middle" fill="#111" stroke="#111" stroke-width="0.55">+</text>
<text x="193.8" y="542.2" font-size="12.555000000000001" text-anchor="middle" fill="#111" stroke="#111" stroke-width="0.55">+</text>
<text x="224" y="542.2" font-size="12.555000000000001" text-anchor="middle" fill="#111" stroke="#111" stroke-width="0.55">+</text>
<text x="132.8" y="564.3" font-size="12.42" text-anchor="middle" fill="#111" stroke="#111" stroke-width="0.7">–</text>
<text x="163.1" y="564.3" font-size="12.42" text-anchor="middle" fill="#111" stroke="#111" stroke-width="0.7">–</text>
<text x="193.5" y="563.8" font-size="13.3" text-anchor="middle" fill="#111" stroke="#111" stroke-width="0.3">0.5</text>
<text x="224.5" y="563.8" font-size="13.3" text-anchor="middle" fill="#111" stroke="#111" stroke-width="0.3">1.5</text>
<text x="22.3" y="596" font-size="22.3" text-anchor="start" fill="#111" stroke="#111" stroke-width="0.3">f</text>
<path d="M54.1 775.5V632.2M48.4 641.5L54.1 632.2L59.8 641.5" fill="none" stroke="#111" stroke-width="1.35"/>
<path d="M53.5 775H184.8M175.6 769.4L184.9 775L175.6 780.6" fill="none" stroke="#111" stroke-width="1.35"/>
<text x="44.6" y="700.3" font-size="14.4" text-anchor="middle" fill="#111" stroke="#111" stroke-width="0.3" transform="rotate(-90 44.6 700.3)">Counts</text>
<text x="118.8" y="792.6" font-size="14.4" text-anchor="middle" fill="#111" stroke="#111" stroke-width="0.3">FITC Intensity</text>
<path d="M84.8 745L84.8 744.6L85.5 744.7L86.3 744.7L87 744.6L87.8 744.7L88.5 744.7L89.3 744.7L90 744.6L90.7 744.5L91.5 744.7L92.2 744.7L93 744.7L93.7 744.7L94.4 744.7L95.2 744.7L95.9 744.7L96.7 744.7L97.4 744.7L98.2 744.7L98.9 744.7L99.6 744.6L100.4 744.7L101.1 744.6L101.9 744.7L102.6 744.6L103.3 744.6L104.1 744.4L104.8 744.5L105.6 744.7L106.3 744.5L107.1 744.4L107.8 744.3L108.5 744.4L109.3 744.1L110 744.3L110.8 744.4L111.5 744.1L112.2 744L113 744.3L113.7 743.8L114.5 744L115.2 744.1L116 743.7L116.7 743.9L117.4 743.9L118.2 744L118.9 743.6L119.7 743.5L120.4 743.6L121.2 743.6L121.9 743.4L122.6 743.6L123.4 743.3L124.1 743.3L124.9 743.1L125.6 743L126.3 743.2L127.1 742.8L127.8 742.4L128.6 742.2L129.3 742.2L130.1 742.3L130.8 742.4L131.5 741.7L132.3 741.5L133 741.4L133.8 740.9L134.5 740.6L135.2 739.5L136 739L136.7 738.2L137.5 736.4L138.2 734.5L139 731.6L139.7 727.6L140.4 725.4L141.2 719.9L141.9 714.4L142.7 705.7L143.4 701.6L144.2 691.6L144.9 690L145.6 683.8L146.4 680.9L147.1 681.6L147.9 673.7L148.6 683.9L149.3 688.9L150.1 692L150.8 702.1L151.6 705.2L152.3 711.6L153.1 718.9L153.8 722.5L154.5 727.4L155.3 731.5L156 734.1L156.8 735.9L157.5 737.4L158.2 738.4L159 739L159.7 739.6L160.5 739.2L161.2 738.7L162 739.8L162.7 739.6L163.4 739.9L164.2 740L164.9 740.3L165.7 740.8L166.4 741.3L167.1 741L167.9 741.1L168.6 741.3L169.4 741.7L170.1 741.4L170.9 741.3L171.6 742L172.3 742.3L173.1 742L173.8 741.8L174.6 742.2L175.3 742.2L176.1 742.4L176.8 742.6L177.5 742.3L178.3 742.4L179 742.4L179.8 742.7L180.5 742.8L181.2 742.6L182 742.9L182.7 742.6L183.5 743L184.2 742.7L185 742.7L185.7 742.6L186.4 742.9L187.2 743L187.9 742.9L188.7 743.3L189.4 742.9L190.1 743L190.9 743.3L191.6 742.7L192.4 743.1L193.1 743.1L193.9 742.9L194.6 743L195.3 743.1L196.1 743.3L196.8 743.3L197.6 743L198.3 743L199 743.1L199.8 743.3L200.5 743L201.3 743.2L202 743.2L202.8 743.1L203.5 743.5L203.5 745Z" fill="#5a10d8" stroke="#1c0858" stroke-width="0.9" stroke-linejoin="round"/>
<path d="M127.5 692V708.6M127.5 700.3H203.3" fill="none" stroke="#111" stroke-width="1.2"/>
<rect x="83.8" y="615.8" width="120.7" height="129.2" fill="none" stroke="#111" stroke-width="1.4"/>
<line x1="83.3" y1="745" x2="205" y2="745" stroke="#111" stroke-width="1.5"/>
<path d="M83.8 745v5M92.9 745v3M98.2 745v3M102 745v3M104.9 745v3M107.3 745v3M109.3 745v3M111.1 745v3M112.6 745v3M114 745v5M123.1 745v3M128.4 745v3M132.1 745v3M135.1 745v3M137.5 745v3M139.5 745v3M141.2 745v3M142.8 745v3M144.2 745v5M153.2 745v3M158.5 745v3M162.3 745v3M165.2 745v3M167.6 745v3M169.7 745v3M171.4 745v3M172.9 745v3M174.3 745v5M183.4 745v3M188.7 745v3M192.5 745v3M195.4 745v3M197.8 745v3M199.8 745v3M201.6 745v3M203.1 745v3M204.5 745v5M83.8 745h-5M83.8 738.6h-3M83.8 732.2h-3M83.8 725.7h-3M83.8 719.3h-5M83.8 712.9h-3M83.8 706.5h-3M83.8 700.1h-3M83.8 693.6h-5M83.8 687.2h-3M83.8 680.8h-3M83.8 674.4h-3M83.8 668h-5M83.8 661.5h-3M83.8 655.1h-3M83.8 648.7h-3M83.8 642.3h-5M83.8 635.9h-3M83.8 629.4h-3M83.8 623h-3M83.8 616.6h-5" fill="none" stroke="#111" stroke-width="1"/>
<text x="84.1" y="764.1" font-size="11.7" text-anchor="middle" fill="#111" stroke="#111" stroke-width="0.3">10<tspan dy="-4.2" font-size="7.5">0</tspan></text>
<text x="114.3" y="764.1" font-size="11.7" text-anchor="middle" fill="#111" stroke="#111" stroke-width="0.3">10<tspan dy="-4.2" font-size="7.5">1</tspan></text>
<text x="144.5" y="764.1" font-size="11.7" text-anchor="middle" fill="#111" stroke="#111" stroke-width="0.3">10<tspan dy="-4.2" font-size="7.5">2</tspan></text>
<text x="174.6" y="764.1" font-size="11.7" text-anchor="middle" fill="#111" stroke="#111" stroke-width="0.3">10<tspan dy="-4.2" font-size="7.5">3</tspan></text>
<text x="204.8" y="764.1" font-size="11.7" text-anchor="middle" fill="#111" stroke="#111" stroke-width="0.3">10<tspan dy="-4.2" font-size="7.5">4</tspan></text>
<text x="75.4" y="745.9" font-size="11.9" text-anchor="middle" fill="#111" stroke="#111" stroke-width="0.3" transform="rotate(-90 75.4 745.9)">0</text>
<text x="75.4" y="720.2" font-size="11.9" text-anchor="middle" fill="#111" stroke="#111" stroke-width="0.3" transform="rotate(-90 75.4 720.2)">40</text>
<text x="75.4" y="694.5" font-size="11.9" text-anchor="middle" fill="#111" stroke="#111" stroke-width="0.3" transform="rotate(-90 75.4 694.5)">80</text>
<text x="75.4" y="668.9" font-size="11.9" text-anchor="middle" fill="#111" stroke="#111" stroke-width="0.3" transform="rotate(-90 75.4 668.9)">120</text>
<text x="75.4" y="643.2" font-size="11.9" text-anchor="middle" fill="#111" stroke="#111" stroke-width="0.3" transform="rotate(-90 75.4 643.2)">160</text>
<text x="75.4" y="617.5" font-size="11.9" text-anchor="middle" fill="#111" stroke="#111" stroke-width="0.3" transform="rotate(-90 75.4 617.5)">200</text>
<text x="148.3" y="603.7" font-size="14.4" text-anchor="middle" fill="#111" stroke="#111" stroke-width="0.3">Vehicle</text>
<text x="143.2" y="632.7" font-size="14.4" text-anchor="middle" fill="#111" stroke="#111" stroke-width="0.3">Mean: 131.39</text>
<path d="M238.3 745.4L238.3 744.9L239 745.1L239.8 745L240.5 745.1L241.3 745.1L242 745.1L242.7 745.1L243.5 744.9L244.2 745.1L245 745.1L245.7 745.1L246.4 745.1L247.2 745L247.9 745.1L248.7 745.1L249.4 745.1L250.1 744.9L250.9 745.1L251.6 745L252.4 744.9L253.1 745L253.8 744.9L254.6 745.1L255.3 745L256.1 745.1L256.8 744.9L257.5 745L258.3 745L259 745.1L259.8 744.9L260.5 745.1L261.3 745.1L262 745.1L262.7 745.1L263.5 745.1L264.2 745L265 745.1L265.7 745L266.4 745.1L267.2 744.7L267.9 745L268.7 744.5L269.4 744.7L270.1 744.6L270.9 744.3L271.6 743.9L272.4 743.8L273.1 743.6L273.8 743.1L274.6 742.9L275.3 742.9L276.1 742.4L276.8 742L277.5 741.9L278.3 741.9L279 741.3L279.8 741.2L280.5 741.2L281.2 740.6L282 740.9L282.7 740.2L283.5 740.6L284.2 740.5L284.9 739.7L285.7 739.4L286.4 739.4L287.2 739.8L287.9 739.6L288.6 739.9L289.4 739.5L290.1 739.5L290.9 739.8L291.6 739.4L292.3 739.6L293.1 740.1L293.8 740.3L294.6 740.4L295.3 740.1L296 739.7L296.8 739.4L297.5 740.1L298.3 739.9L299 739.4L299.8 739.3L300.5 739.1L301.2 739.3L302 738.4L302.7 737.5L303.5 737.5L304.2 736.6L304.9 735.2L305.7 734.4L306.4 733.4L307.2 730.9L307.9 730.8L308.6 729.3L309.4 728L310.1 727.4L310.9 724.1L311.6 723.1L312.3 721.6L313.1 718.7L313.8 720.5L314.6 719.1L315.3 714.6L316 716.9L316.8 714.1L317.5 714L318.3 714L319 711.6L319.7 712.7L320.5 711.9L321.2 710.9L322 709.3L322.7 712.7L323.4 713L324.2 710.9L324.9 712L325.7 712.7L326.4 713.7L327.1 716.4L327.9 716.1L328.6 718.4L329.4 718.1L330.1 719.8L330.8 723.6L331.6 724.5L332.3 725.9L333.1 726.1L333.8 728.1L334.5 730L335.3 732L336 733.4L336.8 732.7L337.5 734.6L338.3 736.1L339 736.3L339.7 737.4L340.5 738.5L341.2 738.3L342 739.8L342.7 740L343.4 740.3L344.2 740.9L344.9 741L345.7 741.9L346.4 742.3L347.1 742.2L347.9 742.7L348.6 742.9L349.4 742.8L350.1 743.2L350.8 743.4L351.6 743.5L352.3 743.5L353.1 743.8L353.8 743.9L354.5 743.9L355.3 744.3L356 744L356.8 744.2L357.5 744.2L357.5 745.4Z" fill="#5a10d8" stroke="#1c0858" stroke-width="0.9" stroke-linejoin="round"/>
<path d="M281.5 692.9V709.5M281.5 701.2H356.5" fill="none" stroke="#111" stroke-width="1.2"/>
<rect x="237.3" y="616.2" width="121.2" height="129.2" fill="none" stroke="#111" stroke-width="1.4"/>
<line x1="236.8" y1="745.4" x2="359" y2="745.4" stroke="#111" stroke-width="1.5"/>
<path d="M237.3 745.4v5M246.4 745.4v3M251.8 745.4v3M255.5 745.4v3M258.5 745.4v3M260.9 745.4v3M262.9 745.4v3M264.7 745.4v3M266.2 745.4v3M267.6 745.4v5M276.7 745.4v3M282.1 745.4v3M285.8 745.4v3M288.8 745.4v3M291.2 745.4v3M293.2 745.4v3M295 745.4v3M296.5 745.4v3M297.9 745.4v5M307 745.4v3M312.4 745.4v3M316.1 745.4v3M319.1 745.4v3M321.5 745.4v3M323.5 745.4v3M325.3 745.4v3M326.8 745.4v3M328.2 745.4v5M337.3 745.4v3M342.7 745.4v3M346.4 745.4v3M349.4 745.4v3M351.8 745.4v3M353.8 745.4v3M355.6 745.4v3M357.1 745.4v3M358.5 745.4v5M237.3 745.4h-5M237.3 739h-3M237.3 732.6h-3M237.3 726.1h-3M237.3 719.7h-5M237.3 713.3h-3M237.3 706.9h-3M237.3 700.5h-3M237.3 694h-5M237.3 687.6h-3M237.3 681.2h-3M237.3 674.8h-3M237.3 668.4h-5M237.3 661.9h-3M237.3 655.5h-3M237.3 649.1h-3M237.3 642.7h-5M237.3 636.3h-3M237.3 629.8h-3M237.3 623.4h-3M237.3 617h-5" fill="none" stroke="#111" stroke-width="1"/>
<text x="237.6" y="764.5" font-size="11.7" text-anchor="middle" fill="#111" stroke="#111" stroke-width="0.3">10<tspan dy="-4.2" font-size="7.5">0</tspan></text>
<text x="267.9" y="764.5" font-size="11.7" text-anchor="middle" fill="#111" stroke="#111" stroke-width="0.3">10<tspan dy="-4.2" font-size="7.5">1</tspan></text>
<text x="298.2" y="764.5" font-size="11.7" text-anchor="middle" fill="#111" stroke="#111" stroke-width="0.3">10<tspan dy="-4.2" font-size="7.5">2</tspan></text>
<text x="328.5" y="764.5" font-size="11.7" text-anchor="middle" fill="#111" stroke="#111" stroke-width="0.3">10<tspan dy="-4.2" font-size="7.5">3</tspan></text>
<text x="358.8" y="764.5" font-size="11.7" text-anchor="middle" fill="#111" stroke="#111" stroke-width="0.3">10<tspan dy="-4.2" font-size="7.5">4</tspan></text>
<text x="228.9" y="746.3" font-size="11.9" text-anchor="middle" fill="#111" stroke="#111" stroke-width="0.3" transform="rotate(-90 228.9 746.3)">0</text>
<text x="228.9" y="720.6" font-size="11.9" text-anchor="middle" fill="#111" stroke="#111" stroke-width="0.3" transform="rotate(-90 228.9 720.6)">40</text>
<text x="228.9" y="694.9" font-size="11.9" text-anchor="middle" fill="#111" stroke="#111" stroke-width="0.3" transform="rotate(-90 228.9 694.9)">80</text>
<text x="228.9" y="669.3" font-size="11.9" text-anchor="middle" fill="#111" stroke="#111" stroke-width="0.3" transform="rotate(-90 228.9 669.3)">120</text>
<text x="228.9" y="643.6" font-size="11.9" text-anchor="middle" fill="#111" stroke="#111" stroke-width="0.3" transform="rotate(-90 228.9 643.6)">160</text>
<text x="228.9" y="617.9" font-size="11.9" text-anchor="middle" fill="#111" stroke="#111" stroke-width="0.3" transform="rotate(-90 228.9 617.9)">200</text>
<text x="299.4" y="603.7" font-size="14.4" text-anchor="middle" fill="#111" stroke="#111" stroke-width="0.3">DDP</text>
<text x="296.6" y="632.7" font-size="14.4" text-anchor="middle" fill="#111" stroke="#111" stroke-width="0.3">Mean: 599.21</text>
<path d="M393.5 745L393.5 744.7L394.2 744.7L395 744.7L395.7 744.6L396.4 744.7L397.2 744.7L397.9 744.7L398.7 744.7L399.4 744.6L400.1 744.6L400.9 744.7L401.6 744.7L402.4 744.7L403.1 744.7L403.8 744.6L404.6 744.5L405.3 744.6L406 744.5L406.8 744.7L407.5 744.7L408.2 744.7L409 744.7L409.7 744.7L410.5 744.7L411.2 744.5L411.9 744.5L412.7 744.5L413.4 744.7L414.1 744.5L414.9 744.7L415.6 744.7L416.4 744.7L417.1 744.7L417.8 744.5L418.6 744.6L419.3 744.7L420.1 744.6L420.8 744.7L421.5 744.7L422.3 744.7L423 744.5L423.7 744.5L424.5 744.7L425.2 744.7L425.9 744.7L426.7 744.7L427.4 744.6L428.2 744.5L428.9 744.7L429.6 744.7L430.4 744.7L431.1 744.7L431.9 744.7L432.6 744.6L433.3 744.7L434.1 744.5L434.8 744.7L435.5 744.4L436.3 744.3L437 744.4L437.8 744.1L438.5 744L439.2 743.7L440 744L440.7 743.4L441.4 743.7L442.2 743.6L442.9 743.6L443.6 743.4L444.4 743.4L445.1 743.4L445.9 743L446.6 743.2L447.3 743L448.1 742.9L448.8 742.7L449.6 742.5L450.3 742L451 741.7L451.8 741.2L452.5 740.4L453.2 740.1L454 738.7L454.7 736.5L455.4 735.6L456.2 732.1L456.9 729.2L457.7 727.3L458.4 721.4L459.1 718.3L459.9 713.3L460.6 706L461.4 705.7L462.1 690.5L462.8 689.8L463.6 682.9L464.3 681.7L465 681.4L465.8 686.5L466.5 689.9L467.2 690.7L468 693.6L468.7 702.9L469.5 707.8L470.2 713.2L470.9 721.2L471.7 724.9L472.4 727.2L473.1 730.7L473.9 733.3L474.6 735.7L475.4 737.1L476.1 738.8L476.8 739.4L477.6 740.4L478.3 738.8L479.1 739.7L479.8 739.8L480.5 740.7L481.3 740.6L482 740.7L482.7 740.9L483.5 741.4L484.2 741.5L484.9 740.8L485.7 741.5L486.4 741.6L487.2 741.5L487.9 741.6L488.6 741.8L489.4 741.8L490.1 741.7L490.9 742.1L491.6 741.9L492.3 741.9L493.1 741.8L493.8 742.1L494.5 742L495.3 742L496 742.3L496.8 742.1L497.5 742.4L498.2 742.1L499 742.2L499.7 742L500.4 742.4L501.2 742.3L501.9 742.2L502.6 742.2L503.4 742.3L504.1 742.6L504.9 742.8L505.6 742.7L506.3 742.9L507.1 742.6L507.8 742.6L508.6 742.5L509.3 742.4L510 742.5L510.8 742.8L511.5 742.6L511.5 745Z" fill="#5a10d8" stroke="#1c0858" stroke-width="0.9" stroke-linejoin="round"/>
<path d="M435.5 692V708.6M435.5 700.3H510.8" fill="none" stroke="#111" stroke-width="1.2"/>
<rect x="392.5" y="616.2" width="120" height="128.8" fill="none" stroke="#111" stroke-width="1.4"/>
<line x1="392" y1="745" x2="513" y2="745" stroke="#111" stroke-width="1.5"/>
<path d="M392.5 745v5M401.5 745v3M406.8 745v3M410.6 745v3M413.5 745v3M415.8 745v3M417.9 745v3M419.6 745v3M421.1 745v3M422.5 745v5M431.5 745v3M436.8 745v3M440.6 745v3M443.5 745v3M445.8 745v3M447.9 745v3M449.6 745v3M451.1 745v3M452.5 745v5M461.5 745v3M466.8 745v3M470.6 745v3M473.5 745v3M475.8 745v3M477.9 745v3M479.6 745v3M481.1 745v3M482.5 745v5M491.5 745v3M496.8 745v3M500.6 745v3M503.5 745v3M505.8 745v3M507.9 745v3M509.6 745v3M511.1 745v3M512.5 745v5M392.5 745h-5M392.5 738.6h-3M392.5 732.2h-3M392.5 725.8h-3M392.5 719.4h-5M392.5 713h-3M392.5 706.6h-3M392.5 700.2h-3M392.5 693.8h-5M392.5 687.4h-3M392.5 681h-3M392.5 674.6h-3M392.5 668.2h-5M392.5 661.8h-3M392.5 655.4h-3M392.5 649h-3M392.5 642.6h-5M392.5 636.2h-3M392.5 629.8h-3M392.5 623.4h-3M392.5 617h-5" fill="none" stroke="#111" stroke-width="1"/>
<text x="392.8" y="764.1" font-size="11.7" text-anchor="middle" fill="#111" stroke="#111" stroke-width="0.3">10<tspan dy="-4.2" font-size="7.5">0</tspan></text>
<text x="422.8" y="764.1" font-size="11.7" text-anchor="middle" fill="#111" stroke="#111" stroke-width="0.3">10<tspan dy="-4.2" font-size="7.5">1</tspan></text>
<text x="452.8" y="764.1" font-size="11.7" text-anchor="middle" fill="#111" stroke="#111" stroke-width="0.3">10<tspan dy="-4.2" font-size="7.5">2</tspan></text>
<text x="482.8" y="764.1" font-size="11.7" text-anchor="middle" fill="#111" stroke="#111" stroke-width="0.3">10<tspan dy="-4.2" font-size="7.5">3</tspan></text>
<text x="512.8" y="764.1" font-size="11.7" text-anchor="middle" fill="#111" stroke="#111" stroke-width="0.3">10<tspan dy="-4.2" font-size="7.5">4</tspan></text>
<text x="384.1" y="745.9" font-size="11.9" text-anchor="middle" fill="#111" stroke="#111" stroke-width="0.3" transform="rotate(-90 384.1 745.9)">0</text>
<text x="384.1" y="720.3" font-size="11.9" text-anchor="middle" fill="#111" stroke="#111" stroke-width="0.3" transform="rotate(-90 384.1 720.3)">40</text>
<text x="384.1" y="694.7" font-size="11.9" text-anchor="middle" fill="#111" stroke="#111" stroke-width="0.3" transform="rotate(-90 384.1 694.7)">80</text>
<text x="384.1" y="669.1" font-size="11.9" text-anchor="middle" fill="#111" stroke="#111" stroke-width="0.3" transform="rotate(-90 384.1 669.1)">120</text>
<text x="384.1" y="643.5" font-size="11.9" text-anchor="middle" fill="#111" stroke="#111" stroke-width="0.3" transform="rotate(-90 384.1 643.5)">160</text>
<text x="384.1" y="617.9" font-size="11.9" text-anchor="middle" fill="#111" stroke="#111" stroke-width="0.3" transform="rotate(-90 384.1 617.9)">200</text>
<text x="454" y="603.7" font-size="14.4" text-anchor="middle" fill="#111" stroke="#111" stroke-width="0.3">DDP+CNPs</text>
<text x="452.9" y="632.7" font-size="14.4" text-anchor="middle" fill="#111" stroke="#111" stroke-width="0.3">Mean: 203.01</text>
<text x="540.8" y="590.8" font-size="23" text-anchor="start" fill="#111" stroke="#111" stroke-width="0.3">g</text>
<rect x="626.8" y="723.4" width="29.2" height="21.4" fill="#8e90f8" stroke="#12123c" stroke-width="1.3"/>
<rect x="669.4" y="647.4" width="29.2" height="97.4" fill="#f9a4a4" stroke="#3c1212" stroke-width="1.3"/>
<rect x="712.3" y="711.7" width="29.2" height="33.1" fill="#a4f9a0" stroke="#123c12" stroke-width="1.3"/>
<path d="M719.7 707.6H734.3M719.7 716.3H734.3M727 707.6V716.3" fill="none" stroke="#111" stroke-width="1.2"/>
<circle cx="633.8" cy="723.4" r="3" fill="#1a1a6e" stroke="#111" stroke-width="0.9"/>
<circle cx="641.3" cy="723.4" r="3" fill="#1a1a6e" stroke="#111" stroke-width="0.9"/>
<circle cx="649.1" cy="723.4" r="3" fill="#1a1a6e" stroke="#111" stroke-width="0.9"/>
<circle cx="676.3" cy="647.4" r="3" fill="#7c1f30" stroke="#111" stroke-width="0.9"/>
<circle cx="683.9" cy="647.4" r="3" fill="#7c1f30" stroke="#111" stroke-width="0.9"/>
<circle cx="691.4" cy="647.4" r="3" fill="#7c1f30" stroke="#111" stroke-width="0.9"/>
<circle cx="723.7" cy="706.7" r="3" fill="#2c7c3c" stroke="#111" stroke-width="0.9"/>
<circle cx="730.3" cy="708.6" r="3" fill="#2c7c3c" stroke="#111" stroke-width="0.9"/>
<circle cx="727" cy="720" r="3" fill="#2c7c3c" stroke="#111" stroke-width="0.9"/>
<path d="M620.7 615.6V744.8H749.8" fill="none" stroke="#111" stroke-width="1.4"/>
<line x1="615.7" y1="744.8" x2="620.7" y2="744.8" stroke="#111" stroke-width="1.3"/>
<text x="613.1" y="748.7" font-size="15" text-anchor="end" fill="#111" stroke="#111" stroke-width="0.3">0</text>
<line x1="615.7" y1="701.9" x2="620.7" y2="701.9" stroke="#111" stroke-width="1.3"/>
<text x="613.1" y="705.8" font-size="15" text-anchor="end" fill="#111" stroke="#111" stroke-width="0.3">2</text>
<line x1="615.7" y1="659.1" x2="620.7" y2="659.1" stroke="#111" stroke-width="1.3"/>
<text x="613.1" y="663" font-size="15" text-anchor="end" fill="#111" stroke="#111" stroke-width="0.3">4</text>
<line x1="615.7" y1="616.2" x2="620.7" y2="616.2" stroke="#111" stroke-width="1.3"/>
<text x="613.1" y="620.1" font-size="15" text-anchor="end" fill="#111" stroke="#111" stroke-width="0.3">6</text>
<line x1="641.3" y1="744.8" x2="641.3" y2="749" stroke="#111" stroke-width="1.3"/>
<line x1="683.9" y1="744.8" x2="683.9" y2="749" stroke="#111" stroke-width="1.3"/>
<line x1="726.5" y1="744.8" x2="726.5" y2="749" stroke="#111" stroke-width="1.3"/>
<text x="574.9" y="680.3" font-size="14.05" text-anchor="middle" fill="#111" stroke="#111" stroke-width="0.3" transform="rotate(-90 574.9 680.3)">Cell ROS level</text>
<text x="592.3" y="680.2" font-size="14.2" text-anchor="middle" fill="#111" stroke="#111" stroke-width="0.3" transform="rotate(-90 592.3 680.2)">(fold change of vehicle)</text>
<path d="M632.9 720.6V615.6H683.3V639" fill="none" stroke="#111" stroke-width="1.35"/>
<text x="660.2" y="616" font-size="15.5" text-anchor="middle" fill="#111" stroke="#111" stroke-width="0.45">***</text>
<path d="M683.9 616V605H726.5V694.1" fill="none" stroke="#111" stroke-width="1.35"/>
<text x="704.7" y="601.2" font-size="9.7" text-anchor="middle" fill="#111" stroke="#111" stroke-width="0.4">###</text>
<text x="620.7" y="774.8" font-size="13.2" text-anchor="end" fill="#111" stroke="#111" stroke-width="0.3">DDP</text>
<text x="620.7" y="793.8" font-size="13.3" text-anchor="end" fill="#111" stroke="#111" stroke-width="0.3">CNPs</text>
<text x="641.6" y="774.8" font-size="12.42" text-anchor="middle" fill="#111" stroke="#111" stroke-width="0.7">–</text>
<text x="683.9" y="774.8" font-size="12.555000000000001" text-anchor="middle" fill="#111" stroke="#111" stroke-width="0.55">+</text>
<text x="726.5" y="774.8" font-size="12.555000000000001" text-anchor="middle" fill="#111" stroke="#111" stroke-width="0.55">+</text>
<text x="641.6" y="793.8" font-size="12.42" text-anchor="middle" fill="#111" stroke="#111" stroke-width="0.7">–</text>
<text x="684.2" y="793.8" font-size="12.42" text-anchor="middle" fill="#111" stroke="#111" stroke-width="0.7">–</text>
<text x="726.5" y="793.8" font-size="12.555000000000001" text-anchor="middle" fill="#111" stroke="#111" stroke-width="0.55">+</text>
<text x="22.6" y="823.9" font-size="22.5" text-anchor="start" fill="#111" stroke="#111" stroke-width="0.3">h</text>
<path d="M76.3 859V985.5H160.5" fill="none" stroke="#111" stroke-width="1.3"/>
<line x1="72.3" y1="985.5" x2="76.3" y2="985.5" stroke="#111" stroke-width="1.2"/>
<text x="72.8" y="989.3" font-size="14.8" text-anchor="end" fill="#111" stroke="#111" stroke-width="0.3">0</text>
<line x1="72.3" y1="954" x2="76.3" y2="954" stroke="#111" stroke-width="1.2"/>
<text x="72.8" y="957.8" font-size="14.8" text-anchor="end" fill="#111" stroke="#111" stroke-width="0.3">20</text>
<line x1="72.3" y1="922.5" x2="76.3" y2="922.5" stroke="#111" stroke-width="1.2"/>
<text x="72.8" y="926.3" font-size="14.8" text-anchor="end" fill="#111" stroke="#111" stroke-width="0.3">40</text>
<line x1="72.3" y1="891" x2="76.3" y2="891" stroke="#111" stroke-width="1.2"/>
<text x="72.8" y="894.8" font-size="14.8" text-anchor="end" fill="#111" stroke="#111" stroke-width="0.3">60</text>
<line x1="72.3" y1="859.5" x2="76.3" y2="859.5" stroke="#111" stroke-width="1.2"/>
<text x="72.8" y="863.3" font-size="14.8" text-anchor="end" fill="#111" stroke="#111" stroke-width="0.3">80</text>
<line x1="89.5" y1="985.5" x2="89.5" y2="989.5" stroke="#111" stroke-width="1.2"/>
<line x1="118.3" y1="985.5" x2="118.3" y2="989.5" stroke="#111" stroke-width="1.2"/>
<line x1="146.8" y1="985.5" x2="146.8" y2="989.5" stroke="#111" stroke-width="1.2"/>
<text x="35.1" y="924.3" font-size="14.2" text-anchor="middle" fill="#111" stroke="#111" stroke-width="0.3" transform="rotate(-90 35.1 924.3)">Cell SOD activity</text>
<text x="52.3" y="928.4" font-size="14.2" text-anchor="middle" fill="#111" stroke="#111" stroke-width="0.3" transform="rotate(-90 52.3 928.4)">(U/mg protein)</text>
<path d="M85.4 893H95M85.4 904.5H95M90.2 893V904.5" fill="none" stroke="#0c0c50" stroke-width="1.2"/>
<line x1="80.5" y1="898.8" x2="100" y2="898.8" stroke="#1818b4" stroke-width="1.4"/>
<circle cx="86.3" cy="891.3" r="3" fill="#1818b4" stroke="none" stroke-width="1"/>
<circle cx="93" cy="893" r="3" fill="#1818b4" stroke="none" stroke-width="1"/>
<circle cx="90" cy="910.8" r="3" fill="#1818b4" stroke="none" stroke-width="1"/>
<path d="M113.1 921.8H123.3M113.1 937.5H123.3M118.2 921.8V937.5" fill="none" stroke="#111" stroke-width="1.2"/>
<line x1="108.3" y1="929.5" x2="128" y2="929.5" stroke="#d8202a" stroke-width="1.4"/>
<rect x="115.3" y="911.3" width="5.9" height="5.9" fill="#d8202a" stroke="none" stroke-width="1"/>
<rect x="112" y="935" width="5.9" height="5.9" fill="#d8202a" stroke="none" stroke-width="1"/>
<rect x="117.8" y="934.5" width="5.9" height="5.9" fill="#d8202a" stroke="none" stroke-width="1"/>
<path d="M141.8 898H150.8M141.8 901H150.8M146.3 898V901" fill="none" stroke="#111" stroke-width="1.2"/>
<line x1="136.8" y1="899.3" x2="155.8" y2="899.3" stroke="#2eae3e" stroke-width="1.4"/>
<polygon points="140,893.6 136.6,899.8 143.4,899.8" fill="#2eae3e"/>
<polygon points="146.3,897.1 142.9,903.3 149.7,903.3" fill="#2eae3e"/>
<polygon points="152.5,896.5 149.1,902.7 155.9,902.7" fill="#2eae3e"/>
<path d="M89.5 883.8V876.3H119.3V906.3" fill="none" stroke="#111" stroke-width="1.35"/>
<text x="104.3" y="875.7" font-size="15.5" text-anchor="middle" fill="#111" stroke="#111" stroke-width="0.45">*</text>
<path d="M118 876.3V866.3H146.3V893.8" fill="none" stroke="#111" stroke-width="1.35"/>
<text x="133" y="861.8" font-size="9.7" text-anchor="middle" fill="#111" stroke="#111" stroke-width="0.4">#</text>
<text x="72.6" y="1005.2" font-size="14.5" text-anchor="end" fill="#111" stroke="#111" stroke-width="0.3">DDP</text>
<text x="72.6" y="1027.5" font-size="14.5" text-anchor="end" fill="#111" stroke="#111" stroke-width="0.3">CNPs</text>
<text x="89.8" y="1006.3" font-size="12.88" text-anchor="middle" fill="#111" stroke="#111" stroke-width="0.7">–</text>
<text x="118.3" y="1006.3" font-size="13.020000000000001" text-anchor="middle" fill="#111" stroke="#111" stroke-width="0.55">+</text>
<text x="146.8" y="1006.3" font-size="13.020000000000001" text-anchor="middle" fill="#111" stroke="#111" stroke-width="0.55">+</text>
<text x="89.8" y="1028.3" font-size="12.88" text-anchor="middle" fill="#111" stroke="#111" stroke-width="0.7">–</text>
<text x="118.6" y="1028.3" font-size="12.88" text-anchor="middle" fill="#111" stroke="#111" stroke-width="0.7">–</text>
<text x="146.8" y="1028.3" font-size="13.020000000000001" text-anchor="middle" fill="#111" stroke="#111" stroke-width="0.55">+</text>
<text x="179.9" y="823.9" font-size="22.5" text-anchor="start" fill="#111" stroke="#111" stroke-width="0.3">i</text>
<path d="M249.5 859V985.5H348" fill="none" stroke="#111" stroke-width="1.3"/>
<line x1="245.5" y1="985.5" x2="249.5" y2="985.5" stroke="#111" stroke-width="1.2"/>
<text x="245" y="989.3" font-size="14.8" text-anchor="end" fill="#111" stroke="#111" stroke-width="0.3">0.0</text>
<line x1="245.5" y1="960.3" x2="249.5" y2="960.3" stroke="#111" stroke-width="1.2"/>
<text x="245" y="964.1" font-size="14.8" text-anchor="end" fill="#111" stroke="#111" stroke-width="0.3">0.5</text>
<line x1="245.5" y1="935.1" x2="249.5" y2="935.1" stroke="#111" stroke-width="1.2"/>
<text x="245" y="938.9" font-size="14.8" text-anchor="end" fill="#111" stroke="#111" stroke-width="0.3">1.0</text>
<line x1="245.5" y1="909.9" x2="249.5" y2="909.9" stroke="#111" stroke-width="1.2"/>
<text x="245" y="913.7" font-size="14.8" text-anchor="end" fill="#111" stroke="#111" stroke-width="0.3">1.5</text>
<line x1="245.5" y1="884.7" x2="249.5" y2="884.7" stroke="#111" stroke-width="1.2"/>
<text x="245" y="888.5" font-size="14.8" text-anchor="end" fill="#111" stroke="#111" stroke-width="0.3">2.0</text>
<line x1="245.5" y1="859.5" x2="249.5" y2="859.5" stroke="#111" stroke-width="1.2"/>
<text x="245" y="863.3" font-size="14.8" text-anchor="end" fill="#111" stroke="#111" stroke-width="0.3">2.5</text>
<line x1="264" y1="985.5" x2="264" y2="989.5" stroke="#111" stroke-width="1.2"/>
<line x1="294.5" y1="985.5" x2="294.5" y2="989.5" stroke="#111" stroke-width="1.2"/>
<line x1="324.3" y1="985.5" x2="324.3" y2="989.5" stroke="#111" stroke-width="1.2"/>
<text x="199.7" y="918.5" font-size="14.6" text-anchor="middle" fill="#111" stroke="#111" stroke-width="0.3" transform="rotate(-90 199.7 918.5)">Cell MDA level</text>
<text x="215.6" y="919" font-size="14.6" text-anchor="middle" fill="#111" stroke="#111" stroke-width="0.3" transform="rotate(-90 215.6 919)">(μmol/g protein)</text>
<path d="M259.8 932H268.2M259.8 940.2H268.2M264 932V940.2" fill="none" stroke="#0c0c50" stroke-width="1.2"/>
<line x1="253.8" y1="936.3" x2="273.8" y2="936.3" stroke="#1818b4" stroke-width="1.4"/>
<circle cx="263.8" cy="927.5" r="3" fill="#1818b4" stroke="none" stroke-width="1"/>
<circle cx="260.5" cy="941.3" r="3" fill="#1818b4" stroke="none" stroke-width="1"/>
<circle cx="267" cy="939.3" r="3" fill="#1818b4" stroke="none" stroke-width="1"/>
<rect x="291.6" y="878.3" width="5.9" height="5.9" fill="#d8202a" stroke="none" stroke-width="1"/>
<rect x="291.6" y="887" width="5.9" height="5.9" fill="#d8202a" stroke="none" stroke-width="1"/>
<rect x="291.6" y="895.8" width="5.9" height="5.9" fill="#d8202a" stroke="none" stroke-width="1"/>
<line x1="284.5" y1="890.8" x2="304.5" y2="890.8" stroke="#d8202a" stroke-width="1.4"/>
<path d="M289.5 885.5H299.9M289.5 895.8H299.9M294.7 885.5V895.8" fill="none" stroke="#111" stroke-width="1.2"/>
<polygon points="324.3,919.9 320.9,926.1 327.7,926.1" fill="#2eae3e"/>
<polygon points="324.3,927.6 320.9,933.8 327.7,933.8" fill="#2eae3e"/>
<polygon points="324.3,935.8 320.9,942 327.7,942" fill="#2eae3e"/>
<line x1="313.8" y1="930.5" x2="334.3" y2="930.5" stroke="#2eae3e" stroke-width="1.4"/>
<path d="M319.2 925.5H329.4M319.2 935.5H329.4M324.3 925.5V935.5" fill="none" stroke="#111" stroke-width="1.2"/>
<path d="M263.8 922.5V870H294.3V876.3" fill="none" stroke="#111" stroke-width="1.35"/>
<text x="280" y="870.2" font-size="15.5" text-anchor="middle" fill="#111" stroke="#111" stroke-width="0.45">**</text>
<path d="M294.3 870.4V861.3H324.3V911.3" fill="none" stroke="#111" stroke-width="1.35"/>
<text x="309.5" y="858.8" font-size="9.7" text-anchor="middle" fill="#111" stroke="#111" stroke-width="0.4">##</text>
<text x="244.5" y="1005" font-size="14.4" text-anchor="end" fill="#111" stroke="#111" stroke-width="0.3">DDP</text>
<text x="244.5" y="1027.5" font-size="14.3" text-anchor="end" fill="#111" stroke="#111" stroke-width="0.3">CNPs</text>
<text x="264.3" y="1006.3" font-size="12.88" text-anchor="middle" fill="#111" stroke="#111" stroke-width="0.7">–</text>
<text x="294.5" y="1006.3" font-size="13.020000000000001" text-anchor="middle" fill="#111" stroke="#111" stroke-width="0.55">+</text>
<text x="324.3" y="1006.3" font-size="13.020000000000001" text-anchor="middle" fill="#111" stroke="#111" stroke-width="0.55">+</text>
<text x="264.3" y="1028.3" font-size="12.88" text-anchor="middle" fill="#111" stroke="#111" stroke-width="0.7">–</text>
<text x="294.8" y="1028.3" font-size="12.88" text-anchor="middle" fill="#111" stroke="#111" stroke-width="0.7">–</text>
<text x="324.3" y="1028.3" font-size="13.020000000000001" text-anchor="middle" fill="#111" stroke="#111" stroke-width="0.55">+</text>
<text x="365.8" y="823.3" font-size="23.3" text-anchor="start" fill="#111" stroke="#111" stroke-width="0.3">j</text>
<rect x="420.5" y="918.2" width="23.3" height="67.7" fill="#8e90f8" stroke="#12123c" stroke-width="1.3"/>
<rect x="453.8" y="972.4" width="23" height="13.5" fill="#f9a4a4" stroke="#3c1212" stroke-width="1.3"/>
<rect x="486.8" y="912" width="23" height="73.9" fill="#a4f9a0" stroke="#123c12" stroke-width="1.3"/>
<rect x="519.5" y="897.1" width="23" height="88.8" fill="#dc88f8" stroke="#30123c" stroke-width="1.3"/>
<path d="M427.8 914.6H436.8M427.8 921.4H436.8M432.3 914.6V921.4" fill="none" stroke="#111" stroke-width="1.2"/>
<path d="M492.9 903.9H503.7M492.9 919.8H503.7M498.3 903.9V919.8" fill="none" stroke="#111" stroke-width="1.2"/>
<path d="M525.8 892H536.6M525.8 902.2H536.6M531.2 892V902.2" fill="none" stroke="#111" stroke-width="1.2"/>
<circle cx="428.1" cy="922.3" r="3" fill="#1a1a6e" stroke="#111" stroke-width="0.9"/>
<circle cx="432.7" cy="914.2" r="3" fill="#1a1a6e" stroke="#111" stroke-width="0.9"/>
<circle cx="436.2" cy="918.3" r="3" fill="#1a1a6e" stroke="#111" stroke-width="0.9"/>
<circle cx="457.8" cy="972.4" r="3" fill="#7c1f30" stroke="#111" stroke-width="0.9"/>
<circle cx="465.2" cy="972.4" r="3" fill="#7c1f30" stroke="#111" stroke-width="0.9"/>
<circle cx="472.2" cy="972.4" r="3" fill="#7c1f30" stroke="#111" stroke-width="0.9"/>
<circle cx="498.4" cy="896.1" r="3" fill="#2c7c3c" stroke="#111" stroke-width="0.9"/>
<circle cx="494.4" cy="922.3" r="3" fill="#2c7c3c" stroke="#111" stroke-width="0.9"/>
<circle cx="502" cy="917.7" r="3" fill="#2c7c3c" stroke="#111" stroke-width="0.9"/>
<circle cx="531.5" cy="887.7" r="3" fill="#6a2a8a" stroke="#111" stroke-width="0.9"/>
<circle cx="527.4" cy="904.7" r="3" fill="#6a2a8a" stroke="#111" stroke-width="0.9"/>
<circle cx="535" cy="899.3" r="3" fill="#6a2a8a" stroke="#111" stroke-width="0.9"/>
<path d="M416.5 850V985.9H547.2" fill="none" stroke="#111" stroke-width="1.4"/>
<line x1="411.9" y1="985.9" x2="416.5" y2="985.9" stroke="#111" stroke-width="1.3"/>
<text x="410.4" y="990" font-size="14.8" text-anchor="end" fill="#111" stroke="#111" stroke-width="0.3">0.0</text>
<line x1="411.9" y1="952.1" x2="416.5" y2="952.1" stroke="#111" stroke-width="1.3"/>
<text x="410.4" y="956.2" font-size="14.8" text-anchor="end" fill="#111" stroke="#111" stroke-width="0.3">0.5</text>
<line x1="411.9" y1="918.2" x2="416.5" y2="918.2" stroke="#111" stroke-width="1.3"/>
<text x="410.4" y="922.3" font-size="14.8" text-anchor="end" fill="#111" stroke="#111" stroke-width="0.3">1.0</text>
<line x1="411.9" y1="884.4" x2="416.5" y2="884.4" stroke="#111" stroke-width="1.3"/>
<text x="410.4" y="888.5" font-size="14.8" text-anchor="end" fill="#111" stroke="#111" stroke-width="0.3">1.5</text>
<line x1="411.9" y1="850.6" x2="416.5" y2="850.6" stroke="#111" stroke-width="1.3"/>
<text x="410.4" y="854.7" font-size="14.8" text-anchor="end" fill="#111" stroke="#111" stroke-width="0.3">2.0</text>
<line x1="432.1" y1="985.9" x2="432.1" y2="990.1" stroke="#111" stroke-width="1.3"/>
<line x1="465.2" y1="985.9" x2="465.2" y2="990.1" stroke="#111" stroke-width="1.3"/>
<line x1="497.9" y1="985.9" x2="497.9" y2="990.1" stroke="#111" stroke-width="1.3"/>
<line x1="530.9" y1="985.9" x2="530.9" y2="990.1" stroke="#111" stroke-width="1.3"/>
<text x="385.6" y="914.5" font-size="14.5" text-anchor="middle" fill="#111" stroke="#111" stroke-width="0.3" transform="rotate(-90 385.6 914.5)">Relative <tspan font-style="italic">HO-1</tspan> expression</text>
<path d="M432.7 903.4V896.1H464.6V950.7" fill="none" stroke="#111" stroke-width="1.35"/>
<text x="448.4" y="896.7" font-size="15.5" text-anchor="middle" fill="#111" stroke="#111" stroke-width="0.45">***</text>
<path d="M465.2 896.5V878.5H497.9V884.4" fill="none" stroke="#111" stroke-width="1.35"/>
<text x="481.4" y="874" font-size="9.7" text-anchor="middle" fill="#111" stroke="#111" stroke-width="0.4">###</text>
<path d="M464.6 879V862.8H530.9V875" fill="none" stroke="#111" stroke-width="1.35"/>
<text x="498.4" y="858" font-size="9.7" text-anchor="middle" fill="#111" stroke="#111" stroke-width="0.4">###</text>
<text x="412.6" y="1005.4" font-size="13.3" text-anchor="end" fill="#111" stroke="#111" stroke-width="0.3">DDP</text>
<text x="415" y="1027.9" font-size="14.2" text-anchor="end" fill="#111" stroke="#111" stroke-width="0.3">CNPs</text>
<text x="414.8" y="1041.4" font-size="14.3" text-anchor="end" fill="#111" stroke="#111" stroke-width="0.3">(mg/kg)</text>
<text x="432.4" y="1006.3" font-size="12.88" text-anchor="middle" fill="#111" stroke="#111" stroke-width="0.7">–</text>
<text x="465.2" y="1006.3" font-size="13.020000000000001" text-anchor="middle" fill="#111" stroke="#111" stroke-width="0.55">+</text>
<text x="497.9" y="1006.3" font-size="13.020000000000001" text-anchor="middle" fill="#111" stroke="#111" stroke-width="0.55">+</text>
<text x="530.9" y="1006.3" font-size="13.020000000000001" text-anchor="middle" fill="#111" stroke="#111" stroke-width="0.55">+</text>
<text x="432.4" y="1028.8" font-size="12.88" text-anchor="middle" fill="#111" stroke="#111" stroke-width="0.7">–</text>
<text x="465.5" y="1028.8" font-size="12.88" text-anchor="middle" fill="#111" stroke="#111" stroke-width="0.7">–</text>
<text x="497.3" y="1027.9" font-size="14.4" text-anchor="middle" fill="#111" stroke="#111" stroke-width="0.3">0.5</text>
<text x="531" y="1027.9" font-size="14.4" text-anchor="middle" fill="#111" stroke="#111" stroke-width="0.3">1.5</text>
<text x="562.5" y="823.6" font-size="23.8" text-anchor="start" fill="#111" stroke="#111" stroke-width="0.3">k</text>
<rect x="626.5" y="916.9" width="22.5" height="67.4" fill="#8e90f8" stroke="#12123c" stroke-width="1.3"/>
<rect x="659" y="881.2" width="22.7" height="103.1" fill="#f9a4a4" stroke="#3c1212" stroke-width="1.3"/>
<rect x="692.3" y="898.3" width="22.2" height="86" fill="#a4f9a0" stroke="#123c12" stroke-width="1.3"/>
<rect x="725" y="914.5" width="22.8" height="69.8" fill="#dc88f8" stroke="#30123c" stroke-width="1.3"/>
<path d="M633.3 914H642.3M633.3 920.5H642.3M637.8 914V920.5" fill="none" stroke="#111" stroke-width="1.2"/>
<path d="M664.6 874.1H676.6M664.6 888.3H676.6M670.6 874.1V888.3" fill="none" stroke="#111" stroke-width="1.2"/>
<path d="M698.1 894.6H708.5M698.1 901.7H708.5M703.3 894.6V901.7" fill="none" stroke="#111" stroke-width="1.2"/>
<circle cx="637.6" cy="911.1" r="3" fill="#1a1a6e" stroke="#111" stroke-width="0.9"/>
<circle cx="633.9" cy="921.1" r="3" fill="#1a1a6e" stroke="#111" stroke-width="0.9"/>
<circle cx="641.3" cy="918.2" r="3" fill="#1a1a6e" stroke="#111" stroke-width="0.9"/>
<circle cx="670.3" cy="867" r="3" fill="#7c1f30" stroke="#111" stroke-width="0.9"/>
<circle cx="666.6" cy="890.6" r="3" fill="#7c1f30" stroke="#111" stroke-width="0.9"/>
<circle cx="674.6" cy="887.5" r="3" fill="#7c1f30" stroke="#111" stroke-width="0.9"/>
<circle cx="703.1" cy="891.2" r="3" fill="#2c7c3c" stroke="#111" stroke-width="0.9"/>
<circle cx="699.4" cy="902.6" r="3" fill="#2c7c3c" stroke="#111" stroke-width="0.9"/>
<circle cx="707.4" cy="900.6" r="3" fill="#2c7c3c" stroke="#111" stroke-width="0.9"/>
<circle cx="729.3" cy="914.5" r="3" fill="#6a2a8a" stroke="#111" stroke-width="0.9"/>
<circle cx="736.4" cy="915.4" r="3" fill="#6a2a8a" stroke="#111" stroke-width="0.9"/>
<circle cx="743.5" cy="914.5" r="3" fill="#6a2a8a" stroke="#111" stroke-width="0.9"/>
<path d="M621.8 848.7V984.3H751.5" fill="none" stroke="#111" stroke-width="1.4"/>
<line x1="617.2" y1="984.3" x2="621.8" y2="984.3" stroke="#111" stroke-width="1.3"/>
<text x="615.8" y="988.1" font-size="14.4" text-anchor="end" fill="#111" stroke="#111" stroke-width="0.3">0.0</text>
<line x1="617.2" y1="950.5" x2="621.8" y2="950.5" stroke="#111" stroke-width="1.3"/>
<text x="615.8" y="954.3" font-size="14.4" text-anchor="end" fill="#111" stroke="#111" stroke-width="0.3">0.5</text>
<line x1="617.2" y1="916.8" x2="621.8" y2="916.8" stroke="#111" stroke-width="1.3"/>
<text x="615.8" y="920.6" font-size="14.4" text-anchor="end" fill="#111" stroke="#111" stroke-width="0.3">1.0</text>
<line x1="617.2" y1="883" x2="621.8" y2="883" stroke="#111" stroke-width="1.3"/>
<text x="615.8" y="886.8" font-size="14.4" text-anchor="end" fill="#111" stroke="#111" stroke-width="0.3">1.5</text>
<line x1="617.2" y1="849.3" x2="621.8" y2="849.3" stroke="#111" stroke-width="1.3"/>
<text x="615.8" y="853.1" font-size="14.4" text-anchor="end" fill="#111" stroke="#111" stroke-width="0.3">2.0</text>
<line x1="637.6" y1="984.3" x2="637.6" y2="988.5" stroke="#111" stroke-width="1.3"/>
<line x1="670.3" y1="984.3" x2="670.3" y2="988.5" stroke="#111" stroke-width="1.3"/>
<line x1="703.1" y1="984.3" x2="703.1" y2="988.5" stroke="#111" stroke-width="1.3"/>
<line x1="736.4" y1="984.3" x2="736.4" y2="988.5" stroke="#111" stroke-width="1.3"/>
<text x="588.8" y="911.4" font-size="14.5" text-anchor="middle" fill="#111" stroke="#111" stroke-width="0.3" transform="rotate(-90 588.8 911.4)">Relative <tspan font-style="italic">NOX2</tspan> expression</text>
<path d="M637 898.3V855H669.8V858.4" fill="none" stroke="#111" stroke-width="1.35"/>
<text x="654.1" y="854.2" font-size="15.5" text-anchor="middle" fill="#111" stroke="#111" stroke-width="0.45">**</text>
<path d="M670.3 855.4V844.7H735.8V901.7" fill="none" stroke="#111" stroke-width="1.35"/>
<text x="701.7" y="840.7" font-size="9.7" text-anchor="middle" fill="#111" stroke="#111" stroke-width="0.4">##</text>
<text x="622.5" y="1005.1" font-size="13.8" text-anchor="end" fill="#111" stroke="#111" stroke-width="0.3">DDP</text>
<text x="619" y="1027.9" font-size="14.2" text-anchor="end" fill="#111" stroke="#111" stroke-width="0.3">CNPs</text>
<text x="622.7" y="1042.1" font-size="14.3" text-anchor="end" fill="#111" stroke="#111" stroke-width="0.3">(mg/kg)</text>
<text x="637.9" y="1005.4" font-size="12.88" text-anchor="middle" fill="#111" stroke="#111" stroke-width="0.7">–</text>
<text x="670.3" y="1005.4" font-size="13.020000000000001" text-anchor="middle" fill="#111" stroke="#111" stroke-width="0.55">+</text>
<text x="703.1" y="1005.4" font-size="13.020000000000001" text-anchor="middle" fill="#111" stroke="#111" stroke-width="0.55">+</text>
<text x="736.4" y="1005.4" font-size="13.020000000000001" text-anchor="middle" fill="#111" stroke="#111" stroke-width="0.55">+</text>
<text x="637.9" y="1028.6" font-size="12.88" text-anchor="middle" fill="#111" stroke="#111" stroke-width="0.7">–</text>
<text x="670.6" y="1028.6" font-size="12.88" text-anchor="middle" fill="#111" stroke="#111" stroke-width="0.7">–</text>
<text x="705" y="1027.9" font-size="14.4" text-anchor="middle" fill="#111" stroke="#111" stroke-width="0.3">0.5</text>
<text x="738.7" y="1027.9" font-size="14.4" text-anchor="middle" fill="#111" stroke="#111" stroke-width="0.3">1.5</text>
<rect x="774.8" y="0" width="1.2" height="1049" fill="#000" stroke="none" stroke-width="1"/>
</svg>
</body></html>
